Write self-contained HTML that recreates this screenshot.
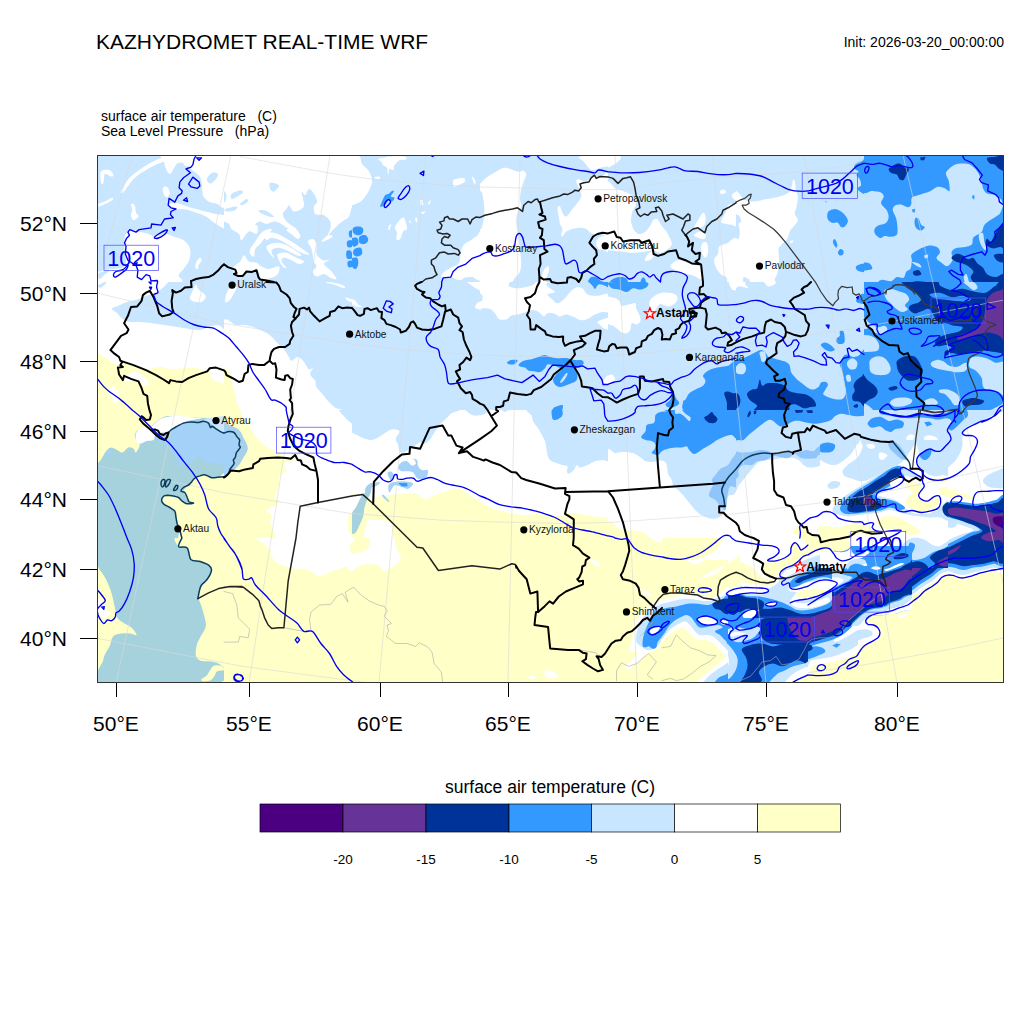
<!DOCTYPE html>
<html><head><meta charset="utf-8"><title>KAZHYDROMET REAL-TIME WRF</title>
<style>
html,body{margin:0;padding:0;background:#fff;}
body{width:1024px;height:1024px;overflow:hidden;position:relative;font-family:"Liberation Sans",sans-serif;}
svg{position:absolute;left:0;top:0;}
text{font-family:"Liberation Sans",sans-serif;}
</style></head><body>
<svg width="1024" height="1024" viewBox="0 0 1024 1024">
<defs><clipPath id="mapclip"><rect x="97" y="155" width="907" height="528"/></clipPath></defs>
<rect x="0" y="0" width="1024" height="1024" fill="#fff"/>
<g clip-path="url(#mapclip)">
<defs>
<clipPath id="t1"><rect x="96.0" y="154.0" width="128.0" height="128.0"/></clipPath>
<clipPath id="t2"><rect x="224.0" y="154.0" width="128.0" height="128.0"/></clipPath>
<clipPath id="t3"><rect x="352.0" y="154.0" width="128.0" height="128.0"/></clipPath>
<clipPath id="t4"><rect x="480.0" y="154.0" width="128.0" height="128.0"/></clipPath>
<clipPath id="t5"><rect x="608.0" y="154.0" width="128.0" height="128.0"/></clipPath>
<clipPath id="t6"><rect x="736.0" y="154.0" width="128.0" height="128.0"/></clipPath>
<clipPath id="t7"><rect x="864.0" y="154.0" width="140.0" height="140.0"/></clipPath>
<clipPath id="t8"><rect x="96.0" y="282.0" width="128.0" height="128.0"/></clipPath>
<clipPath id="t9"><rect x="224.0" y="282.0" width="128.0" height="128.0"/></clipPath>
<clipPath id="t10"><rect x="352.0" y="282.0" width="128.0" height="128.0"/></clipPath>
<clipPath id="t11"><rect x="480.0" y="282.0" width="128.0" height="128.0"/></clipPath>
<clipPath id="t12"><rect x="608.0" y="282.0" width="128.0" height="128.0"/></clipPath>
<clipPath id="t13"><rect x="736.0" y="282.0" width="128.0" height="128.0"/></clipPath>
<clipPath id="t14"><rect x="864.0" y="282.0" width="140.0" height="140.0"/></clipPath>
<clipPath id="t15"><rect x="96.0" y="410.0" width="128.0" height="128.0"/></clipPath>
<clipPath id="t16"><rect x="224.0" y="410.0" width="128.0" height="128.0"/></clipPath>
<clipPath id="t17"><rect x="352.0" y="410.0" width="128.0" height="128.0"/></clipPath>
<clipPath id="t18"><rect x="480.0" y="410.0" width="128.0" height="128.0"/></clipPath>
<clipPath id="t19"><rect x="608.0" y="410.0" width="128.0" height="128.0"/></clipPath>
<clipPath id="t20"><rect x="736.0" y="410.0" width="128.0" height="128.0"/></clipPath>
<clipPath id="t21"><rect x="864.0" y="410.0" width="140.0" height="140.0"/></clipPath>
<clipPath id="t22"><rect x="96.0" y="538.0" width="146.0" height="146.0"/></clipPath>
<clipPath id="t23"><rect x="224.0" y="538.0" width="146.0" height="146.0"/></clipPath>
<clipPath id="t24"><rect x="370.0" y="538.0" width="146.0" height="146.0"/></clipPath>
<clipPath id="t25"><rect x="516.0" y="538.0" width="146.0" height="146.0"/></clipPath>
<clipPath id="t26"><rect x="662.0" y="538.0" width="146.0" height="146.0"/></clipPath>
<clipPath id="t27"><rect x="808.0" y="538.0" width="146.0" height="146.0"/></clipPath>
<clipPath id="t28"><rect x="858.0" y="538.0" width="146.0" height="146.0"/></clipPath>
<clipPath id="t29"><rect x="600.0" y="560.0" width="128.0" height="128.0"/></clipPath>
<clipPath id="t30"><rect x="740.0" y="490.0" width="128.0" height="128.0"/></clipPath>
<clipPath id="t31"><rect x="876.0" y="490.0" width="128.0" height="128.0"/></clipPath>
<clipPath id="t32"><rect x="820.0" y="440.0" width="128.0" height="128.0"/></clipPath>
<clipPath id="t33"><rect x="832.0" y="546.0" width="80.0" height="80.0"/></clipPath>
</defs>
<g clip-path="url(#t1)">
<rect x="96.0" y="154.0" width="129.0" height="129.0" fill="#C8E6FF"/>
<path d="M164.1 151.5 C174.4 149.8 215.7 142.8 226.0 151.5 C236.3 160.2 227.7 195.4 226.0 204.0 C224.3 212.6 218.9 203.8 216.0 203.4 C213.1 203.0 210.6 202.6 208.5 201.5 C206.4 200.4 204.5 198.4 203.5 196.5 C202.5 194.6 202.7 193.2 202.2 190.2 C201.8 187.3 202.0 181.9 201.0 179.0 C200.0 176.1 197.5 174.2 196.0 172.8 C194.5 171.3 193.4 171.3 192.2 170.2 C191.1 169.2 190.3 167.2 189.1 166.5 C188.0 165.8 186.5 166.5 185.4 165.9 C184.2 165.2 183.6 163.2 182.2 162.8 C180.9 162.3 178.7 162.3 177.2 163.4 C175.8 164.4 174.8 167.2 173.5 169.0 C172.2 170.8 171.0 174.0 169.8 174.0 C168.5 174.0 166.9 171.1 166.0 169.0 C165.1 166.9 164.4 164.4 164.1 161.5 C163.8 158.6 153.8 153.2 164.1 151.5 Z" fill="#FFFFFF"/>
<path d="M207.2 177.8 C208.0 176.2 210.5 173.4 212.2 172.8 C214.0 172.1 217.2 173.0 217.9 174.0 C218.5 175.0 217.1 177.4 216.0 179.0 C214.9 180.6 212.4 182.9 211.0 183.4 C209.6 183.9 208.5 183.1 207.9 182.1 C207.2 181.2 206.5 179.3 207.2 177.8 Z" fill="#C8E6FF"/>
<path d="M121.0 191.5 C121.9 189.2 125.8 182.3 128.5 179.0 C131.2 175.7 133.9 174.0 137.2 171.5 C140.6 169.0 145.0 166.1 148.5 164.0 C152.0 161.9 155.6 160.2 158.5 159.0 C161.4 157.8 164.8 156.3 166.0 156.5 C167.2 156.7 167.9 158.8 166.0 160.2 C164.1 161.7 158.5 163.4 154.8 165.2 C151.0 167.1 147.0 169.2 143.5 171.5 C140.0 173.8 136.4 176.1 133.5 179.0 C130.6 181.9 127.8 186.7 126.0 189.0 C124.2 191.3 123.7 192.3 122.9 192.8 C122.0 193.2 120.1 193.8 121.0 191.5 Z" fill="#FFFFFF"/>
<path d="M101.0 171.5 C102.5 169.4 107.7 169.6 109.8 170.2 C111.8 170.9 113.3 174.2 113.5 175.2 C113.7 176.3 112.5 176.7 111.0 176.5 C109.5 176.3 106.0 173.0 104.8 174.0 C103.5 175.0 104.1 181.3 103.5 182.8 C102.9 184.2 101.4 184.6 101.0 182.8 C100.6 180.9 99.5 173.6 101.0 171.5 Z" fill="#FFFFFF"/>
<path d="M131.0 204.0 C131.4 203.2 133.9 203.8 134.8 205.2 C135.6 206.7 135.4 210.9 136.0 212.8 C136.6 214.6 138.9 215.2 138.5 216.5 C138.1 217.8 134.8 220.5 133.5 220.2 C132.2 220.0 131.2 216.9 131.0 215.2 C130.8 213.6 132.2 212.1 132.2 210.2 C132.2 208.4 130.6 204.8 131.0 204.0 Z" fill="#FFFFFF"/>
<path d="M162.9 187.8 C163.4 186.4 166.1 186.3 167.2 187.1 C168.4 188.0 169.6 191.1 169.8 192.8 C169.9 194.4 168.8 196.7 167.9 197.1 C166.9 197.5 165.0 196.8 164.1 195.2 C163.3 193.7 162.4 189.1 162.9 187.8 Z" fill="#FFFFFF"/>
<path d="M168.5 204.0 C170.0 203.3 174.8 202.8 178.5 203.4 C182.2 204.0 186.8 206.5 191.0 207.8 C195.2 209.0 199.3 209.8 203.5 210.9 C207.7 211.9 212.2 213.1 216.0 214.0 C219.8 214.9 224.3 214.1 226.0 216.5 C227.7 218.9 227.7 227.1 226.0 228.4 C224.3 229.6 219.3 226.0 216.0 224.0 C212.7 222.0 209.3 218.4 206.0 216.5 C202.7 214.6 199.3 213.9 196.0 212.8 C192.7 211.6 189.3 210.2 186.0 209.6 C182.7 209.0 178.7 209.3 176.0 209.0 C173.3 208.7 171.0 208.6 169.8 207.8 C168.5 206.9 167.0 204.7 168.5 204.0 Z" fill="#FFFFFF"/>
<path d="M125.4 235.2 C126.3 233.0 127.6 230.9 129.8 230.2 C131.9 229.6 135.4 230.9 138.5 231.5 C141.6 232.1 145.8 233.2 148.5 234.0 C151.2 234.8 151.8 236.5 154.8 236.5 C157.7 236.5 162.9 234.0 166.0 234.0 C169.1 234.0 170.6 235.5 173.5 236.5 C176.4 237.5 180.9 238.6 183.5 240.2 C186.1 241.9 188.0 244.2 189.1 246.5 C190.3 248.8 190.5 251.5 190.4 254.0 C190.3 256.5 189.6 259.0 188.5 261.5 C187.4 264.0 185.2 266.7 183.5 269.0 C181.8 271.3 179.8 272.8 178.5 275.2 C177.2 277.8 190.2 282.5 176.0 284.0 C161.8 285.5 107.2 285.7 93.5 284.0 C79.8 282.3 91.8 276.3 93.5 274.0 C95.2 271.7 100.4 271.1 103.5 270.2 C106.6 269.4 108.7 269.6 112.2 269.0 C115.8 268.4 122.6 269.0 124.8 266.5 C126.9 264.0 125.5 257.8 125.4 254.0 C125.3 250.2 124.1 247.1 124.1 244.0 C124.1 240.9 124.4 237.5 125.4 235.2 Z" fill="#FFFFFF"/>
<path d="M196.0 262.8 C196.7 261.1 198.8 258.2 199.8 257.8 C200.7 257.3 201.8 259.0 201.6 260.2 C201.4 261.5 199.1 263.8 198.5 265.2 C197.9 266.7 198.4 268.6 197.9 269.0 C197.4 269.4 195.7 268.8 195.4 267.8 C195.1 266.7 195.3 264.4 196.0 262.8 Z" fill="#FFFFFF"/>
<path d="M98.5 204.0 C99.9 203.0 105.0 201.3 107.2 200.2 C109.5 199.2 111.3 197.9 112.2 197.8 C113.2 197.6 113.6 198.8 112.9 199.6 C112.1 200.5 110.2 201.6 107.9 202.8 C105.6 203.9 100.7 206.3 99.1 206.5 C97.6 206.7 97.1 205.0 98.5 204.0 Z" fill="#FFFFFF"/>
<path d="M98.5 274.0 C99.1 272.8 101.6 272.1 103.5 271.5 C105.4 270.9 109.5 269.7 109.8 270.2 C110.0 270.8 106.4 273.2 104.8 274.6 C103.1 276.1 100.8 279.1 99.8 279.0 C98.7 278.9 97.9 275.2 98.5 274.0 Z" fill="#C8E6FF"/>
</g>
<g clip-path="url(#t2)">
<rect x="224.0" y="154.0" width="129.0" height="129.0" fill="#FFFFFF"/>
<path d="M221.5 220.2 C221.9 209.8 222.8 220.9 224.0 221.5 C225.2 222.1 227.8 222.8 229.0 224.0 C230.2 225.2 229.8 227.3 231.5 229.0 C233.2 230.7 237.3 232.1 239.0 234.0 C240.7 235.9 239.8 240.7 241.5 240.2 C243.2 239.8 246.5 232.5 249.0 231.5 C251.5 230.5 255.0 234.8 256.5 234.0 C258.0 233.2 258.0 228.2 257.8 226.5 C257.5 224.8 254.8 224.8 255.2 224.0 C255.7 223.2 258.4 221.5 260.2 221.5 C262.1 221.5 264.2 224.0 266.5 224.0 C268.8 224.0 271.5 221.5 274.0 221.5 C276.5 221.5 279.0 222.8 281.5 224.0 C284.0 225.2 286.5 228.2 289.0 229.0 C291.5 229.8 296.9 230.2 296.5 229.0 C296.1 227.8 288.8 224.0 286.5 221.5 C284.2 219.0 282.8 216.1 282.8 214.0 C282.8 211.9 285.5 210.5 286.5 209.0 C287.5 207.5 287.8 204.8 289.0 205.2 C290.2 205.7 291.9 210.9 294.0 211.5 C296.1 212.1 299.8 210.2 301.5 209.0 C303.2 207.8 304.0 206.9 304.0 204.0 C304.0 201.1 301.3 193.0 301.5 191.5 C301.7 190.0 304.0 195.7 305.2 195.2 C306.5 194.8 307.5 189.2 309.0 189.0 C310.5 188.8 312.6 191.9 314.0 194.0 C315.4 196.1 317.1 199.4 317.1 201.5 C317.1 203.6 314.3 204.4 314.0 206.5 C313.7 208.6 313.6 212.5 315.2 214.0 C316.9 215.5 321.5 214.0 324.0 215.2 C326.5 216.5 329.2 219.2 330.2 221.5 C331.3 223.8 330.7 226.7 330.2 229.0 C329.8 231.3 327.3 235.0 327.8 235.2 C328.2 235.5 330.9 232.1 332.8 230.2 C334.6 228.4 337.1 225.7 339.0 224.0 C340.9 222.3 342.3 221.5 344.0 220.2 C345.7 219.0 347.7 218.8 349.0 216.5 C350.3 214.2 351.2 208.2 352.0 206.5 C352.8 204.8 353.7 193.6 354.0 206.5 C354.3 219.4 376.1 271.1 354.0 284.0 C331.9 296.9 243.6 294.6 221.5 284.0 C199.4 273.4 221.1 230.7 221.5 220.2 Z" fill="#C8E6FF"/>
<path d="M234.0 266.5 C235.0 264.4 238.6 263.4 240.2 261.5 C241.9 259.6 242.5 255.2 244.0 255.2 C245.5 255.2 246.9 260.2 249.0 261.5 C251.1 262.8 254.4 261.9 256.5 262.8 C258.6 263.6 259.4 265.5 261.5 266.5 C263.6 267.5 266.1 269.0 269.0 269.0 C271.9 269.0 277.5 265.7 279.0 266.5 C280.5 267.3 279.0 272.1 277.8 274.0 C276.5 275.9 274.2 276.9 271.5 277.8 C268.8 278.6 263.8 280.2 261.5 279.0 C259.2 277.8 260.2 271.5 257.8 270.2 C255.2 269.0 249.2 270.4 246.5 271.5 C243.8 272.6 243.6 276.7 241.5 277.1 C239.4 277.5 235.2 275.8 234.0 274.0 C232.8 272.2 233.0 268.6 234.0 266.5 Z" fill="#FFFFFF"/>
<path d="M250.2 249.0 C251.1 246.9 253.6 244.0 255.2 241.5 C256.9 239.0 258.6 235.9 260.2 234.0 C261.9 232.1 263.4 231.1 265.2 230.2 C267.1 229.4 270.9 228.4 271.5 229.0 C272.1 229.6 270.2 232.3 269.0 234.0 C267.8 235.7 265.5 237.3 264.0 239.0 C262.5 240.7 261.7 242.3 260.2 244.0 C258.8 245.7 256.3 246.9 255.2 249.0 C254.2 251.1 254.8 255.7 254.0 256.5 C253.2 257.3 250.9 255.2 250.2 254.0 C249.6 252.8 249.4 251.1 250.2 249.0 Z" fill="#FFFFFF"/>
<path d="M265.2 234.0 C266.5 232.8 271.1 232.3 274.0 232.8 C276.9 233.2 279.8 235.0 282.8 236.5 C285.7 238.0 288.8 239.8 291.5 241.5 C294.2 243.2 296.1 244.4 299.0 246.5 C301.9 248.6 308.0 252.8 309.0 254.0 C310.0 255.2 307.3 254.6 305.2 254.0 C303.2 253.4 299.2 251.7 296.5 250.2 C293.8 248.8 291.7 246.9 289.0 245.2 C286.3 243.6 283.2 241.5 280.2 240.2 C277.3 239.0 273.8 237.8 271.5 237.8 C269.2 237.8 267.5 240.9 266.5 240.2 C265.5 239.6 264.0 235.2 265.2 234.0 Z" fill="#FFFFFF"/>
<path d="M266.5 246.5 C267.5 244.6 273.2 243.0 276.5 242.8 C279.8 242.5 283.4 244.0 286.5 245.2 C289.6 246.5 292.8 248.6 295.2 250.2 C297.8 251.9 301.3 254.4 301.5 255.2 C301.7 256.1 298.6 255.9 296.5 255.2 C294.4 254.6 291.9 252.8 289.0 251.5 C286.1 250.2 281.9 248.0 279.0 247.8 C276.1 247.5 272.3 248.6 271.5 250.2 C270.7 251.9 274.2 257.1 274.0 257.8 C273.8 258.4 271.5 255.9 270.2 254.0 C269.0 252.1 265.5 248.4 266.5 246.5 Z" fill="#FFFFFF"/>
<path d="M277.8 254.0 C279.0 252.8 283.4 252.1 286.5 252.8 C289.6 253.4 293.6 256.3 296.5 257.8 C299.4 259.2 303.6 260.5 304.0 261.5 C304.4 262.5 301.1 264.2 299.0 264.0 C296.9 263.8 294.0 261.3 291.5 260.2 C289.0 259.2 285.7 257.5 284.0 257.8 C282.3 258.0 281.1 259.8 281.5 261.5 C281.9 263.2 286.3 266.9 286.5 267.8 C286.7 268.6 284.0 267.8 282.8 266.5 C281.5 265.2 279.8 262.3 279.0 260.2 C278.2 258.2 276.5 255.2 277.8 254.0 Z" fill="#FFFFFF"/>
<path d="M294.0 227.8 C296.3 228.6 299.6 233.4 300.2 235.2 C300.9 237.1 299.2 239.2 297.8 239.0 C296.3 238.8 293.4 235.5 291.5 234.0 C289.6 232.5 286.1 231.3 286.5 230.2 C286.9 229.2 291.7 226.9 294.0 227.8 Z" fill="#FFFFFF"/>
<path d="M307.8 241.5 C308.0 239.8 311.3 238.6 312.8 239.0 C314.2 239.4 315.9 241.5 316.5 244.0 C317.1 246.5 315.5 251.3 316.5 254.0 C317.5 256.7 320.7 259.2 322.8 260.2 C324.8 261.3 328.8 259.6 329.0 260.2 C329.2 260.9 323.6 262.1 324.0 264.0 C324.4 265.9 329.4 269.0 331.5 271.5 C333.6 274.0 336.7 278.0 336.5 279.0 C336.3 280.0 332.3 278.6 330.2 277.8 C328.2 276.9 326.3 274.2 324.0 274.0 C321.7 273.8 318.4 276.9 316.5 276.5 C314.6 276.1 312.8 273.2 312.8 271.5 C312.8 269.8 316.3 268.2 316.5 266.5 C316.7 264.8 314.8 264.4 314.0 261.5 C313.2 258.6 312.5 252.3 311.5 249.0 C310.5 245.7 307.5 243.2 307.8 241.5 Z" fill="#FFFFFF"/>
<path d="M321.5 241.5 C321.7 240.7 325.9 236.1 327.8 235.2 C329.6 234.4 333.0 235.7 332.8 236.5 C332.5 237.3 328.4 239.4 326.5 240.2 C324.6 241.1 321.3 242.3 321.5 241.5 Z" fill="#FFFFFF"/>
<path d="M270.2 182.8 C271.7 182.1 278.4 183.8 279.0 185.2 C279.6 186.7 275.5 190.9 274.0 191.5 C272.5 192.1 270.9 190.5 270.2 189.0 C269.6 187.5 268.8 183.4 270.2 182.8 Z" fill="#C8E6FF"/>
<path d="M231.5 194.0 C233.0 192.5 238.4 190.5 240.2 190.2 C242.1 190.0 243.6 191.5 242.8 192.8 C241.9 194.0 237.1 196.7 235.2 197.8 C233.4 198.8 232.1 199.6 231.5 199.0 C230.9 198.4 230.0 195.5 231.5 194.0 Z" fill="#C8E6FF"/>
<path d="M225.2 209.0 C226.9 208.2 234.8 206.3 236.5 206.5 C238.2 206.7 236.9 209.4 235.2 210.2 C233.6 211.1 228.2 211.7 226.5 211.5 C224.8 211.3 223.6 209.8 225.2 209.0 Z" fill="#C8E6FF"/>
<path d="M259.0 210.2 C260.0 209.9 264.0 209.8 266.5 210.9 C269.0 211.9 273.6 215.6 274.0 216.5 C274.4 217.4 271.3 217.1 269.0 216.5 C266.7 215.9 261.9 213.8 260.2 212.8 C258.6 211.7 258.0 210.6 259.0 210.2 Z" fill="#C8E6FF"/>
<path d="M240.2 204.0 C240.9 203.0 245.2 199.4 246.5 199.0 C247.8 198.6 248.4 200.5 247.8 201.5 C247.1 202.5 244.0 204.8 242.8 205.2 C241.5 205.7 239.6 205.0 240.2 204.0 Z" fill="#C8E6FF"/>
<path d="M224.0 191.5 C224.6 190.5 226.3 193.6 226.5 195.2 C226.7 196.9 225.9 200.5 225.2 201.5 C224.6 202.5 223.0 203.2 222.8 201.5 C222.5 199.8 223.4 192.5 224.0 191.5 Z" fill="#C8E6FF"/>
<path d="M347.1 241.5 C347.8 240.4 350.6 239.4 351.5 240.2 C352.4 241.1 353.4 245.4 352.8 246.5 C352.1 247.6 348.7 248.0 347.8 247.1 C346.8 246.3 346.5 242.6 347.1 241.5 Z" fill="#3399FF"/>
<path d="M346.5 251.5 C347.1 250.2 349.8 249.8 350.9 250.9 C351.9 251.9 353.4 256.5 352.8 257.8 C352.1 259.0 348.2 259.4 347.1 258.4 C346.1 257.3 345.9 252.8 346.5 251.5 Z" fill="#3399FF"/>
<path d="M347.8 261.5 C348.5 260.5 351.9 260.0 352.8 260.9 C353.6 261.7 353.5 265.5 352.8 266.5 C352.0 267.5 349.2 268.0 348.4 267.1 C347.5 266.3 347.0 262.5 347.8 261.5 Z" fill="#3399FF"/>
<path d="M349.0 231.5 C349.5 230.4 352.1 229.4 352.8 230.2 C353.4 231.1 353.3 235.4 352.8 236.5 C352.2 237.6 350.2 238.0 349.6 237.1 C349.0 236.3 348.5 232.6 349.0 231.5 Z" fill="#3399FF"/>
</g>
<g clip-path="url(#t3)">
<rect x="352.0" y="154.0" width="129.0" height="129.0" fill="#C8E6FF"/>
<path d="M349.5 155.2 C351.2 147.1 357.4 155.0 359.5 156.5 C361.6 158.0 360.5 161.7 362.0 164.0 C363.5 166.3 366.6 167.8 368.2 170.2 C369.9 172.8 371.6 176.3 372.0 179.0 C372.4 181.7 371.6 184.0 370.8 186.5 C369.9 189.0 368.7 191.5 367.0 194.0 C365.3 196.5 363.2 199.6 360.8 201.5 C358.2 203.4 353.9 204.6 352.0 205.2 C350.1 205.9 349.9 213.6 349.5 205.2 C349.1 196.9 347.8 163.4 349.5 155.2 Z" fill="#FFFFFF"/>
<path d="M378.2 159.0 C378.9 158.4 382.6 158.2 384.5 157.8 C386.4 157.3 386.2 156.7 389.5 156.5 C392.8 156.3 401.8 156.0 404.5 156.5 C407.2 157.0 406.6 159.0 405.8 159.6 C404.9 160.2 401.4 159.3 399.5 160.2 C397.6 161.2 395.5 163.6 394.5 165.2 C393.5 166.9 394.1 169.6 393.2 170.2 C392.4 170.9 390.3 168.2 389.5 169.0 C388.7 169.8 388.7 175.5 388.2 175.2 C387.8 175.0 387.8 169.4 387.0 167.8 C386.2 166.1 384.3 166.3 383.2 165.2 C382.2 164.2 381.6 162.5 380.8 161.5 C379.9 160.5 377.6 159.6 378.2 159.0 Z" fill="#FFFFFF"/>
<path d="M374.5 177.1 C375.0 176.7 377.9 176.2 378.9 176.5 C379.8 176.8 380.6 178.6 380.1 179.0 C379.6 179.4 376.7 179.3 375.8 179.0 C374.8 178.7 374.0 177.5 374.5 177.1 Z" fill="#FFFFFF"/>
<path d="M453.2 180.2 C454.0 178.9 456.4 178.7 458.2 178.4 C460.1 178.1 463.5 177.8 464.5 178.4 C465.5 179.0 465.5 181.0 464.5 182.1 C463.5 183.3 460.0 184.5 458.2 185.2 C456.5 186.0 454.7 187.3 453.9 186.5 C453.0 185.7 452.5 181.6 453.2 180.2 Z" fill="#FFFFFF"/>
<path d="M472.0 176.5 C472.3 176.3 474.6 178.8 475.1 180.2 C475.6 181.7 475.4 185.0 475.1 185.2 C474.8 185.5 473.8 183.0 473.2 181.5 C472.7 180.0 471.7 176.7 472.0 176.5 Z" fill="#FFFFFF"/>
<path d="M395.8 225.2 C396.7 223.6 399.4 220.2 400.8 219.0 C402.1 217.8 403.0 217.1 403.9 217.8 C404.7 218.4 405.2 220.9 405.8 222.8 C406.3 224.6 407.4 227.5 407.0 229.0 C406.6 230.5 404.4 229.8 403.2 231.5 C402.1 233.2 401.3 237.6 400.1 239.0 C399.0 240.4 396.9 240.7 396.4 239.6 C395.9 238.6 397.2 234.5 397.0 232.8 C396.8 231.0 395.3 230.2 395.1 229.0 C394.9 227.8 394.8 226.9 395.8 225.2 Z" fill="#FFFFFF"/>
<path d="M420.1 200.2 L422.6 199.6 L423.2 205.2 L420.8 205.2 Z" fill="#FFFFFF"/>
<path d="M427.6 203.4 L430.8 199.6 L430.1 203.4 L428.2 204.6 Z" fill="#FFFFFF"/>
<path d="M420.8 212.1 L425.8 211.5 L423.9 213.8 L421.4 214.0 Z" fill="#FFFFFF"/>
<path d="M415.1 217.8 L417.0 217.8 L417.6 222.1 L415.8 222.5 Z" fill="#FFFFFF"/>
<path d="M408.9 220.2 L411.4 222.1 L410.8 223.4 L408.9 221.5 Z" fill="#FFFFFF"/>
<path d="M388.9 225.2 L391.4 224.0 L389.5 230.2 L388.2 229.6 Z" fill="#FFFFFF"/>
<path d="M482.0 232.8 C481.2 225.8 478.9 234.6 477.0 235.9 C475.1 237.1 472.8 238.9 470.8 240.2 C468.7 241.6 466.1 242.4 464.5 244.0 C462.9 245.6 462.1 247.3 461.4 249.6 C460.6 251.9 460.6 255.4 460.1 257.8 C459.6 260.1 460.0 262.2 458.2 264.0 C456.5 265.8 452.0 266.9 449.5 268.4 C447.0 269.8 444.6 271.3 443.2 272.8 C441.9 274.2 441.2 276.3 441.4 277.1 C441.6 278.0 442.9 277.8 444.5 277.8 C446.1 277.8 448.9 276.9 450.8 277.1 C452.6 277.3 454.1 278.5 455.8 279.0 C457.4 279.5 459.3 280.5 460.8 280.2 C462.2 280.0 462.6 278.3 464.5 277.8 C466.4 277.2 469.1 277.1 472.0 277.1 C474.9 277.1 480.3 285.1 482.0 277.8 C483.7 270.4 482.8 239.7 482.0 232.8 Z" fill="#FFFFFF"/>
<path d="M353.2 227.8 C354.3 226.7 357.8 226.3 359.5 226.5 C361.2 226.7 362.8 227.8 363.2 229.0 C363.7 230.2 363.0 233.0 362.0 234.0 C361.0 235.0 358.5 235.5 357.0 235.2 C355.5 235.0 353.9 234.0 353.2 232.8 C352.6 231.5 352.2 228.8 353.2 227.8 Z" fill="#3399FF"/>
<path d="M359.5 236.5 C360.5 235.2 364.3 234.6 365.8 235.2 C367.2 235.9 368.5 238.8 368.2 240.2 C368.0 241.7 366.0 243.6 364.5 244.0 C363.0 244.4 360.3 244.0 359.5 242.8 C358.7 241.5 358.5 237.8 359.5 236.5 Z" fill="#3399FF"/>
<path d="M350.8 239.0 C351.4 237.5 355.8 236.9 357.0 237.8 C358.2 238.6 358.9 242.5 358.2 244.0 C357.6 245.5 354.5 247.3 353.2 246.5 C352.0 245.7 350.1 240.5 350.8 239.0 Z" fill="#3399FF"/>
<path d="M354.5 249.0 C355.8 248.0 359.5 246.9 360.8 247.8 C362.0 248.6 362.6 252.5 362.0 254.0 C361.4 255.5 358.5 256.5 357.0 256.5 C355.5 256.5 353.7 255.2 353.2 254.0 C352.8 252.8 353.2 250.0 354.5 249.0 Z" fill="#3399FF"/>
<path d="M350.8 259.0 C351.6 257.5 355.8 256.9 357.0 257.8 C358.2 258.6 358.5 262.1 358.2 264.0 C358.0 265.9 356.8 268.6 355.8 269.0 C354.7 269.4 352.8 268.2 352.0 266.5 C351.2 264.8 349.9 260.5 350.8 259.0 Z" fill="#3399FF"/>
<path d="M380.1 206.5 C380.1 205.7 381.2 203.4 382.0 201.5 C382.8 199.6 384.1 196.5 385.1 195.2 C386.2 194.0 387.1 194.7 388.2 194.0 C389.4 193.3 391.1 191.3 392.0 190.9 C392.9 190.5 394.1 190.6 393.9 191.5 C393.7 192.4 390.6 195.5 390.8 196.5 C390.9 197.5 394.3 196.9 394.5 197.8 C394.7 198.6 393.0 201.1 392.0 201.5 C391.0 201.9 389.3 199.8 388.2 200.2 C387.2 200.7 386.8 203.0 385.8 204.0 C384.7 205.0 382.9 206.1 382.0 206.5 C381.1 206.9 380.1 207.3 380.1 206.5 Z" fill="#3399FF"/>
</g>
<g clip-path="url(#t4)">
<rect x="480.0" y="154.0" width="129.0" height="129.0" fill="#C8E6FF"/>
<path d="M477.5 185.2 C477.9 184.2 478.5 185.2 480.0 184.0 C481.5 182.8 483.5 179.8 486.2 177.8 C489.0 175.7 493.1 173.2 496.2 171.5 C499.4 169.8 501.5 167.8 505.0 167.8 C508.5 167.8 514.4 171.0 517.5 171.5 C520.6 172.0 522.3 170.4 523.8 170.9 C525.2 171.4 526.2 172.9 526.2 174.6 C526.2 176.4 524.6 179.1 523.8 181.5 C522.9 183.9 521.9 186.1 521.2 189.0 C520.6 191.9 520.0 196.1 520.0 199.0 C520.0 201.9 521.7 204.2 521.2 206.5 C520.8 208.8 518.3 210.2 517.5 212.8 C516.7 215.2 516.2 218.4 516.2 221.5 C516.2 224.6 517.1 228.2 517.5 231.5 C517.9 234.8 518.3 238.2 518.8 241.5 C519.2 244.8 519.6 248.2 520.0 251.5 C520.4 254.8 521.2 258.2 521.2 261.5 C521.2 264.8 521.0 268.8 520.0 271.5 C519.0 274.2 517.1 275.7 515.0 277.8 C512.9 279.8 513.8 283.0 507.5 284.0 C501.2 285.0 482.5 292.8 477.5 284.0 C472.5 275.2 476.9 240.7 477.5 231.5 C478.1 222.3 480.2 231.1 481.2 229.0 C482.3 226.9 483.2 222.1 483.8 219.0 C484.3 215.9 484.5 213.8 484.4 210.2 C484.3 206.7 483.6 200.9 483.1 197.8 C482.6 194.6 482.2 192.8 481.2 191.5 C480.3 190.2 478.1 191.3 477.5 190.2 C476.9 189.2 477.1 186.3 477.5 185.2 Z" fill="#FFFFFF"/>
<path d="M557.5 207.8 C557.7 206.1 559.2 205.7 560.0 206.5 C560.8 207.3 561.5 211.1 562.5 212.8 C563.5 214.4 564.6 217.1 566.2 216.5 C567.9 215.9 570.6 211.3 572.5 209.0 C574.4 206.7 576.0 204.8 577.5 202.8 C579.0 200.7 580.8 198.6 581.2 196.5 C581.7 194.4 580.8 192.8 580.0 190.2 C579.2 187.8 576.5 183.4 576.2 181.5 C576.0 179.6 577.5 179.0 578.8 179.0 C580.0 179.0 581.9 181.5 583.8 181.5 C585.6 181.5 588.1 179.8 590.0 179.0 C591.9 178.2 593.3 176.7 595.0 176.5 C596.7 176.3 597.5 177.8 600.0 177.8 C602.5 177.8 608.3 167.1 610.0 176.5 C611.7 185.9 611.7 224.6 610.0 234.0 C608.3 243.4 602.9 232.8 600.0 232.8 C597.1 232.8 594.8 234.6 592.5 234.0 C590.2 233.4 588.3 230.0 586.2 229.0 C584.2 228.0 582.3 227.8 580.0 227.8 C577.7 227.8 574.8 228.4 572.5 229.0 C570.2 229.6 567.9 230.2 566.2 231.5 C564.6 232.8 563.3 236.1 562.5 236.5 C561.7 236.9 561.2 235.2 561.2 234.0 C561.2 232.8 562.7 230.7 562.5 229.0 C562.3 227.3 560.6 226.1 560.0 224.0 C559.4 221.9 559.2 219.2 558.8 216.5 C558.3 213.8 557.3 209.4 557.5 207.8 Z" fill="#FFFFFF"/>
<path d="M580.0 156.5 C584.4 155.7 605.0 155.0 610.0 156.5 C615.0 158.0 611.7 163.4 610.0 165.2 C608.3 167.1 602.9 166.9 600.0 167.8 C597.1 168.6 594.6 170.5 592.5 170.2 C590.4 170.0 589.0 168.0 587.5 166.5 C586.0 165.0 585.0 163.2 583.8 161.5 C582.5 159.8 575.6 157.3 580.0 156.5 Z" fill="#FFFFFF"/>
<path d="M541.2 279.0 C541.7 276.9 542.6 272.4 543.8 270.2 C544.9 268.1 547.3 265.7 548.1 265.9 C549.0 266.1 549.1 269.5 548.8 271.5 C548.4 273.5 546.9 275.9 546.2 277.8 C545.6 279.6 545.8 281.9 545.0 282.8 C544.2 283.6 541.9 283.4 541.2 282.8 C540.6 282.1 540.8 281.1 541.2 279.0 Z" fill="#FFFFFF"/>
<path d="M596.2 244.0 C596.2 242.1 597.3 239.1 598.8 237.8 C600.2 236.4 603.1 236.3 605.0 235.9 C606.9 235.5 609.2 232.6 610.0 235.2 C610.8 237.9 611.0 249.0 610.0 251.5 C609.0 254.0 605.6 250.7 603.8 250.2 C601.9 249.8 600.0 250.0 598.8 249.0 C597.5 248.0 596.2 245.9 596.2 244.0 Z" fill="#FFFFFF"/>
<path d="M588.8 282.8 C586.7 281.8 589.8 278.0 591.2 277.1 C592.7 276.3 596.0 277.2 597.5 277.8 C599.0 278.3 599.0 279.4 600.0 280.2 C601.0 281.1 605.6 282.3 603.8 282.8 C601.9 283.2 590.8 283.7 588.8 282.8 Z" fill="#3399FF"/>
</g>
<g clip-path="url(#t5)">
<rect x="608.0" y="154.0" width="129.0" height="129.0" fill="#C8E6FF"/>
<path d="M605.5 155.2 C608.0 153.4 618.6 155.2 620.5 156.5 C622.4 157.8 618.8 160.9 616.8 162.8 C614.7 164.6 609.9 166.9 608.0 167.8 C606.1 168.6 605.9 169.8 605.5 167.8 C605.1 165.7 603.0 157.1 605.5 155.2 Z" fill="#FFFFFF"/>
<path d="M605.5 185.2 C607.2 174.9 612.4 187.3 615.5 188.4 C618.6 189.4 621.3 190.1 624.2 191.5 C627.2 192.9 631.0 194.4 633.0 196.5 C635.0 198.6 636.2 201.5 636.1 204.0 C636.0 206.5 633.2 208.6 632.4 211.5 C631.5 214.4 630.8 218.4 631.1 221.5 C631.4 224.6 632.9 228.2 634.2 230.2 C635.6 232.3 637.4 233.8 639.2 234.0 C641.1 234.2 643.6 233.0 645.5 231.5 C647.4 230.0 649.2 227.1 650.5 225.2 C651.8 223.4 651.9 221.3 653.0 220.2 C654.1 219.2 656.0 218.2 657.4 219.0 C658.7 219.8 659.8 223.4 661.1 225.2 C662.5 227.1 664.1 228.4 665.5 230.2 C666.9 232.1 668.2 234.2 669.2 236.5 C670.3 238.8 672.0 241.9 671.8 244.0 C671.5 246.1 669.9 247.5 668.0 249.0 C666.1 250.5 663.0 252.5 660.5 252.8 C658.0 253.0 655.5 250.5 653.0 250.2 C650.5 250.0 648.8 251.1 645.5 251.5 C642.2 251.9 637.2 252.8 633.0 252.8 C628.8 252.8 624.7 251.9 620.5 251.5 C616.3 251.1 610.5 250.5 608.0 250.2 C605.5 250.0 605.9 261.1 605.5 250.2 C605.1 239.4 603.8 195.6 605.5 185.2 Z" fill="#FFFFFF"/>
<path d="M644.9 260.2 C644.7 259.2 646.8 255.4 648.0 254.0 C649.2 252.6 651.4 251.7 652.4 252.1 C653.3 252.5 654.1 255.1 653.6 256.5 C653.1 257.9 650.7 259.6 649.2 260.2 C647.8 260.9 645.1 261.3 644.9 260.2 Z" fill="#FFFFFF"/>
<path d="M670.5 265.2 C671.3 263.8 675.1 260.7 678.0 260.2 C680.9 259.8 685.1 261.9 688.0 262.8 C690.9 263.6 693.3 264.6 695.5 265.2 C697.7 265.9 700.1 264.2 701.1 266.5 C702.2 268.8 702.9 277.4 701.8 279.0 C700.6 280.6 697.4 276.9 694.2 275.9 C691.1 274.8 686.5 273.9 683.0 272.8 C679.5 271.6 675.1 270.2 673.0 269.0 C670.9 267.8 669.7 266.7 670.5 265.2 Z" fill="#FFFFFF"/>
<path d="M694.2 235.2 C694.5 234.2 697.4 231.7 699.2 231.5 C701.1 231.3 704.7 232.8 705.5 234.0 C706.3 235.2 705.5 238.4 704.2 239.0 C703.0 239.6 699.7 238.4 698.0 237.8 C696.3 237.1 694.0 236.3 694.2 235.2 Z" fill="#FFFFFF"/>
<path d="M701.1 246.5 C701.4 244.5 703.2 242.5 704.2 242.1 C705.3 241.7 706.8 242.2 707.4 244.0 C708.0 245.8 708.3 250.5 708.0 252.8 C707.7 255.0 706.4 257.5 705.5 257.8 C704.6 258.0 703.1 255.9 702.4 254.0 C701.6 252.1 700.8 248.5 701.1 246.5 Z" fill="#FFFFFF"/>
<path d="M718.0 254.0 C718.8 251.9 717.8 248.3 719.2 246.5 C720.7 244.7 723.6 244.4 726.8 243.4 C729.9 242.3 736.1 233.5 738.0 240.2 C739.9 247.0 739.7 276.7 738.0 284.0 C736.3 291.3 729.9 285.0 728.0 284.0 C726.1 283.0 728.0 279.4 726.8 277.8 C725.5 276.1 722.4 275.9 720.5 274.0 C718.6 272.1 716.5 269.0 715.5 266.5 C714.5 264.0 713.8 261.1 714.2 259.0 C714.7 256.9 717.2 256.1 718.0 254.0 Z" fill="#FFFFFF"/>
<path d="M694.2 227.8 C693.8 226.5 696.5 222.8 698.0 220.2 C699.5 217.8 701.8 213.4 703.0 212.8 C704.2 212.1 705.2 214.6 705.5 216.5 C705.8 218.4 705.7 222.1 704.9 224.0 C704.0 225.9 702.3 227.1 700.5 227.8 C698.7 228.4 694.7 229.0 694.2 227.8 Z" fill="#FFFFFF"/>
<path d="M721.1 221.5 C721.3 219.7 724.4 215.5 725.5 212.8 C726.6 210.0 726.8 206.7 728.0 205.2 C729.2 203.8 731.3 203.8 733.0 204.0 C734.7 204.2 737.2 203.0 738.0 206.5 C738.8 210.0 739.2 222.2 738.0 225.2 C736.8 228.3 732.8 224.9 730.5 224.6 C728.2 224.3 725.8 223.9 724.2 223.4 C722.7 222.9 720.9 223.3 721.1 221.5 Z" fill="#FFFFFF"/>
<path d="M731.8 195.2 C731.8 194.1 733.2 193.4 734.2 192.8 C735.3 192.1 737.4 190.2 738.0 191.5 C738.6 192.8 738.6 198.9 738.0 200.2 C737.4 201.6 735.3 200.5 734.2 199.6 C733.2 198.8 731.8 196.4 731.8 195.2 Z" fill="#FFFFFF"/>
<path d="M719.9 191.5 C720.3 190.9 722.0 189.6 723.0 189.6 C724.0 189.6 726.0 190.8 726.1 191.5 C726.2 192.2 724.6 193.7 723.6 194.0 C722.7 194.3 721.1 193.8 720.5 193.4 C719.9 193.0 719.5 192.1 719.9 191.5 Z" fill="#FFFFFF"/>
<path d="M610.5 282.8 C608.2 282.1 611.5 279.9 613.0 279.0 C614.5 278.1 617.2 277.3 619.2 277.1 C621.3 276.9 624.2 276.8 625.5 277.8 C626.8 278.7 629.2 281.9 626.8 282.8 C624.2 283.6 612.8 283.4 610.5 282.8 Z" fill="#3399FF"/>
<path d="M640.5 282.8 C640.0 281.9 641.6 278.5 642.4 277.8 C643.1 277.0 644.4 277.5 644.9 278.4 C645.4 279.2 646.2 282.0 645.5 282.8 C644.8 283.5 641.0 283.6 640.5 282.8 Z" fill="#3399FF"/>
</g>
<g clip-path="url(#t6)">
<rect x="736.0" y="154.0" width="129.0" height="129.0" fill="#C8E6FF"/>
<path d="M733.5 191.5 C734.3 188.0 736.8 191.5 738.5 192.8 C740.2 194.0 741.2 197.5 743.5 199.0 C745.8 200.5 748.3 201.5 752.2 201.5 C756.2 201.5 762.7 199.8 767.2 199.0 C771.8 198.2 776.2 197.5 779.8 196.5 C783.3 195.5 786.5 194.4 788.5 192.8 C790.5 191.1 790.9 188.6 791.6 186.5 C792.4 184.4 792.4 181.2 792.9 180.2 C793.4 179.3 794.2 179.2 794.8 180.9 C795.3 182.5 795.5 187.6 796.0 190.2 C796.5 192.9 797.8 193.8 797.9 196.5 C798.0 199.2 797.1 203.6 796.6 206.5 C796.1 209.4 794.5 211.7 794.8 214.0 C795.0 216.3 798.1 218.2 797.9 220.2 C797.7 222.3 794.9 224.6 793.5 226.5 C792.1 228.4 790.8 229.4 789.8 231.5 C788.7 233.6 788.5 236.9 787.2 239.0 C786.0 241.1 783.7 242.3 782.2 244.0 C780.8 245.7 779.0 246.7 778.5 249.0 C778.0 251.3 779.1 254.8 779.1 257.8 C779.1 260.7 778.8 263.8 778.5 266.5 C778.2 269.2 777.9 271.9 777.2 274.0 C776.6 276.1 775.4 277.3 774.8 279.0 C774.1 280.7 777.0 283.2 773.5 284.0 C770.0 284.8 757.7 284.8 753.5 284.0 C749.3 283.2 750.2 280.1 748.5 279.0 C746.8 277.9 744.5 276.3 743.5 277.1 C742.5 278.0 743.9 282.9 742.2 284.0 C740.6 285.1 735.0 291.3 733.5 284.0 C732.0 276.7 732.7 247.8 733.5 240.2 C734.3 232.8 737.5 240.5 738.5 239.0 C739.5 237.5 739.8 234.0 739.8 231.5 C739.8 229.0 738.3 225.7 738.5 224.0 C738.7 222.3 740.8 222.8 741.0 221.5 C741.2 220.2 740.6 217.8 739.8 216.5 C738.9 215.2 737.0 214.4 736.0 214.0 C735.0 213.6 733.9 217.8 733.5 214.0 C733.1 210.2 732.7 195.0 733.5 191.5 Z" fill="#FFFFFF"/>
<path d="M789.8 240.9 L792.9 240.2 L792.9 242.8 L790.4 243.0 Z" fill="#FFFFFF"/>
<path d="M827.2 216.5 C827.2 215.0 827.2 212.8 828.5 211.5 C829.8 210.2 832.7 209.0 834.8 209.0 C836.8 209.0 839.1 210.2 841.0 211.5 C842.9 212.8 844.9 214.8 846.0 216.5 C847.1 218.2 848.1 219.8 847.9 221.5 C847.7 223.2 845.9 225.6 844.8 226.5 C843.6 227.4 842.1 227.8 841.0 227.1 C839.9 226.5 839.3 223.5 837.9 222.8 C836.4 222.0 833.8 223.2 832.2 222.8 C830.7 222.3 829.3 221.3 828.5 220.2 C827.7 219.2 827.2 218.0 827.2 216.5 Z" fill="#3399FF"/>
<path d="M832.9 241.5 C833.0 240.5 834.0 238.6 834.8 239.0 C835.5 239.4 836.9 242.5 837.2 244.0 C837.6 245.5 837.1 247.5 836.6 247.8 C836.1 248.0 834.8 246.3 834.1 245.2 C833.5 244.2 832.8 242.5 832.9 241.5 Z" fill="#3399FF"/>
<path d="M837.9 252.8 C838.0 251.7 839.4 249.3 840.4 249.0 C841.3 248.7 843.1 249.9 843.5 250.9 C843.9 251.8 843.5 253.9 842.9 254.6 C842.2 255.4 840.6 255.8 839.8 255.5 C838.9 255.2 837.8 253.8 837.9 252.8 Z" fill="#3399FF"/>
<path d="M856.0 266.5 C856.7 265.6 859.3 264.4 861.0 264.0 C862.7 263.6 865.2 262.8 866.0 264.0 C866.8 265.2 867.0 270.2 866.0 271.5 C865.0 272.8 861.3 271.8 859.8 271.5 C858.2 271.2 857.2 270.5 856.6 269.6 C856.0 268.8 855.3 267.4 856.0 266.5 Z" fill="#3399FF"/>
<path d="M854.1 166.5 C854.5 165.5 855.9 163.7 857.2 162.8 C858.6 161.8 860.8 161.3 862.2 160.9 C863.7 160.5 865.4 155.1 866.0 160.2 C866.6 165.4 867.0 186.3 866.0 191.5 C865.0 196.7 861.1 192.1 859.8 191.5 C858.4 190.9 857.7 188.8 857.9 187.8 C858.1 186.7 860.7 186.7 861.0 185.2 C861.3 183.8 860.5 180.7 859.8 179.0 C859.0 177.3 856.8 176.5 856.6 175.2 C856.4 174.0 858.8 172.5 858.5 171.5 C858.2 170.5 855.5 169.8 854.8 169.0 C854.0 168.2 853.7 167.5 854.1 166.5 Z" fill="#3399FF"/>
<path d="M824.8 201.5 L826.6 201.2 L826.2 202.8 Z" fill="#3399FF"/>
</g>
<g clip-path="url(#t7)">
<rect x="864.0" y="154.0" width="141.0" height="141.0" fill="#C8E6FF"/>
<path d="M861.3 151.3 C885.4 144.8 982.0 142.2 1006.2 151.3 C1030.3 160.4 1007.1 198.0 1006.2 206.0 C1005.3 213.9 1002.5 200.9 1000.7 199.1 C998.9 197.3 997.5 195.9 995.3 195.0 C993.0 194.1 989.1 194.8 987.1 193.6 C985.0 192.5 983.9 190.2 982.9 188.2 C982.0 186.1 982.5 184.1 981.6 181.3 C980.7 178.6 979.3 174.5 977.5 171.8 C975.7 169.0 973.2 166.3 970.6 164.9 C968.1 163.6 965.2 163.6 962.4 163.6 C959.7 163.6 956.7 163.8 954.2 164.9 C951.7 166.1 948.8 168.8 947.4 170.4 C946.0 172.0 945.8 172.7 946.0 174.5 C946.3 176.3 948.2 178.6 948.8 181.3 C949.3 184.1 950.1 189.8 949.5 190.9 C948.8 192.1 946.6 188.9 944.7 188.2 C942.7 187.5 940.3 186.2 937.8 186.8 C935.3 187.4 932.8 190.2 929.6 191.6 C926.4 193.0 921.7 194.0 918.7 195.0 C915.7 196.0 913.1 196.2 911.9 197.8 C910.6 199.3 911.9 203.0 911.2 204.6 C910.5 206.2 909.5 207.3 907.8 207.3 C906.0 207.3 903.0 204.9 900.9 204.6 C898.9 204.2 896.8 204.4 895.4 205.3 C894.1 206.2 892.6 207.9 892.7 210.1 C892.8 212.2 895.3 215.3 896.1 218.3 C896.9 221.2 897.4 225.1 897.5 227.8 C897.6 230.6 897.8 233.2 896.8 234.7 C895.8 236.1 893.4 236.5 891.3 236.7 C889.3 236.9 886.3 235.8 884.5 236.0 C882.7 236.3 881.9 238.3 880.4 238.1 C878.9 237.9 876.6 236.0 875.6 234.7 C874.6 233.3 873.9 231.4 874.3 229.9 C874.6 228.4 875.7 226.9 877.7 225.8 C879.6 224.6 884.1 224.5 885.9 223.0 C887.7 221.6 888.5 219.1 888.6 216.9 C888.7 214.7 887.8 212.3 886.6 210.1 C885.3 207.8 881.5 205.5 881.1 203.2 C880.6 200.9 883.9 198.2 883.8 196.4 C883.7 194.6 882.3 193.2 880.4 192.3 C878.5 191.4 875.4 191.3 872.2 190.9 C869.0 190.6 863.1 196.8 861.3 190.2 C859.4 183.6 837.1 157.8 861.3 151.3 Z" fill="#3399FF"/>
<path d="M915.3 218.3 C916.0 217.5 917.7 217.8 918.7 218.9 C919.7 220.1 920.4 223.7 921.4 225.1 C922.4 226.5 924.8 226.2 924.8 227.1 C924.8 228.1 922.8 230.3 921.4 230.6 C920.1 230.8 917.8 229.7 916.6 228.5 C915.5 227.4 914.8 225.4 914.6 223.7 C914.4 222.0 914.6 219.1 915.3 218.3 Z" fill="#3399FF"/>
<path d="M911.9 209.4 L915.3 208.7 L914.6 212.8 L912.5 212.1 Z" fill="#3399FF"/>
<path d="M972.7 195.0 L974.7 195.7 L974.1 199.8 L972.0 197.8 Z" fill="#3399FF"/>
<path d="M861.3 263.4 C862.6 262.2 867.6 262.5 869.5 263.4 C871.3 264.3 872.7 267.7 872.2 268.8 C871.7 270.0 868.6 270.0 866.7 270.2 C864.9 270.4 862.2 271.4 861.3 270.2 C860.4 269.1 859.9 264.5 861.3 263.4 Z" fill="#3399FF"/>
<path d="M877.7 282.5 C878.6 281.6 879.5 280.0 881.8 279.8 C884.1 279.6 888.8 281.6 891.3 281.2 C893.9 280.7 894.8 277.6 896.8 277.1 C898.9 276.5 902.1 278.6 903.6 277.7 C905.2 276.8 905.2 273.1 906.4 271.6 C907.5 270.1 909.6 270.7 910.5 268.8 C911.4 267.0 911.7 262.9 911.9 260.6 C912.0 258.4 910.5 256.8 911.2 255.2 C911.9 253.6 913.8 252.4 916.0 251.1 C918.1 249.7 921.7 247.9 924.2 247.0 C926.7 246.1 928.7 245.5 931.0 245.6 C933.3 245.7 936.3 246.5 937.8 247.7 C939.3 248.8 940.1 250.7 939.9 252.4 C939.7 254.2 936.3 256.3 936.5 257.9 C936.6 259.5 938.7 260.6 940.6 262.0 C942.4 263.4 945.4 266.6 947.4 266.1 C949.5 265.7 952.2 261.6 952.9 259.3 C953.6 257.0 951.0 254.3 951.5 252.4 C952.0 250.6 953.3 249.3 955.6 248.3 C957.9 247.4 962.4 247.7 965.2 247.0 C967.9 246.3 970.6 245.8 972.0 244.2 C973.4 242.6 971.8 239.5 973.4 237.4 C975.0 235.4 979.8 234.0 981.6 231.9 C983.4 229.9 982.7 227.1 984.3 225.1 C985.9 223.0 988.6 221.5 991.2 219.6 C993.7 217.8 996.9 216.0 999.4 214.2 C1001.9 212.3 1005.1 195.0 1006.2 208.7 C1007.3 222.4 1030.3 281.6 1006.2 296.2 C982.0 310.8 885.4 297.1 861.3 296.2 C837.1 295.3 859.4 291.9 861.3 290.7 C863.1 289.6 869.7 290.3 872.2 289.4 C874.7 288.4 875.4 286.4 876.3 285.3 C877.2 284.1 876.8 283.4 877.7 282.5 Z" fill="#3399FF"/>
<path d="M978.8 234.7 C979.3 233.1 982.0 232.2 982.9 233.3 C983.9 234.4 983.7 239.0 984.3 241.5 C984.9 244.0 986.4 247.0 986.4 248.3 C986.4 249.7 985.3 250.6 984.3 249.7 C983.3 248.8 981.1 245.4 980.2 242.9 C979.3 240.4 978.4 236.3 978.8 234.7 Z" fill="#C8E6FF"/>
<path d="M963.8 277.1 C964.0 275.5 965.6 273.4 966.5 274.3 C967.5 275.2 968.4 280.5 969.3 282.5 C970.2 284.6 972.2 285.7 972.0 286.6 C971.8 287.5 969.0 288.4 967.9 288.0 C966.8 287.5 965.9 285.7 965.2 283.9 C964.5 282.1 963.6 278.6 963.8 277.1 Z" fill="#C8E6FF"/>
<path d="M924.2 255.2 L928.3 254.5 L927.6 257.9 L924.8 258.6 Z" fill="#C8E6FF"/>
<path d="M911.9 262.0 C912.3 261.7 917.1 262.5 918.7 263.4 C920.3 264.3 921.9 267.1 921.4 267.5 C921.0 267.8 917.6 266.3 916.0 265.4 C914.4 264.5 911.4 262.4 911.9 262.0 Z" fill="#C8E6FF"/>
<path d="M888.6 169.0 C889.1 167.7 892.3 165.8 894.1 164.9 C895.9 164.0 897.7 163.1 899.5 163.6 C901.4 164.0 903.4 166.8 905.0 167.7 C906.6 168.6 908.9 167.9 909.1 169.0 C909.3 170.2 907.3 172.7 906.4 174.5 C905.5 176.3 904.8 179.2 903.6 180.0 C902.5 180.8 900.7 180.2 899.5 179.3 C898.4 178.4 898.2 175.5 896.8 174.5 C895.4 173.5 892.7 174.1 891.3 173.1 C890.0 172.2 888.2 170.4 888.6 169.0 Z" fill="#003399"/>
<path d="M987.1 158.1 C988.0 157.0 992.1 157.2 995.3 156.7 C998.4 156.3 1004.4 153.1 1006.2 155.4 C1008.0 157.6 1007.3 168.1 1006.2 170.4 C1005.1 172.7 1001.2 170.0 999.4 169.0 C997.5 168.1 996.9 165.8 995.3 164.9 C993.7 164.0 991.2 164.7 989.8 163.6 C988.4 162.4 986.1 159.2 987.1 158.1 Z" fill="#003399"/>
<path d="M920.1 157.4 L925.5 156.7 L924.2 160.2 L920.7 160.2 Z" fill="#003399"/>
<path d="M1006.2 222.4 C1005.1 218.7 1001.2 226.0 999.4 227.8 C997.5 229.7 996.6 231.0 995.3 233.3 C993.9 235.6 992.5 240.6 991.2 241.5 C989.8 242.4 988.0 238.3 987.1 238.8 C986.1 239.2 984.8 242.6 985.7 244.2 C986.6 245.8 990.0 247.9 992.5 248.3 C995.0 248.8 998.4 246.7 1000.7 247.0 C1003.0 247.2 1005.3 253.8 1006.2 249.7 C1007.1 245.6 1007.3 226.0 1006.2 222.4 Z" fill="#003399"/>
<path d="M951.5 257.9 C951.5 256.5 955.1 254.3 957.0 253.8 C958.8 253.4 960.6 254.3 962.4 255.2 C964.3 256.1 966.1 258.8 967.9 259.3 C969.7 259.7 971.8 257.2 973.4 257.9 C975.0 258.6 975.9 261.8 977.5 263.4 C979.1 265.0 981.4 265.7 982.9 267.5 C984.5 269.3 985.0 272.7 987.1 274.3 C989.1 275.9 992.1 277.1 995.3 277.1 C998.4 277.1 1004.4 271.1 1006.2 274.3 C1008.0 277.5 1011.2 292.5 1006.2 296.2 C1001.2 299.8 980.9 297.6 976.1 296.2 C971.3 294.8 977.9 290.3 977.5 288.0 C977.0 285.7 974.5 284.3 973.4 282.5 C972.2 280.7 970.6 278.9 970.6 277.1 C970.6 275.2 973.8 273.4 973.4 271.6 C972.9 269.8 969.7 267.5 967.9 266.1 C966.1 264.7 964.3 264.1 962.4 263.4 C960.6 262.7 958.8 262.9 957.0 262.0 C955.1 261.1 951.5 259.3 951.5 257.9 Z" fill="#003399"/>
<path d="M902.3 285.3 C903.2 284.2 906.4 283.2 909.1 282.5 C911.9 281.8 915.3 281.2 918.7 281.2 C922.1 281.2 926.4 282.1 929.6 282.5 C932.8 283.0 935.1 283.4 937.8 283.9 C940.6 284.3 943.3 284.3 946.0 285.3 C948.8 286.2 952.0 287.5 954.2 289.4 C956.5 291.2 966.5 295.1 959.7 296.2 C952.9 297.3 921.7 297.3 913.2 296.2 C904.8 295.1 910.7 290.6 909.1 289.4 C907.5 288.1 904.8 289.4 903.6 288.7 C902.5 288.0 901.4 286.3 902.3 285.3 Z" fill="#003399"/>
<path d="M913.2 271.6 C914.0 270.8 917.3 269.8 918.7 270.2 C920.1 270.7 921.7 273.4 921.4 274.3 C921.2 275.2 918.6 275.6 917.3 275.7 C916.1 275.8 914.6 275.7 913.9 275.0 C913.2 274.3 912.4 272.4 913.2 271.6 Z" fill="#003399"/>
<path d="M993.9 255.2 C994.3 253.9 998.7 253.8 1000.7 253.8 C1002.8 253.8 1005.3 253.8 1006.2 255.2 C1007.1 256.5 1007.6 261.0 1006.2 262.0 C1004.8 263.0 1000.0 262.5 998.0 261.3 C995.9 260.2 993.4 256.4 993.9 255.2 Z" fill="#003399"/>
<path d="M989.8 290.7 C990.7 289.6 993.7 289.1 995.3 289.4 C996.9 289.6 998.4 291.0 999.4 292.1 C1000.3 293.2 1002.3 295.5 1000.7 296.2 C999.1 296.9 991.6 297.1 989.8 296.2 C988.0 295.3 988.9 291.9 989.8 290.7 Z" fill="#663399"/>
</g>
<g clip-path="url(#t8)">
<rect x="96.0" y="282.0" width="129.0" height="129.0" fill="#FFFFFF"/>
<path d="M112.2 308.2 C113.1 307.4 116.0 306.8 118.5 305.8 C121.0 304.7 124.1 303.0 127.2 302.0 C130.4 301.0 134.1 300.5 137.2 299.5 C140.4 298.5 143.1 296.8 146.0 295.8 C148.9 294.7 152.0 294.5 154.8 293.2 C157.5 292.0 160.0 290.1 162.2 288.2 C164.5 286.4 167.0 283.5 168.5 282.0 C170.0 280.5 161.4 279.9 171.0 279.5 C180.6 279.1 216.8 271.7 226.0 279.5 C235.2 287.3 227.2 318.8 226.0 326.4 C224.8 334.0 221.4 325.0 218.5 325.1 C215.6 325.2 211.6 326.2 208.5 327.0 C205.4 327.8 202.9 329.8 199.8 330.1 C196.6 330.4 193.5 329.4 189.8 328.9 C186.0 328.4 181.4 327.6 177.2 327.0 C173.1 326.4 168.9 325.8 164.8 325.1 C160.6 324.5 156.4 323.8 152.2 323.2 C148.1 322.7 143.3 322.2 139.8 322.0 C136.2 321.8 133.7 322.4 131.0 322.0 C128.3 321.6 125.8 321.0 123.5 319.5 C121.2 318.0 118.9 314.7 117.2 313.2 C115.6 311.8 114.3 311.6 113.5 310.8 C112.7 309.9 111.4 309.1 112.2 308.2 Z" fill="#C8E6FF"/>
<path d="M189.8 298.2 C189.5 296.7 191.2 294.3 192.2 292.0 C193.3 289.7 195.0 284.9 196.0 284.5 C197.0 284.1 197.0 287.8 198.5 289.5 C200.0 291.2 203.6 293.0 204.8 294.5 C205.9 296.0 206.0 297.0 205.4 298.2 C204.8 299.5 203.0 301.5 201.0 302.0 C199.0 302.5 195.4 302.0 193.5 301.4 C191.6 300.8 190.0 299.8 189.8 298.2 Z" fill="#FFFFFF"/>
<path d="M97.9 285.8 C98.5 284.8 103.4 282.4 104.8 282.0 C106.1 281.6 106.6 282.3 106.0 283.2 C105.4 284.2 102.4 287.2 101.0 287.6 C99.6 288.0 97.2 286.7 97.9 285.8 Z" fill="#C8E6FF"/>
<path d="M93.5 354.5 C94.8 345.0 98.9 354.5 101.0 355.1 C103.1 355.8 103.9 356.9 106.0 358.2 C108.1 359.6 111.0 362.1 113.5 363.2 C116.0 364.4 119.5 365.3 121.0 365.1 C122.5 364.9 121.0 362.3 122.2 362.0 C123.5 361.7 126.0 362.4 128.5 363.2 C131.0 364.1 134.3 366.0 137.2 367.0 C140.2 368.0 143.5 369.3 146.0 369.5 C148.5 369.7 149.8 368.7 152.2 368.2 C154.8 367.8 157.9 366.9 161.0 367.0 C164.1 367.1 167.2 368.7 171.0 368.9 C174.8 369.1 179.3 368.4 183.5 368.2 C187.7 368.1 192.5 367.8 196.0 368.2 C199.5 368.7 202.2 369.8 204.8 370.8 C207.2 371.7 209.5 372.4 211.0 373.9 C212.5 375.3 212.0 378.1 213.5 379.5 C215.0 380.9 217.7 381.8 219.8 382.0 C221.8 382.2 225.0 375.8 226.0 380.8 C227.0 385.8 248.1 406.8 226.0 412.0 C203.9 417.2 115.6 421.6 93.5 412.0 C71.4 402.4 92.2 364.0 93.5 354.5 Z" fill="#FFFFC8"/>
<path d="M121.0 377.0 C121.9 376.0 126.4 375.3 128.5 374.5 C130.6 373.7 131.6 372.2 133.5 372.0 C135.4 371.8 137.9 372.4 139.8 373.2 C141.6 374.1 143.3 375.5 144.8 377.0 C146.2 378.5 148.3 380.5 148.5 382.0 C148.7 383.5 147.5 385.8 146.0 385.8 C144.5 385.8 141.8 382.8 139.8 382.0 C137.7 381.2 135.6 380.8 133.5 380.8 C131.4 380.8 129.0 382.0 127.2 382.0 C125.5 382.0 123.9 381.6 122.9 380.8 C121.8 379.9 120.1 378.0 121.0 377.0 Z" fill="#FFFFFF"/>
<path d="M109.8 388.2 C110.5 387.1 112.4 386.2 113.5 386.4 C114.6 386.6 115.8 388.1 116.6 389.5 C117.5 390.9 118.4 392.4 118.5 394.5 C118.6 396.6 118.1 400.6 117.2 402.0 C116.4 403.4 114.3 403.5 113.5 402.6 C112.7 401.8 113.0 398.6 112.2 397.0 C111.5 395.4 109.5 394.7 109.1 393.2 C108.7 391.8 109.0 389.4 109.8 388.2 Z" fill="#FFFFFF"/>
<path d="M208.5 373.2 C208.9 372.4 213.1 374.3 216.0 374.5 C218.9 374.7 224.3 373.2 226.0 374.5 C227.7 375.8 227.0 380.6 226.0 382.0 C225.0 383.4 221.8 383.0 219.8 382.6 C217.7 382.2 215.4 381.1 213.5 379.5 C211.6 377.9 208.1 374.1 208.5 373.2 Z" fill="#FFFFFF"/>
</g>
<g clip-path="url(#t9)">
<rect x="224.0" y="282.0" width="129.0" height="129.0" fill="#C8E6FF"/>
<path d="M221.5 325.8 C224.0 311.3 231.9 325.1 236.5 325.1 C241.1 325.1 245.2 325.0 249.0 325.8 C252.8 326.5 255.7 328.0 259.0 329.5 C262.3 331.0 266.1 332.4 269.0 334.5 C271.9 336.6 274.0 339.5 276.5 342.0 C279.0 344.5 281.9 347.0 284.0 349.5 C286.1 352.0 287.8 355.1 289.0 357.0 C290.2 358.9 290.0 360.8 291.5 360.8 C293.0 360.8 295.7 356.8 297.8 357.0 C299.8 357.2 302.1 359.9 304.0 362.0 C305.9 364.1 307.5 368.5 309.0 369.5 C310.5 370.5 312.5 367.4 312.8 368.2 C313.0 369.1 309.8 372.4 310.2 374.5 C310.7 376.6 314.2 378.7 315.2 380.8 C316.3 382.8 315.2 384.7 316.5 387.0 C317.8 389.3 320.9 392.2 322.8 394.5 C324.6 396.8 325.9 398.7 327.8 400.8 C329.6 402.8 332.5 405.1 334.0 407.0 C335.5 408.9 355.2 411.2 336.5 412.0 C317.8 412.8 240.7 426.4 221.5 412.0 C202.3 397.6 219.0 340.2 221.5 325.8 Z" fill="#FFFFFF"/>
<path d="M225.2 302.0 C224.8 300.8 225.7 295.5 226.5 293.2 C227.3 291.0 228.6 289.3 230.2 288.2 C231.9 287.2 236.1 285.8 236.5 287.0 C236.9 288.2 234.0 293.5 232.8 295.8 C231.5 298.0 230.2 299.7 229.0 300.8 C227.8 301.8 225.7 303.2 225.2 302.0 Z" fill="#FFFFFF"/>
<path d="M326.5 282.0 C328.0 282.0 333.6 282.6 336.5 283.2 C339.4 283.9 342.8 284.9 344.0 285.8 C345.2 286.6 345.7 288.5 344.0 288.2 C342.3 288.0 336.7 285.3 334.0 284.5 C331.3 283.7 329.0 283.7 327.8 283.2 C326.5 282.8 325.0 282.0 326.5 282.0 Z" fill="#FFFFFF"/>
<path d="M345.2 297.6 C346.0 297.4 350.9 298.8 352.0 299.5 C353.1 300.2 352.7 301.8 352.0 302.0 C351.3 302.2 348.9 301.5 347.8 300.8 C346.6 300.0 344.5 297.8 345.2 297.6 Z" fill="#FFFFFF"/>
<path d="M221.5 369.5 C222.8 362.8 227.3 370.8 229.0 372.0 C230.7 373.2 230.9 374.7 231.5 377.0 C232.1 379.3 232.1 382.8 232.8 385.8 C233.4 388.7 234.6 391.8 235.2 394.5 C235.9 397.2 235.9 399.1 236.5 402.0 C237.1 404.9 241.5 410.3 239.0 412.0 C236.5 413.7 224.4 419.1 221.5 412.0 C218.6 404.9 220.2 376.2 221.5 369.5 Z" fill="#FFFFC8"/>
</g>
<g clip-path="url(#t10)">
<rect x="352.0" y="282.0" width="129.0" height="129.0" fill="#C8E6FF"/>
<path d="M467.0 282.0 C467.8 282.8 470.3 284.6 472.0 285.8 C473.7 286.9 475.3 288.0 477.0 288.9 C478.7 289.7 481.2 292.1 482.0 290.8 C482.8 289.4 484.5 282.4 482.0 280.8 C479.5 279.1 469.5 280.5 467.0 280.8 C464.5 281.0 466.2 281.2 467.0 282.0 Z" fill="#FFFFFF"/>
<path d="M475.1 307.0 C475.1 306.1 475.9 304.2 477.0 303.2 C478.1 302.3 481.2 300.4 482.0 301.4 C482.8 302.3 482.8 307.6 482.0 308.9 C481.2 310.1 478.1 309.2 477.0 308.9 C475.9 308.6 475.1 307.9 475.1 307.0 Z" fill="#FFFFFF"/>
<path d="M350.8 299.5 C351.4 299.0 353.2 299.3 354.5 300.1 C355.8 301.0 357.0 303.5 358.2 304.5 C359.5 305.5 362.0 306.0 362.0 306.4 C362.0 306.8 359.7 307.2 358.2 307.0 C356.8 306.8 354.5 305.8 353.2 305.1 C352.0 304.5 351.2 304.2 350.8 303.2 C350.3 302.3 350.1 300.0 350.8 299.5 Z" fill="#FFFFFF"/>
</g>
<g clip-path="url(#t11)">
<rect x="480.0" y="282.0" width="129.0" height="129.0" fill="#C8E6FF"/>
<path d="M477.5 279.5 C482.5 274.5 502.3 278.5 507.5 279.5 C512.7 280.5 507.3 284.3 508.8 285.8 C510.2 287.2 513.3 288.0 516.2 288.2 C519.2 288.5 523.3 287.6 526.2 287.0 C529.2 286.4 531.7 285.8 533.8 284.5 C535.8 283.2 536.0 280.3 538.8 279.5 C541.5 278.7 548.8 278.7 550.0 279.5 C551.2 280.3 546.2 283.0 546.2 284.5 C546.2 286.0 548.5 287.0 550.0 288.2 C551.5 289.5 555.4 291.0 555.0 292.0 C554.6 293.0 547.9 293.2 547.5 294.5 C547.1 295.8 550.8 298.0 552.5 299.5 C554.2 301.0 555.4 303.5 557.5 303.2 C559.6 303.0 562.9 300.1 565.0 298.2 C567.1 296.4 568.1 293.8 570.0 292.0 C571.9 290.2 574.2 288.2 576.2 287.6 C578.3 287.0 580.6 287.1 582.5 288.2 C584.4 289.4 585.0 293.2 587.5 294.5 C590.0 295.8 593.8 295.8 597.5 295.8 C601.2 295.8 607.9 292.0 610.0 294.5 C612.1 297.0 611.2 307.8 610.0 310.8 C608.8 313.7 605.0 311.4 602.5 312.0 C600.0 312.6 597.5 313.4 595.0 314.5 C592.5 315.6 590.0 317.9 587.5 318.9 C585.0 319.8 582.3 320.4 580.0 320.1 C577.7 319.8 576.0 317.9 573.8 317.0 C571.5 316.1 568.5 314.6 566.2 314.5 C564.0 314.4 561.9 316.5 560.0 316.4 C558.1 316.3 557.1 314.4 555.0 313.9 C552.9 313.4 549.4 312.8 547.5 313.2 C545.6 313.7 545.2 316.6 543.8 316.4 C542.3 316.2 540.6 313.0 538.8 312.0 C536.9 311.0 534.6 310.1 532.5 310.1 C530.4 310.1 528.8 311.3 526.2 312.0 C523.8 312.7 520.0 313.9 517.5 314.5 C515.0 315.1 513.1 314.9 511.2 315.8 C509.4 316.6 508.3 319.0 506.2 319.5 C504.2 320.0 500.6 319.9 498.8 318.9 C496.9 317.8 496.5 314.9 495.0 313.2 C493.5 311.6 492.1 309.7 490.0 308.9 C487.9 308.0 484.6 308.1 482.5 308.2 C480.4 308.4 478.3 314.3 477.5 309.5 C476.7 304.7 472.5 284.5 477.5 279.5 Z" fill="#FFFFFF"/>
<path d="M480.0 293.2 C480.6 293.7 482.2 294.5 482.5 295.8 C482.8 297.0 482.5 299.9 481.9 300.8 C481.2 301.6 479.3 302.0 478.8 300.8 C478.2 299.5 478.5 294.5 478.8 293.2 C479.0 292.0 479.4 292.8 480.0 293.2 Z" fill="#C8E6FF"/>
<path d="M597.5 322.0 C597.9 321.1 600.4 320.1 602.5 319.5 C604.6 318.9 608.8 316.8 610.0 318.2 C611.2 319.7 610.8 326.5 610.0 328.2 C609.2 330.0 606.7 329.4 605.0 328.9 C603.3 328.4 601.2 326.3 600.0 325.1 C598.8 324.0 597.1 322.9 597.5 322.0 Z" fill="#FFFFFF"/>
<path d="M603.8 380.8 C604.0 379.5 605.2 377.2 606.2 376.4 C607.3 375.5 609.4 374.6 610.0 375.8 C610.6 376.9 610.8 381.9 610.0 383.2 C609.2 384.6 606.0 384.3 605.0 383.9 C604.0 383.5 603.5 382.0 603.8 380.8 Z" fill="#FFFFFF"/>
<path d="M506.9 362.6 C507.1 361.9 509.5 360.5 511.2 360.1 C513.0 359.7 516.9 359.5 517.5 360.1 C518.1 360.8 516.2 363.1 515.0 363.9 C513.8 364.6 511.4 364.7 510.0 364.5 C508.6 364.3 506.7 363.4 506.9 362.6 Z" fill="#3399FF"/>
<path d="M518.8 364.5 C519.4 363.6 521.5 361.7 523.8 360.8 C526.0 359.8 529.8 359.6 532.5 358.9 C535.2 358.1 537.9 357.0 540.0 356.4 C542.1 355.8 543.3 355.0 545.0 355.1 C546.7 355.2 547.9 356.5 550.0 357.0 C552.1 357.5 554.6 358.0 557.5 358.2 C560.4 358.5 564.6 357.9 567.5 358.2 C570.4 358.6 572.7 359.8 575.0 360.1 C577.3 360.4 579.8 359.6 581.2 360.1 C582.7 360.6 584.0 362.2 583.8 363.2 C583.5 364.3 581.5 365.5 580.0 366.4 C578.5 367.2 575.4 366.9 575.0 368.2 C574.6 369.6 577.3 372.4 577.5 374.5 C577.7 376.6 577.3 379.3 576.2 380.8 C575.2 382.2 573.1 382.4 571.2 383.2 C569.4 384.1 566.9 385.1 565.0 385.8 C563.1 386.4 561.7 387.2 560.0 387.0 C558.3 386.8 556.1 385.8 555.0 384.5 C553.9 383.2 552.9 381.2 553.1 379.5 C553.3 377.8 554.9 376.2 556.2 374.5 C557.6 372.8 561.0 370.8 561.2 369.5 C561.5 368.2 559.0 367.7 557.5 367.0 C556.0 366.3 554.2 365.5 552.5 365.1 C550.8 364.7 548.8 364.0 547.5 364.5 C546.2 365.0 546.2 367.0 545.0 368.2 C543.8 369.5 541.7 371.5 540.0 372.0 C538.3 372.5 536.9 371.6 535.0 371.4 C533.1 371.2 530.4 371.4 528.8 370.8 C527.1 370.1 526.5 368.4 525.0 367.6 C523.5 366.9 521.0 366.9 520.0 366.4 C519.0 365.9 518.1 365.4 518.8 364.5 Z" fill="#3399FF"/>
<path d="M560.0 382.0 C560.4 380.8 563.8 376.0 565.0 374.5 C566.2 373.0 567.3 372.8 567.5 373.2 C567.7 373.7 567.1 375.5 566.2 377.0 C565.4 378.5 563.5 381.2 562.5 382.0 C561.5 382.8 559.6 383.2 560.0 382.0 Z" fill="#C8E6FF"/>
<path d="M552.5 410.8 C551.5 410.1 553.3 407.9 555.0 407.0 C556.7 406.1 561.5 404.5 562.5 405.1 C563.5 405.8 562.9 409.8 561.2 410.8 C559.6 411.7 553.5 411.4 552.5 410.8 Z" fill="#3399FF"/>
<path d="M588.8 282.0 C589.4 282.8 591.5 284.6 592.5 285.8 C593.5 286.9 594.0 289.1 595.0 288.9 C596.0 288.7 597.1 285.0 598.8 284.5 C600.4 284.0 603.1 285.1 605.0 285.8 C606.9 286.4 609.2 289.1 610.0 288.2 C610.8 287.4 613.5 282.0 610.0 280.8 C606.5 279.5 592.3 280.5 588.8 280.8 C585.2 281.0 588.1 281.2 588.8 282.0 Z" fill="#3399FF"/>
</g>
<g clip-path="url(#t12)">
<rect x="608.0" y="282.0" width="129.0" height="129.0" fill="#C8E6FF"/>
<path d="M605.5 298.2 C606.8 294.8 610.7 297.2 613.0 297.6 C615.3 298.0 617.8 299.4 619.2 300.8 C620.7 302.1 620.1 305.1 621.8 305.8 C623.4 306.4 627.0 304.9 629.2 304.5 C631.5 304.1 634.4 302.6 635.5 303.2 C636.6 303.9 635.5 306.4 636.1 308.2 C636.8 310.1 638.5 312.4 639.2 314.5 C640.0 316.6 640.9 319.1 640.5 320.8 C640.1 322.4 638.2 324.1 636.8 324.5 C635.3 324.9 632.8 322.4 631.8 323.2 C630.7 324.1 631.3 327.8 630.5 329.5 C629.7 331.2 628.2 332.7 626.8 333.2 C625.3 333.8 623.2 333.2 621.8 332.6 C620.3 332.0 619.5 330.6 618.0 329.5 C616.5 328.4 614.5 326.6 613.0 325.8 C611.5 324.9 610.5 325.8 609.2 324.5 C608.0 323.2 606.1 322.6 605.5 318.2 C604.9 313.9 604.2 301.7 605.5 298.2 Z" fill="#FFFFFF"/>
<path d="M649.2 307.0 C649.4 305.1 649.0 301.7 650.5 299.5 C652.0 297.3 655.3 295.0 658.0 293.9 C660.7 292.7 663.8 292.5 666.8 292.6 C669.7 292.7 673.7 293.4 675.5 294.5 C677.3 295.6 677.6 297.9 677.4 299.5 C677.2 301.1 675.8 302.7 674.2 303.9 C672.7 305.0 670.3 306.4 668.0 306.4 C665.7 306.4 662.3 303.8 660.5 303.9 C658.7 304.0 658.4 305.8 657.4 307.0 C656.3 308.2 655.5 310.8 654.2 311.4 C653.0 312.0 650.7 311.5 649.9 310.8 C649.0 310.0 649.1 308.9 649.2 307.0 Z" fill="#FFFFFF"/>
<path d="M606.8 377.0 C607.6 375.3 610.4 374.3 611.8 374.5 C613.1 374.7 614.6 376.8 614.9 378.2 C615.2 379.7 614.6 382.1 613.6 383.2 C612.7 384.4 610.4 384.9 609.2 385.1 C608.1 385.3 607.2 385.9 606.8 384.5 C606.3 383.1 605.9 378.7 606.8 377.0 Z" fill="#FFFFFF"/>
<path d="M729.2 282.0 C730.5 281.2 736.5 280.8 738.0 282.0 C739.5 283.2 738.8 288.1 738.0 289.5 C737.2 290.9 734.2 290.5 733.0 290.1 C731.8 289.7 731.1 288.4 730.5 287.0 C729.9 285.6 728.0 282.8 729.2 282.0 Z" fill="#FFFFFF"/>
<path d="M608.0 283.2 C608.6 282.2 609.2 282.2 615.5 282.0 C621.8 281.8 640.3 281.2 645.5 282.0 C650.7 282.8 647.6 285.8 646.8 287.0 C645.9 288.2 642.8 289.3 640.5 289.5 C638.2 289.7 635.3 287.8 633.0 288.2 C630.7 288.7 629.0 291.8 626.8 292.0 C624.5 292.2 621.8 290.1 619.2 289.5 C616.8 288.9 613.6 289.3 611.8 288.2 C609.9 287.2 607.4 284.3 608.0 283.2 Z" fill="#3399FF"/>
<path d="M738.0 363.2 C736.3 355.5 730.9 365.1 728.0 365.8 C725.1 366.4 722.8 366.6 720.5 367.0 C718.2 367.4 716.3 367.6 714.2 368.2 C712.2 368.9 709.9 369.5 708.0 370.8 C706.1 372.0 703.4 374.1 703.0 375.8 C702.6 377.4 705.5 379.1 705.5 380.8 C705.5 382.4 704.7 384.3 703.0 385.8 C701.3 387.2 697.8 388.2 695.5 389.5 C693.2 390.8 690.9 391.6 689.2 393.2 C687.6 394.9 686.5 398.0 685.5 399.5 C684.5 401.0 682.6 399.9 683.0 402.0 C683.4 404.1 678.8 410.3 688.0 412.0 C697.2 413.7 729.7 420.1 738.0 412.0 C746.3 403.9 739.7 371.0 738.0 363.2 Z" fill="#3399FF"/>
<path d="M665.5 404.5 C665.7 403.1 669.2 401.6 670.5 399.5 C671.8 397.4 672.1 392.2 673.0 392.0 C673.9 391.8 675.1 396.4 676.1 398.2 C677.2 400.1 679.6 401.8 679.2 403.2 C678.9 404.7 675.9 406.3 674.2 407.0 C672.6 407.7 670.7 408.0 669.2 407.6 C667.8 407.2 665.3 405.9 665.5 404.5 Z" fill="#3399FF"/>
<path d="M724.2 393.2 C724.5 391.5 726.5 391.4 728.0 391.4 C729.5 391.4 731.3 392.7 733.0 393.2 C734.7 393.8 737.2 391.4 738.0 394.5 C738.8 397.6 739.7 409.1 738.0 412.0 C736.3 414.9 729.9 413.7 728.0 412.0 C726.1 410.3 727.4 405.1 726.8 402.0 C726.1 398.9 724.0 395.0 724.2 393.2 Z" fill="#003399"/>
</g>
<g clip-path="url(#t13)">
<rect x="736.0" y="282.0" width="129.0" height="129.0" fill="#C8E6FF"/>
<path d="M734.8 280.8 C736.4 279.5 743.0 280.1 744.8 280.8 C746.5 281.4 744.8 283.2 745.4 284.5 C746.0 285.8 748.8 287.8 748.5 288.2 C748.2 288.7 745.2 287.3 743.5 287.0 C741.8 286.7 740.0 286.2 738.5 286.4 C737.0 286.6 735.4 289.2 734.8 288.2 C734.1 287.3 733.1 282.0 734.8 280.8 Z" fill="#FFFFFF"/>
<path d="M764.8 281.4 C766.4 280.9 774.5 280.8 776.0 281.4 C777.5 282.0 774.8 284.3 773.5 285.1 C772.2 286.0 769.8 286.5 768.5 286.4 C767.2 286.3 766.6 285.3 766.0 284.5 C765.4 283.7 763.1 281.9 764.8 281.4 Z" fill="#FFFFFF"/>
<path d="M733.5 362.0 C734.3 353.2 736.4 360.3 738.5 359.5 C740.6 358.7 743.5 358.0 746.0 357.0 C748.5 356.0 751.0 354.4 753.5 353.2 C756.0 352.1 758.9 350.1 761.0 350.1 C763.1 350.1 764.8 352.1 766.0 353.2 C767.2 354.4 767.2 356.2 768.5 357.0 C769.8 357.8 771.6 357.7 773.5 358.2 C775.4 358.8 777.7 359.5 779.8 360.1 C781.8 360.8 784.3 361.1 786.0 362.0 C787.7 362.9 788.9 364.1 789.8 365.8 C790.6 367.4 790.2 370.1 791.0 372.0 C791.8 373.9 793.5 375.5 794.8 377.0 C796.0 378.5 797.0 379.5 798.5 380.8 C800.0 382.0 801.8 383.2 803.5 384.5 C805.2 385.8 806.8 387.4 808.5 388.2 C810.2 389.1 811.8 389.7 813.5 389.5 C815.2 389.3 817.2 388.1 818.5 387.0 C819.8 385.9 819.8 383.5 821.0 382.6 C822.2 381.8 824.9 381.6 826.0 382.0 C827.1 382.4 828.1 383.7 827.9 385.1 C827.7 386.6 825.5 389.2 824.8 390.8 C824.0 392.3 822.5 393.2 823.5 394.5 C824.5 395.8 828.5 397.4 831.0 398.2 C833.5 399.1 836.4 399.5 838.5 399.5 C840.6 399.5 842.2 399.5 843.5 398.2 C844.8 397.0 845.8 394.3 846.0 392.0 C846.2 389.7 845.2 387.0 844.8 384.5 C844.3 382.0 844.0 379.5 843.5 377.0 C843.0 374.5 842.2 371.6 841.6 369.5 C841.0 367.4 839.6 366.4 839.8 364.5 C839.9 362.6 841.2 359.9 842.2 358.2 C843.3 356.6 844.1 354.7 846.0 354.5 C847.9 354.3 851.4 356.8 853.5 357.0 C855.6 357.2 856.4 356.4 858.5 355.8 C860.6 355.1 864.8 343.9 866.0 353.2 C867.2 362.6 888.1 402.2 866.0 412.0 C843.9 421.8 755.6 420.3 733.5 412.0 C711.4 403.7 732.7 370.8 733.5 362.0 Z" fill="#3399FF"/>
<path d="M736.0 367.0 C736.6 365.5 738.3 363.7 739.8 363.2 C741.2 362.8 743.7 363.5 744.8 364.5 C745.8 365.5 746.2 367.9 746.0 369.5 C745.8 371.1 744.8 373.1 743.5 373.9 C742.2 374.6 739.8 374.2 738.5 373.9 C737.2 373.6 736.4 373.1 736.0 372.0 C735.6 370.9 735.4 368.5 736.0 367.0 Z" fill="#C8E6FF"/>
<path d="M759.8 352.0 C760.5 351.2 763.7 350.8 764.8 352.0 C765.8 353.2 766.4 357.8 766.0 359.5 C765.6 361.2 763.2 362.4 762.2 362.0 C761.3 361.6 760.8 358.7 760.4 357.0 C760.0 355.3 759.0 352.8 759.8 352.0 Z" fill="#C8E6FF"/>
<path d="M847.2 362.0 C848.0 360.5 850.6 358.2 852.2 358.2 C853.9 358.2 856.6 360.3 857.2 362.0 C857.9 363.7 857.0 367.0 856.0 368.2 C855.0 369.5 852.4 369.7 851.0 369.5 C849.6 369.3 848.5 368.2 847.9 367.0 C847.2 365.8 846.5 363.5 847.2 362.0 Z" fill="#C8E6FF"/>
<path d="M846.0 375.8 C846.4 374.7 848.9 374.3 849.8 375.1 C850.6 376.0 851.4 379.7 851.0 380.8 C850.6 381.8 848.1 382.2 847.2 381.4 C846.4 380.5 845.6 376.8 846.0 375.8 Z" fill="#C8E6FF"/>
<path d="M821.0 344.5 C821.4 343.8 823.3 342.6 824.8 342.6 C826.2 342.6 828.1 343.4 829.8 344.5 C831.4 345.6 834.5 348.4 834.8 349.5 C835.0 350.6 832.5 351.3 831.0 351.4 C829.5 351.5 827.5 350.9 826.0 350.1 C824.5 349.4 823.1 347.9 822.2 347.0 C821.4 346.1 820.6 345.2 821.0 344.5 Z" fill="#3399FF"/>
<path d="M836.0 339.5 C836.4 338.2 839.1 337.1 839.8 335.8 C840.4 334.4 839.1 332.1 839.8 331.4 C840.4 330.6 842.7 329.8 843.5 331.4 C844.3 332.9 845.0 338.7 844.8 340.8 C844.5 342.8 843.5 343.5 842.2 343.9 C841.0 344.3 838.3 344.0 837.2 343.2 C836.2 342.5 835.6 340.8 836.0 339.5 Z" fill="#3399FF"/>
<path d="M856.0 300.8 C856.2 299.3 859.7 295.5 861.0 294.5 C862.3 293.5 863.2 293.0 864.0 294.5 C864.8 296.0 866.7 301.8 866.0 303.2 C865.3 304.7 861.4 303.7 859.8 303.2 C858.1 302.8 855.8 302.2 856.0 300.8 Z" fill="#3399FF"/>
<path d="M747.2 393.2 C747.9 391.8 750.6 390.3 752.2 389.5 C753.9 388.7 756.0 389.9 757.2 388.2 C758.5 386.6 758.9 379.9 759.8 379.5 C760.6 379.1 761.0 385.1 762.2 385.8 C763.5 386.4 764.8 383.7 767.2 383.2 C769.8 382.8 774.3 382.8 777.2 383.2 C780.2 383.7 782.9 384.5 784.8 385.8 C786.6 387.0 786.4 389.5 788.5 390.8 C790.6 392.0 794.3 392.6 797.2 393.2 C800.2 393.9 803.3 393.5 806.0 394.5 C808.7 395.5 811.8 397.6 813.5 399.5 C815.2 401.4 816.4 404.5 816.0 405.8 C815.6 407.0 813.1 406.6 811.0 407.0 C808.9 407.4 806.0 408.7 803.5 408.2 C801.0 407.8 798.3 404.9 796.0 404.5 C793.7 404.1 791.4 404.5 789.8 405.8 C788.1 407.0 791.8 411.0 786.0 412.0 C780.2 413.0 759.5 413.0 754.8 412.0 C750.0 411.0 757.7 407.4 757.2 405.8 C756.8 404.1 753.7 403.2 752.2 402.0 C750.8 400.8 749.3 399.7 748.5 398.2 C747.7 396.8 746.6 394.7 747.2 393.2 Z" fill="#003399"/>
<path d="M733.5 393.2 C734.3 391.0 737.4 393.2 738.5 394.5 C739.6 395.8 740.4 398.7 740.4 400.8 C740.4 402.8 739.6 405.8 738.5 407.0 C737.4 408.2 734.3 410.5 733.5 408.2 C732.7 406.0 732.7 395.5 733.5 393.2 Z" fill="#003399"/>
<path d="M866.0 374.5 C865.2 369.7 862.7 376.0 861.0 377.0 C859.3 378.0 857.2 379.3 856.0 380.8 C854.8 382.2 853.7 384.1 853.5 385.8 C853.3 387.4 855.0 389.1 854.8 390.8 C854.5 392.4 852.5 394.1 852.2 395.8 C852.0 397.4 852.2 399.7 853.5 400.8 C854.8 401.8 857.7 401.2 859.8 402.0 C861.8 402.8 865.0 410.3 866.0 405.8 C867.0 401.2 866.8 379.3 866.0 374.5 Z" fill="#003399"/>
<path d="M853.5 405.8 C853.9 405.1 856.5 403.7 857.2 403.9 C858.0 404.1 858.3 406.4 857.9 407.0 C857.5 407.6 855.5 407.8 854.8 407.6 C854.0 407.4 853.1 406.4 853.5 405.8 Z" fill="#003399"/>
</g>
<g clip-path="url(#t14)">
<rect x="864.0" y="282.0" width="141.0" height="141.0" fill="#3399FF"/>
<path d="M884.5 290.2 C885.4 288.6 888.8 288.6 891.3 288.8 C893.9 289.1 897.0 290.7 899.5 291.6 C902.1 292.5 904.8 292.9 906.4 294.3 C908.0 295.7 909.3 298.0 909.1 299.8 C908.9 301.6 905.2 303.6 905.0 305.2 C904.8 306.8 908.2 308.2 907.8 309.3 C907.3 310.5 904.1 312.1 902.3 312.1 C900.5 312.1 898.6 310.7 896.8 309.3 C895.0 308.0 893.2 305.7 891.3 303.9 C889.5 302.1 887.0 300.7 885.9 298.4 C884.7 296.1 883.6 291.8 884.5 290.2 Z" fill="#C8E6FF"/>
<path d="M864.0 317.5 C864.9 316.6 867.2 321.4 869.5 323.0 C871.7 324.6 875.2 326.7 877.7 327.1 C880.2 327.6 882.9 325.3 884.5 325.8 C886.1 326.2 887.9 328.5 887.2 329.9 C886.6 331.2 882.5 333.5 880.4 334.0 C878.4 334.4 876.8 333.5 874.9 332.6 C873.1 331.7 871.3 329.2 869.5 328.5 C867.6 327.8 864.9 330.3 864.0 328.5 C863.1 326.7 863.1 318.5 864.0 317.5 Z" fill="#C8E6FF"/>
<path d="M862.6 336.7 C863.5 334.2 866.1 335.1 868.1 335.3 C870.2 335.6 873.1 336.5 874.9 338.1 C876.8 339.7 878.6 342.8 879.0 344.9 C879.5 346.9 879.3 349.2 877.7 350.4 C876.1 351.5 872.0 351.7 869.5 351.7 C867.0 351.7 863.8 352.9 862.6 350.4 C861.5 347.9 861.7 339.2 862.6 336.7 Z" fill="#C8E6FF"/>
<path d="M870.2 359.9 C871.3 358.5 874.1 357.0 876.3 356.5 C878.5 356.1 881.1 356.2 883.1 357.2 C885.2 358.2 887.4 360.6 888.6 362.7 C889.9 364.7 890.9 367.6 890.7 369.5 C890.4 371.4 889.4 373.4 887.2 374.3 C885.1 375.2 880.4 375.3 877.7 375.0 C874.9 374.6 872.2 373.8 870.8 372.2 C869.5 370.6 869.6 367.5 869.5 365.4 C869.4 363.4 869.0 361.4 870.2 359.9 Z" fill="#C8E6FF"/>
<path d="M931.0 362.7 C931.7 361.5 934.4 360.2 936.5 359.9 C938.5 359.7 941.2 360.4 943.3 361.3 C945.4 362.2 946.5 364.5 948.8 365.4 C951.0 366.3 954.2 367.2 957.0 366.8 C959.7 366.3 963.4 362.9 965.2 362.7 C967.0 362.4 967.9 364.0 967.9 365.4 C967.9 366.8 967.0 369.7 965.2 370.9 C963.4 372.0 959.7 372.2 957.0 372.2 C954.2 372.2 951.5 371.3 948.8 370.9 C946.0 370.4 943.3 370.2 940.6 369.5 C937.8 368.8 934.0 367.9 932.4 366.8 C930.8 365.6 930.3 363.8 931.0 362.7 Z" fill="#C8E6FF"/>
<path d="M970.6 358.6 C972.0 356.9 974.7 356.5 977.5 356.5 C980.2 356.5 984.1 357.5 987.1 358.6 C990.0 359.6 992.1 361.8 995.3 362.7 C998.4 363.6 1004.4 358.6 1006.2 364.0 C1008.0 369.5 1007.6 390.9 1006.2 395.5 C1004.8 400.0 1001.2 392.3 998.0 391.4 C994.8 390.5 989.6 390.9 987.1 390.0 C984.5 389.1 983.9 388.0 982.9 385.9 C982.0 383.9 982.7 380.2 981.6 377.7 C980.4 375.2 978.2 372.7 976.1 370.9 C974.1 369.0 970.2 368.8 969.3 366.8 C968.4 364.7 969.3 360.3 970.6 358.6 Z" fill="#C8E6FF"/>
<path d="M973.4 424.2 C968.6 423.1 975.7 419.4 977.5 417.4 C979.3 415.3 981.8 413.3 984.3 411.9 C986.8 410.5 989.8 410.3 992.5 409.2 C995.3 408.0 998.4 406.0 1000.7 405.1 C1003.0 404.1 1005.3 400.5 1006.2 403.7 C1007.1 406.9 1011.7 420.8 1006.2 424.2 C1000.7 427.6 978.2 425.3 973.4 424.2 Z" fill="#C8E6FF"/>
<path d="M992.5 424.2 C990.7 423.3 993.0 420.1 995.3 418.7 C997.5 417.4 1004.4 415.1 1006.2 416.0 C1008.0 416.9 1008.5 422.8 1006.2 424.2 C1003.9 425.6 994.3 425.1 992.5 424.2 Z" fill="#FFFFFF"/>
<path d="M939.2 390.0 C940.2 389.4 943.8 389.1 946.0 389.3 C948.3 389.6 950.8 390.4 952.9 391.4 C954.9 392.4 957.2 393.4 958.3 395.5 C959.5 397.5 960.4 402.1 959.7 403.7 C959.0 405.3 955.8 405.7 954.2 405.1 C952.6 404.4 951.7 401.4 950.1 399.6 C948.5 397.8 946.4 395.3 944.7 394.1 C943.0 393.0 940.8 393.4 939.9 392.7 C939.0 392.1 938.2 390.6 939.2 390.0 Z" fill="#C8E6FF"/>
<path d="M890.0 402.3 C890.2 400.9 892.9 399.0 895.4 398.2 C898.0 397.4 902.3 397.3 905.0 397.5 C907.8 397.8 910.9 398.6 911.9 399.6 C912.8 400.6 912.1 402.5 910.5 403.7 C908.9 404.8 905.0 406.0 902.3 406.4 C899.5 406.9 896.1 407.1 894.1 406.4 C892.0 405.7 889.7 403.7 890.0 402.3 Z" fill="#C8E6FF"/>
<path d="M924.2 400.9 C925.1 399.9 930.1 398.0 932.4 398.2 C934.6 398.4 937.4 401.2 937.8 402.3 C938.3 403.5 936.9 404.7 935.1 405.1 C933.3 405.4 928.7 405.1 926.9 404.4 C925.1 403.7 923.2 402.0 924.2 400.9 Z" fill="#C8E6FF"/>
<path d="M862.6 405.1 C863.8 402.1 867.4 405.3 869.5 406.4 C871.5 407.6 873.1 410.3 874.9 411.9 C876.8 413.5 880.0 413.9 880.4 416.0 C880.9 418.0 880.6 422.8 877.7 424.2 C874.7 425.6 865.1 427.4 862.6 424.2 C860.1 421.0 861.5 408.0 862.6 405.1 Z" fill="#C8E6FF"/>
<path d="M918.7 417.4 C920.1 415.8 923.2 415.3 926.9 414.6 C930.5 413.9 936.5 413.0 940.6 413.3 C944.7 413.5 948.8 414.2 951.5 416.0 C954.2 417.8 962.4 422.8 957.0 424.2 C951.5 425.6 925.1 425.3 918.7 424.2 C912.3 423.1 917.3 419.0 918.7 417.4 Z" fill="#C8E6FF"/>
<path d="M963.8 282.0 C964.7 281.3 971.1 281.1 973.4 282.0 C975.7 282.9 977.5 286.1 977.5 287.5 C977.5 288.8 975.0 290.4 973.4 290.2 C971.8 290.0 969.5 287.5 967.9 286.1 C966.3 284.7 962.9 282.7 963.8 282.0 Z" fill="#C8E6FF"/>
<path d="M903.6 280.6 C908.7 279.7 928.9 279.7 935.1 280.6 C941.2 281.5 937.8 284.5 940.6 286.1 C943.3 287.7 947.9 289.7 951.5 290.2 C955.1 290.7 958.8 288.6 962.4 288.8 C966.1 289.1 969.7 290.9 973.4 291.6 C977.0 292.3 981.6 293.2 984.3 292.9 C987.1 292.7 988.0 291.3 989.8 290.2 C991.6 289.1 992.5 287.5 995.3 286.1 C998.0 284.7 1004.4 270.4 1006.2 282.0 C1008.0 293.6 1007.1 344.0 1006.2 355.8 C1005.3 367.7 1003.0 353.8 1000.7 353.1 C998.4 352.4 995.3 352.2 992.5 351.7 C989.8 351.3 987.1 350.4 984.3 350.4 C981.6 350.4 978.8 351.3 976.1 351.7 C973.4 352.2 970.6 352.6 967.9 353.1 C965.2 353.6 962.4 354.5 959.7 354.5 C957.0 354.5 953.8 352.9 951.5 353.1 C949.2 353.3 947.2 356.1 946.0 355.8 C944.9 355.6 943.8 353.1 944.7 351.7 C945.6 350.4 951.3 348.8 951.5 347.6 C951.7 346.5 948.3 345.1 946.0 344.9 C943.8 344.7 939.7 346.7 937.8 346.3 C936.0 345.8 934.6 343.8 935.1 342.2 C935.6 340.6 938.3 338.1 940.6 336.7 C942.8 335.3 945.6 334.9 948.8 334.0 C952.0 333.0 957.4 332.4 959.7 331.2 C962.0 330.1 963.4 328.0 962.4 327.1 C961.5 326.2 957.0 326.4 954.2 325.8 C951.5 325.1 948.8 323.7 946.0 323.0 C943.3 322.3 940.6 323.9 937.8 321.6 C935.1 319.4 932.1 311.2 929.6 309.3 C927.1 307.5 925.3 310.0 922.8 310.7 C920.3 311.4 916.9 313.7 914.6 313.4 C912.3 313.2 909.8 310.7 909.1 309.3 C908.4 308.0 908.9 306.4 910.5 305.2 C912.1 304.1 916.9 303.6 918.7 302.5 C920.5 301.4 921.7 299.8 921.4 298.4 C921.2 297.0 919.1 295.7 917.3 294.3 C915.5 292.9 912.5 291.6 910.5 290.2 C908.4 288.8 906.2 287.7 905.0 286.1 C903.9 284.5 898.6 281.5 903.6 280.6 Z" fill="#003399"/>
<path d="M929.6 294.3 C930.5 293.4 936.9 292.5 940.6 292.9 C944.2 293.4 947.9 296.6 951.5 297.0 C955.1 297.5 959.3 295.4 962.4 295.7 C965.6 295.9 969.7 297.5 970.6 298.4 C971.6 299.3 970.2 300.7 967.9 301.1 C965.6 301.6 960.6 301.4 957.0 301.1 C953.3 300.9 949.7 300.2 946.0 299.8 C942.4 299.3 937.8 299.3 935.1 298.4 C932.4 297.5 928.7 295.2 929.6 294.3 Z" fill="#3399FF"/>
<path d="M896.8 361.3 C897.5 360.0 899.1 358.8 900.9 357.9 C902.7 357.0 905.5 356.1 907.8 355.8 C910.0 355.6 912.8 355.6 914.6 356.5 C916.4 357.4 917.6 359.6 918.7 361.3 C919.8 363.0 920.7 364.9 921.4 366.8 C922.1 368.6 923.0 370.4 922.8 372.2 C922.6 374.1 921.4 376.3 920.1 377.7 C918.7 379.1 916.6 380.0 914.6 380.4 C912.5 380.9 909.8 381.1 907.8 380.4 C905.7 379.8 903.9 377.9 902.3 376.3 C900.7 374.7 899.1 372.7 898.2 370.9 C897.3 369.0 897.0 367.0 896.8 365.4 C896.6 363.8 896.1 362.6 896.8 361.3 Z" fill="#003399"/>
<path d="M862.6 376.3 C863.5 372.7 866.1 378.8 868.1 380.4 C870.2 382.0 873.3 384.1 874.9 385.9 C876.5 387.7 877.7 389.6 877.7 391.4 C877.7 393.2 876.3 395.5 874.9 396.8 C873.6 398.2 871.5 398.7 869.5 399.6 C867.4 400.5 863.8 406.2 862.6 402.3 C861.5 398.4 861.7 380.0 862.6 376.3 Z" fill="#003399"/>
<path d="M888.6 388.0 C889.3 387.2 894.0 385.8 895.4 385.9 C896.9 386.0 898.2 387.8 897.5 388.6 C896.8 389.4 892.8 390.8 891.3 390.7 C889.9 390.6 887.9 388.8 888.6 388.0 Z" fill="#003399"/>
<path d="M962.4 400.9 C963.4 399.6 967.9 398.6 970.6 398.2 C973.4 397.9 976.6 398.4 978.8 398.9 C981.1 399.4 984.1 400.0 984.3 400.9 C984.5 401.9 982.3 403.7 980.2 404.4 C978.2 405.1 974.5 404.7 972.0 405.1 C969.5 405.4 966.8 407.1 965.2 406.4 C963.6 405.7 961.5 402.3 962.4 400.9 Z" fill="#003399"/>
<path d="M987.1 299.8 C988.2 297.5 990.2 294.5 992.5 292.9 C994.8 291.3 998.4 290.7 1000.7 290.2 C1003.0 289.7 1005.3 282.0 1006.2 290.2 C1007.1 298.4 1007.1 331.7 1006.2 339.4 C1005.3 347.2 1002.5 337.6 1000.7 336.7 C998.9 335.8 997.5 334.6 995.3 334.0 C993.0 333.3 989.8 332.6 987.1 332.6 C984.3 332.6 981.6 333.3 978.8 334.0 C976.1 334.6 973.4 335.8 970.6 336.7 C967.9 337.6 964.7 339.0 962.4 339.4 C960.2 339.9 957.4 340.1 957.0 339.4 C956.5 338.7 957.9 336.5 959.7 335.3 C961.5 334.2 965.2 333.7 967.9 332.6 C970.6 331.4 973.8 330.1 976.1 328.5 C978.4 326.9 980.2 325.3 981.6 323.0 C982.9 320.7 983.6 317.5 984.3 314.8 C985.0 312.1 985.2 309.1 985.7 306.6 C986.1 304.1 985.9 302.1 987.1 299.8 Z" fill="#663399"/>
</g>
<g clip-path="url(#t15)">
<rect x="96.0" y="410.0" width="129.0" height="129.0" fill="#A6D2DE"/>
<path d="M93.5 407.5 C115.6 397.9 203.9 405.8 226.0 407.5 C248.1 409.2 227.7 415.6 226.0 417.5 C224.3 419.4 219.3 418.6 216.0 418.8 C212.7 418.9 209.3 418.3 206.0 418.1 C202.7 417.9 199.3 417.6 196.0 417.5 C192.7 417.4 189.3 417.7 186.0 417.5 C182.7 417.3 179.3 416.5 176.0 416.2 C172.7 416.0 168.9 415.6 166.0 416.2 C163.1 416.9 161.0 418.3 158.5 420.0 C156.0 421.7 153.5 424.8 151.0 426.2 C148.5 427.7 145.8 428.0 143.5 428.8 C141.2 429.5 138.7 429.4 137.2 430.6 C135.8 431.9 134.8 434.5 134.8 436.2 C134.8 438.0 136.4 439.8 137.2 441.2 C138.1 442.7 140.0 443.1 139.8 445.0 C139.5 446.9 137.0 451.9 136.0 452.5 C135.0 453.1 134.8 449.6 133.5 448.8 C132.2 447.9 130.4 446.9 128.5 447.5 C126.6 448.1 124.1 452.1 122.2 452.5 C120.4 452.9 119.1 450.8 117.2 450.0 C115.4 449.2 112.9 447.3 111.0 447.5 C109.1 447.7 107.5 449.6 106.0 451.2 C104.5 452.9 103.5 455.6 102.2 457.5 C101.0 459.4 100.0 461.2 98.5 462.5 C97.0 463.8 94.3 474.2 93.5 465.0 C92.7 455.8 71.4 417.1 93.5 407.5 Z" fill="#FFFFC8"/>
<path d="M136.0 433.8 C136.6 431.9 137.7 429.8 139.8 428.8 C141.8 427.7 146.2 428.1 148.5 427.5 C150.8 426.9 151.4 426.5 153.5 425.0 C155.6 423.5 158.1 420.2 161.0 418.8 C163.9 417.3 167.2 416.7 171.0 416.2 C174.8 415.8 179.8 416.0 183.5 416.2 C187.2 416.5 190.4 417.2 193.5 417.5 C196.6 417.8 201.8 417.8 202.2 418.1 C202.7 418.4 198.7 418.9 196.0 419.4 C193.3 419.9 188.9 420.3 186.0 421.2 C183.1 422.2 181.0 423.5 178.5 425.0 C176.0 426.5 172.9 428.5 171.0 430.0 C169.1 431.5 168.5 433.3 167.2 433.8 C166.0 434.2 165.0 432.5 163.5 432.5 C162.0 432.5 160.0 433.1 158.5 433.8 C157.0 434.4 155.6 435.2 154.8 436.2 C153.9 437.3 155.0 439.2 153.5 440.0 C152.0 440.8 148.3 440.6 146.0 441.2 C143.7 441.9 141.4 444.0 139.8 443.8 C138.1 443.5 136.6 441.7 136.0 440.0 C135.4 438.3 135.4 435.6 136.0 433.8 Z" fill="#FFFFFF"/>
<path d="M156.0 436.9 C157.5 436.7 163.7 440.7 166.0 440.0 C168.3 439.3 167.9 434.8 169.8 432.5 C171.6 430.2 174.5 427.9 177.2 426.2 C180.0 424.6 182.9 423.3 186.0 422.5 C189.1 421.7 193.1 421.6 196.0 421.2 C198.9 420.9 201.0 420.2 203.5 420.6 C206.0 421.0 208.5 422.2 211.0 423.8 C213.5 425.3 216.0 428.3 218.5 430.0 C221.0 431.7 224.8 428.1 226.0 433.8 C227.2 439.4 227.7 459.0 226.0 463.8 C224.3 468.5 218.9 462.6 216.0 462.5 C213.1 462.4 210.8 463.5 208.5 463.1 C206.2 462.7 203.9 461.1 202.2 460.0 C200.6 458.9 199.8 456.2 198.5 456.2 C197.2 456.2 196.4 458.8 194.8 460.0 C193.1 461.2 190.8 462.7 188.5 463.8 C186.2 464.8 182.9 466.9 181.0 466.2 C179.1 465.6 178.5 462.1 177.2 460.0 C176.0 457.9 175.0 455.8 173.5 453.8 C172.0 451.7 170.4 449.2 168.5 447.5 C166.6 445.8 164.1 444.8 162.2 443.8 C160.4 442.7 158.3 442.4 157.2 441.2 C156.2 440.1 154.5 437.1 156.0 436.9 Z" fill="#A3D1F7"/>
<path d="M203.5 420.2 C203.9 419.5 207.2 418.2 211.0 417.8 C214.8 417.3 223.5 414.8 226.0 417.5 C228.5 420.2 227.2 431.8 226.0 433.8 C224.8 435.7 220.8 430.9 218.5 429.4 C216.2 427.8 213.9 425.5 212.2 424.4 C210.6 423.2 210.0 423.2 208.5 422.5 C207.0 421.8 203.1 421.0 203.5 420.2 Z" fill="#C8E6FF"/>
<path d="M163.5 496.2 C164.6 495.4 166.4 495.0 168.5 495.0 C170.6 495.0 173.9 495.4 176.0 496.2 C178.1 497.1 179.5 498.9 181.0 500.0 C182.5 501.1 183.5 502.8 184.8 503.1 C186.0 503.4 188.3 503.0 188.5 501.9 C188.7 500.7 186.8 498.0 186.0 496.2 C185.2 494.5 183.5 492.7 183.5 491.2 C183.5 489.8 184.8 489.0 186.0 487.5 C187.2 486.0 189.5 484.1 191.0 482.5 C192.5 480.9 193.3 479.3 194.8 478.1 C196.2 477.0 198.1 476.2 199.8 475.6 C201.4 475.0 202.9 474.1 204.8 474.4 C206.6 474.7 208.7 477.0 211.0 477.5 C213.3 478.0 216.0 477.4 218.5 477.5 C221.0 477.6 224.8 467.7 226.0 478.1 C227.2 488.5 233.3 529.7 226.0 540.0 C218.7 550.3 190.0 541.7 182.2 540.0 C174.5 538.3 180.6 532.9 179.8 530.0 C178.9 527.1 178.1 525.4 177.2 522.5 C176.4 519.6 176.0 515.0 174.8 512.5 C173.5 510.0 171.6 509.0 169.8 507.5 C167.9 506.0 164.9 505.0 163.5 503.8 C162.1 502.5 161.6 501.2 161.6 500.0 C161.6 498.8 162.4 497.1 163.5 496.2 Z" fill="#FFFFC8"/>
<path d="M105.4 452.5 C106.0 451.6 108.6 450.0 109.8 450.0 C110.9 450.0 112.5 451.6 112.2 452.5 C112.0 453.4 109.5 455.1 108.5 455.6 C107.5 456.1 106.5 456.1 106.0 455.6 C105.5 455.1 104.8 453.4 105.4 452.5 Z" fill="#A3D1F7"/>
</g>
<g clip-path="url(#t16)">
<rect x="224.0" y="410.0" width="129.0" height="129.0" fill="#FFFFFF"/>
<path d="M221.5 407.5 C224.4 385.4 235.7 406.2 239.0 407.5 C242.3 408.8 240.0 412.3 241.5 415.0 C243.0 417.7 245.7 420.6 247.8 423.8 C249.8 426.9 251.7 430.6 254.0 433.8 C256.3 436.9 258.8 440.0 261.5 442.5 C264.2 445.0 267.3 447.0 270.2 448.8 C273.2 450.5 276.7 451.9 279.0 453.1 C281.3 454.4 282.1 455.5 284.0 456.2 C285.9 457.0 288.4 457.5 290.2 457.5 C292.1 457.5 294.3 455.8 295.2 456.2 C296.2 456.7 296.9 459.2 295.9 460.0 C294.8 460.8 291.0 460.6 289.0 461.2 C287.0 461.9 284.4 462.3 284.0 463.8 C283.6 465.2 286.7 468.3 286.5 470.0 C286.3 471.7 284.0 472.7 282.8 473.8 C281.5 474.8 279.6 474.4 279.0 476.2 C278.4 478.1 279.4 482.3 279.0 485.0 C278.6 487.7 277.3 490.4 276.5 492.5 C275.7 494.6 273.6 496.2 274.0 497.5 C274.4 498.8 278.6 498.8 279.0 500.0 C279.4 501.2 278.0 503.8 276.5 505.0 C275.0 506.2 271.9 506.5 270.2 507.5 C268.6 508.5 266.3 510.0 266.5 511.2 C266.7 512.5 270.9 513.1 271.5 515.0 C272.1 516.9 270.0 520.0 270.2 522.5 C270.5 525.0 272.5 527.1 272.8 530.0 C273.0 532.9 280.0 538.3 271.5 540.0 C263.0 541.7 229.8 562.1 221.5 540.0 C213.2 517.9 218.6 429.6 221.5 407.5 Z" fill="#FFFFC8"/>
<path d="M349.0 515.0 C350.0 513.3 353.2 510.6 354.0 513.8 C354.8 516.9 354.8 530.6 354.0 533.8 C353.2 536.9 350.0 534.2 349.0 532.5 C348.0 530.8 347.8 526.7 347.8 523.8 C347.8 520.8 348.0 516.7 349.0 515.0 Z" fill="#FFFFC8"/>
<path d="M339.0 408.8 C340.7 407.5 351.5 406.2 354.0 408.8 C356.5 411.2 354.8 421.7 354.0 423.8 C353.2 425.8 350.7 422.5 349.0 421.2 C347.3 420.0 345.7 418.3 344.0 416.2 C342.3 414.2 337.3 410.0 339.0 408.8 Z" fill="#C8E6FF"/>
<path d="M221.5 425.0 C223.0 417.2 227.3 424.8 230.2 425.6 C233.2 426.5 236.7 427.8 239.0 430.0 C241.3 432.2 242.5 435.6 244.0 438.8 C245.5 441.9 248.0 445.4 247.8 448.8 C247.5 452.1 244.2 456.0 242.8 458.8 C241.3 461.5 240.9 462.9 239.0 465.0 C237.1 467.1 234.4 470.0 231.5 471.2 C228.6 472.5 223.2 480.2 221.5 472.5 C219.8 464.8 220.0 432.8 221.5 425.0 Z" fill="#A9D0EA"/>
<path d="M221.5 431.2 C222.8 423.6 226.9 430.5 229.0 430.6 C231.1 430.7 232.5 430.9 234.0 431.9 C235.5 432.8 236.7 434.5 237.8 436.2 C238.8 438.0 240.0 440.2 240.2 442.5 C240.5 444.8 239.8 447.5 239.0 450.0 C238.2 452.5 236.3 455.2 235.2 457.5 C234.2 459.8 233.8 461.7 232.8 463.8 C231.7 465.8 230.0 468.1 229.0 470.0 C228.0 471.9 227.8 474.0 226.5 475.0 C225.2 476.0 222.3 483.5 221.5 476.2 C220.7 469.0 220.2 438.9 221.5 431.2 Z" fill="#A3D1F7"/>
<path d="M224.0 410.0 L224.0 410.0 L224.0 410.0 Z" fill="#003399"/>
</g>
<g clip-path="url(#t17)">
<rect x="352.0" y="410.0" width="129.0" height="129.0" fill="#FFFFFF"/>
<path d="M349.5 407.5 C367.0 404.0 437.6 406.5 454.5 407.5 C471.4 408.5 452.4 411.7 450.8 413.8 C449.1 415.8 446.4 418.1 444.5 420.0 C442.6 421.9 441.2 422.9 439.5 425.0 C437.8 427.1 436.2 430.0 434.5 432.5 C432.8 435.0 431.2 438.1 429.5 440.0 C427.8 441.9 426.2 443.3 424.5 443.8 C422.8 444.2 421.2 442.1 419.5 442.5 C417.8 442.9 416.2 445.2 414.5 446.2 C412.8 447.3 411.2 447.7 409.5 448.8 C407.8 449.8 406.2 452.1 404.5 452.5 C402.8 452.9 400.5 452.5 399.5 451.2 C398.5 450.0 398.9 447.1 398.2 445.0 C397.6 442.9 395.5 441.0 395.8 438.8 C396.0 436.5 400.1 432.8 399.5 431.2 C398.9 429.7 394.3 429.2 392.0 429.4 C389.7 429.6 388.0 431.1 385.8 432.5 C383.5 433.9 380.8 436.2 378.2 437.5 C375.8 438.8 373.2 439.9 370.8 440.0 C368.2 440.1 365.5 439.0 363.2 438.1 C361.0 437.3 358.9 435.9 357.0 435.0 C355.1 434.1 353.2 433.5 352.0 432.5 C350.8 431.5 349.9 432.9 349.5 428.8 C349.1 424.6 332.0 411.0 349.5 407.5 Z" fill="#C8E6FF"/>
<path d="M464.5 407.5 C466.8 406.7 479.1 406.5 482.0 407.5 C484.9 408.5 483.2 412.4 482.0 413.8 C480.8 415.1 476.8 415.8 474.5 415.6 C472.2 415.4 469.9 413.9 468.2 412.5 C466.6 411.1 462.2 408.3 464.5 407.5 Z" fill="#C8E6FF"/>
<path d="M398.2 466.2 C398.8 465.0 400.5 462.7 402.0 461.9 C403.5 461.0 405.3 460.6 407.0 461.2 C408.7 461.9 410.5 465.2 412.0 465.6 C413.5 466.0 415.3 464.7 415.8 463.8 C416.2 462.8 415.1 460.8 414.5 460.0 C413.9 459.2 411.6 458.8 412.0 458.8 C412.4 458.8 416.0 458.8 417.0 460.0 C418.0 461.2 417.4 464.6 418.2 466.2 C419.1 467.9 420.4 469.4 422.0 470.0 C423.6 470.6 426.8 469.0 427.6 470.0 C428.5 471.0 427.9 474.7 427.0 476.2 C426.1 477.8 423.7 479.1 422.0 479.4 C420.3 479.7 418.5 479.3 417.0 478.1 C415.5 477.0 414.7 473.6 413.2 472.5 C411.8 471.4 410.1 471.5 408.2 471.2 C406.4 471.0 403.6 471.6 402.0 471.2 C400.4 470.9 399.5 470.2 398.9 469.4 C398.2 468.5 397.7 467.5 398.2 466.2 Z" fill="#A3D1F7"/>
<path d="M387.6 472.5 C388.1 471.6 391.0 471.2 392.0 471.9 C393.0 472.5 393.9 474.7 393.9 476.2 C393.9 477.8 392.8 481.0 392.0 481.2 C391.2 481.5 389.6 479.0 388.9 477.5 C388.1 476.0 387.1 473.4 387.6 472.5 Z" fill="#A3D1F7"/>
<path d="M389.5 483.8 C390.5 482.8 392.4 482.3 394.5 481.9 C396.6 481.5 399.5 481.2 402.0 481.2 C404.5 481.2 407.6 481.5 409.5 481.9 C411.4 482.3 413.5 482.6 413.2 483.8 C413.0 484.9 410.1 488.2 408.2 488.8 C406.4 489.3 404.3 487.4 402.0 486.9 C399.7 486.4 396.6 484.7 394.5 485.6 C392.4 486.6 390.5 492.2 389.5 492.5 C388.5 492.8 388.2 489.0 388.2 487.5 C388.2 486.0 388.5 484.7 389.5 483.8 Z" fill="#A3D1F7"/>
<path d="M398.2 483.1 L407.0 483.1 L407.6 486.2 L402.0 486.5 Z" fill="#3399FF"/>
<path d="M365.8 487.5 C366.5 486.2 368.0 484.6 369.5 483.8 C371.0 482.9 372.7 482.7 374.5 482.5 C376.3 482.3 379.7 482.0 380.1 482.5 C380.5 483.0 378.4 484.8 377.0 485.6 C375.6 486.5 373.0 486.4 372.0 487.5 C371.0 488.6 371.5 491.2 370.8 492.5 C370.0 493.8 368.6 495.2 367.6 495.0 C366.7 494.8 365.4 492.5 365.1 491.2 C364.8 490.0 365.0 488.8 365.8 487.5 Z" fill="#A9D0EA"/>
<path d="M349.5 497.5 C351.2 490.2 357.2 496.7 359.5 496.2 C361.8 495.8 361.0 493.9 363.2 495.0 C365.5 496.1 371.4 502.7 373.2 503.1 C375.1 503.5 373.0 498.6 374.5 497.5 C376.0 496.4 379.5 496.7 382.0 496.2 C384.5 495.8 386.6 495.4 389.5 495.0 C392.4 494.6 396.2 494.1 399.5 493.8 C402.8 493.4 406.6 493.1 409.5 493.1 C412.4 493.1 414.9 493.0 417.0 493.8 C419.1 494.5 420.3 496.7 422.0 497.5 C423.7 498.3 424.9 499.2 427.0 498.8 C429.1 498.3 432.0 496.0 434.5 495.0 C437.0 494.0 439.5 493.3 442.0 492.5 C444.5 491.7 447.0 490.6 449.5 490.0 C452.0 489.4 454.5 488.5 457.0 488.8 C459.5 489.0 462.2 490.0 464.5 491.2 C466.8 492.5 468.7 494.8 470.8 496.2 C472.8 497.7 475.1 499.0 477.0 500.0 C478.9 501.0 481.2 495.8 482.0 502.5 C482.8 509.2 504.1 533.8 482.0 540.0 C459.9 546.2 371.6 547.1 349.5 540.0 C327.4 532.9 347.8 504.8 349.5 497.5 Z" fill="#FFFFC8"/>
<path d="M367.0 522.5 C367.8 519.2 367.0 520.2 370.8 520.0 C374.5 519.8 386.1 519.8 389.5 521.2 C392.9 522.7 391.2 525.6 391.4 528.8 C391.6 531.9 395.0 538.1 390.8 540.0 C386.5 541.9 369.7 542.9 365.8 540.0 C361.8 537.1 366.2 525.8 367.0 522.5 Z" fill="#FFFFFF"/>
<path d="M349.5 496.9 C351.7 493.9 361.1 494.7 362.6 495.6 C364.2 496.6 360.2 500.1 358.9 502.5 C357.5 504.9 356.1 508.1 354.5 510.0 C352.9 511.9 350.3 515.9 349.5 513.8 C348.7 511.6 347.3 499.9 349.5 496.9 Z" fill="#FFFFFF"/>
<path d="M362.6 495.0 C364.1 493.3 366.9 490.4 368.2 490.0 C369.6 489.6 371.0 490.8 370.8 492.5 C370.5 494.2 368.0 497.5 367.0 500.0 C366.0 502.5 365.1 504.8 364.5 507.5 C363.9 510.2 364.1 513.3 363.2 516.2 C362.4 519.2 360.8 522.3 359.5 525.0 C358.2 527.7 357.2 531.2 355.8 532.5 C354.3 533.8 351.6 535.2 350.8 532.5 C349.9 529.8 349.9 520.4 350.8 516.2 C351.6 512.1 354.3 510.2 355.8 507.5 C357.2 504.8 358.4 502.1 359.5 500.0 C360.6 497.9 361.2 496.7 362.6 495.0 Z" fill="#A6D2DE"/>
<path d="M381.4 494.4 L383.9 495.0 L389.5 501.2 L388.2 501.9 L383.2 497.5 Z" fill="#A3D1F7"/>
</g>
<g clip-path="url(#t18)">
<rect x="480.0" y="410.0" width="129.0" height="129.0" fill="#FFFFFF"/>
<path d="M532.5 407.5 C545.5 406.0 597.1 399.4 610.0 407.5 C622.9 415.6 611.2 447.5 610.0 456.2 C608.8 465.0 605.0 459.2 602.5 460.0 C600.0 460.8 597.5 460.4 595.0 461.2 C592.5 462.1 590.0 464.0 587.5 465.0 C585.0 466.0 581.8 467.5 580.0 467.5 C578.2 467.5 577.9 464.6 576.9 465.0 C575.8 465.4 575.1 468.5 573.8 470.0 C572.4 471.5 569.9 473.5 568.8 473.8 C567.6 474.0 567.1 472.5 566.9 471.2 C566.7 470.0 568.2 467.3 567.5 466.2 C566.8 465.2 564.6 465.6 562.5 465.0 C560.4 464.4 557.1 463.3 555.0 462.5 C552.9 461.7 551.2 461.2 550.0 460.0 C548.8 458.8 548.1 457.1 547.5 455.0 C546.9 452.9 546.7 449.8 546.2 447.5 C545.8 445.2 545.8 443.5 545.0 441.2 C544.2 439.0 542.5 436.0 541.2 433.8 C540.0 431.5 538.8 429.4 537.5 427.5 C536.2 425.6 534.7 424.4 533.8 422.5 C532.8 420.6 532.1 418.8 531.9 416.2 C531.7 413.8 519.5 409.0 532.5 407.5 Z" fill="#C8E6FF"/>
<path d="M477.5 407.5 C479.2 406.2 486.2 406.5 487.5 407.5 C488.8 408.5 486.7 412.5 485.0 413.8 C483.3 415.0 478.8 416.0 477.5 415.0 C476.2 414.0 475.8 408.8 477.5 407.5 Z" fill="#C8E6FF"/>
<path d="M501.2 408.8 C501.9 408.2 508.1 408.2 508.8 408.8 C509.4 409.3 506.2 411.9 505.0 411.9 C503.8 411.9 500.6 409.3 501.2 408.8 Z" fill="#C8E6FF"/>
<path d="M552.5 408.8 C554.1 407.5 559.6 407.7 561.2 408.8 C562.9 409.8 562.9 413.3 562.5 415.0 C562.1 416.7 560.2 417.9 558.8 418.8 C557.3 419.6 554.9 420.4 553.8 420.0 C552.6 419.6 552.1 418.1 551.9 416.2 C551.7 414.4 550.9 410.0 552.5 408.8 Z" fill="#3399FF"/>
<path d="M477.5 503.1 C478.8 497.3 482.5 504.1 485.0 505.0 C487.5 505.9 489.6 507.7 492.5 508.8 C495.4 509.8 499.2 510.4 502.5 511.2 C505.8 512.1 509.2 513.1 512.5 513.8 C515.8 514.4 519.2 514.9 522.5 515.0 C525.8 515.1 529.2 514.5 532.5 514.4 C535.8 514.3 539.2 514.2 542.5 514.4 C545.8 514.6 549.2 515.5 552.5 515.6 C555.8 515.7 560.0 515.3 562.5 515.0 C565.0 514.7 565.4 514.1 567.5 513.8 C569.6 513.4 572.1 512.9 575.0 513.1 C577.9 513.3 581.7 514.5 585.0 515.0 C588.3 515.5 591.7 515.8 595.0 516.2 C598.3 516.7 602.5 517.3 605.0 517.5 C607.5 517.7 609.2 513.8 610.0 517.5 C610.8 521.2 632.1 536.2 610.0 540.0 C587.9 543.8 499.6 546.1 477.5 540.0 C455.4 533.9 476.2 509.0 477.5 503.1 Z" fill="#FFFFC8"/>
</g>
<g clip-path="url(#t19)">
<rect x="608.0" y="410.0" width="129.0" height="129.0" fill="#C8E6FF"/>
<path d="M605.5 456.2 C607.2 441.8 612.4 453.9 615.5 453.1 C618.6 452.4 621.3 451.9 624.2 451.9 C627.2 451.9 630.3 452.2 633.0 453.1 C635.7 454.1 638.4 456.1 640.5 457.5 C642.6 458.9 643.4 460.5 645.5 461.2 C647.6 462.0 650.5 462.0 653.0 461.9 C655.5 461.8 658.4 460.5 660.5 460.6 C662.6 460.7 664.4 461.1 665.5 462.5 C666.6 463.9 667.0 466.9 667.4 468.8 C667.8 470.6 667.3 471.9 668.0 473.8 C668.7 475.6 670.9 478.1 671.8 480.0 C672.6 481.9 672.0 483.3 673.0 485.0 C674.0 486.7 676.3 488.3 678.0 490.0 C679.7 491.7 681.3 493.1 683.0 495.0 C684.7 496.9 686.1 499.0 688.0 501.2 C689.9 503.5 692.4 506.7 694.2 508.8 C696.1 510.8 697.2 512.3 699.2 513.8 C701.3 515.2 704.2 516.7 706.8 517.5 C709.2 518.3 712.0 519.0 714.2 518.8 C716.5 518.5 718.6 517.7 720.5 516.2 C722.4 514.8 724.5 512.3 725.5 510.0 C726.5 507.7 726.3 504.8 726.8 502.5 C727.2 500.2 727.0 497.5 728.0 496.2 C729.0 495.0 731.3 495.2 733.0 495.0 C734.7 494.8 737.2 487.5 738.0 495.0 C738.8 502.5 760.1 532.5 738.0 540.0 C715.9 547.5 627.6 554.0 605.5 540.0 C583.4 526.0 603.8 470.7 605.5 456.2 Z" fill="#FFFFFF"/>
<path d="M605.5 522.5 C606.8 519.7 611.1 522.3 613.0 523.1 C614.9 524.0 614.9 526.4 616.8 527.5 C618.6 528.6 621.5 529.5 624.2 530.0 C627.0 530.5 630.1 530.3 633.0 530.6 C635.9 530.9 639.5 531.1 641.8 531.9 C644.0 532.6 645.7 533.6 646.8 535.0 C647.8 536.4 654.9 539.2 648.0 540.0 C641.1 540.8 612.6 542.9 605.5 540.0 C598.4 537.1 604.2 525.3 605.5 522.5 Z" fill="#FFFFC8"/>
<path d="M641.1 436.9 C641.3 435.5 644.6 433.2 645.5 431.2 C646.4 429.3 645.3 426.5 646.8 425.0 C648.2 423.5 652.8 424.2 654.2 422.5 C655.7 420.8 654.5 416.8 655.5 415.0 C656.5 413.2 658.6 412.5 660.5 411.9 C662.4 411.2 665.5 411.8 666.8 411.2 C668.0 410.7 656.1 409.2 668.0 408.8 C679.9 408.3 726.3 404.0 738.0 408.8 C749.7 413.5 739.0 433.1 738.0 437.5 C737.0 441.9 733.8 435.2 731.8 435.0 C729.7 434.8 727.8 435.5 725.5 436.2 C723.2 437.0 720.5 438.0 718.0 439.4 C715.5 440.7 713.0 442.8 710.5 444.4 C708.0 445.9 705.3 447.3 703.0 448.8 C700.7 450.2 698.4 452.3 696.8 453.1 C695.1 454.0 694.2 454.3 693.0 453.8 C691.8 453.2 690.3 451.2 689.2 450.0 C688.2 448.8 688.0 446.7 686.8 446.2 C685.5 445.8 683.6 447.3 681.8 447.5 C679.9 447.7 677.8 447.3 675.5 447.5 C673.2 447.7 670.3 448.1 668.0 448.8 C665.7 449.4 663.4 450.2 661.8 451.2 C660.1 452.3 659.5 454.6 658.0 455.0 C656.5 455.4 654.0 454.2 653.0 453.8 C652.0 453.3 651.3 453.5 651.8 452.5 C652.2 451.5 655.1 449.2 655.5 447.5 C655.9 445.8 655.3 443.6 654.2 442.5 C653.2 441.4 650.9 441.1 649.2 440.6 C647.6 440.1 645.6 440.0 644.2 439.4 C642.9 438.8 640.9 438.2 641.1 436.9 Z" fill="#3399FF"/>
<path d="M675.5 408.8 C676.3 407.9 678.8 407.9 680.5 408.8 C682.2 409.6 683.8 412.3 685.5 413.8 C687.2 415.2 689.9 416.2 690.5 417.5 C691.1 418.8 690.1 421.2 689.2 421.2 C688.4 421.2 687.0 418.8 685.5 417.5 C684.0 416.2 682.2 414.4 680.5 413.8 C678.8 413.1 676.3 414.6 675.5 413.8 C674.7 412.9 674.7 409.6 675.5 408.8 Z" fill="#C8E6FF"/>
<path d="M704.2 417.5 C704.5 416.5 706.8 415.9 708.0 415.0 C709.2 414.1 710.7 411.9 711.8 411.9 C712.8 411.9 713.3 413.9 714.2 415.0 C715.2 416.1 717.2 417.5 717.4 418.8 C717.6 420.0 716.6 421.8 715.5 422.5 C714.4 423.2 712.0 423.3 710.5 423.1 C709.0 422.9 707.8 422.2 706.8 421.2 C705.7 420.3 704.0 418.5 704.2 417.5 Z" fill="#003399"/>
<path d="M711.8 480.0 C712.2 478.3 714.0 476.9 715.5 475.0 C717.0 473.1 718.4 470.4 720.5 468.8 C722.6 467.1 725.9 466.9 728.0 465.0 C730.1 463.1 731.3 459.2 733.0 457.5 C734.7 455.8 737.2 450.4 738.0 455.0 C738.8 459.6 739.2 479.8 738.0 485.0 C736.8 490.2 732.2 485.0 730.5 486.2 C728.8 487.5 728.6 489.8 728.0 492.5 C727.4 495.2 727.2 499.6 726.8 502.5 C726.3 505.4 726.5 509.4 725.5 510.0 C724.5 510.6 722.2 507.9 720.5 506.2 C718.8 504.6 717.4 501.7 715.5 500.0 C713.6 498.3 710.1 497.9 709.2 496.2 C708.4 494.6 709.9 491.9 710.5 490.0 C711.1 488.1 712.8 486.7 713.0 485.0 C713.2 483.3 711.3 481.7 711.8 480.0 Z" fill="#8FC5FA"/>
</g>
<g clip-path="url(#t20)">
<rect x="736.0" y="410.0" width="129.0" height="129.0" fill="#FFFFFF"/>
<path d="M733.5 407.5 C755.6 394.2 843.9 400.2 866.0 407.5 C888.1 414.8 866.8 444.6 866.0 451.2 C865.2 457.9 862.7 447.9 861.0 447.5 C859.3 447.1 857.7 447.9 856.0 448.8 C854.3 449.6 852.9 451.0 851.0 452.5 C849.1 454.0 846.8 456.2 844.8 457.5 C842.7 458.8 840.8 459.2 838.5 460.0 C836.2 460.8 833.5 461.7 831.0 462.5 C828.5 463.3 826.0 464.3 823.5 465.0 C821.0 465.7 818.5 466.5 816.0 466.9 C813.5 467.3 810.6 467.8 808.5 467.5 C806.4 467.2 805.2 466.2 803.5 465.0 C801.8 463.8 800.6 461.2 798.5 460.0 C796.4 458.8 793.5 457.8 791.0 457.5 C788.5 457.2 786.4 457.8 783.5 458.1 C780.6 458.4 776.4 459.1 773.5 459.4 C770.6 459.7 768.5 459.5 766.0 460.0 C763.5 460.5 760.8 461.0 758.5 462.5 C756.2 464.0 754.3 466.5 752.2 468.8 C750.2 471.0 748.1 473.8 746.0 476.2 C743.9 478.8 741.8 481.9 739.8 483.8 C737.7 485.6 734.5 500.2 733.5 487.5 C732.5 474.8 711.4 420.8 733.5 407.5 Z" fill="#C8E6FF"/>
<path d="M842.2 472.5 C842.5 470.6 843.7 467.1 844.8 465.0 C845.8 462.9 846.6 461.5 848.5 460.0 C850.4 458.5 853.1 457.5 856.0 456.2 C858.9 455.0 864.3 448.5 866.0 452.5 C867.7 456.5 867.2 475.6 866.0 480.0 C864.8 484.4 861.4 479.2 858.5 478.8 C855.6 478.3 851.0 477.9 848.5 477.5 C846.0 477.1 844.5 477.1 843.5 476.2 C842.5 475.4 842.0 474.4 842.2 472.5 Z" fill="#C8E6FF"/>
<path d="M733.5 407.5 C755.6 402.5 843.9 406.2 866.0 407.5 C888.1 408.8 867.7 413.5 866.0 415.0 C864.3 416.5 858.9 416.2 856.0 416.2 C853.1 416.2 851.0 415.4 848.5 415.0 C846.0 414.6 843.3 413.5 841.0 413.8 C838.7 414.0 836.4 415.2 834.8 416.2 C833.1 417.3 832.9 419.0 831.0 420.0 C829.1 421.0 826.0 421.9 823.5 422.5 C821.0 423.1 818.5 423.6 816.0 423.8 C813.5 423.9 811.0 423.5 808.5 423.1 C806.0 422.7 803.5 421.6 801.0 421.2 C798.5 420.9 796.0 420.6 793.5 421.2 C791.0 421.9 788.3 424.2 786.0 425.0 C783.7 425.8 781.8 426.9 779.8 426.2 C777.7 425.6 775.4 422.3 773.5 421.2 C771.6 420.2 770.6 419.4 768.5 420.0 C766.4 420.6 763.3 423.3 761.0 425.0 C758.7 426.7 756.8 428.3 754.8 430.0 C752.7 431.7 750.4 433.3 748.5 435.0 C746.6 436.7 745.2 439.2 743.5 440.0 C741.8 440.8 740.2 440.4 738.5 440.0 C736.8 439.6 734.3 442.9 733.5 437.5 C732.7 432.1 711.4 412.5 733.5 407.5 Z" fill="#3399FF"/>
<path d="M747.2 416.2 L748.5 412.5 L750.4 410.6 L751.0 413.8 L748.5 417.5 Z" fill="#003399"/>
<path d="M753.5 411.2 L756.6 410.0 L756.0 413.8 L754.1 414.4 Z" fill="#003399"/>
<path d="M794.8 410.0 L803.5 409.4 L802.2 412.5 L796.0 413.1 Z" fill="#003399"/>
<path d="M806.0 410.6 L812.2 410.0 L812.9 413.1 L807.9 413.1 Z" fill="#003399"/>
<path d="M733.5 453.8 C734.8 449.5 738.1 452.8 741.0 452.5 C743.9 452.2 747.7 452.3 751.0 451.9 C754.3 451.5 758.1 450.1 761.0 450.0 C763.9 449.9 766.4 450.6 768.5 451.2 C770.6 451.9 771.0 453.6 773.5 453.8 C776.0 453.9 780.6 452.3 783.5 451.9 C786.4 451.5 788.5 451.1 791.0 451.2 C793.5 451.4 796.0 452.7 798.5 452.5 C801.0 452.3 803.5 450.2 806.0 450.0 C808.5 449.8 811.6 451.7 813.5 451.2 C815.4 450.8 815.6 448.6 817.2 447.5 C818.9 446.4 821.6 445.5 823.5 444.4 C825.4 443.2 826.6 441.4 828.5 440.6 C830.4 439.9 833.2 439.4 834.8 440.0 C836.3 440.6 837.9 442.7 837.9 444.4 C837.9 446.0 835.7 448.3 834.8 450.0 C833.8 451.7 834.1 453.4 832.2 454.4 C830.4 455.3 825.8 455.5 823.5 455.6 C821.2 455.7 819.8 454.6 818.5 455.0 C817.2 455.4 817.7 457.5 816.0 458.1 C814.3 458.8 811.0 458.8 808.5 458.8 C806.0 458.8 803.3 459.0 801.0 458.1 C798.7 457.3 796.8 453.8 794.8 453.8 C792.7 453.8 791.0 457.6 788.5 458.1 C786.0 458.6 782.5 457.2 779.8 456.9 C777.0 456.6 774.5 455.7 772.2 456.2 C770.0 456.8 768.5 459.2 766.0 460.0 C763.5 460.8 759.5 460.4 757.2 461.2 C755.0 462.1 754.5 464.4 752.2 465.0 C750.0 465.6 745.8 464.2 743.5 465.0 C741.2 465.8 739.3 468.1 738.5 470.0 C737.7 471.9 739.3 474.9 738.5 476.2 C737.7 477.6 734.3 481.9 733.5 478.1 C732.7 474.4 732.2 458.0 733.5 453.8 Z" fill="#8FC5FA"/>
<path d="M832.2 508.8 C832.5 507.1 834.3 505.6 836.0 503.8 C837.7 501.9 840.2 499.6 842.2 497.5 C844.3 495.4 846.2 493.1 848.5 491.2 C850.8 489.4 853.1 487.5 856.0 486.2 C858.9 485.0 864.3 478.3 866.0 483.8 C867.7 489.2 867.2 512.7 866.0 518.8 C864.8 524.8 860.8 520.2 858.5 520.0 C856.2 519.8 854.3 517.7 852.2 517.5 C850.2 517.3 848.1 519.0 846.0 518.8 C843.9 518.5 841.6 517.1 839.8 516.2 C837.9 515.4 836.0 515.0 834.8 513.8 C833.5 512.5 832.0 510.4 832.2 508.8 Z" fill="#C8E6FF"/>
<path d="M841.0 507.5 C841.6 505.6 844.1 502.5 846.0 500.0 C847.9 497.5 850.2 494.4 852.2 492.5 C854.3 490.6 856.2 489.6 858.5 488.8 C860.8 487.9 864.8 483.3 866.0 487.5 C867.2 491.7 867.2 509.0 866.0 513.8 C864.8 518.5 860.8 516.0 858.5 516.2 C856.2 516.5 854.3 515.4 852.2 515.0 C850.2 514.6 847.7 514.4 846.0 513.8 C844.3 513.1 843.1 512.3 842.2 511.2 C841.4 510.2 840.4 509.4 841.0 507.5 Z" fill="#3399FF"/>
<path d="M848.5 506.2 C848.5 503.9 850.8 500.0 852.2 497.5 C853.7 495.0 855.0 492.5 857.2 491.2 C859.5 490.0 864.5 486.7 866.0 490.0 C867.5 493.3 867.2 507.4 866.0 511.2 C864.8 515.1 860.8 513.0 858.5 513.1 C856.2 513.2 853.9 513.0 852.2 511.9 C850.6 510.7 848.5 508.6 848.5 506.2 Z" fill="#003399"/>
<path d="M793.5 530.0 C793.7 527.5 794.8 526.1 796.0 525.0 C797.2 523.9 799.3 522.9 801.0 523.1 C802.7 523.3 803.9 525.1 806.0 526.2 C808.1 527.4 811.0 529.6 813.5 530.0 C816.0 530.4 818.9 530.0 821.0 528.8 C823.1 527.5 824.3 524.0 826.0 522.5 C827.7 521.0 829.3 520.0 831.0 520.0 C832.7 520.0 834.3 521.5 836.0 522.5 C837.7 523.5 838.9 525.4 841.0 526.2 C843.1 527.1 846.0 527.7 848.5 527.5 C851.0 527.3 853.1 525.8 856.0 525.0 C858.9 524.2 864.3 520.0 866.0 522.5 C867.7 525.0 877.9 537.1 866.0 540.0 C854.1 542.9 806.8 541.7 794.8 540.0 C782.7 538.3 793.3 532.5 793.5 530.0 Z" fill="#FFFFC8"/>
<path d="M829.8 527.5 L832.9 528.1 L832.2 530.6 L829.8 530.0 Z" fill="#C8E6FF"/>
</g>
<g clip-path="url(#t21)">
<rect x="864.0" y="410.0" width="141.0" height="141.0" fill="#FFFFFF"/>
<path d="M861.3 407.3 C884.5 395.2 978.4 406.1 1000.7 407.3 C1023.1 408.4 997.5 412.3 995.3 414.1 C993.0 415.9 989.8 416.8 987.1 418.2 C984.3 419.6 981.6 420.9 978.8 422.3 C976.1 423.7 972.9 425.0 970.6 426.4 C968.4 427.8 966.5 428.7 965.2 430.5 C963.8 432.3 962.9 434.8 962.4 437.3 C962.0 439.9 962.9 442.8 962.4 445.5 C962.0 448.3 961.1 451.0 959.7 453.8 C958.3 456.5 956.5 459.4 954.2 462.0 C952.0 464.5 948.8 466.7 946.0 468.8 C943.3 470.8 940.6 473.1 937.8 474.3 C935.1 475.4 932.1 475.6 929.6 475.6 C927.1 475.6 924.6 475.2 922.8 474.3 C921.0 473.3 921.0 471.3 918.7 470.2 C916.4 469.0 912.1 468.3 909.1 467.4 C906.2 466.5 903.9 464.7 900.9 464.7 C898.0 464.7 894.5 466.3 891.3 467.4 C888.2 468.6 885.0 470.2 881.8 471.5 C878.6 472.9 875.2 474.5 872.2 475.6 C869.2 476.8 865.8 477.7 864.0 478.4 C862.2 479.0 861.7 491.6 861.3 479.7 C860.8 467.9 838.0 419.3 861.3 407.3 Z" fill="#C8E6FF"/>
<path d="M906.4 437.3 C906.8 436.0 909.1 434.8 910.5 434.6 C911.9 434.4 914.4 434.8 914.6 436.0 C914.8 437.1 913.0 440.3 911.9 441.4 C910.7 442.6 908.7 443.5 907.8 442.8 C906.8 442.1 905.9 438.7 906.4 437.3 Z" fill="#FFFFFF"/>
<path d="M924.2 437.3 C924.8 436.2 927.3 435.1 929.6 435.3 C931.9 435.5 937.4 437.5 937.8 438.7 C938.3 440.0 934.4 442.2 932.4 442.8 C930.3 443.4 926.9 443.0 925.5 442.1 C924.2 441.2 923.5 438.5 924.2 437.3 Z" fill="#FFFFFF"/>
<path d="M866.7 444.2 C867.6 443.3 870.6 442.4 872.2 442.8 C873.8 443.3 876.3 445.8 876.3 446.9 C876.3 448.1 873.8 449.4 872.2 449.6 C870.6 449.9 867.6 449.2 866.7 448.3 C865.8 447.4 865.8 445.1 866.7 444.2 Z" fill="#FFFFFF"/>
<path d="M872.2 452.4 C873.3 451.0 879.3 448.1 881.8 448.3 C884.3 448.5 885.9 451.7 887.2 453.8 C888.6 455.8 890.2 459.0 890.0 460.6 C889.7 462.2 887.5 463.6 885.9 463.3 C884.3 463.1 882.2 460.4 880.4 459.2 C878.6 458.1 876.3 457.6 874.9 456.5 C873.6 455.3 871.1 453.8 872.2 452.4 Z" fill="#FFFFFF"/>
<path d="M880.4 464.7 C881.3 463.9 886.8 463.6 888.6 464.0 C890.4 464.5 892.3 466.6 891.3 467.4 C890.4 468.2 885.0 469.2 883.1 468.8 C881.3 468.3 879.5 465.5 880.4 464.7 Z" fill="#FFFFFF"/>
<path d="M982.9 481.1 C982.9 479.4 985.0 477.2 987.1 475.6 C989.1 474.0 992.1 472.7 995.3 471.5 C998.4 470.4 1004.4 466.3 1006.2 468.8 C1008.0 471.3 1008.0 483.4 1006.2 486.6 C1004.4 489.8 998.4 488.0 995.3 487.9 C992.1 487.8 989.1 487.0 987.1 485.9 C985.0 484.7 982.9 482.8 982.9 481.1 Z" fill="#C8E6FF"/>
<path d="M868.1 422.3 C868.8 421.2 870.2 419.1 872.2 418.2 C874.3 417.3 877.7 416.4 880.4 416.8 C883.1 417.3 885.9 420.5 888.6 420.9 C891.3 421.4 894.3 419.3 896.8 419.6 C899.3 419.8 902.7 420.9 903.6 422.3 C904.6 423.7 903.6 426.6 902.3 427.8 C900.9 428.9 897.3 428.5 895.4 429.1 C893.6 429.8 892.9 431.6 891.3 431.9 C889.7 432.1 887.7 431.4 885.9 430.5 C884.1 429.6 882.7 426.9 880.4 426.4 C878.1 426.0 874.3 428.0 872.2 427.8 C870.2 427.5 868.8 426.0 868.1 425.0 C867.4 424.1 867.4 423.4 868.1 422.3 Z" fill="#3399FF"/>
<path d="M880.4 410.0 C882.2 410.0 887.2 413.2 891.3 414.1 C895.4 415.0 900.5 415.5 905.0 415.5 C909.6 415.5 914.1 414.1 918.7 414.1 C923.2 414.1 927.8 415.7 932.4 415.5 C936.9 415.2 942.4 413.6 946.0 412.7 C949.7 411.8 951.0 410.7 954.2 410.0 C957.4 409.3 962.9 407.7 965.2 408.6 C967.5 409.5 968.4 413.4 967.9 415.5 C967.5 417.5 964.3 419.1 962.4 420.9 C960.6 422.8 958.8 424.8 957.0 426.4 C955.1 428.0 952.9 430.3 951.5 430.5 C950.1 430.7 948.8 429.4 948.8 427.8 C948.8 426.2 952.0 422.5 951.5 420.9 C951.0 419.3 948.3 418.4 946.0 418.2 C943.8 418.0 940.6 419.6 937.8 419.6 C935.1 419.6 932.4 418.5 929.6 418.2 C926.9 417.9 924.6 417.5 921.4 417.5 C918.2 417.5 914.1 418.2 910.5 418.2 C906.8 418.2 903.2 418.0 899.5 417.5 C895.9 417.1 891.8 416.0 888.6 415.5 C885.4 414.9 881.8 415.0 880.4 414.1 C879.0 413.2 878.6 410.0 880.4 410.0 Z" fill="#3399FF"/>
<path d="M924.2 422.3 L929.6 421.6 L932.4 424.4 L926.9 426.4 Z" fill="#3399FF"/>
<path d="M920.1 456.5 C920.5 455.1 922.6 453.3 924.2 452.4 C925.8 451.5 928.5 450.6 929.6 451.0 C930.8 451.5 931.5 453.8 931.0 455.1 C930.5 456.5 928.5 458.3 926.9 459.2 C925.3 460.1 922.6 461.0 921.4 460.6 C920.3 460.1 919.6 457.9 920.1 456.5 Z" fill="#3399FF"/>
<path d="M888.6 442.8 C889.2 441.3 891.6 441.7 893.4 442.1 C895.2 442.6 897.8 443.6 899.5 445.5 C901.3 447.5 902.3 451.5 903.6 453.8 C905.0 456.0 906.6 456.9 907.8 459.2 C908.9 461.5 910.7 466.5 910.5 467.4 C910.3 468.3 908.0 466.1 906.4 464.7 C904.8 463.3 903.0 460.6 900.9 459.2 C898.9 457.9 895.9 457.9 894.1 456.5 C892.3 455.1 890.9 453.3 890.0 451.0 C889.1 448.7 888.0 444.3 888.6 442.8 Z" fill="#8FC5FA"/>
<path d="M900.9 468.8 C901.1 467.7 903.2 467.2 905.0 467.4 C906.8 467.7 909.6 469.0 911.9 470.2 C914.1 471.3 917.1 472.9 918.7 474.3 C920.3 475.6 921.9 477.8 921.4 478.4 C921.0 478.9 918.0 477.9 916.0 477.7 C913.9 477.5 911.2 477.6 909.1 477.0 C907.1 476.4 905.0 475.6 903.6 474.3 C902.3 472.9 900.7 469.9 900.9 468.8 Z" fill="#C8E6FF"/>
<path d="M861.3 481.1 C863.1 475.6 868.3 477.5 872.2 475.6 C876.1 473.8 880.2 471.5 884.5 470.2 C888.8 468.8 895.2 466.5 898.2 467.4 C901.1 468.3 902.3 473.3 902.3 475.6 C902.3 477.9 900.5 479.3 898.2 481.1 C895.9 482.9 892.0 484.7 888.6 486.6 C885.2 488.4 879.5 490.2 877.7 492.0 C875.8 493.9 875.8 496.1 877.7 497.5 C879.5 498.9 885.2 500.0 888.6 500.2 C892.0 500.5 895.4 498.4 898.2 498.9 C900.9 499.3 902.7 501.4 905.0 503.0 C907.3 504.6 909.1 507.1 911.9 508.4 C914.6 509.8 918.0 510.9 921.4 511.2 C924.8 511.4 929.2 510.7 932.4 509.8 C935.6 508.9 938.5 507.1 940.6 505.7 C942.6 504.3 943.3 501.6 944.7 501.6 C946.0 501.6 948.5 503.7 948.8 505.7 C949.0 507.8 947.9 511.9 946.0 513.9 C944.2 516.0 941.5 517.3 937.8 518.0 C934.2 518.7 928.3 518.2 924.2 518.0 C920.1 517.8 916.9 517.3 913.2 516.6 C909.6 516.0 905.9 514.8 902.3 513.9 C898.6 513.0 895.0 512.1 891.3 511.2 C887.7 510.3 883.6 508.4 880.4 508.4 C877.2 508.4 875.4 511.2 872.2 511.2 C869.0 511.2 863.1 513.5 861.3 508.4 C859.4 503.4 859.4 486.6 861.3 481.1 Z" fill="#C8E6FF"/>
<path d="M861.3 486.6 C863.1 483.8 868.6 483.1 872.2 481.1 C875.8 479.0 879.3 476.1 883.1 474.3 C887.0 472.4 892.7 470.2 895.4 470.2 C898.2 470.2 899.8 472.7 899.5 474.3 C899.3 475.9 896.8 477.9 894.1 479.7 C891.3 481.6 886.3 483.4 883.1 485.2 C880.0 487.0 877.7 489.1 874.9 490.7 C872.2 492.3 869.0 493.6 866.7 494.8 C864.5 495.9 862.2 498.9 861.3 497.5 C860.4 496.1 859.4 489.3 861.3 486.6 Z" fill="#3399FF"/>
<path d="M877.7 500.2 C879.3 500.0 885.4 502.7 888.6 503.0 C891.8 503.2 894.3 501.1 896.8 501.6 C899.3 502.1 901.4 504.1 903.6 505.7 C905.9 507.3 910.3 510.2 910.5 511.2 C910.7 512.2 907.5 512.3 905.0 511.9 C902.5 511.4 898.6 509.5 895.4 508.4 C892.3 507.4 888.6 506.4 885.9 505.7 C883.1 505.0 880.4 505.3 879.0 504.3 C877.7 503.4 876.1 500.5 877.7 500.2 Z" fill="#3399FF"/>
<path d="M861.3 490.7 C862.6 489.1 866.5 487.0 869.5 485.2 C872.4 483.4 875.8 481.8 879.0 479.7 C882.2 477.7 885.9 474.3 888.6 472.9 C891.3 471.5 894.3 471.1 895.4 471.5 C896.6 472.0 896.8 474.0 895.4 475.6 C894.1 477.2 890.2 479.3 887.2 481.1 C884.3 482.9 880.4 484.7 877.7 486.6 C874.9 488.4 873.6 490.7 870.8 492.0 C868.1 493.4 862.9 495.0 861.3 494.8 C859.7 494.5 859.9 492.3 861.3 490.7 Z" fill="#003399"/>
<path d="M861.3 494.8 C862.6 493.1 867.0 494.5 869.5 495.5 C872.0 496.4 875.4 498.5 876.3 500.2 C877.2 501.9 876.5 504.6 874.9 505.7 C873.3 506.8 869.0 507.1 866.7 507.1 C864.5 507.1 862.2 507.8 861.3 505.7 C860.4 503.7 859.9 496.5 861.3 494.8 Z" fill="#003399"/>
<path d="M902.3 486.6 C903.4 485.2 907.8 483.8 910.5 482.5 C913.2 481.1 916.4 478.8 918.7 478.4 C921.0 477.9 921.4 479.7 924.2 479.7 C926.9 479.7 931.5 478.8 935.1 478.4 C938.7 477.9 945.1 476.5 946.0 477.0 C946.9 477.5 943.3 480.2 940.6 481.1 C937.8 482.0 932.8 481.6 929.6 482.5 C926.4 483.4 923.2 485.0 921.4 486.6 C919.6 488.2 918.5 490.2 918.7 492.0 C918.9 493.9 921.0 496.4 922.8 497.5 C924.6 498.6 927.1 499.3 929.6 498.9 C932.1 498.4 936.0 495.9 937.8 494.8 C939.7 493.6 938.3 492.7 940.6 492.0 C942.8 491.4 949.2 490.4 951.5 490.7 C953.8 490.9 956.1 492.3 954.2 493.4 C952.4 494.5 943.8 495.7 940.6 497.5 C937.4 499.3 937.4 503.0 935.1 504.3 C932.8 505.7 929.6 505.7 926.9 505.7 C924.2 505.7 921.2 505.3 918.7 504.3 C916.2 503.4 913.7 501.8 911.9 500.2 C910.0 498.6 909.1 496.4 907.8 494.8 C906.4 493.2 904.6 492.0 903.6 490.7 C902.7 489.3 901.1 487.9 902.3 486.6 Z" fill="#FFFFC8"/>
<path d="M959.7 497.5 C960.6 496.5 965.6 494.5 967.9 494.1 C970.2 493.6 972.9 494.0 973.4 494.8 C973.8 495.6 972.5 498.0 970.6 498.9 C968.8 499.8 964.3 500.5 962.4 500.2 C960.6 500.0 958.8 498.5 959.7 497.5 Z" fill="#FFFFC8"/>
<path d="M869.5 519.4 C870.8 517.6 876.8 516.9 880.4 516.6 C884.1 516.4 887.7 517.1 891.3 518.0 C895.0 518.9 898.6 520.7 902.3 522.1 C905.9 523.5 910.5 524.6 913.2 526.2 C916.0 527.8 918.2 530.1 918.7 531.7 C919.1 533.3 918.2 535.3 916.0 535.8 C913.7 536.2 908.7 535.1 905.0 534.4 C901.4 533.7 897.7 532.4 894.1 531.7 C890.4 531.0 886.8 531.0 883.1 530.3 C879.5 529.6 874.5 529.4 872.2 527.6 C869.9 525.8 868.1 521.2 869.5 519.4 Z" fill="#FFFFC8"/>
<path d="M910.5 513.9 C910.9 513.7 919.1 517.6 924.2 518.0 C929.2 518.5 937.4 518.7 940.6 516.6 C943.8 514.6 942.4 508.0 943.3 505.7 C944.2 503.4 943.3 503.2 946.0 503.0 C948.8 502.7 955.1 503.9 959.7 504.3 C964.3 504.8 969.3 505.5 973.4 505.7 C977.5 505.9 981.1 505.9 984.3 505.7 C987.5 505.5 988.9 504.8 992.5 504.3 C996.2 503.9 1003.9 495.0 1006.2 503.0 C1008.5 510.9 1023.1 544.0 1006.2 552.2 C989.3 560.4 921.4 553.6 905.0 552.2 C888.6 550.8 905.5 545.8 907.8 544.0 C910.0 542.2 915.5 541.0 918.7 541.3 C921.9 541.5 923.7 545.4 926.9 545.4 C930.1 545.4 934.2 542.6 937.8 541.3 C941.5 539.9 945.1 538.5 948.8 537.2 C952.4 535.8 956.1 534.2 959.7 533.1 C963.4 531.9 969.7 531.5 970.6 530.3 C971.6 529.2 967.9 527.4 965.2 526.2 C962.4 525.1 957.9 524.2 954.2 523.5 C950.6 522.8 946.9 522.6 943.3 522.1 C939.7 521.7 936.0 521.2 932.4 520.7 C928.7 520.3 925.1 520.5 921.4 519.4 C917.8 518.2 910.0 514.1 910.5 513.9 Z" fill="#C8E6FF"/>
<path d="M940.6 513.9 C939.7 511.9 941.9 507.5 943.3 505.7 C944.7 503.9 946.0 503.1 948.8 503.0 C951.5 502.9 955.6 504.5 959.7 505.0 C963.8 505.6 968.8 506.3 973.4 506.4 C977.9 506.5 981.6 506.0 987.1 505.7 C992.5 505.4 1003.0 496.6 1006.2 504.3 C1009.4 512.1 1017.1 544.2 1006.2 552.2 C995.3 560.2 950.1 553.3 940.6 552.2 C931.0 551.1 945.6 547.4 948.8 545.4 C952.0 543.3 956.1 541.7 959.7 539.9 C963.4 538.1 967.9 536.0 970.6 534.4 C973.4 532.8 976.6 531.7 976.1 530.3 C975.7 528.9 970.6 527.8 967.9 526.2 C965.2 524.6 962.9 522.1 959.7 520.7 C956.5 519.4 952.0 519.2 948.8 518.0 C945.6 516.9 941.5 516.0 940.6 513.9 Z" fill="#3399FF"/>
<path d="M943.3 508.4 C943.1 506.6 945.1 504.8 947.4 504.3 C949.7 503.9 953.6 505.0 957.0 505.7 C960.4 506.4 963.8 508.0 967.9 508.4 C972.0 508.9 977.0 508.2 981.6 508.4 C986.1 508.7 991.2 509.4 995.3 509.8 C999.4 510.3 1004.4 504.1 1006.2 511.2 C1008.0 518.2 1013.9 545.4 1006.2 552.2 C998.4 559.0 966.5 553.1 959.7 552.2 C952.9 551.3 962.9 548.5 965.2 546.7 C967.5 544.9 970.6 543.1 973.4 541.3 C976.1 539.4 979.8 537.6 981.6 535.8 C983.4 534.0 985.2 531.9 984.3 530.3 C983.4 528.7 978.8 527.6 976.1 526.2 C973.4 524.8 970.6 523.5 967.9 522.1 C965.2 520.7 962.9 519.2 959.7 518.0 C956.5 516.9 951.5 516.9 948.8 515.3 C946.0 513.7 943.5 510.3 943.3 508.4 Z" fill="#003399"/>
<path d="M951.5 511.2 C952.0 510.3 958.8 509.6 962.4 509.8 C966.1 510.0 969.7 511.9 973.4 512.5 C977.0 513.2 980.7 513.5 984.3 513.9 C988.0 514.4 991.6 515.3 995.3 515.3 C998.9 515.3 1004.4 510.5 1006.2 513.9 C1008.0 517.3 1007.6 532.6 1006.2 535.8 C1004.8 539.0 1000.7 534.4 998.0 533.1 C995.3 531.7 992.5 529.4 989.8 527.6 C987.1 525.8 984.8 523.7 981.6 522.1 C978.4 520.5 974.3 519.2 970.6 518.0 C967.0 516.9 962.9 516.4 959.7 515.3 C956.5 514.1 951.0 512.1 951.5 511.2 Z" fill="#663399"/>
<path d="M992.5 519.4 C993.0 517.8 997.3 516.6 999.4 516.6 C1001.4 516.6 1004.1 517.8 1004.8 519.4 C1005.5 521.0 1004.8 525.1 1003.5 526.2 C1002.1 527.4 998.4 527.4 996.6 526.2 C994.8 525.1 992.1 521.0 992.5 519.4 Z" fill="#4B0082"/>
<path d="M951.5 552.2 C949.7 551.3 952.4 547.9 954.2 546.7 C956.1 545.6 960.6 544.4 962.4 545.4 C964.3 546.3 967.0 551.1 965.2 552.2 C963.4 553.3 953.3 553.1 951.5 552.2 Z" fill="#663399"/>
<path d="M905.0 552.2 C904.6 550.8 906.6 545.8 907.8 544.0 C908.9 542.2 911.4 539.9 911.9 541.3 C912.3 542.6 911.6 550.4 910.5 552.2 C909.3 554.0 905.5 553.6 905.0 552.2 Z" fill="#3399FF"/>
<path d="M892.7 541.3 C894.1 539.2 897.7 539.0 899.5 539.9 C901.4 540.8 903.4 544.7 903.6 546.7 C903.9 548.8 903.0 551.3 900.9 552.2 C898.9 553.1 892.7 554.0 891.3 552.2 C890.0 550.4 891.3 543.3 892.7 541.3 Z" fill="#3399FF"/>
</g>
<g clip-path="url(#t22)">
<rect x="96.0" y="538.0" width="147.0" height="147.0" fill="#A6D2DE"/>
<path d="M180.1 535.1 C169.2 537.0 177.5 544.4 178.7 546.6 C179.9 548.7 185.2 545.8 187.2 548.0 C189.3 550.1 188.7 557.1 190.8 559.4 C192.9 561.6 197.1 560.6 200.1 561.5 C203.0 562.5 206.7 563.7 208.6 565.1 C210.5 566.5 211.7 567.7 211.5 570.1 C211.2 572.5 208.9 576.9 207.2 579.3 C205.5 581.8 202.8 583.1 201.5 585.0 C200.2 586.9 199.8 588.5 199.4 590.8 C198.9 593.0 198.3 596.0 198.7 598.6 C199.0 601.2 200.6 603.5 201.5 606.4 C202.5 609.4 203.6 613.1 204.4 616.4 C205.1 619.7 206.3 623.3 205.8 626.4 C205.3 629.5 202.9 632.1 201.5 634.9 C200.1 637.8 198.2 640.2 197.2 643.5 C196.3 646.8 195.3 652.1 195.8 654.9 C196.3 657.8 197.9 659.5 200.1 660.6 C202.2 661.7 205.5 660.8 208.6 661.3 C211.7 661.8 215.5 661.9 218.6 663.5 C221.7 665.0 224.3 668.9 227.2 670.6 C230.0 672.3 232.9 672.7 235.7 673.4 C238.6 674.2 242.8 697.9 244.3 674.9 C245.7 651.8 255.0 558.4 244.3 535.1 C233.6 511.9 191.0 533.2 180.1 535.1 Z" fill="#FFFFC8"/>
<path d="M201.5 679.1 C202.2 678.1 205.3 677.0 207.2 674.9 C209.1 672.7 210.8 667.9 212.9 666.3 C215.0 664.8 218.1 665.0 220.0 665.6 C221.9 666.2 224.8 668.9 224.3 669.9 C223.8 670.8 218.8 670.2 217.2 671.3 C215.5 672.4 215.5 674.8 214.3 676.3 C213.1 677.8 212.0 679.7 210.1 680.6 C208.2 681.4 204.4 681.5 202.9 681.3 C201.5 681.0 200.8 680.2 201.5 679.1 Z" fill="#FFFFC8"/>
<path d="M93.1 566.5 C94.3 550.6 98.1 568.7 100.3 570.8 C102.4 572.9 104.3 576.3 106.0 579.3 C107.6 582.4 109.1 586.0 110.3 589.3 C111.4 592.7 112.3 596.0 113.1 599.3 C113.9 602.6 114.5 606.2 115.2 609.3 C116.0 612.4 115.8 615.5 117.4 617.8 C118.9 620.2 122.1 621.9 124.5 623.5 C126.9 625.2 129.6 625.9 131.6 627.8 C133.7 629.7 136.9 634.0 136.6 634.9 C136.4 635.9 132.7 633.8 130.2 633.5 C127.7 633.3 124.5 633.0 121.7 633.5 C118.8 634.0 115.1 634.2 113.1 636.4 C111.1 638.5 111.0 643.3 109.5 646.4 C108.1 649.4 105.9 652.1 104.6 654.9 C103.2 657.8 103.6 661.6 101.7 663.5 C99.8 665.4 94.6 682.5 93.1 666.3 C91.7 650.2 92.0 582.4 93.1 566.5 Z" fill="#FFFFC8"/>
<path d="M97.4 600.7 C98.1 599.1 100.3 597.9 101.7 599.3 C103.1 600.7 104.6 606.9 106.0 609.3 C107.4 611.7 110.3 612.1 110.3 613.6 C110.3 615.0 107.6 617.6 106.0 617.8 C104.3 618.1 101.7 616.4 100.3 615.0 C98.9 613.6 97.9 611.7 97.4 609.3 C97.0 606.9 96.7 602.4 97.4 600.7 Z" fill="#FFFFFF"/>
<path d="M217.2 686.3 C213.9 685.3 221.7 681.8 224.3 680.6 C226.9 679.4 229.5 679.6 232.9 679.1 C236.2 678.7 242.4 676.5 244.3 677.7 C246.2 678.9 248.8 684.8 244.3 686.3 C239.8 687.7 220.5 687.2 217.2 686.3 Z" fill="#FFFFC8"/>
</g>
<g clip-path="url(#t23)">
<rect x="224.0" y="538.0" width="147.0" height="147.0" fill="#FFFFC8"/>
<path d="M261.1 535.1 C247.0 536.6 262.5 541.3 263.9 543.7 C265.3 546.1 268.2 547.0 269.6 549.4 C271.0 551.8 271.0 555.6 272.5 558.0 C273.9 560.3 275.8 562.2 278.2 563.7 C280.6 565.1 283.9 565.7 286.7 566.5 C289.6 567.3 292.4 568.3 295.3 568.7 C298.1 569.0 301.0 568.1 303.8 568.7 C306.7 569.2 310.0 570.9 312.4 572.2 C314.8 573.5 315.7 576.4 318.1 576.5 C320.5 576.6 324.3 573.9 326.7 572.9 C329.0 572.0 330.0 571.5 332.4 570.8 C334.7 570.1 338.5 569.4 340.9 568.7 C343.3 567.9 344.9 566.0 346.6 566.5 C348.3 567.0 349.0 571.5 350.9 571.5 C352.8 571.5 355.4 567.8 358.0 566.5 C360.6 565.2 364.2 564.4 366.6 563.7 C368.9 563.0 371.3 565.1 372.3 562.2 C373.2 559.4 373.2 548.7 372.3 546.6 C371.3 544.4 368.5 548.5 366.6 549.4 C364.7 550.4 363.2 551.5 360.9 552.3 C358.5 553.0 354.2 554.6 352.3 553.7 C350.4 552.7 350.2 549.6 349.5 546.6 C348.8 543.5 362.8 537.0 348.0 535.1 C333.3 533.2 275.1 533.7 261.1 535.1 Z" fill="#FFFFFF"/>
</g>
<g clip-path="url(#t24)">
<rect x="370.0" y="538.0" width="147.0" height="147.0" fill="#FFFFC8"/>
<path d="M367.1 535.1 C371.2 530.4 386.6 533.2 391.4 535.1 C396.1 537.0 394.1 542.8 395.7 546.6 C397.2 550.4 400.7 554.9 400.7 558.0 C400.7 561.0 397.7 563.3 395.7 565.1 C393.6 566.9 390.4 567.6 388.5 568.7 C386.6 569.7 385.7 571.9 384.3 571.5 C382.8 571.1 381.6 567.8 380.0 566.5 C378.3 565.2 376.4 564.1 374.3 563.7 C372.1 563.2 368.3 568.4 367.1 563.7 C366.0 558.9 363.1 539.9 367.1 535.1 Z" fill="#FFFFFF"/>
</g>
<g clip-path="url(#t25)">
<rect x="516.0" y="538.0" width="147.0" height="147.0" fill="#FFFFC8"/>
<path d="M647.2 535.1 C649.5 534.7 661.4 533.7 664.3 535.1 C667.1 536.6 665.7 542.8 664.3 543.7 C662.8 544.7 658.1 541.8 655.7 540.9 C653.3 539.9 651.4 539.0 650.0 538.0 C648.6 537.0 644.8 535.6 647.2 535.1 Z" fill="#FFFFFF"/>
<path d="M590.1 559.4 C590.6 558.9 593.7 559.7 595.8 560.8 C598.0 561.9 602.3 564.7 603.0 565.8 C603.7 566.9 601.8 567.6 600.1 567.2 C598.5 566.9 594.7 565.0 593.0 563.7 C591.3 562.4 589.7 559.9 590.1 559.4 Z" fill="#FFFFFF"/>
<path d="M640.0 589.3 C640.8 589.0 646.7 591.2 648.6 592.2 C650.5 593.1 652.2 594.7 651.4 595.0 C650.7 595.4 646.2 595.3 644.3 594.3 C642.4 593.4 639.3 589.7 640.0 589.3 Z" fill="#FFFFFF"/>
<path d="M544.5 672.0 C545.0 670.8 546.9 669.6 548.8 669.9 C550.7 670.1 554.3 672.4 555.9 673.4 C557.6 674.5 559.2 675.5 558.8 676.3 C558.3 677.1 555.2 678.3 553.1 678.4 C550.9 678.6 547.4 678.1 545.9 677.0 C544.5 675.9 544.0 673.2 544.5 672.0 Z" fill="#FFFFFF"/>
<path d="M528.8 677.0 C529.3 676.4 531.9 675.3 533.1 675.6 C534.3 675.8 536.4 677.8 536.0 678.4 C535.5 679.0 531.4 679.4 530.3 679.1 C529.1 678.9 528.4 677.6 528.8 677.0 Z" fill="#FFFFFF"/>
<path d="M630.1 623.5 C630.5 620.7 632.7 619.5 634.3 617.8 C636.0 616.2 637.9 615.2 640.0 613.6 C642.2 611.9 645.0 609.3 647.2 607.9 C649.3 606.4 650.0 606.2 652.9 605.0 C655.7 603.8 662.4 590.5 664.3 600.7 C666.2 610.9 666.2 656.3 664.3 666.3 C662.4 676.3 656.2 661.3 652.9 660.6 C649.5 659.9 647.2 661.1 644.3 662.0 C641.5 663.0 638.6 664.9 635.8 666.3 C632.9 667.7 628.4 670.8 627.2 670.6 C626.0 670.4 627.0 666.8 628.6 664.9 C630.3 663.0 636.5 661.3 637.2 659.2 C637.9 657.0 634.1 654.7 632.9 652.1 C631.7 649.4 630.3 646.4 630.1 643.5 C629.8 640.7 631.5 638.3 631.5 634.9 C631.5 631.6 629.6 626.4 630.1 623.5 Z" fill="#FFFFFF"/>
<path d="M634.3 626.4 C635.0 624.0 636.9 621.4 638.6 619.3 C640.3 617.1 642.2 615.5 644.3 613.6 C646.5 611.7 648.1 609.5 651.4 607.9 C654.8 606.2 662.1 596.2 664.3 603.6 C666.4 610.9 665.7 644.5 664.3 652.1 C662.8 659.7 658.6 649.4 655.7 649.2 C652.9 649.0 649.5 650.2 647.2 650.6 C644.8 651.1 643.1 652.8 641.5 652.1 C639.8 651.3 637.7 648.7 637.2 646.4 C636.7 644.0 639.1 639.9 638.6 637.8 C638.1 635.7 635.0 635.4 634.3 633.5 C633.6 631.6 633.6 628.8 634.3 626.4 Z" fill="#C8E6FF"/>
<path d="M640.0 623.5 C640.8 621.4 643.6 618.8 645.7 616.4 C647.9 614.0 649.8 610.9 652.9 609.3 C656.0 607.6 662.4 600.3 664.3 606.4 C666.2 612.6 665.7 639.9 664.3 646.4 C662.8 652.8 658.6 644.9 655.7 644.9 C652.9 644.9 649.5 646.6 647.2 646.4 C644.8 646.1 641.9 645.4 641.5 643.5 C641.0 641.6 644.3 637.3 644.3 634.9 C644.3 632.6 642.2 631.1 641.5 629.2 C640.8 627.3 639.3 625.7 640.0 623.5 Z" fill="#3399FF"/>
<path d="M652.9 615.0 C653.6 613.8 656.7 612.9 658.6 612.1 C660.5 611.4 663.3 608.8 664.3 610.7 C665.2 612.6 665.2 621.6 664.3 623.5 C663.3 625.4 660.2 622.8 658.6 622.1 C656.9 621.4 655.2 620.5 654.3 619.3 C653.3 618.1 652.2 616.2 652.9 615.0 Z" fill="#003399"/>
<path d="M648.6 630.7 C648.6 629.6 651.0 628.4 652.9 627.8 C654.8 627.2 659.0 626.4 660.0 627.1 C660.9 627.8 659.8 630.9 658.6 632.1 C657.4 633.3 654.5 634.5 652.9 634.2 C651.2 634.0 648.6 631.7 648.6 630.7 Z" fill="#C8E6FF"/>
</g>
<g clip-path="url(#t26)">
<rect x="662.0" y="538.0" width="147.0" height="147.0" fill="#FFFFC8"/>
<path d="M697.6 559.4 C698.1 558.4 702.2 557.7 704.8 556.5 C707.4 555.3 710.9 553.9 713.3 552.3 C715.7 550.6 717.6 548.5 719.0 546.6 C720.5 544.7 720.9 542.8 721.9 540.9 C722.8 539.0 710.0 536.1 724.7 535.1 C739.5 534.2 796.0 529.0 810.3 535.1 C824.5 541.3 811.7 565.8 810.3 572.2 C808.8 578.6 805.0 572.9 801.7 573.6 C798.4 574.4 793.6 575.5 790.3 576.5 C787.0 577.4 784.1 579.1 781.8 579.3 C779.4 579.6 778.0 578.6 776.1 577.9 C774.2 577.2 772.7 577.0 770.4 575.1 C768.0 573.2 764.2 568.9 761.8 566.5 C759.4 564.1 757.5 562.5 756.1 560.8 C754.7 559.1 754.7 557.7 753.2 556.5 C751.8 555.3 749.4 554.2 747.5 553.7 C745.6 553.2 743.7 553.0 741.8 553.7 C739.9 554.4 738.0 556.5 736.1 558.0 C734.2 559.4 732.3 560.8 730.4 562.2 C728.5 563.7 726.6 565.1 724.7 566.5 C722.8 567.9 721.4 569.4 719.0 570.8 C716.7 572.2 713.3 573.9 710.5 575.1 C707.6 576.3 702.9 578.4 701.9 577.9 C701.0 577.4 702.9 574.1 704.8 572.2 C706.7 570.3 712.6 567.9 713.3 566.5 C714.0 565.1 710.9 564.4 709.0 563.7 C707.1 563.0 703.8 563.0 701.9 562.2 C700.0 561.5 697.2 560.3 697.6 559.4 Z" fill="#FFFFFF"/>
<path d="M761.8 562.2 C763.2 561.3 767.5 563.7 770.4 565.1 C773.2 566.5 778.0 568.9 778.9 570.8 C779.9 572.7 778.0 575.8 776.1 576.5 C774.2 577.2 769.9 576.0 767.5 575.1 C765.1 574.1 762.8 572.9 761.8 570.8 C760.8 568.7 760.4 563.2 761.8 562.2 Z" fill="#FFFFC8"/>
<path d="M796.0 546.6 C797.4 545.4 802.2 545.1 804.6 545.1 C806.9 545.1 809.3 544.7 810.3 546.6 C811.2 548.5 811.7 555.1 810.3 556.5 C808.8 558.0 804.1 555.8 801.7 555.1 C799.3 554.4 797.0 553.7 796.0 552.3 C795.1 550.8 794.6 547.7 796.0 546.6 Z" fill="#FFFFC8"/>
<path d="M659.1 600.7 C660.6 593.1 664.4 598.8 667.7 597.9 C671.0 596.9 675.3 596.0 679.1 595.0 C682.9 594.1 687.2 593.4 690.5 592.2 C693.8 591.0 696.2 589.1 699.1 587.9 C701.9 586.7 704.3 585.3 707.6 585.0 C710.9 584.8 715.7 586.0 719.0 586.5 C722.4 586.9 724.3 587.9 727.6 587.9 C730.9 587.9 735.2 586.9 739.0 586.5 C742.8 586.0 746.6 585.3 750.4 585.0 C754.2 584.8 758.5 584.8 761.8 585.0 C765.1 585.3 767.5 587.2 770.4 586.5 C773.2 585.8 776.1 582.4 778.9 580.8 C781.8 579.1 784.6 577.7 787.5 576.5 C790.3 575.3 793.2 574.6 796.0 573.6 C798.9 572.7 802.2 571.5 804.6 570.8 C806.9 570.1 809.3 550.1 810.3 569.4 C811.2 588.6 829.3 666.8 810.3 686.3 C791.3 705.8 713.8 687.2 696.2 686.3 C678.6 685.3 701.9 682.5 704.8 680.6 C707.6 678.7 710.9 677.2 713.3 674.9 C715.7 672.5 717.6 669.2 719.0 666.3 C720.5 663.5 721.9 660.6 721.9 657.8 C721.9 654.9 720.5 651.8 719.0 649.2 C717.6 646.6 715.7 644.0 713.3 642.1 C710.9 640.2 707.6 638.8 704.8 637.8 C701.9 636.8 699.1 636.8 696.2 636.4 C693.4 635.9 690.5 634.9 687.7 634.9 C684.8 634.9 682.0 635.7 679.1 636.4 C676.3 637.1 673.4 638.3 670.6 639.2 C667.7 640.2 663.9 641.4 662.0 642.1 C660.1 642.8 659.6 650.4 659.1 643.5 C658.7 636.6 657.7 608.3 659.1 600.7 Z" fill="#FFFFFF"/>
<path d="M659.1 605.0 C661.0 599.1 666.8 603.1 670.6 602.2 C674.4 601.2 678.2 600.3 682.0 599.3 C685.8 598.4 690.0 597.4 693.4 596.5 C696.7 595.5 699.1 594.3 701.9 593.6 C704.8 592.9 707.6 592.9 710.5 592.2 C713.3 591.5 715.9 589.6 719.0 589.3 C722.1 589.1 725.2 590.8 729.0 590.8 C732.8 590.8 737.8 589.8 741.8 589.3 C745.9 588.9 749.4 588.1 753.2 587.9 C757.0 587.7 761.3 587.9 764.7 587.9 C768.0 587.9 770.4 588.6 773.2 587.9 C776.1 587.2 778.9 585.0 781.8 583.6 C784.6 582.2 787.5 580.7 790.3 579.3 C793.2 578.0 795.5 577.0 798.9 575.8 C802.2 574.6 808.4 553.8 810.3 572.2 C812.2 590.6 827.1 667.3 810.3 686.3 C793.4 705.3 724.3 687.5 709.0 686.3 C693.8 685.1 716.2 681.8 719.0 679.1 C721.9 676.5 724.5 673.7 726.2 670.6 C727.8 667.5 729.0 663.7 729.0 660.6 C729.0 657.5 727.6 654.7 726.2 652.1 C724.7 649.4 722.8 647.3 720.5 644.9 C718.1 642.6 715.0 639.7 711.9 637.8 C708.8 635.9 705.5 634.6 701.9 633.5 C698.4 632.5 694.1 631.6 690.5 631.4 C687.0 631.1 683.9 631.5 680.5 632.1 C677.2 632.7 674.1 634.0 670.6 634.9 C667.0 635.9 661.0 642.8 659.1 637.8 C657.2 632.8 657.2 610.9 659.1 605.0 Z" fill="#C8E6FF"/>
<path d="M659.1 609.3 C661.0 604.8 666.8 607.1 670.6 606.4 C674.4 605.7 678.6 605.2 682.0 605.0 C685.3 604.8 687.9 605.7 690.5 605.0 C693.1 604.3 695.3 601.9 697.6 600.7 C700.0 599.5 702.6 598.8 704.8 597.9 C706.9 596.9 708.1 596.0 710.5 595.0 C712.9 594.1 716.2 592.4 719.0 592.2 C721.9 591.9 724.3 593.6 727.6 593.6 C730.9 593.6 735.2 592.7 739.0 592.2 C742.8 591.7 746.6 591.0 750.4 590.8 C754.2 590.5 758.5 590.5 761.8 590.8 C765.1 591.0 767.5 592.7 770.4 592.2 C773.2 591.7 776.1 589.3 778.9 587.9 C781.8 586.5 784.6 585.0 787.5 583.6 C790.3 582.2 793.2 580.7 796.0 579.3 C798.9 578.0 802.2 576.6 804.6 575.8 C806.9 574.9 809.3 555.9 810.3 574.4 C811.2 592.8 825.0 667.6 810.3 686.3 C795.5 704.9 735.2 687.7 721.9 686.3 C708.6 684.8 728.1 680.6 730.4 677.7 C732.8 674.9 734.9 672.3 736.1 669.2 C737.3 666.1 738.0 662.3 737.6 659.2 C737.1 656.1 734.9 653.2 733.3 650.6 C731.6 648.0 729.2 645.6 727.6 643.5 C725.9 641.4 725.2 639.7 723.3 637.8 C721.4 635.9 718.6 633.5 716.2 632.1 C713.8 630.7 711.7 630.2 709.0 629.2 C706.4 628.3 703.6 627.1 700.5 626.4 C697.4 625.7 693.6 625.0 690.5 625.0 C687.4 625.0 684.8 625.7 682.0 626.4 C679.1 627.1 676.3 628.3 673.4 629.2 C670.6 630.2 667.2 631.4 664.9 632.1 C662.5 632.8 660.1 637.3 659.1 633.5 C658.2 629.7 657.2 613.8 659.1 609.3 Z" fill="#3399FF"/>
<path d="M683.4 617.8 C684.6 616.4 692.2 614.5 697.6 615.0 C703.1 615.5 711.4 618.8 716.2 620.7 C720.9 622.6 723.3 623.8 726.2 626.4 C729.0 629.0 733.5 635.4 733.3 636.4 C733.0 637.3 728.1 633.8 724.7 632.1 C721.4 630.4 717.1 627.6 713.3 626.4 C709.5 625.2 705.7 625.4 701.9 625.0 C698.1 624.5 693.6 624.7 690.5 623.5 C687.4 622.4 682.2 619.3 683.4 617.8 Z" fill="#FFFFFF"/>
<path d="M697.6 618.6 C698.1 617.2 701.7 616.0 704.8 616.1 C707.9 616.3 714.2 618.4 716.2 619.6 C718.2 620.7 718.1 622.4 716.9 623.3 C715.7 624.2 711.5 624.8 709.0 625.0 C706.6 625.1 703.8 625.3 701.9 624.3 C700.0 623.2 697.2 619.9 697.6 618.6 Z" fill="#FFFFC8"/>
<path d="M710.5 605.0 C710.9 602.9 717.6 598.1 721.9 596.5 C726.2 594.8 730.9 595.5 736.1 595.0 C741.4 594.6 749.0 593.6 753.2 593.6 C757.5 593.6 758.9 594.3 761.8 595.0 C764.7 595.7 768.0 596.7 770.4 597.9 C772.7 599.1 776.5 600.7 776.1 602.2 C775.6 603.6 770.4 606.0 767.5 606.4 C764.7 606.9 760.8 604.1 758.9 605.0 C757.0 606.0 758.0 610.5 756.1 612.1 C754.2 613.8 750.4 615.0 747.5 615.0 C744.7 615.0 741.4 612.1 739.0 612.1 C736.6 612.1 735.7 615.0 733.3 615.0 C730.9 615.0 727.1 613.1 724.7 612.1 C722.4 611.2 721.4 610.5 719.0 609.3 C716.7 608.1 710.0 607.1 710.5 605.0 Z" fill="#003399"/>
<path d="M781.8 605.0 C782.2 604.1 785.6 606.4 790.3 606.4 C795.1 606.4 806.9 603.1 810.3 605.0 C813.6 606.9 812.7 616.2 810.3 617.8 C807.9 619.5 799.8 615.9 796.0 615.0 C792.2 614.0 789.8 613.8 787.5 612.1 C785.1 610.5 781.3 606.0 781.8 605.0 Z" fill="#003399"/>
<path d="M761.8 619.3 C764.9 617.4 771.3 618.3 776.1 617.8 C780.8 617.4 784.6 616.9 790.3 616.4 C796.0 615.9 806.9 610.5 810.3 615.0 C813.6 619.5 812.7 639.0 810.3 643.5 C807.9 648.0 800.3 642.0 796.0 642.1 C791.7 642.2 788.9 644.0 784.6 644.2 C780.3 644.5 774.2 644.6 770.4 643.5 C766.6 642.4 763.9 640.2 761.8 637.8 C759.7 635.4 757.5 632.3 757.5 629.2 C757.5 626.2 758.7 621.2 761.8 619.3 Z" fill="#003399"/>
<path d="M741.8 649.2 C742.6 647.1 747.1 645.9 750.4 644.9 C753.7 644.0 758.0 643.3 761.8 643.5 C765.6 643.7 769.4 646.4 773.2 646.4 C777.0 646.4 780.8 644.5 784.6 643.5 C788.4 642.6 791.7 641.6 796.0 640.7 C800.3 639.7 807.9 634.0 810.3 637.8 C812.7 641.6 812.2 659.7 810.3 663.5 C808.4 667.3 802.2 660.6 798.9 660.6 C795.5 660.6 793.2 662.5 790.3 663.5 C787.5 664.4 784.6 666.3 781.8 666.3 C778.9 666.3 776.1 663.5 773.2 663.5 C770.4 663.5 767.0 664.9 764.7 666.3 C762.3 667.7 759.4 669.6 758.9 672.0 C758.5 674.4 762.8 678.2 761.8 680.6 C760.8 682.9 757.0 685.3 753.2 686.3 C749.4 687.2 740.4 688.2 739.0 686.3 C737.6 684.4 743.3 678.2 744.7 674.9 C746.1 671.5 747.3 669.2 747.5 666.3 C747.8 663.5 747.1 660.6 746.1 657.8 C745.2 654.9 741.1 651.3 741.8 649.2 Z" fill="#003399"/>
<path d="M729.0 629.2 C730.0 627.6 733.0 626.4 736.1 626.4 C739.2 626.4 744.2 629.2 747.5 629.2 C750.9 629.2 754.0 626.4 756.1 626.4 C758.2 626.4 760.8 627.3 760.4 629.2 C759.9 631.1 755.9 635.9 753.2 637.8 C750.6 639.7 747.5 640.4 744.7 640.7 C741.8 640.9 738.5 639.9 736.1 639.2 C733.8 638.5 731.6 638.0 730.4 636.4 C729.2 634.7 728.1 630.9 729.0 629.2 Z" fill="#C8E6FF"/>
<path d="M730.4 633.5 C731.4 632.6 736.1 631.9 739.0 632.1 C741.8 632.3 747.1 634.0 747.5 634.9 C748.0 635.9 744.2 637.3 741.8 637.8 C739.5 638.3 735.2 638.5 733.3 637.8 C731.4 637.1 729.5 634.5 730.4 633.5 Z" fill="#FFFFFF"/>
<path d="M739.0 617.8 C741.4 615.5 744.7 613.3 747.5 612.1 C750.4 610.9 755.1 609.8 756.1 610.7 C757.0 611.7 755.1 615.7 753.2 617.8 C751.3 620.0 747.5 621.6 744.7 623.5 C741.8 625.4 738.0 628.8 736.1 629.2 C734.2 629.7 732.8 628.3 733.3 626.4 C733.8 624.5 736.6 620.2 739.0 617.8 Z" fill="#3399FF"/>
<path d="M730.4 637.8 C730.9 636.6 736.1 635.4 739.0 634.9 C741.8 634.5 746.6 634.0 747.5 634.9 C748.5 635.9 746.6 639.5 744.7 640.7 C742.8 641.8 738.5 642.6 736.1 642.1 C733.8 641.6 730.0 639.0 730.4 637.8 Z" fill="#C8E6FF"/>
<path d="M727.6 592.9 C728.8 591.9 732.8 590.8 736.1 590.0 C739.5 589.3 743.3 588.9 747.5 588.6 C751.8 588.4 758.5 588.3 761.8 588.6 C765.1 589.0 768.0 590.0 767.5 590.8 C767.0 591.5 762.3 592.7 758.9 592.9 C755.6 593.1 751.3 591.9 747.5 592.2 C743.7 592.4 739.2 593.7 736.1 594.3 C733.0 594.9 730.4 596.0 729.0 595.7 C727.6 595.5 726.4 593.8 727.6 592.9 Z" fill="#FFFFFF"/>
<path d="M766.1 603.6 C767.6 602.9 774.6 601.8 776.1 602.2 C777.5 602.5 776.2 605.1 774.6 605.7 C773.1 606.4 768.2 606.5 766.8 606.1 C765.4 605.8 764.5 604.2 766.1 603.6 Z" fill="#FFFFFF"/>
<path d="M790.3 602.2 C790.3 601.3 795.5 601.2 798.9 600.7 C802.2 600.3 808.4 598.6 810.3 599.3 C812.2 600.0 812.2 603.9 810.3 605.0 C808.4 606.1 802.2 606.2 798.9 605.7 C795.5 605.2 790.3 603.0 790.3 602.2 Z" fill="#FFFFFF"/>
<path d="M787.5 583.6 C787.9 582.4 793.2 580.8 796.0 579.3 C798.9 577.9 802.2 576.0 804.6 575.1 C806.9 574.1 809.3 572.7 810.3 573.6 C811.2 574.6 811.7 579.1 810.3 580.8 C808.8 582.4 804.6 582.7 801.7 583.6 C798.9 584.6 795.5 586.5 793.2 586.5 C790.8 586.5 787.0 584.8 787.5 583.6 Z" fill="#003399"/>
<path d="M787.5 612.1 C788.9 610.2 793.2 609.3 796.0 609.3 C798.9 609.3 802.2 611.2 804.6 612.1 C806.9 613.1 809.3 610.7 810.3 615.0 C811.2 619.3 811.7 633.5 810.3 637.8 C808.8 642.1 804.1 640.7 801.7 640.7 C799.3 640.7 797.9 639.7 796.0 637.8 C794.1 635.9 791.7 632.1 790.3 629.2 C788.9 626.4 787.9 623.5 787.5 620.7 C787.0 617.8 786.0 614.0 787.5 612.1 Z" fill="#663399"/>
<path d="M770.4 686.3 C764.7 684.4 773.7 677.5 776.1 674.9 C778.4 672.3 781.8 672.0 784.6 670.6 C787.5 669.2 789.8 667.5 793.2 666.3 C796.5 665.1 801.7 664.2 804.6 663.5 C807.4 662.8 809.3 658.2 810.3 662.0 C811.2 665.8 816.9 682.2 810.3 686.3 C803.6 690.3 776.1 688.2 770.4 686.3 Z" fill="#C8E6FF"/>
<path d="M784.6 686.3 C781.3 684.6 787.9 678.9 790.3 676.3 C792.7 673.7 795.5 672.0 798.9 670.6 C802.2 669.2 808.4 665.1 810.3 667.7 C812.2 670.4 814.6 683.2 810.3 686.3 C806.0 689.4 787.9 687.9 784.6 686.3 Z" fill="#FFFFFF"/>
<path d="M790.3 686.3 C788.4 685.1 795.5 681.0 798.9 679.1 C802.2 677.2 808.4 673.7 810.3 674.9 C812.2 676.1 813.6 684.4 810.3 686.3 C806.9 688.2 792.2 687.5 790.3 686.3 Z" fill="#FFFFC8"/>
</g>
<g clip-path="url(#t27)">
<rect x="808.0" y="538.0" width="147.0" height="147.0" fill="#FFFFC8"/>
<path d="M805.1 548.0 C807.0 527.8 812.8 545.4 816.6 545.1 C820.4 544.9 824.6 545.1 828.0 546.6 C831.3 548.0 833.7 552.0 836.5 553.7 C839.4 555.3 842.2 556.8 845.1 556.5 C847.9 556.3 851.2 553.9 853.6 552.3 C856.0 550.6 857.4 548.5 859.3 546.6 C861.2 544.7 863.1 542.8 865.0 540.9 C866.9 539.0 855.5 536.1 870.7 535.1 C885.9 534.2 942.0 529.4 956.3 535.1 C970.5 540.9 957.7 563.4 956.3 569.4 C954.8 575.3 950.6 569.8 947.7 570.8 C944.9 571.7 941.5 572.9 939.2 575.1 C936.8 577.2 935.8 580.8 933.5 583.6 C931.1 586.5 927.8 589.6 924.9 592.2 C922.1 594.8 919.2 597.2 916.4 599.3 C913.5 601.4 910.7 603.3 907.8 605.0 C904.9 606.7 901.6 608.3 899.2 609.3 C896.9 610.2 895.4 610.2 893.5 610.7 C891.6 611.2 889.7 611.7 887.8 612.1 C885.9 612.6 884.5 612.6 882.1 613.6 C879.8 614.5 875.5 616.2 873.6 617.8 C871.7 619.5 870.3 621.6 870.7 623.5 C871.2 625.4 875.7 626.9 876.4 629.2 C877.1 631.6 876.4 635.4 875.0 637.8 C873.6 640.2 870.5 641.4 867.9 643.5 C865.3 645.6 862.2 648.5 859.3 650.6 C856.5 652.8 853.6 654.9 850.8 656.3 C847.9 657.8 845.5 658.2 842.2 659.2 C838.9 660.1 834.1 661.3 830.8 662.0 C827.5 662.8 825.1 663.0 822.3 663.5 C819.4 663.9 816.6 664.4 813.7 664.9 C810.9 665.4 806.6 685.8 805.1 666.3 C803.7 646.8 803.2 568.2 805.1 548.0 Z" fill="#FFFFFF"/>
<path d="M805.1 556.5 C807.0 538.5 812.8 553.9 816.6 553.7 C820.4 553.4 824.6 554.2 828.0 555.1 C831.3 556.1 833.4 558.4 836.5 559.4 C839.6 560.3 843.4 561.0 846.5 560.8 C849.6 560.6 852.4 559.4 855.0 558.0 C857.7 556.5 860.0 554.2 862.2 552.3 C864.3 550.4 865.5 548.7 867.9 546.6 C870.3 544.4 874.1 541.3 876.4 539.4 C878.8 537.5 868.8 535.9 882.1 535.1 C895.4 534.4 943.9 530.6 956.3 535.1 C968.6 539.7 957.7 557.4 956.3 562.2 C954.8 567.1 950.6 563.4 947.7 564.4 C944.9 565.3 941.5 566.2 939.2 567.9 C936.8 569.7 935.6 572.5 933.5 575.1 C931.3 577.7 928.9 580.8 926.3 583.6 C923.7 586.5 920.9 589.6 917.8 592.2 C914.7 594.8 910.9 597.4 907.8 599.3 C904.7 601.2 902.1 602.4 899.2 603.6 C896.4 604.8 893.5 605.5 890.7 606.4 C887.8 607.4 885.0 608.1 882.1 609.3 C879.3 610.5 876.4 611.7 873.6 613.6 C870.7 615.5 866.9 618.6 865.0 620.7 C863.1 622.8 861.2 624.7 862.2 626.4 C863.1 628.1 869.5 629.0 870.7 630.7 C871.9 632.3 870.7 634.5 869.3 636.4 C867.9 638.3 864.8 640.2 862.2 642.1 C859.6 644.0 856.5 646.1 853.6 647.8 C850.8 649.4 848.4 650.6 845.1 652.1 C841.7 653.5 837.5 655.3 833.7 656.3 C829.9 657.4 826.1 657.8 822.3 658.5 C818.5 659.2 813.7 660.0 810.9 660.6 C808.0 661.2 806.1 679.4 805.1 662.0 C804.2 644.7 803.2 574.6 805.1 556.5 Z" fill="#C8E6FF"/>
<path d="M843.6 629.2 C847.0 626.4 850.5 624.7 853.6 623.5 C856.7 622.4 860.3 621.6 862.2 622.1 C864.1 622.6 866.0 625.0 865.0 626.4 C864.1 627.8 859.3 629.0 856.5 630.7 C853.6 632.3 850.8 634.7 847.9 636.4 C845.1 638.0 841.7 639.9 839.4 640.7 C837.0 641.4 833.0 642.6 833.7 640.7 C834.4 638.8 840.3 632.1 843.6 629.2 Z" fill="#FFFFFF"/>
<path d="M805.1 562.2 C807.0 546.8 812.8 559.9 816.6 559.4 C820.4 558.9 824.2 558.9 828.0 559.4 C831.8 559.9 836.0 561.5 839.4 562.2 C842.7 563.0 845.3 563.7 847.9 563.7 C850.5 563.7 852.7 563.4 855.0 562.2 C857.4 561.0 860.0 558.2 862.2 556.5 C864.3 554.9 865.7 553.9 867.9 552.3 C870.0 550.6 872.6 548.2 875.0 546.6 C877.4 544.9 879.5 543.7 882.1 542.3 C884.8 540.9 888.3 539.2 890.7 538.0 C893.1 536.8 892.1 535.6 896.4 535.1 C900.7 534.7 912.6 533.2 916.4 535.1 C920.2 537.0 918.3 543.5 919.2 546.6 C920.2 549.6 920.2 552.7 922.1 553.7 C924.0 554.6 927.8 553.0 930.6 552.3 C933.5 551.5 936.3 550.6 939.2 549.4 C942.0 548.2 944.9 546.3 947.7 545.1 C950.6 543.9 954.8 540.1 956.3 542.3 C957.7 544.4 957.7 555.1 956.3 558.0 C954.8 560.8 950.6 558.4 947.7 559.4 C944.9 560.3 941.8 561.8 939.2 563.7 C936.6 565.6 934.4 568.2 932.0 570.8 C929.7 573.4 927.5 576.5 924.9 579.3 C922.3 582.2 919.4 585.3 916.4 587.9 C913.3 590.5 909.7 592.9 906.4 595.0 C903.0 597.2 899.5 599.2 896.4 600.7 C893.3 602.3 890.7 603.3 887.8 604.3 C885.0 605.2 882.1 605.4 879.3 606.4 C876.4 607.5 873.6 608.8 870.7 610.7 C867.9 612.6 864.8 615.7 862.2 617.8 C859.6 620.0 857.2 621.6 855.0 623.5 C852.9 625.4 851.5 627.3 849.3 629.2 C847.2 631.1 844.8 633.3 842.2 634.9 C839.6 636.6 836.5 638.0 833.7 639.2 C830.8 640.4 828.0 641.2 825.1 642.1 C822.3 642.9 819.4 643.3 816.6 644.2 C813.7 645.2 809.9 646.5 808.0 647.8 C806.1 649.1 805.6 666.3 805.1 652.1 C804.7 637.8 803.2 577.7 805.1 562.2 Z" fill="#3399FF"/>
<path d="M916.4 543.7 C917.1 542.0 923.0 540.9 924.9 542.3 C926.8 543.7 928.0 549.2 927.8 552.3 C927.5 555.3 924.7 560.8 923.5 560.8 C922.3 560.8 921.8 555.1 920.6 552.3 C919.4 549.4 915.6 545.4 916.4 543.7 Z" fill="#FFFFFF"/>
<path d="M870.7 566.5 C871.7 565.7 878.3 565.6 882.1 565.1 C885.9 564.6 890.2 564.1 893.5 563.7 C896.9 563.2 901.1 561.9 902.1 562.2 C903.0 562.6 901.6 564.7 899.2 565.8 C896.9 566.9 891.6 567.9 887.8 568.7 C884.0 569.4 879.3 570.4 876.4 570.1 C873.6 569.7 869.8 567.3 870.7 566.5 Z" fill="#FFFFFF"/>
<path d="M850.8 563.7 C851.7 563.2 856.5 562.7 859.3 563.0 C862.2 563.2 867.4 564.5 867.9 565.1 C868.4 565.7 864.6 566.4 862.2 566.5 C859.8 566.6 855.5 566.3 853.6 565.8 C851.7 565.3 849.8 564.1 850.8 563.7 Z" fill="#C8E6FF"/>
<path d="M805.1 585.0 C806.6 582.2 810.9 583.0 813.7 582.2 C816.6 581.4 819.2 580.3 822.3 580.1 C825.3 579.8 829.9 580.2 832.2 580.8 C834.6 581.4 836.8 582.2 836.5 583.6 C836.3 585.0 833.2 587.4 830.8 589.3 C828.4 591.2 825.1 593.6 822.3 595.0 C819.4 596.5 816.6 597.2 813.7 597.9 C810.9 598.6 806.6 601.4 805.1 599.3 C803.7 597.2 803.7 587.9 805.1 585.0 Z" fill="#FFFFFF"/>
<path d="M805.1 606.4 C806.6 599.1 810.9 603.8 813.7 602.2 C816.6 600.5 819.4 598.4 822.3 596.5 C825.1 594.6 828.0 592.7 830.8 590.8 C833.7 588.9 836.5 586.9 839.4 585.0 C842.2 583.1 845.1 581.0 847.9 579.3 C850.8 577.7 853.6 576.0 856.5 575.1 C859.3 574.1 862.2 573.6 865.0 573.6 C867.9 573.6 870.7 575.1 873.6 575.1 C876.4 575.1 879.3 574.6 882.1 573.6 C885.0 572.7 887.8 570.8 890.7 569.4 C893.5 567.9 896.4 566.8 899.2 565.1 C902.1 563.4 904.9 560.8 907.8 559.4 C910.7 558.0 913.5 556.8 916.4 556.5 C919.2 556.3 922.3 558.4 924.9 558.0 C927.5 557.5 929.7 555.1 932.0 553.7 C934.4 552.3 936.6 550.8 939.2 549.4 C941.8 548.0 944.9 546.1 947.7 545.1 C950.6 544.2 954.8 542.0 956.3 543.7 C957.7 545.4 957.7 552.7 956.3 555.1 C954.8 557.5 950.6 556.8 947.7 558.0 C944.9 559.1 941.8 560.5 939.2 562.2 C936.6 564.0 934.4 566.3 932.0 568.7 C929.7 571.0 927.5 573.8 924.9 576.5 C922.3 579.2 919.2 582.6 916.4 585.0 C913.5 587.5 910.7 589.6 907.8 591.5 C904.9 593.4 902.1 594.9 899.2 596.5 C896.4 598.0 893.5 599.7 890.7 600.7 C887.8 601.8 885.0 601.9 882.1 602.9 C879.3 603.8 876.4 604.9 873.6 606.4 C870.7 608.0 867.6 610.2 865.0 612.1 C862.4 614.0 860.3 615.9 857.9 617.8 C855.5 619.7 853.1 621.6 850.8 623.5 C848.4 625.4 846.0 627.3 843.6 629.2 C841.3 631.1 839.1 633.5 836.5 634.9 C833.9 636.4 830.8 637.0 828.0 637.8 C825.1 638.6 822.3 639.1 819.4 639.9 C816.6 640.8 813.2 641.7 810.9 642.8 C808.5 643.9 806.1 652.4 805.1 646.4 C804.2 640.3 803.7 613.8 805.1 606.4 Z" fill="#003399"/>
<path d="M805.1 568.7 C807.0 568.1 812.8 569.2 816.6 569.7 C820.4 570.1 824.2 571.1 828.0 571.5 C831.8 571.9 835.6 572.1 839.4 572.2 C843.2 572.3 847.9 572.0 850.8 572.2 C853.6 572.5 855.8 572.8 856.5 573.6 C857.2 574.5 856.9 576.9 855.0 577.2 C853.1 577.6 848.6 576.1 845.1 575.8 C841.5 575.5 837.5 575.6 833.7 575.4 C829.9 575.1 826.1 574.8 822.3 574.4 C818.5 574.0 813.7 573.2 810.9 572.9 C808.0 572.7 806.1 573.6 805.1 572.9 C804.2 572.2 803.2 569.2 805.1 568.7 Z" fill="#003399"/>
<path d="M893.5 555.1 C893.8 553.9 897.1 552.5 899.2 552.3 C901.4 552.0 905.4 552.7 906.4 553.7 C907.3 554.6 906.4 557.0 904.9 558.0 C903.5 558.9 899.7 559.9 897.8 559.4 C895.9 558.9 893.3 556.3 893.5 555.1 Z" fill="#003399"/>
<path d="M805.1 615.0 C806.6 610.0 810.9 611.2 813.7 609.3 C816.6 607.4 819.4 605.5 822.3 603.6 C825.1 601.7 828.0 599.8 830.8 597.9 C833.7 596.0 836.5 594.1 839.4 592.2 C842.2 590.3 845.1 588.1 847.9 586.5 C850.8 584.8 853.6 583.1 856.5 582.2 C859.3 581.2 862.2 580.8 865.0 580.8 C867.9 580.8 870.7 581.7 873.6 582.2 C876.4 582.7 879.8 584.1 882.1 583.6 C884.5 583.1 885.9 580.8 887.8 579.3 C889.7 577.9 891.2 576.5 893.5 575.1 C895.9 573.6 899.2 572.2 902.1 570.8 C904.9 569.4 907.8 567.7 910.7 566.5 C913.5 565.3 916.6 564.6 919.2 563.7 C921.8 562.7 924.0 562.0 926.3 560.8 C928.7 559.6 930.8 558.0 933.5 556.5 C936.1 555.1 939.2 553.4 942.0 552.3 C944.9 551.1 948.2 550.1 950.6 549.4 C952.9 548.7 955.3 547.5 956.3 548.0 C957.2 548.5 957.7 551.1 956.3 552.3 C954.8 553.4 950.6 553.9 947.7 555.1 C944.9 556.3 941.8 557.6 939.2 559.4 C936.6 561.2 934.4 563.4 932.0 565.8 C929.7 568.2 927.5 571.0 924.9 573.6 C922.3 576.3 919.2 579.2 916.4 581.5 C913.5 583.7 910.2 585.5 907.8 587.2 C905.4 588.9 904.5 590.4 902.1 591.5 C899.7 592.5 896.4 592.5 893.5 593.6 C890.7 594.7 887.8 596.7 885.0 597.9 C882.1 599.1 879.3 599.5 876.4 600.7 C873.6 601.9 870.5 603.3 867.9 605.0 C865.3 606.7 863.1 608.8 860.8 610.7 C858.4 612.6 856.0 614.5 853.6 616.4 C851.2 618.3 848.9 620.2 846.5 622.1 C844.1 624.0 842.0 626.2 839.4 627.8 C836.8 629.5 833.7 630.9 830.8 632.1 C828.0 633.3 825.1 634.1 822.3 634.9 C819.4 635.8 816.6 636.4 813.7 637.1 C810.9 637.8 806.6 642.9 805.1 639.2 C803.7 635.5 803.7 620.0 805.1 615.0 Z" fill="#663399"/>
<path d="M825.1 647.8 C825.8 646.4 830.3 645.2 833.7 643.5 C837.0 641.8 841.3 639.7 845.1 637.8 C848.9 635.9 853.1 633.5 856.5 632.1 C859.8 630.7 862.4 629.5 865.0 629.2 C867.6 629.0 871.4 629.5 872.2 630.7 C872.9 631.9 871.4 634.7 869.3 636.4 C867.2 638.0 862.7 639.0 859.3 640.7 C856.0 642.3 852.7 644.7 849.3 646.4 C846.0 648.0 842.7 649.7 839.4 650.6 C836.0 651.6 831.8 652.5 829.4 652.1 C827.0 651.6 824.4 649.2 825.1 647.8 Z" fill="#C8E6FF"/>
<path d="M832.2 645.6 L836.5 643.5 L840.8 644.2 L836.5 647.8 Z" fill="#3399FF"/>
<path d="M805.1 649.2 C806.6 647.1 810.9 646.6 813.7 646.4 C816.6 646.1 820.4 646.8 822.3 647.8 C824.2 648.7 826.1 650.6 825.1 652.1 C824.2 653.5 819.4 655.1 816.6 656.3 C813.7 657.5 809.9 658.7 808.0 659.2 C806.1 659.7 805.6 660.8 805.1 659.2 C804.7 657.5 803.7 651.3 805.1 649.2 Z" fill="#3399FF"/>
<path d="M805.1 646.4 C806.1 645.2 809.7 644.5 810.9 644.9 C812.0 645.4 813.2 648.0 812.3 649.2 C811.3 650.4 806.3 652.5 805.1 652.1 C804.0 651.6 804.2 647.5 805.1 646.4 Z" fill="#003399"/>
<path d="M805.1 535.1 C812.8 532.5 843.4 534.0 850.8 535.1 C858.1 536.3 850.8 540.4 849.3 542.3 C847.9 544.2 844.8 545.6 842.2 546.6 C839.6 547.5 836.5 548.1 833.7 548.0 C830.8 547.9 828.0 546.0 825.1 545.8 C822.3 545.7 819.4 546.4 816.6 547.3 C813.7 548.1 809.9 550.2 808.0 550.8 C806.1 551.4 805.6 553.4 805.1 550.8 C804.7 548.2 797.5 537.8 805.1 535.1 Z" fill="#FFFFC8"/>
</g>
<g clip-path="url(#t28)">
<rect x="858.0" y="538.0" width="147.0" height="147.0" fill="#FFFFC8"/>
<path d="M855.1 617.8 C856.6 631.1 860.4 615.9 863.7 615.0 C867.0 614.0 871.3 612.9 875.1 612.1 C878.9 611.4 882.7 611.4 886.5 610.7 C890.3 610.0 894.6 608.8 897.9 607.9 C901.2 606.9 903.6 606.7 906.5 605.0 C909.3 603.3 912.2 600.3 915.0 597.9 C917.9 595.5 920.7 592.9 923.6 590.8 C926.4 588.6 929.3 587.2 932.1 585.0 C935.0 582.9 937.8 579.6 940.7 577.9 C943.5 576.3 946.4 575.3 949.2 575.1 C952.1 574.8 954.9 576.1 957.8 576.5 C960.7 576.9 963.5 577.6 966.4 577.2 C969.2 576.9 971.6 575.4 974.9 574.4 C978.2 573.3 982.5 571.7 986.3 570.8 C990.1 569.8 994.4 569.2 997.7 568.7 C1001.0 568.1 1004.8 572.8 1006.3 567.2 C1007.7 561.6 1031.5 540.5 1006.3 535.1 C981.1 529.8 880.3 521.4 855.1 535.1 C830.0 548.9 853.7 604.5 855.1 617.8 Z" fill="#FFFFFF"/>
<path d="M855.1 623.5 C856.6 619.0 860.9 622.1 863.7 622.1 C866.6 622.1 869.6 622.4 872.3 623.5 C874.9 624.7 878.2 626.9 879.4 629.2 C880.6 631.6 880.6 635.7 879.4 637.8 C878.2 639.9 874.9 640.9 872.3 642.1 C869.6 643.3 866.6 643.7 863.7 644.9 C860.9 646.1 856.6 652.8 855.1 649.2 C853.7 645.6 853.7 628.1 855.1 623.5 Z" fill="#FFFFFF"/>
<path d="M855.1 612.1 C857.0 624.5 862.8 610.0 866.6 609.3 C870.4 608.6 874.2 608.6 878.0 607.9 C881.8 607.1 885.6 606.4 889.4 605.0 C893.2 603.6 897.4 601.4 900.8 599.3 C904.1 597.2 906.5 594.6 909.3 592.2 C912.2 589.8 915.0 587.2 917.9 585.0 C920.7 582.9 923.6 581.0 926.4 579.3 C929.3 577.7 932.1 576.5 935.0 575.1 C937.8 573.6 940.2 572.0 943.5 570.8 C946.9 569.6 951.1 568.4 954.9 567.9 C958.8 567.5 962.6 568.3 966.4 567.9 C970.2 567.6 974.0 566.5 977.8 565.8 C981.6 565.1 985.4 564.3 989.2 563.7 C993.0 563.1 997.7 562.6 1000.6 562.2 C1003.4 561.9 1005.3 566.0 1006.3 561.5 C1007.2 557.0 1031.5 539.5 1006.3 535.1 C981.1 530.8 880.3 522.3 855.1 535.1 C830.0 548.0 853.2 599.8 855.1 612.1 Z" fill="#C8E6FF"/>
<path d="M855.1 535.1 C865.1 522.6 905.5 533.7 915.0 535.1 C924.5 536.6 912.2 541.1 912.2 543.7 C912.2 546.3 913.4 548.9 915.0 550.8 C916.7 552.7 919.8 554.6 922.2 555.1 C924.5 555.6 926.7 554.9 929.3 553.7 C931.9 552.5 935.0 549.4 937.8 548.0 C940.7 546.6 943.1 546.3 946.4 545.1 C949.7 543.9 954.5 542.5 957.8 540.9 C961.1 539.2 958.3 536.1 966.4 535.1 C974.4 534.2 999.6 531.1 1006.3 535.1 C1012.9 539.2 1008.2 555.1 1006.3 559.4 C1004.4 563.7 998.7 560.2 994.9 560.8 C991.1 561.4 987.3 562.2 983.5 563.0 C979.7 563.7 975.9 564.6 972.1 565.1 C968.3 565.6 964.2 565.4 960.7 565.8 C957.1 566.2 954.0 566.4 950.7 567.2 C947.3 568.1 943.8 569.5 940.7 570.8 C937.6 572.1 935.0 573.4 932.1 575.1 C929.3 576.7 926.4 578.6 923.6 580.8 C920.7 582.9 917.9 585.5 915.0 587.9 C912.2 590.3 909.3 592.9 906.5 595.0 C903.6 597.2 901.2 599.1 897.9 600.7 C894.6 602.4 890.3 604.1 886.5 605.0 C882.7 606.0 878.9 605.7 875.1 606.4 C871.3 607.1 867.0 608.6 863.7 609.3 C860.4 610.0 856.6 623.1 855.1 610.7 C853.7 598.4 845.2 547.7 855.1 535.1 Z" fill="#3399FF"/>
<path d="M925.0 542.3 C925.5 541.1 931.4 540.4 935.0 539.4 C938.6 538.5 943.1 536.8 946.4 536.6 C949.7 536.3 955.4 536.8 954.9 538.0 C954.5 539.2 947.3 542.3 943.5 543.7 C939.7 545.1 935.2 546.8 932.1 546.6 C929.0 546.3 924.5 543.5 925.0 542.3 Z" fill="#FFFFFF"/>
<path d="M855.1 535.1 C861.3 531.8 886.2 533.7 892.2 535.1 C898.3 536.6 892.5 541.3 891.5 543.7 C890.6 546.1 889.2 548.0 886.5 549.4 C883.8 550.8 878.9 551.5 875.1 552.3 C871.3 553.0 867.0 553.2 863.7 553.7 C860.4 554.2 856.6 558.2 855.1 555.1 C853.7 552.0 849.0 538.5 855.1 535.1 Z" fill="#FFFFC8"/>
<path d="M858.0 553.7 C860.9 552.7 872.7 551.8 875.1 552.3 C877.5 552.7 875.1 555.6 872.3 556.5 C869.4 557.5 860.4 558.4 858.0 558.0 C855.6 557.5 855.1 554.6 858.0 553.7 Z" fill="#FFFFFF"/>
<path d="M855.1 573.6 C857.0 567.5 862.8 572.9 866.6 572.2 C870.4 571.5 874.2 569.6 878.0 569.4 C881.8 569.1 885.6 571.3 889.4 570.8 C893.2 570.3 897.0 568.2 900.8 566.5 C904.6 564.9 908.9 562.0 912.2 560.8 C915.5 559.6 917.9 560.1 920.7 559.4 C923.6 558.7 926.4 558.0 929.3 556.5 C932.1 555.1 934.5 552.5 937.8 550.8 C941.2 549.2 945.4 548.0 949.2 546.6 C953.0 545.1 956.8 544.2 960.7 542.3 C964.5 540.4 964.5 536.3 972.1 535.1 C979.7 534.0 1000.6 531.3 1006.3 535.1 C1012.0 539.0 1008.2 553.9 1006.3 558.0 C1004.4 562.0 998.7 558.8 994.9 559.4 C991.1 560.0 987.3 560.9 983.5 561.5 C979.7 562.1 975.9 562.6 972.1 563.0 C968.3 563.3 964.2 563.3 960.7 563.7 C957.1 564.0 953.8 564.3 950.7 565.1 C947.6 565.9 945.0 567.3 942.1 568.7 C939.3 570.0 936.4 571.3 933.6 572.9 C930.7 574.6 927.9 576.5 925.0 578.6 C922.2 580.8 919.3 583.4 916.5 585.8 C913.6 588.1 910.8 590.8 907.9 592.9 C905.0 595.0 902.4 596.9 899.3 598.6 C896.3 600.3 892.9 601.8 889.4 602.9 C885.8 603.9 881.8 604.3 878.0 605.0 C874.2 605.7 870.4 606.4 866.6 607.1 C862.8 607.9 857.0 614.9 855.1 609.3 C853.2 603.7 853.2 579.8 855.1 573.6 Z" fill="#003399"/>
<path d="M893.6 555.1 C893.9 554.2 898.9 553.4 900.8 553.7 C902.7 553.9 905.3 555.6 905.0 556.5 C904.8 557.5 901.2 559.6 899.3 559.4 C897.4 559.1 893.4 556.1 893.6 555.1 Z" fill="#003399"/>
<path d="M855.1 582.2 C857.0 577.9 862.8 581.2 866.6 580.8 C870.4 580.3 874.6 579.8 878.0 579.3 C881.3 578.9 883.7 578.6 886.5 577.9 C889.4 577.2 892.0 576.5 895.1 575.1 C898.2 573.6 901.7 571.0 905.0 569.4 C908.4 567.7 911.9 565.6 915.0 565.1 C918.1 564.6 922.6 565.3 923.6 566.5 C924.5 567.7 922.2 570.3 920.7 572.2 C919.3 574.1 917.4 575.8 915.0 577.9 C912.7 580.1 908.9 582.9 906.5 585.0 C904.1 587.2 903.1 588.9 900.8 590.8 C898.4 592.7 895.1 595.0 892.2 596.5 C889.4 597.9 887.0 598.4 883.7 599.3 C880.3 600.3 876.1 601.2 872.3 602.2 C868.5 603.1 863.7 604.3 860.9 605.0 C858.0 605.7 856.1 610.2 855.1 606.4 C854.2 602.6 853.2 586.5 855.1 582.2 Z" fill="#663399"/>
<path d="M937.8 556.5 C939.7 554.9 943.5 553.7 946.4 552.3 C949.2 550.8 952.6 549.2 954.9 548.0 C957.3 546.8 960.2 544.7 960.7 545.1 C961.1 545.6 959.5 549.2 957.8 550.8 C956.1 552.5 953.0 553.7 950.7 555.1 C948.3 556.5 946.2 558.2 943.5 559.4 C940.9 560.6 935.9 562.7 935.0 562.2 C934.0 561.8 935.9 558.2 937.8 556.5 Z" fill="#663399"/>
<path d="M979.2 538.0 C979.2 537.0 982.8 536.8 986.3 536.6 C989.9 536.3 997.2 536.3 1000.6 536.6 C1003.9 536.8 1005.3 536.3 1006.3 538.0 C1007.2 539.7 1007.7 545.6 1006.3 546.6 C1004.8 547.5 1001.0 544.4 997.7 543.7 C994.4 543.0 989.4 543.2 986.3 542.3 C983.2 541.3 979.2 539.0 979.2 538.0 Z" fill="#663399"/>
<path d="M870.8 567.9 C872.0 567.3 876.3 567.0 879.4 566.5 C882.5 566.0 885.8 565.8 889.4 565.1 C892.9 564.4 898.4 562.4 900.8 562.2 C903.1 562.1 904.8 563.5 903.6 564.4 C902.4 565.2 897.2 566.3 893.6 567.2 C890.1 568.2 885.8 569.6 882.2 570.1 C878.7 570.6 874.2 570.4 872.3 570.1 C870.4 569.7 869.6 568.5 870.8 567.9 Z" fill="#FFFFFF"/>
<path d="M860.9 563.7 C861.6 563.1 865.4 562.6 866.6 563.0 C867.7 563.3 868.7 565.2 868.0 565.8 C867.3 566.4 863.5 566.9 862.3 566.5 C861.1 566.2 860.1 564.3 860.9 563.7 Z" fill="#FFFFFF"/>
<path d="M855.1 632.1 C856.6 630.2 861.1 629.5 863.7 629.2 C866.3 629.0 869.4 629.7 870.8 630.7 C872.3 631.6 873.2 633.8 872.3 634.9 C871.3 636.1 868.0 636.8 865.1 637.8 C862.3 638.8 856.8 641.6 855.1 640.7 C853.5 639.7 853.7 634.0 855.1 632.1 Z" fill="#C8E6FF"/>
</g>
<g clip-path="url(#t29)">
<rect x="600.0" y="560.0" width="129.0" height="129.0" fill="#FFFFC8"/>
<path d="M630.0 650.0 C629.2 647.5 631.7 641.7 632.5 637.5 C633.3 633.3 633.8 628.8 635.0 625.0 C636.2 621.2 637.9 617.9 640.0 615.0 C642.1 612.1 645.0 609.6 647.5 607.5 C650.0 605.4 652.1 604.0 655.0 602.5 C657.9 601.0 661.7 599.8 665.0 598.8 C668.3 597.7 671.7 597.1 675.0 596.2 C678.3 595.4 681.7 594.0 685.0 593.8 C688.3 593.5 691.7 594.6 695.0 595.0 C698.3 595.4 702.1 595.8 705.0 596.2 C707.9 596.7 710.0 597.9 712.5 597.5 C715.0 597.1 717.1 594.8 720.0 593.8 C722.9 592.7 728.3 581.0 730.0 591.2 C731.7 601.5 731.2 644.8 730.0 655.0 C728.8 665.2 724.6 653.8 722.5 652.5 C720.4 651.2 719.2 649.2 717.5 647.5 C715.8 645.8 714.6 643.8 712.5 642.5 C710.4 641.2 707.5 640.4 705.0 640.0 C702.5 639.6 699.6 640.6 697.5 640.0 C695.4 639.4 694.2 637.7 692.5 636.2 C690.8 634.8 689.2 632.7 687.5 631.2 C685.8 629.8 684.4 627.7 682.5 627.5 C680.6 627.3 678.3 629.0 676.2 630.0 C674.2 631.0 671.9 632.3 670.0 633.8 C668.1 635.2 666.7 636.9 665.0 638.8 C663.3 640.6 661.7 643.1 660.0 645.0 C658.3 646.9 656.7 648.8 655.0 650.0 C653.3 651.2 651.7 651.7 650.0 652.5 C648.3 653.3 646.7 653.8 645.0 655.0 C643.3 656.2 641.9 658.3 640.0 660.0 C638.1 661.7 635.6 663.3 633.8 665.0 C631.9 666.7 630.2 669.4 628.8 670.0 C627.3 670.6 625.0 670.0 625.0 668.8 C625.0 667.5 627.1 664.4 628.8 662.5 C630.4 660.6 633.5 659.2 635.0 657.5 C636.5 655.8 638.3 653.8 637.5 652.5 C636.7 651.2 630.8 652.5 630.0 650.0 Z" fill="#FFFFFF"/>
<path d="M702.5 576.2 C703.3 575.4 707.1 574.0 710.0 572.5 C712.9 571.0 717.5 568.5 720.0 567.5 C722.5 566.5 725.0 565.6 725.0 566.2 C725.0 566.9 722.1 569.8 720.0 571.2 C717.9 572.7 715.0 574.0 712.5 575.0 C710.0 576.0 706.7 577.3 705.0 577.5 C703.3 577.7 701.7 577.1 702.5 576.2 Z" fill="#FFFFFF"/>
<path d="M687.5 558.8 C689.4 557.9 701.7 558.0 703.8 558.8 C705.8 559.5 701.9 562.3 700.0 563.1 C698.1 564.0 694.6 564.5 692.5 563.8 C690.4 563.0 685.6 559.6 687.5 558.8 Z" fill="#FFFFFF"/>
<path d="M640.0 588.8 C640.4 588.3 643.1 589.0 645.0 590.0 C646.9 591.0 650.8 594.0 651.2 595.0 C651.7 596.0 649.0 596.7 647.5 596.2 C646.0 595.8 643.8 593.8 642.5 592.5 C641.2 591.2 639.6 589.2 640.0 588.8 Z" fill="#FFFFFF"/>
<path d="M636.2 641.2 C635.4 638.3 636.5 633.8 637.5 630.0 C638.5 626.2 640.4 622.1 642.5 618.8 C644.6 615.4 647.3 612.3 650.0 610.0 C652.7 607.7 655.8 606.2 658.8 605.0 C661.7 603.8 664.4 603.3 667.5 602.5 C670.6 601.7 674.2 600.6 677.5 600.0 C680.8 599.4 684.2 598.8 687.5 598.8 C690.8 598.8 694.2 599.6 697.5 600.0 C700.8 600.4 704.6 601.5 707.5 601.2 C710.4 601.0 712.5 599.6 715.0 598.8 C717.5 597.9 720.0 596.9 722.5 596.2 C725.0 595.6 728.8 586.5 730.0 595.0 C731.2 603.5 731.0 639.0 730.0 647.5 C729.0 656.0 725.6 647.3 723.8 646.2 C721.9 645.2 720.6 642.9 718.8 641.2 C716.9 639.6 714.6 637.3 712.5 636.2 C710.4 635.2 708.3 635.2 706.2 635.0 C704.2 634.8 701.9 635.6 700.0 635.0 C698.1 634.4 696.7 632.9 695.0 631.2 C693.3 629.6 691.7 626.7 690.0 625.0 C688.3 623.3 686.9 621.5 685.0 621.2 C683.1 621.0 680.8 622.7 678.8 623.8 C676.7 624.8 674.4 626.0 672.5 627.5 C670.6 629.0 669.2 630.6 667.5 632.5 C665.8 634.4 664.0 636.7 662.5 638.8 C661.0 640.8 660.2 643.3 658.8 645.0 C657.3 646.7 655.6 647.9 653.8 648.8 C651.9 649.6 649.4 650.2 647.5 650.0 C645.6 649.8 644.4 649.0 642.5 647.5 C640.6 646.0 637.1 644.2 636.2 641.2 Z" fill="#C8E6FF"/>
<path d="M642.5 645.0 C642.3 642.9 642.9 638.3 643.8 635.0 C644.6 631.7 646.0 628.1 647.5 625.0 C649.0 621.9 650.4 618.8 652.5 616.2 C654.6 613.8 657.3 611.5 660.0 610.0 C662.7 608.5 665.8 608.1 668.8 607.5 C671.7 606.9 674.4 606.9 677.5 606.2 C680.6 605.6 684.2 604.2 687.5 603.8 C690.8 603.3 694.2 603.5 697.5 603.8 C700.8 604.0 704.6 605.2 707.5 605.0 C710.4 604.8 712.5 603.5 715.0 602.5 C717.5 601.5 720.0 599.6 722.5 598.8 C725.0 597.9 728.8 590.2 730.0 597.5 C731.2 604.8 730.8 635.4 730.0 642.5 C729.2 649.6 726.7 641.2 725.0 640.0 C723.3 638.8 721.7 636.5 720.0 635.0 C718.3 633.5 714.6 632.5 715.0 631.2 C715.4 630.0 722.1 628.5 722.5 627.5 C722.9 626.5 719.6 625.2 717.5 625.0 C715.4 624.8 712.9 625.8 710.0 626.2 C707.1 626.7 702.5 628.1 700.0 627.5 C697.5 626.9 696.5 624.2 695.0 622.5 C693.5 620.8 692.7 618.8 691.2 617.5 C689.8 616.2 688.1 615.0 686.2 615.0 C684.4 615.0 682.1 616.5 680.0 617.5 C677.9 618.5 675.6 619.8 673.8 621.2 C671.9 622.7 670.2 624.4 668.8 626.2 C667.3 628.1 666.2 630.6 665.0 632.5 C663.8 634.4 662.5 635.8 661.2 637.5 C660.0 639.2 658.3 640.8 657.5 642.5 C656.7 644.2 657.1 646.5 656.2 647.5 C655.4 648.5 653.8 649.0 652.5 648.8 C651.2 648.5 650.0 646.5 648.8 646.2 C647.5 646.0 646.0 647.7 645.0 647.5 C644.0 647.3 642.7 647.1 642.5 645.0 Z" fill="#3399FF"/>
<path d="M697.5 617.5 C698.3 616.5 702.5 616.0 705.0 616.2 C707.5 616.5 710.4 617.7 712.5 618.8 C714.6 619.8 717.5 621.5 717.5 622.5 C717.5 623.5 714.6 624.6 712.5 625.0 C710.4 625.4 707.1 625.4 705.0 625.0 C702.9 624.6 701.2 623.8 700.0 622.5 C698.8 621.2 696.7 618.5 697.5 617.5 Z" fill="#FFFFFF"/>
<path d="M720.0 621.2 C720.2 620.5 722.1 619.8 723.8 620.0 C725.4 620.2 729.0 621.7 730.0 622.5 C731.0 623.3 731.2 624.7 730.0 625.0 C728.8 625.3 724.2 625.0 722.5 624.4 C720.8 623.8 719.8 622.0 720.0 621.2 Z" fill="#FFFFFF"/>
<path d="M650.0 630.0 C650.6 629.0 653.3 627.9 655.0 627.5 C656.7 627.1 659.8 626.7 660.0 627.5 C660.2 628.3 657.7 631.5 656.2 632.5 C654.8 633.5 652.3 634.2 651.2 633.8 C650.2 633.3 649.4 631.0 650.0 630.0 Z" fill="#FFFFFF"/>
<path d="M712.5 603.8 C713.3 602.3 717.7 600.8 720.0 600.0 C722.3 599.2 724.6 598.8 726.2 598.8 C727.9 598.8 729.4 597.7 730.0 600.0 C730.6 602.3 730.8 610.2 730.0 612.5 C729.2 614.8 726.7 614.2 725.0 613.8 C723.3 613.3 721.7 610.8 720.0 610.0 C718.3 609.2 716.2 609.8 715.0 608.8 C713.8 607.7 711.7 605.2 712.5 603.8 Z" fill="#003399"/>
<path d="M692.5 690.0 C687.5 688.1 697.5 681.7 700.0 678.8 C702.5 675.8 705.0 674.6 707.5 672.5 C710.0 670.4 712.5 668.3 715.0 666.2 C717.5 664.2 720.0 661.5 722.5 660.0 C725.0 658.5 728.8 652.5 730.0 657.5 C731.2 662.5 736.2 684.6 730.0 690.0 C723.8 695.4 697.5 691.9 692.5 690.0 Z" fill="#FFFFFF"/>
<path d="M700.0 690.0 C696.2 687.9 705.0 680.6 707.5 677.5 C710.0 674.4 712.5 673.1 715.0 671.2 C717.5 669.4 720.0 667.5 722.5 666.2 C725.0 665.0 728.8 659.8 730.0 663.8 C731.2 667.7 735.0 685.6 730.0 690.0 C725.0 694.4 703.8 692.1 700.0 690.0 Z" fill="#C8E6FF"/>
<path d="M712.5 690.0 C710.4 688.1 715.4 681.2 717.5 678.8 C719.6 676.2 722.9 675.8 725.0 675.0 C727.1 674.2 729.2 671.2 730.0 673.8 C730.8 676.2 732.9 687.3 730.0 690.0 C727.1 692.7 714.6 691.9 712.5 690.0 Z" fill="#3399FF"/>
</g>
<g clip-path="url(#t30)">
<rect x="740.0" y="490.0" width="129.0" height="129.0" fill="#FFFFFF"/>
<path d="M792.5 531.2 C792.5 529.6 796.7 526.9 798.8 526.2 C800.8 525.6 803.1 526.5 805.0 527.5 C806.9 528.5 807.9 530.8 810.0 532.5 C812.1 534.2 814.6 536.5 817.5 537.5 C820.4 538.5 823.8 538.8 827.5 538.8 C831.2 538.8 836.2 537.9 840.0 537.5 C843.8 537.1 847.1 537.1 850.0 536.2 C852.9 535.4 855.0 533.3 857.5 532.5 C860.0 531.7 862.9 531.2 865.0 531.2 C867.1 531.2 869.2 529.4 870.0 532.5 C870.8 535.6 871.2 546.7 870.0 550.0 C868.8 553.3 865.0 551.5 862.5 552.5 C860.0 553.5 857.5 555.4 855.0 556.2 C852.5 557.1 850.0 556.9 847.5 557.5 C845.0 558.1 842.1 560.4 840.0 560.0 C837.9 559.6 836.7 556.7 835.0 555.0 C833.3 553.3 832.1 551.0 830.0 550.0 C827.9 549.0 825.0 548.5 822.5 548.8 C820.0 549.0 817.5 550.4 815.0 551.2 C812.5 552.1 810.0 552.7 807.5 553.8 C805.0 554.8 802.1 556.0 800.0 557.5 C797.9 559.0 796.7 561.0 795.0 562.5 C793.3 564.0 792.1 565.2 790.0 566.2 C787.9 567.3 784.6 567.3 782.5 568.8 C780.4 570.2 779.6 573.5 777.5 575.0 C775.4 576.5 772.1 577.5 770.0 577.5 C767.9 577.5 766.5 576.2 765.0 575.0 C763.5 573.8 761.7 571.9 761.2 570.0 C760.8 568.1 761.0 565.2 762.5 563.8 C764.0 562.3 767.5 561.9 770.0 561.2 C772.5 560.6 775.0 560.6 777.5 560.0 C780.0 559.4 782.5 558.8 785.0 557.5 C787.5 556.2 791.7 554.4 792.5 552.5 C793.3 550.6 789.6 547.9 790.0 546.2 C790.4 544.6 793.3 542.5 795.0 542.5 C796.7 542.5 798.3 545.0 800.0 546.2 C801.7 547.5 803.8 550.2 805.0 550.0 C806.2 549.8 807.9 546.7 807.5 545.0 C807.1 543.3 804.0 541.5 802.5 540.0 C801.0 538.5 800.4 537.7 798.8 536.2 C797.1 534.8 792.5 532.9 792.5 531.2 Z" fill="#FFFFC8"/>
<path d="M737.5 562.5 C739.2 560.0 744.6 563.8 747.5 565.0 C750.4 566.2 752.5 567.9 755.0 570.0 C757.5 572.1 759.6 575.8 762.5 577.5 C765.4 579.2 770.4 579.0 772.5 580.0 C774.6 581.0 776.2 582.9 775.0 583.8 C773.8 584.6 768.3 585.0 765.0 585.0 C761.7 585.0 758.3 584.2 755.0 583.8 C751.7 583.3 747.9 583.1 745.0 582.5 C742.1 581.9 738.8 583.3 737.5 580.0 C736.2 576.7 735.8 565.0 737.5 562.5 Z" fill="#FFFFC8"/>
<path d="M817.5 527.5 C819.0 526.2 823.8 525.0 827.5 525.0 C831.2 525.0 835.8 526.9 840.0 527.5 C844.2 528.1 848.3 528.8 852.5 528.8 C856.7 528.8 862.1 527.7 865.0 527.5 C867.9 527.3 869.2 526.9 870.0 527.5 C870.8 528.1 872.1 530.4 870.0 531.2 C867.9 532.1 861.2 531.8 857.5 532.5 C853.8 533.2 851.2 534.8 847.5 535.6 C843.8 536.5 839.2 537.3 835.0 537.5 C830.8 537.7 825.2 537.7 822.5 536.9 C819.8 536.0 819.6 534.1 818.8 532.5 C817.9 530.9 816.0 528.8 817.5 527.5 Z" fill="#FFFFC8"/>
<path d="M832.5 510.0 C833.1 508.3 836.7 506.7 838.8 505.0 C840.8 503.3 842.7 501.7 845.0 500.0 C847.3 498.3 850.0 496.5 852.5 495.0 C855.0 493.5 857.9 492.5 860.0 491.2 C862.1 490.0 863.3 488.1 865.0 487.5 C866.7 486.9 869.2 481.7 870.0 487.5 C870.8 493.3 871.2 516.7 870.0 522.5 C868.8 528.3 865.0 522.9 862.5 522.5 C860.0 522.1 857.5 520.8 855.0 520.0 C852.5 519.2 850.0 517.9 847.5 517.5 C845.0 517.1 842.1 517.9 840.0 517.5 C837.9 517.1 836.2 516.2 835.0 515.0 C833.8 513.8 831.9 511.7 832.5 510.0 Z" fill="#C8E6FF"/>
<path d="M840.0 508.8 C840.6 507.3 844.0 504.4 846.2 502.5 C848.5 500.6 851.2 499.2 853.8 497.5 C856.2 495.8 858.5 493.8 861.2 492.5 C864.0 491.2 868.5 486.2 870.0 490.0 C871.5 493.8 871.2 511.0 870.0 515.0 C868.8 519.0 865.0 513.8 862.5 513.8 C860.0 513.8 857.5 515.2 855.0 515.0 C852.5 514.8 849.6 513.1 847.5 512.5 C845.4 511.9 843.8 511.9 842.5 511.2 C841.2 510.6 839.4 510.2 840.0 508.8 Z" fill="#3399FF"/>
<path d="M847.5 506.2 C847.9 504.8 850.4 502.9 852.5 501.2 C854.6 499.6 857.1 497.7 860.0 496.2 C862.9 494.8 868.3 490.4 870.0 492.5 C871.7 494.6 871.2 506.2 870.0 508.8 C868.8 511.2 865.0 507.3 862.5 507.5 C860.0 507.7 857.1 509.6 855.0 510.0 C852.9 510.4 851.2 510.6 850.0 510.0 C848.8 509.4 847.1 507.7 847.5 506.2 Z" fill="#003399"/>
<path d="M857.5 513.8 C857.9 512.7 862.9 511.5 865.0 511.2 C867.1 511.0 869.2 511.2 870.0 512.5 C870.8 513.8 871.2 517.9 870.0 518.8 C868.8 519.6 864.6 518.3 862.5 517.5 C860.4 516.7 857.1 514.8 857.5 513.8 Z" fill="#FFFFFF"/>
<path d="M780.0 577.5 C780.6 575.8 780.8 572.9 782.5 571.2 C784.2 569.6 787.5 568.8 790.0 567.5 C792.5 566.2 795.0 565.0 797.5 563.8 C800.0 562.5 802.1 561.2 805.0 560.0 C807.9 558.8 811.7 557.3 815.0 556.2 C818.3 555.2 822.1 554.0 825.0 553.8 C827.9 553.5 830.4 554.0 832.5 555.0 C834.6 556.0 835.4 558.8 837.5 560.0 C839.6 561.2 842.5 562.3 845.0 562.5 C847.5 562.7 850.0 562.1 852.5 561.2 C855.0 560.4 857.1 559.0 860.0 557.5 C862.9 556.0 868.3 542.1 870.0 552.5 C871.7 562.9 892.1 608.8 870.0 620.0 C847.9 631.2 759.6 625.4 737.5 620.0 C715.4 614.6 735.8 592.7 737.5 587.5 C739.2 582.3 744.2 588.3 747.5 588.8 C750.8 589.2 754.2 590.0 757.5 590.0 C760.8 590.0 764.6 589.6 767.5 588.8 C770.4 587.9 773.1 586.2 775.0 585.0 C776.9 583.8 777.9 582.5 778.8 581.2 C779.6 580.0 779.4 579.2 780.0 577.5 Z" fill="#C8E6FF"/>
<path d="M781.2 576.2 C781.5 575.0 783.1 572.6 785.0 571.2 C786.9 569.9 790.2 569.0 792.5 568.1 C794.8 567.3 797.1 565.9 798.8 566.2 C800.4 566.6 803.1 569.0 802.5 570.0 C801.9 571.0 797.5 571.5 795.0 572.5 C792.5 573.5 789.4 575.2 787.5 576.2 C785.6 577.3 784.8 578.8 783.8 578.8 C782.7 578.8 781.0 577.5 781.2 576.2 Z" fill="#FFFFFF"/>
<path d="M788.8 587.5 C790.0 586.5 794.4 585.8 797.5 585.0 C800.6 584.2 803.8 583.3 807.5 582.5 C811.2 581.7 816.2 580.4 820.0 580.0 C823.8 579.6 827.3 579.6 830.0 580.0 C832.7 580.4 835.6 581.0 836.2 582.5 C836.9 584.0 835.2 586.9 833.8 588.8 C832.3 590.6 830.2 592.3 827.5 593.8 C824.8 595.2 821.2 596.5 817.5 597.5 C813.8 598.5 808.8 599.4 805.0 600.0 C801.2 600.6 797.5 600.8 795.0 601.2 C792.5 601.7 790.4 603.1 790.0 602.5 C789.6 601.9 791.5 599.2 792.5 597.5 C793.5 595.8 796.7 593.5 796.2 592.5 C795.8 591.5 791.2 592.1 790.0 591.2 C788.8 590.4 787.5 588.5 788.8 587.5 Z" fill="#FFFFFF"/>
<path d="M737.5 588.8 C739.2 587.7 743.8 588.1 747.5 588.1 C751.2 588.1 756.7 588.4 760.0 588.8 C763.3 589.1 766.7 589.2 767.5 590.0 C768.3 590.8 767.1 593.0 765.0 593.8 C762.9 594.5 758.3 594.4 755.0 594.4 C751.7 594.4 747.9 593.8 745.0 593.8 C742.1 593.8 738.8 595.2 737.5 594.4 C736.2 593.5 735.8 589.8 737.5 588.8 Z" fill="#FFFFFF"/>
<path d="M796.2 592.5 C797.3 591.5 801.9 590.6 805.0 590.0 C808.1 589.4 811.7 588.8 815.0 588.8 C818.3 588.8 823.1 589.2 825.0 590.0 C826.9 590.8 827.5 592.7 826.2 593.8 C825.0 594.8 820.6 595.6 817.5 596.2 C814.4 596.9 810.6 597.5 807.5 597.5 C804.4 597.5 800.6 597.1 798.8 596.2 C796.9 595.4 795.2 593.5 796.2 592.5 Z" fill="#FFFFC8"/>
<path d="M790.0 582.5 C790.6 580.8 792.9 579.0 795.0 577.5 C797.1 576.0 800.0 575.0 802.5 573.8 C805.0 572.5 807.5 571.5 810.0 570.0 C812.5 568.5 815.0 566.5 817.5 565.0 C820.0 563.5 822.5 561.7 825.0 561.2 C827.5 560.8 830.4 561.7 832.5 562.5 C834.6 563.3 835.4 565.4 837.5 566.2 C839.6 567.1 842.5 567.5 845.0 567.5 C847.5 567.5 850.0 567.1 852.5 566.2 C855.0 565.4 857.1 564.0 860.0 562.5 C862.9 561.0 868.3 555.0 870.0 557.5 C871.7 560.0 871.2 573.8 870.0 577.5 C868.8 581.2 865.0 580.0 862.5 580.0 C860.0 580.0 857.5 578.1 855.0 577.5 C852.5 576.9 850.0 576.2 847.5 576.2 C845.0 576.2 842.1 576.9 840.0 577.5 C837.9 578.1 837.1 580.0 835.0 580.0 C832.9 580.0 830.0 577.9 827.5 577.5 C825.0 577.1 822.5 577.1 820.0 577.5 C817.5 577.9 815.0 579.2 812.5 580.0 C810.0 580.8 807.5 581.5 805.0 582.5 C802.5 583.5 799.8 585.4 797.5 586.2 C795.2 587.1 792.5 588.1 791.2 587.5 C790.0 586.9 789.4 584.2 790.0 582.5 Z" fill="#3399FF"/>
<path d="M795.0 581.2 C795.2 580.3 797.9 578.5 800.0 577.5 C802.1 576.5 805.0 576.0 807.5 575.0 C810.0 574.0 812.7 572.7 815.0 571.2 C817.3 569.8 819.2 567.5 821.2 566.2 C823.3 565.0 825.6 564.0 827.5 563.8 C829.4 563.5 831.0 564.0 832.5 565.0 C834.0 566.0 836.2 568.5 836.2 570.0 C836.2 571.5 834.2 572.9 832.5 573.8 C830.8 574.6 828.3 574.6 826.2 575.0 C824.2 575.4 822.3 575.8 820.0 576.2 C817.7 576.7 815.0 576.9 812.5 577.5 C810.0 578.1 807.3 579.1 805.0 580.0 C802.7 580.9 800.4 582.9 798.8 583.1 C797.1 583.3 794.8 582.2 795.0 581.2 Z" fill="#003399"/>
<path d="M852.5 570.0 C853.1 568.5 857.1 567.3 860.0 566.2 C862.9 565.2 868.3 562.3 870.0 563.8 C871.7 565.2 871.2 572.9 870.0 575.0 C868.8 577.1 864.8 576.2 862.5 576.2 C860.2 576.2 857.9 576.0 856.2 575.0 C854.6 574.0 851.9 571.5 852.5 570.0 Z" fill="#003399"/>
<path d="M737.5 595.0 C739.2 591.0 744.2 596.0 747.5 596.2 C750.8 596.5 754.6 596.0 757.5 596.2 C760.4 596.5 762.1 596.9 765.0 597.5 C767.9 598.1 772.1 599.2 775.0 600.0 C777.9 600.8 780.0 601.5 782.5 602.5 C785.0 603.5 787.5 605.0 790.0 606.2 C792.5 607.5 794.6 609.4 797.5 610.0 C800.4 610.6 804.2 610.4 807.5 610.0 C810.8 609.6 814.2 608.5 817.5 607.5 C820.8 606.5 825.0 605.2 827.5 603.8 C830.0 602.3 831.2 601.0 832.5 598.8 C833.8 596.5 833.8 592.3 835.0 590.0 C836.2 587.7 837.9 586.2 840.0 585.0 C842.1 583.8 845.0 582.9 847.5 582.5 C850.0 582.1 852.5 582.1 855.0 582.5 C857.5 582.9 860.0 584.6 862.5 585.0 C865.0 585.4 868.8 579.2 870.0 585.0 C871.2 590.8 892.1 614.2 870.0 620.0 C847.9 625.8 759.6 624.2 737.5 620.0 C715.4 615.8 735.8 599.0 737.5 595.0 Z" fill="#3399FF"/>
<path d="M737.5 596.2 C739.2 593.3 744.2 597.1 747.5 597.5 C750.8 597.9 754.8 597.9 757.5 598.8 C760.2 599.6 762.9 600.8 763.8 602.5 C764.6 604.2 763.5 607.5 762.5 608.8 C761.5 610.0 760.0 610.0 757.5 610.0 C755.0 610.0 750.4 608.3 747.5 608.8 C744.6 609.2 741.7 611.5 740.0 612.5 C738.3 613.5 737.9 617.7 737.5 615.0 C737.1 612.3 735.8 599.2 737.5 596.2 Z" fill="#003399"/>
<path d="M760.0 610.0 C761.7 608.1 766.7 609.2 770.0 608.8 C773.3 608.3 776.7 607.3 780.0 607.5 C783.3 607.7 786.7 609.0 790.0 610.0 C793.3 611.0 796.7 613.1 800.0 613.8 C803.3 614.4 806.7 614.2 810.0 613.8 C813.3 613.3 816.7 612.3 820.0 611.2 C823.3 610.2 827.5 609.4 830.0 607.5 C832.5 605.6 833.8 602.5 835.0 600.0 C836.2 597.5 836.0 594.6 837.5 592.5 C839.0 590.4 841.2 588.5 843.8 587.5 C846.2 586.5 849.8 586.0 852.5 586.2 C855.2 586.5 857.1 588.3 860.0 588.8 C862.9 589.2 868.3 583.5 870.0 588.8 C871.7 594.0 888.3 614.8 870.0 620.0 C851.7 625.2 778.3 621.7 760.0 620.0 C741.7 618.3 758.3 611.9 760.0 610.0 Z" fill="#003399"/>
<path d="M812.5 620.0 C804.2 619.0 817.1 615.4 820.0 613.8 C822.9 612.1 827.3 611.9 830.0 610.0 C832.7 608.1 834.8 605.0 836.2 602.5 C837.7 600.0 837.3 597.1 838.8 595.0 C840.2 592.9 842.7 591.0 845.0 590.0 C847.3 589.0 850.0 588.5 852.5 588.8 C855.0 589.0 857.1 590.8 860.0 591.2 C862.9 591.7 868.3 586.5 870.0 591.2 C871.7 596.0 879.6 615.2 870.0 620.0 C860.4 624.8 820.8 621.0 812.5 620.0 Z" fill="#663399"/>
<path d="M765.0 603.1 C765.4 602.4 769.2 602.1 771.2 601.9 C773.3 601.7 776.7 601.2 777.5 601.9 C778.3 602.5 777.7 604.9 776.2 605.6 C774.8 606.4 770.6 606.7 768.8 606.2 C766.9 605.8 764.6 603.9 765.0 603.1 Z" fill="#FFFFFF"/>
<path d="M790.0 601.2 C791.0 600.7 796.7 602.9 800.0 603.1 C803.3 603.3 806.7 603.0 810.0 602.5 C813.3 602.0 817.1 600.8 820.0 600.0 C822.9 599.2 825.8 597.3 827.5 597.5 C829.2 597.7 830.8 600.0 830.0 601.2 C829.2 602.5 825.4 604.0 822.5 605.0 C819.6 606.0 815.8 607.0 812.5 607.5 C809.2 608.0 805.6 608.3 802.5 608.1 C799.4 607.9 795.8 607.4 793.8 606.2 C791.7 605.1 789.0 601.8 790.0 601.2 Z" fill="#FFFFFF"/>
<path d="M742.5 613.8 C742.9 612.3 745.6 610.7 747.5 610.0 C749.4 609.3 752.3 608.9 753.8 609.4 C755.2 609.9 756.5 611.8 756.2 613.1 C756.0 614.5 754.4 616.6 752.5 617.5 C750.6 618.4 746.7 619.4 745.0 618.8 C743.3 618.1 742.1 615.2 742.5 613.8 Z" fill="#FFFFFF"/>
<path d="M857.5 610.0 C859.6 607.7 862.9 607.1 865.0 606.2 C867.1 605.4 869.2 602.7 870.0 605.0 C870.8 607.3 872.9 617.5 870.0 620.0 C867.1 622.5 854.6 621.7 852.5 620.0 C850.4 618.3 855.4 612.3 857.5 610.0 Z" fill="#C8E6FF"/>
</g>
<g clip-path="url(#t31)">
<rect x="876.0" y="490.0" width="129.0" height="129.0" fill="#FFFFC8"/>
<path d="M873.5 487.5 C895.6 466.5 983.9 474.2 1006.0 487.5 C1028.1 500.8 1008.1 553.8 1006.0 567.5 C1003.9 581.2 997.2 569.2 993.5 570.0 C989.8 570.8 986.8 571.7 983.5 572.5 C980.2 573.3 976.8 574.2 973.5 575.0 C970.2 575.8 966.4 577.3 963.5 577.5 C960.6 577.7 958.5 576.9 956.0 576.2 C953.5 575.6 951.0 573.8 948.5 573.8 C946.0 573.8 943.5 574.8 941.0 576.2 C938.5 577.7 936.4 580.4 933.5 582.5 C930.6 584.6 926.8 586.5 923.5 588.8 C920.2 591.0 916.8 594.0 913.5 596.2 C910.2 598.5 906.8 600.6 903.5 602.5 C900.2 604.4 896.8 606.2 893.5 607.5 C890.2 608.8 886.8 609.0 883.5 610.0 C880.2 611.0 875.2 634.2 873.5 613.8 C871.8 593.3 851.4 508.5 873.5 487.5 Z" fill="#FFFFFF"/>
<path d="M873.5 512.5 C875.2 509.8 880.2 514.0 883.5 515.0 C886.8 516.0 890.2 517.5 893.5 518.8 C896.8 520.0 900.2 521.0 903.5 522.5 C906.8 524.0 911.0 525.8 913.5 527.5 C916.0 529.2 918.5 531.0 918.5 532.5 C918.5 534.0 916.0 535.8 913.5 536.2 C911.0 536.7 906.8 535.6 903.5 535.0 C900.2 534.4 896.8 533.1 893.5 532.5 C890.2 531.9 886.8 531.5 883.5 531.2 C880.2 531.0 875.2 534.4 873.5 531.2 C871.8 528.1 871.8 515.2 873.5 512.5 Z" fill="#FFFFC8"/>
<path d="M918.5 487.5 C923.9 486.7 950.2 486.5 956.0 487.5 C961.8 488.5 955.2 492.1 953.5 493.8 C951.8 495.4 948.5 497.1 946.0 497.5 C943.5 497.9 941.0 496.7 938.5 496.2 C936.0 495.8 933.5 495.6 931.0 495.0 C928.5 494.4 925.6 493.8 923.5 492.5 C921.4 491.2 913.1 488.3 918.5 487.5 Z" fill="#FFFFC8"/>
<path d="M941.0 495.0 C941.0 494.2 947.2 492.7 951.0 492.5 C954.8 492.3 959.8 493.1 963.5 493.8 C967.2 494.4 972.2 495.4 973.5 496.2 C974.8 497.1 973.1 498.5 971.0 498.8 C968.9 499.0 964.3 497.7 961.0 497.5 C957.7 497.3 954.3 497.9 951.0 497.5 C947.7 497.1 941.0 495.8 941.0 495.0 Z" fill="#FFFFC8"/>
<path d="M873.5 487.5 C881.0 484.2 911.4 486.2 918.5 487.5 C925.6 488.8 917.2 492.7 916.0 495.0 C914.8 497.3 912.7 499.4 911.0 501.2 C909.3 503.1 905.6 504.8 906.0 506.2 C906.4 507.7 910.6 509.2 913.5 510.0 C916.4 510.8 920.2 511.0 923.5 511.2 C926.8 511.5 930.6 511.7 933.5 511.2 C936.4 510.8 938.9 510.0 941.0 508.8 C943.1 507.5 943.9 504.8 946.0 503.8 C948.1 502.7 950.6 502.5 953.5 502.5 C956.4 502.5 960.2 503.3 963.5 503.8 C966.8 504.2 970.2 505.0 973.5 505.0 C976.8 505.0 980.2 504.4 983.5 503.8 C986.8 503.1 989.8 501.9 993.5 501.2 C997.2 500.6 1003.9 489.4 1006.0 500.0 C1008.1 510.6 1008.1 553.8 1006.0 565.0 C1003.9 576.2 997.2 566.7 993.5 567.5 C989.8 568.3 986.8 569.2 983.5 570.0 C980.2 570.8 976.8 571.7 973.5 572.5 C970.2 573.3 966.4 574.8 963.5 575.0 C960.6 575.2 958.5 574.4 956.0 573.8 C953.5 573.1 951.0 571.2 948.5 571.2 C946.0 571.2 943.5 572.3 941.0 573.8 C938.5 575.2 936.4 577.9 933.5 580.0 C930.6 582.1 926.8 584.0 923.5 586.2 C920.2 588.5 916.8 591.5 913.5 593.8 C910.2 596.0 906.8 598.1 903.5 600.0 C900.2 601.9 896.8 603.8 893.5 605.0 C890.2 606.2 886.8 606.5 883.5 607.5 C880.2 608.5 875.2 622.9 873.5 611.2 C871.8 599.6 871.8 550.0 873.5 537.5 C875.2 525.0 880.2 536.2 883.5 536.2 C886.8 536.2 890.2 536.9 893.5 537.5 C896.8 538.1 900.4 539.6 903.5 540.0 C906.6 540.4 910.0 541.0 912.2 540.0 C914.5 539.0 915.4 535.8 917.2 533.8 C919.1 531.7 921.2 529.4 923.5 527.5 C925.8 525.6 930.6 523.8 931.0 522.5 C931.4 521.2 928.5 520.6 926.0 520.0 C923.5 519.4 919.3 519.4 916.0 518.8 C912.7 518.1 909.3 517.1 906.0 516.2 C902.7 515.4 899.3 514.8 896.0 513.8 C892.7 512.7 889.8 511.0 886.0 510.0 C882.2 509.0 875.6 511.2 873.5 507.5 C871.4 503.8 866.0 490.8 873.5 487.5 Z" fill="#C8E6FF"/>
<path d="M894.8 515.0 C896.0 514.8 904.1 518.1 908.5 518.8 C912.9 519.4 916.4 518.5 921.0 518.8 C925.6 519.0 931.4 519.6 936.0 520.0 C940.6 520.4 944.3 520.4 948.5 521.2 C952.7 522.1 956.8 523.5 961.0 525.0 C965.2 526.5 973.1 528.5 973.5 530.0 C973.9 531.5 966.8 532.5 963.5 533.8 C960.2 535.0 956.8 536.0 953.5 537.5 C950.2 539.0 946.8 541.0 943.5 542.5 C940.2 544.0 936.4 545.8 933.5 546.2 C930.6 546.7 927.7 546.5 926.0 545.0 C924.3 543.5 924.8 539.8 923.5 537.5 C922.2 535.2 920.6 533.3 918.5 531.2 C916.4 529.2 913.9 526.9 911.0 525.0 C908.1 523.1 903.7 521.7 901.0 520.0 C898.3 518.3 893.5 515.2 894.8 515.0 Z" fill="#FFFFFF"/>
<path d="M913.5 540.0 C914.8 538.1 920.6 537.9 923.5 538.8 C926.4 539.6 930.2 542.7 931.0 545.0 C931.8 547.3 930.0 550.8 928.5 552.5 C927.0 554.2 924.3 555.4 922.2 555.0 C920.2 554.6 917.5 552.5 916.0 550.0 C914.5 547.5 912.2 541.9 913.5 540.0 Z" fill="#C8E6FF"/>
<path d="M936.0 521.2 C936.8 520.2 945.0 519.8 948.5 520.0 C952.0 520.2 956.4 521.2 957.2 522.5 C958.1 523.8 955.8 526.9 953.5 527.5 C951.2 528.1 946.4 527.3 943.5 526.2 C940.6 525.2 935.2 522.3 936.0 521.2 Z" fill="#C8E6FF"/>
<path d="M873.5 542.5 C875.2 531.0 880.2 540.2 883.5 540.0 C886.8 539.8 890.2 540.6 893.5 541.2 C896.8 541.9 900.4 543.1 903.5 543.8 C906.6 544.4 910.0 543.5 912.2 545.0 C914.5 546.5 915.0 550.4 917.2 552.5 C919.5 554.6 923.3 557.5 926.0 557.5 C928.7 557.5 931.0 554.2 933.5 552.5 C936.0 550.8 938.1 549.2 941.0 547.5 C943.9 545.8 947.7 544.2 951.0 542.5 C954.3 540.8 957.7 539.2 961.0 537.5 C964.3 535.8 967.9 533.8 971.0 532.5 C974.1 531.2 979.3 531.2 979.8 530.0 C980.2 528.8 976.2 526.5 973.5 525.0 C970.8 523.5 966.8 522.3 963.5 521.2 C960.2 520.2 956.8 519.8 953.5 518.8 C950.2 517.7 945.4 516.9 943.5 515.0 C941.6 513.1 941.8 509.6 942.2 507.5 C942.7 505.4 943.7 503.5 946.0 502.5 C948.3 501.5 952.7 501.2 956.0 501.2 C959.3 501.2 962.7 502.1 966.0 502.5 C969.3 502.9 972.7 503.8 976.0 503.8 C979.3 503.8 982.7 503.1 986.0 502.5 C989.3 501.9 992.7 500.6 996.0 500.0 C999.3 499.4 1004.3 488.5 1006.0 498.8 C1007.7 509.0 1008.1 550.4 1006.0 561.2 C1003.9 572.1 997.2 562.9 993.5 563.8 C989.8 564.6 986.8 565.6 983.5 566.2 C980.2 566.9 976.8 566.9 973.5 567.5 C970.2 568.1 966.8 570.0 963.5 570.0 C960.2 570.0 956.4 567.9 953.5 567.5 C950.6 567.1 948.5 566.9 946.0 567.5 C943.5 568.1 941.0 569.6 938.5 571.2 C936.0 572.9 933.9 575.4 931.0 577.5 C928.1 579.6 924.3 581.5 921.0 583.8 C917.7 586.0 914.3 589.0 911.0 591.2 C907.7 593.5 904.3 595.6 901.0 597.5 C897.7 599.4 894.3 601.2 891.0 602.5 C887.7 603.8 883.9 604.0 881.0 605.0 C878.1 606.0 874.8 619.2 873.5 608.8 C872.2 598.3 871.8 554.0 873.5 542.5 Z" fill="#3399FF"/>
<path d="M873.5 487.5 C876.4 484.6 886.4 485.8 891.0 487.5 C895.6 489.2 898.1 494.8 901.0 497.5 C903.9 500.2 906.4 501.9 908.5 503.8 C910.6 505.6 913.5 507.5 913.5 508.8 C913.5 510.0 911.0 511.2 908.5 511.2 C906.0 511.2 901.8 509.8 898.5 508.8 C895.2 507.7 891.4 505.4 888.5 505.0 C885.6 504.6 883.5 506.2 881.0 506.2 C878.5 506.2 874.8 508.1 873.5 505.0 C872.2 501.9 870.6 490.4 873.5 487.5 Z" fill="#3399FF"/>
<path d="M883.5 567.5 C884.8 566.2 890.2 564.8 893.5 563.8 C896.8 562.7 901.4 561.2 903.5 561.2 C905.6 561.2 907.2 562.7 906.0 563.8 C904.8 564.8 899.3 566.2 896.0 567.5 C892.7 568.8 888.1 571.2 886.0 571.2 C883.9 571.2 882.2 568.8 883.5 567.5 Z" fill="#FFFFFF"/>
<path d="M873.5 572.5 C875.2 566.5 880.2 570.8 883.5 570.0 C886.8 569.2 890.2 568.5 893.5 567.5 C896.8 566.5 900.2 565.0 903.5 563.8 C906.8 562.5 910.6 560.6 913.5 560.0 C916.4 559.4 918.5 560.0 921.0 560.0 C923.5 560.0 926.4 560.6 928.5 560.0 C930.6 559.4 931.4 557.7 933.5 556.2 C935.6 554.8 938.1 552.9 941.0 551.2 C943.9 549.6 947.7 547.9 951.0 546.2 C954.3 544.6 957.7 542.9 961.0 541.2 C964.3 539.6 967.5 537.9 971.0 536.2 C974.5 534.6 981.4 532.9 982.2 531.2 C983.1 529.6 978.7 527.7 976.0 526.2 C973.3 524.8 969.3 523.8 966.0 522.5 C962.7 521.2 959.3 520.0 956.0 518.8 C952.7 517.5 948.1 516.7 946.0 515.0 C943.9 513.3 943.3 510.6 943.5 508.8 C943.7 506.9 945.0 504.6 947.2 503.8 C949.5 502.9 953.9 503.5 957.2 503.8 C960.6 504.0 963.9 504.6 967.2 505.0 C970.6 505.4 973.9 506.2 977.2 506.2 C980.6 506.2 983.9 505.6 987.2 505.0 C990.6 504.4 994.1 503.1 997.2 502.5 C1000.4 501.9 1004.5 491.9 1006.0 501.2 C1007.5 510.6 1008.1 548.8 1006.0 558.8 C1003.9 568.8 997.2 560.4 993.5 561.2 C989.8 562.1 986.8 563.1 983.5 563.8 C980.2 564.4 976.8 564.6 973.5 565.0 C970.2 565.4 966.8 566.5 963.5 566.2 C960.2 566.0 956.4 564.2 953.5 563.8 C950.6 563.3 948.5 563.1 946.0 563.8 C943.5 564.4 941.0 565.8 938.5 567.5 C936.0 569.2 933.9 571.7 931.0 573.8 C928.1 575.8 924.3 577.7 921.0 580.0 C917.7 582.3 914.3 585.2 911.0 587.5 C907.7 589.8 904.3 591.9 901.0 593.8 C897.7 595.6 894.3 597.3 891.0 598.8 C887.7 600.2 883.9 601.2 881.0 602.5 C878.1 603.8 874.8 611.2 873.5 606.2 C872.2 601.2 871.8 578.5 873.5 572.5 Z" fill="#003399"/>
<path d="M893.5 556.2 C894.5 555.4 898.9 554.0 901.0 553.8 C903.1 553.5 906.0 554.2 906.0 555.0 C906.0 555.8 902.9 558.1 901.0 558.8 C899.1 559.4 896.0 559.2 894.8 558.8 C893.5 558.3 892.5 557.1 893.5 556.2 Z" fill="#003399"/>
<path d="M873.5 493.8 C874.8 492.5 879.3 494.0 881.0 495.0 C882.7 496.0 883.9 498.5 883.5 500.0 C883.1 501.5 880.2 503.3 878.5 503.8 C876.8 504.2 874.3 504.2 873.5 502.5 C872.7 500.8 872.2 495.0 873.5 493.8 Z" fill="#003399"/>
<path d="M873.5 585.0 C875.2 581.7 880.2 581.7 883.5 580.0 C886.8 578.3 890.2 576.5 893.5 575.0 C896.8 573.5 900.2 572.5 903.5 571.2 C906.8 570.0 910.4 568.3 913.5 567.5 C916.6 566.7 921.4 565.6 922.2 566.2 C923.1 566.9 920.4 569.4 918.5 571.2 C916.6 573.1 913.5 575.2 911.0 577.5 C908.5 579.8 906.4 582.7 903.5 585.0 C900.6 587.3 896.8 589.4 893.5 591.2 C890.2 593.1 886.8 594.8 883.5 596.2 C880.2 597.7 875.2 601.9 873.5 600.0 C871.8 598.1 871.8 588.3 873.5 585.0 Z" fill="#663399"/>
<path d="M934.8 560.0 C935.2 559.0 938.3 556.7 941.0 555.0 C943.7 553.3 947.7 551.7 951.0 550.0 C954.3 548.3 960.2 544.8 961.0 545.0 C961.8 545.2 958.5 549.4 956.0 551.2 C953.5 553.1 948.9 554.6 946.0 556.2 C943.1 557.9 940.4 560.6 938.5 561.2 C936.6 561.9 934.3 561.0 934.8 560.0 Z" fill="#663399"/>
<path d="M946.0 510.0 C946.8 508.8 952.7 507.7 956.0 507.5 C959.3 507.3 962.7 508.3 966.0 508.8 C969.3 509.2 972.7 509.6 976.0 510.0 C979.3 510.4 982.7 510.6 986.0 511.2 C989.3 511.9 992.7 513.1 996.0 513.8 C999.3 514.4 1004.3 510.2 1006.0 515.0 C1007.7 519.8 1007.2 538.3 1006.0 542.5 C1004.8 546.7 1001.4 540.2 998.5 540.0 C995.6 539.8 991.4 541.7 988.5 541.2 C985.6 540.8 981.0 539.0 981.0 537.5 C981.0 536.0 986.0 533.5 988.5 532.5 C991.0 531.5 996.0 532.3 996.0 531.2 C996.0 530.2 991.4 527.7 988.5 526.2 C985.6 524.8 981.8 523.8 978.5 522.5 C975.2 521.2 971.8 519.8 968.5 518.8 C965.2 517.7 961.4 516.9 958.5 516.2 C955.6 515.6 953.1 516.0 951.0 515.0 C948.9 514.0 945.2 511.2 946.0 510.0 Z" fill="#663399"/>
<path d="M993.5 517.5 C994.8 516.5 998.9 516.0 1001.0 516.2 C1003.1 516.5 1005.2 516.9 1006.0 518.8 C1006.8 520.6 1007.2 526.2 1006.0 527.5 C1004.8 528.8 1000.6 527.1 998.5 526.2 C996.4 525.4 994.3 524.0 993.5 522.5 C992.7 521.0 992.2 518.5 993.5 517.5 Z" fill="#4B0082"/>
</g>
<g clip-path="url(#t32)">
<rect x="820.0" y="440.0" width="129.0" height="129.0" fill="#FFFFFF"/>
<path d="M817.5 437.5 C824.2 434.0 851.2 435.8 857.5 437.5 C863.8 439.2 856.2 444.6 855.0 447.5 C853.8 450.4 852.1 452.7 850.0 455.0 C847.9 457.3 845.0 459.6 842.5 461.2 C840.0 462.9 837.5 464.6 835.0 465.0 C832.5 465.4 830.0 464.6 827.5 463.8 C825.0 462.9 821.7 460.8 820.0 460.0 C818.3 459.2 817.9 462.5 817.5 458.8 C817.1 455.0 810.8 441.0 817.5 437.5 Z" fill="#C8E6FF"/>
<path d="M820.0 445.0 C821.2 443.5 825.0 442.5 827.5 442.5 C830.0 442.5 834.2 443.5 835.0 445.0 C835.8 446.5 834.2 450.0 832.5 451.2 C830.8 452.5 827.1 452.5 825.0 452.5 C822.9 452.5 820.8 452.5 820.0 451.2 C819.2 450.0 818.8 446.5 820.0 445.0 Z" fill="#3399FF"/>
<path d="M842.5 471.2 C842.9 469.4 845.0 467.3 847.5 465.0 C850.0 462.7 855.0 460.4 857.5 457.5 C860.0 454.6 861.2 450.8 862.5 447.5 C863.8 444.2 856.2 439.2 865.0 437.5 C873.8 435.8 907.1 435.8 915.0 437.5 C922.9 439.2 913.8 444.6 912.5 447.5 C911.2 450.4 909.2 452.7 907.5 455.0 C905.8 457.3 904.2 459.6 902.5 461.2 C900.8 462.9 899.6 464.0 897.5 465.0 C895.4 466.0 892.5 466.2 890.0 467.5 C887.5 468.8 885.0 471.0 882.5 472.5 C880.0 474.0 877.5 475.0 875.0 476.2 C872.5 477.5 870.0 479.2 867.5 480.0 C865.0 480.8 862.5 481.5 860.0 481.2 C857.5 481.0 855.0 479.6 852.5 478.8 C850.0 477.9 846.7 477.5 845.0 476.2 C843.3 475.0 842.1 473.1 842.5 471.2 Z" fill="#C8E6FF"/>
<path d="M866.2 445.0 C866.7 444.2 871.0 443.3 872.5 443.8 C874.0 444.2 875.4 446.7 875.0 447.5 C874.6 448.3 871.5 449.2 870.0 448.8 C868.5 448.3 865.8 445.8 866.2 445.0 Z" fill="#FFFFFF"/>
<path d="M880.0 452.5 C881.5 452.1 887.1 453.8 887.5 455.0 C887.9 456.2 884.0 459.6 882.5 460.0 C881.0 460.4 879.2 458.8 878.8 457.5 C878.3 456.2 878.5 452.9 880.0 452.5 Z" fill="#FFFFFF"/>
<path d="M888.1 442.5 C888.8 441.2 891.8 440.6 893.8 441.2 C895.7 441.9 898.1 444.2 900.0 446.2 C901.9 448.3 903.8 451.5 905.0 453.8 C906.2 456.0 908.1 459.2 907.5 460.0 C906.9 460.8 903.3 459.8 901.2 458.8 C899.2 457.7 896.9 455.4 895.0 453.8 C893.1 452.1 891.1 450.6 890.0 448.8 C888.9 446.9 887.5 443.8 888.1 442.5 Z" fill="#8FC5FA"/>
<path d="M917.5 437.5 C922.7 435.2 944.6 431.7 950.0 437.5 C955.4 443.3 951.2 466.2 950.0 472.5 C948.8 478.8 945.0 474.4 942.5 475.0 C940.0 475.6 937.5 476.5 935.0 476.2 C932.5 476.0 930.0 475.2 927.5 473.8 C925.0 472.3 921.7 469.8 920.0 467.5 C918.3 465.2 917.7 462.7 917.5 460.0 C917.3 457.3 918.8 455.0 918.8 451.2 C918.8 447.5 912.3 439.8 917.5 437.5 Z" fill="#C8E6FF"/>
<path d="M920.0 456.2 C920.0 454.8 923.1 452.3 925.0 451.2 C926.9 450.2 930.4 449.2 931.2 450.0 C932.1 450.8 931.0 454.6 930.0 456.2 C929.0 457.9 926.7 460.0 925.0 460.0 C923.3 460.0 920.0 457.7 920.0 456.2 Z" fill="#3399FF"/>
<path d="M832.5 510.0 C832.5 507.5 837.1 502.9 840.0 500.0 C842.9 497.1 846.7 494.8 850.0 492.5 C853.3 490.2 856.7 488.3 860.0 486.2 C863.3 484.2 866.7 482.1 870.0 480.0 C873.3 477.9 876.7 475.8 880.0 473.8 C883.3 471.7 886.7 469.0 890.0 467.5 C893.3 466.0 897.1 464.8 900.0 465.0 C902.9 465.2 906.7 466.7 907.5 468.8 C908.3 470.8 906.2 475.0 905.0 477.5 C903.8 480.0 902.5 481.9 900.0 483.8 C897.5 485.6 892.9 487.3 890.0 488.8 C887.1 490.2 884.6 491.5 882.5 492.5 C880.4 493.5 877.1 494.2 877.5 495.0 C877.9 495.8 882.1 496.7 885.0 497.5 C887.9 498.3 892.1 498.8 895.0 500.0 C897.9 501.2 900.4 503.3 902.5 505.0 C904.6 506.7 905.4 508.5 907.5 510.0 C909.6 511.5 911.7 513.1 915.0 513.8 C918.3 514.4 923.8 514.4 927.5 513.8 C931.2 513.1 934.6 511.9 937.5 510.0 C940.4 508.1 942.9 504.2 945.0 502.5 C947.1 500.8 949.2 497.1 950.0 500.0 C950.8 502.9 951.7 517.1 950.0 520.0 C948.3 522.9 943.3 517.9 940.0 517.5 C936.7 517.1 933.3 517.7 930.0 517.5 C926.7 517.3 923.3 516.7 920.0 516.2 C916.7 515.8 913.3 515.6 910.0 515.0 C906.7 514.4 903.3 513.3 900.0 512.5 C896.7 511.7 893.3 510.0 890.0 510.0 C886.7 510.0 883.3 511.9 880.0 512.5 C876.7 513.1 873.3 513.3 870.0 513.8 C866.7 514.2 863.3 514.6 860.0 515.0 C856.7 515.4 853.3 516.2 850.0 516.2 C846.7 516.2 842.9 516.0 840.0 515.0 C837.1 514.0 832.5 512.5 832.5 510.0 Z" fill="#C8E6FF"/>
<path d="M840.0 508.8 C840.0 506.5 842.7 502.7 845.0 500.0 C847.3 497.3 850.6 494.8 853.8 492.5 C856.9 490.2 860.4 488.3 863.8 486.2 C867.1 484.2 870.6 482.1 873.8 480.0 C876.9 477.9 879.4 475.8 882.5 473.8 C885.6 471.7 889.6 468.8 892.5 467.5 C895.4 466.2 897.9 465.6 900.0 466.2 C902.1 466.9 904.6 469.4 905.0 471.2 C905.4 473.1 904.2 475.6 902.5 477.5 C900.8 479.4 897.5 480.8 895.0 482.5 C892.5 484.2 890.0 486.0 887.5 487.5 C885.0 489.0 882.1 490.0 880.0 491.2 C877.9 492.5 875.0 493.8 875.0 495.0 C875.0 496.2 877.5 497.9 880.0 498.8 C882.5 499.6 887.1 499.4 890.0 500.0 C892.9 500.6 895.0 501.2 897.5 502.5 C900.0 503.8 904.6 506.2 905.0 507.5 C905.4 508.8 902.5 510.0 900.0 510.0 C897.5 510.0 892.9 507.5 890.0 507.5 C887.1 507.5 885.0 509.4 882.5 510.0 C880.0 510.6 877.9 510.8 875.0 511.2 C872.1 511.7 868.3 512.1 865.0 512.5 C861.7 512.9 858.3 513.5 855.0 513.8 C851.7 514.0 847.5 514.6 845.0 513.8 C842.5 512.9 840.0 511.0 840.0 508.8 Z" fill="#3399FF"/>
<path d="M847.5 510.0 C846.7 507.9 848.3 502.9 850.0 500.0 C851.7 497.1 854.8 494.6 857.5 492.5 C860.2 490.4 863.3 489.4 866.2 487.5 C869.2 485.6 872.1 483.1 875.0 481.2 C877.9 479.4 881.0 478.1 883.8 476.2 C886.5 474.4 888.8 471.2 891.2 470.0 C893.8 468.8 897.1 468.1 898.8 468.8 C900.4 469.4 901.9 472.1 901.2 473.8 C900.6 475.4 897.3 477.1 895.0 478.8 C892.7 480.4 890.0 482.1 887.5 483.8 C885.0 485.4 882.3 487.3 880.0 488.8 C877.7 490.2 875.0 491.0 873.8 492.5 C872.5 494.0 871.9 495.8 872.5 497.5 C873.1 499.2 875.8 501.0 877.5 502.5 C879.2 504.0 882.9 505.0 882.5 506.2 C882.1 507.5 877.9 509.2 875.0 510.0 C872.1 510.8 868.3 510.8 865.0 511.2 C861.7 511.7 857.9 512.7 855.0 512.5 C852.1 512.3 848.3 512.1 847.5 510.0 Z" fill="#003399"/>
<path d="M862.5 500.0 C863.1 498.5 865.8 496.5 867.5 496.2 C869.2 496.0 871.2 497.5 872.5 498.8 C873.8 500.0 875.4 502.5 875.0 503.8 C874.6 505.0 871.9 506.0 870.0 506.2 C868.1 506.5 865.0 506.0 863.8 505.0 C862.5 504.0 861.9 501.5 862.5 500.0 Z" fill="#663399"/>
<path d="M901.2 470.0 C901.9 469.2 904.0 468.3 906.2 468.8 C908.5 469.2 912.7 471.0 915.0 472.5 C917.3 474.0 920.0 476.7 920.0 477.5 C920.0 478.3 917.1 477.7 915.0 477.5 C912.9 477.3 909.6 476.9 907.5 476.2 C905.4 475.6 903.5 474.8 902.5 473.8 C901.5 472.7 900.6 470.8 901.2 470.0 Z" fill="#C8E6FF"/>
<path d="M890.0 481.2 C890.8 479.6 895.4 477.9 897.5 477.5 C899.6 477.1 902.1 477.7 902.5 478.8 C902.9 479.8 901.7 482.3 900.0 483.8 C898.3 485.2 894.2 487.9 892.5 487.5 C890.8 487.1 889.2 482.9 890.0 481.2 Z" fill="#FFFFFF"/>
<path d="M905.0 485.0 C905.8 484.0 910.0 482.7 912.5 482.5 C915.0 482.3 918.3 482.5 920.0 483.8 C921.7 485.0 922.5 487.9 922.5 490.0 C922.5 492.1 919.6 494.6 920.0 496.2 C920.4 497.9 922.9 499.6 925.0 500.0 C927.1 500.4 930.4 499.4 932.5 498.8 C934.6 498.1 936.2 495.8 937.5 496.2 C938.8 496.7 940.4 499.4 940.0 501.2 C939.6 503.1 937.1 505.8 935.0 507.5 C932.9 509.2 930.4 510.6 927.5 511.2 C924.6 511.9 920.4 511.9 917.5 511.2 C914.6 510.6 912.1 509.0 910.0 507.5 C907.9 506.0 905.4 504.2 905.0 502.5 C904.6 500.8 906.2 499.2 907.5 497.5 C908.8 495.8 912.5 494.0 912.5 492.5 C912.5 491.0 908.8 490.0 907.5 488.8 C906.2 487.5 904.2 486.0 905.0 485.0 Z" fill="#FFFFC8"/>
<path d="M925.0 477.5 C925.8 477.1 931.7 478.8 935.0 478.8 C938.3 478.8 942.5 477.9 945.0 477.5 C947.5 477.1 949.2 475.6 950.0 476.2 C950.8 476.9 951.7 480.2 950.0 481.2 C948.3 482.3 943.3 482.5 940.0 482.5 C936.7 482.5 932.5 482.1 930.0 481.2 C927.5 480.4 924.2 477.9 925.0 477.5 Z" fill="#FFFFC8"/>
<path d="M938.8 488.8 C940.0 487.5 948.1 486.2 950.0 487.5 C951.9 488.8 951.2 495.0 950.0 496.2 C948.8 497.5 944.4 496.2 942.5 495.0 C940.6 493.8 937.5 490.0 938.8 488.8 Z" fill="#FFFFC8"/>
<path d="M817.5 527.5 C819.2 523.5 824.2 526.2 827.5 526.2 C830.8 526.2 834.2 527.7 837.5 527.5 C840.8 527.3 844.2 525.8 847.5 525.0 C850.8 524.2 855.0 522.5 857.5 522.5 C860.0 522.5 860.4 524.2 862.5 525.0 C864.6 525.8 867.9 526.5 870.0 527.5 C872.1 528.5 875.0 530.0 875.0 531.2 C875.0 532.5 872.5 534.6 870.0 535.0 C867.5 535.4 862.9 533.5 860.0 533.8 C857.1 534.0 854.2 534.6 852.5 536.2 C850.8 537.9 851.2 541.5 850.0 543.8 C848.8 546.0 847.5 548.5 845.0 550.0 C842.5 551.5 838.3 552.3 835.0 552.5 C831.7 552.7 827.9 551.7 825.0 551.2 C822.1 550.8 818.8 554.0 817.5 550.0 C816.2 546.0 815.8 531.5 817.5 527.5 Z" fill="#FFFFC8"/>
<path d="M877.5 520.0 C879.0 518.5 884.2 516.7 887.5 516.2 C890.8 515.8 894.2 516.5 897.5 517.5 C900.8 518.5 904.4 520.8 907.5 522.5 C910.6 524.2 914.2 525.8 916.2 527.5 C918.3 529.2 920.6 531.2 920.0 532.5 C919.4 533.8 915.0 535.0 912.5 535.0 C910.0 535.0 907.9 533.3 905.0 532.5 C902.1 531.7 898.3 530.6 895.0 530.0 C891.7 529.4 887.7 529.6 885.0 528.8 C882.3 527.9 880.0 526.5 878.8 525.0 C877.5 523.5 876.0 521.5 877.5 520.0 Z" fill="#FFFFC8"/>
<path d="M850.0 570.0 C833.8 568.3 850.8 562.5 852.5 560.0 C854.2 557.5 857.1 556.2 860.0 555.0 C862.9 553.8 866.7 553.1 870.0 552.5 C873.3 551.9 876.7 551.7 880.0 551.2 C883.3 550.8 886.7 550.8 890.0 550.0 C893.3 549.2 897.1 547.9 900.0 546.2 C902.9 544.6 905.0 541.5 907.5 540.0 C910.0 538.5 912.1 537.5 915.0 537.5 C917.9 537.5 922.1 538.8 925.0 540.0 C927.9 541.2 930.0 544.0 932.5 545.0 C935.0 546.0 937.1 546.7 940.0 546.2 C942.9 545.8 948.3 538.5 950.0 542.5 C951.7 546.5 966.7 565.4 950.0 570.0 C933.3 574.6 866.2 571.7 850.0 570.0 Z" fill="#C8E6FF"/>
<path d="M862.5 570.0 C848.3 568.5 863.3 563.5 865.0 561.2 C866.7 559.0 869.6 557.3 872.5 556.2 C875.4 555.2 879.2 555.4 882.5 555.0 C885.8 554.6 889.6 554.2 892.5 553.8 C895.4 553.3 897.5 553.5 900.0 552.5 C902.5 551.5 905.8 549.2 907.5 547.5 C909.2 545.8 908.8 542.9 910.0 542.5 C911.2 542.1 914.6 543.3 915.0 545.0 C915.4 546.7 913.8 550.4 912.5 552.5 C911.2 554.6 907.1 556.2 907.5 557.5 C907.9 558.8 912.1 560.0 915.0 560.0 C917.9 560.0 922.1 558.8 925.0 557.5 C927.9 556.2 930.0 553.8 932.5 552.5 C935.0 551.2 937.1 550.8 940.0 550.0 C942.9 549.2 948.3 544.2 950.0 547.5 C951.7 550.8 964.6 566.2 950.0 570.0 C935.4 573.8 876.7 571.5 862.5 570.0 Z" fill="#3399FF"/>
<path d="M893.8 556.2 C894.2 555.3 897.9 554.0 900.0 553.8 C902.1 553.5 905.4 554.2 906.2 555.0 C907.1 555.8 906.5 558.0 905.0 558.8 C903.5 559.5 899.4 559.8 897.5 559.4 C895.6 559.0 893.3 557.2 893.8 556.2 Z" fill="#003399"/>
<path d="M907.5 570.0 C904.6 569.0 908.3 565.2 910.0 563.8 C911.7 562.3 915.0 561.2 917.5 561.2 C920.0 561.2 923.3 562.3 925.0 563.8 C926.7 565.2 930.4 569.0 927.5 570.0 C924.6 571.0 910.4 571.0 907.5 570.0 Z" fill="#003399"/>
<path d="M930.0 557.5 C930.4 555.4 935.0 552.7 937.5 551.2 C940.0 549.8 942.9 549.4 945.0 548.8 C947.1 548.1 949.2 544.0 950.0 547.5 C950.8 551.0 952.9 566.2 950.0 570.0 C947.1 573.8 935.0 571.0 932.5 570.0 C930.0 569.0 935.4 565.8 935.0 563.8 C934.6 561.7 929.6 559.6 930.0 557.5 Z" fill="#003399"/>
<path d="M937.5 562.5 C937.9 561.0 942.9 558.5 945.0 557.5 C947.1 556.5 949.2 555.0 950.0 556.2 C950.8 557.5 951.2 563.3 950.0 565.0 C948.8 566.7 944.6 566.7 942.5 566.2 C940.4 565.8 937.1 564.0 937.5 562.5 Z" fill="#663399"/>
<path d="M943.8 505.0 C945.0 503.8 949.0 500.6 950.0 502.5 C951.0 504.4 950.8 514.2 950.0 516.2 C949.2 518.3 946.2 516.0 945.0 515.0 C943.8 514.0 942.7 511.7 942.5 510.0 C942.3 508.3 942.5 506.2 943.8 505.0 Z" fill="#003399"/>
<path d="M827.5 485.0 C827.9 483.8 830.4 481.7 832.5 481.2 C834.6 480.8 839.2 481.5 840.0 482.5 C840.8 483.5 839.2 486.5 837.5 487.5 C835.8 488.5 831.7 489.2 830.0 488.8 C828.3 488.3 827.1 486.2 827.5 485.0 Z" fill="#C8E6FF"/>
</g>
<g clip-path="url(#t33)">
<rect x="832.0" y="546.0" width="81.0" height="81.0" fill="#3399FF"/>
<path d="M830.4 552.2 C831.2 549.3 833.3 551.5 835.1 551.5 C836.9 551.5 839.3 552.4 841.4 552.2 C843.5 552.1 846.1 551.3 847.6 550.7 C849.2 550.0 850.0 548.1 850.8 548.3 C851.5 548.6 851.3 551.1 852.3 552.2 C853.4 553.4 855.2 555.1 857.0 555.4 C858.8 555.6 861.7 554.6 863.2 553.8 C864.8 553.0 865.3 550.9 866.4 550.7 C867.4 550.4 869.8 551.3 869.5 552.2 C869.2 553.2 866.4 555.1 864.8 556.2 C863.2 557.2 861.7 558.0 860.1 558.5 C858.6 559.0 857.0 558.8 855.4 559.3 C853.9 559.8 852.1 560.5 850.8 561.6 C849.4 562.8 848.7 565.0 847.6 566.3 C846.6 567.6 845.8 568.7 844.5 569.4 C843.2 570.2 841.4 570.9 839.8 571.0 C838.2 571.1 836.7 570.5 835.1 570.2 C833.6 570.0 831.2 572.4 830.4 569.4 C829.7 566.4 829.7 555.2 830.4 552.2 Z" fill="#FFFFFF"/>
<path d="M830.4 544.4 C833.7 543.1 846.8 543.8 850.0 544.4 C853.1 545.1 850.1 547.3 849.2 548.3 C848.3 549.4 846.1 550.2 844.5 550.7 C842.9 551.2 841.4 551.5 839.8 551.5 C838.2 551.5 836.7 550.6 835.1 550.7 C833.6 550.8 831.2 553.3 830.4 552.2 C829.7 551.2 827.2 545.7 830.4 544.4 Z" fill="#FFFFC8"/>
<path d="M859.3 544.4 C860.1 543.9 864.2 543.9 864.8 544.4 C865.5 545.0 864.0 547.0 863.2 547.6 C862.5 548.1 860.8 548.1 860.1 547.6 C859.5 547.0 858.6 545.0 859.3 544.4 Z" fill="#FFFFC8"/>
<path d="M846.1 565.5 C846.3 564.2 847.9 562.7 849.2 561.6 C850.5 560.6 852.1 559.8 853.9 559.3 C855.7 558.8 858.3 558.4 860.1 558.5 C861.9 558.6 863.8 559.2 864.8 560.1 C865.9 561.0 866.6 563.1 866.4 564.0 C866.1 564.9 864.6 565.5 863.2 565.5 C861.9 565.5 860.1 564.2 858.6 564.0 C857.0 563.7 855.3 563.6 853.9 564.0 C852.4 564.4 851.0 565.4 850.0 566.3 C848.9 567.2 848.3 569.6 847.6 569.4 C847.0 569.3 845.8 566.8 846.1 565.5 Z" fill="#C8E6FF"/>
<path d="M830.4 574.1 C831.2 571.7 833.3 573.3 835.1 573.3 C836.9 573.3 839.3 573.7 841.4 574.1 C843.5 574.5 845.8 575.2 847.6 575.7 C849.4 576.2 852.1 576.5 852.3 577.2 C852.6 578.0 850.5 579.5 849.2 580.4 C847.9 581.3 846.1 581.9 844.5 582.7 C842.9 583.5 841.4 584.3 839.8 585.1 C838.2 585.8 836.7 586.9 835.1 587.4 C833.6 587.9 831.2 590.4 830.4 588.2 C829.7 586.0 829.7 576.6 830.4 574.1 Z" fill="#C8E6FF"/>
<path d="M830.4 578.8 C831.2 577.2 833.6 577.4 835.1 577.2 C836.7 577.1 838.4 577.5 839.8 578.0 C841.2 578.6 843.7 579.5 843.7 580.4 C843.7 581.3 841.2 582.6 839.8 583.5 C838.4 584.4 836.7 585.3 835.1 585.8 C833.6 586.4 831.2 587.8 830.4 586.6 C829.7 585.5 829.7 580.4 830.4 578.8 Z" fill="#FFFFFF"/>
<path d="M871.1 567.9 C871.3 567.4 874.2 566.3 875.8 566.3 C877.3 566.3 879.9 567.4 880.4 567.9 C881.0 568.4 879.9 569.2 878.9 569.4 C877.8 569.7 875.5 569.7 874.2 569.4 C872.9 569.2 870.8 568.4 871.1 567.9 Z" fill="#FFFFFF"/>
<path d="M884.3 569.4 C884.9 568.9 888.1 568.5 889.8 567.9 C891.5 567.2 892.7 566.3 894.5 565.5 C896.3 564.8 899.2 563.4 900.8 563.2 C902.3 562.9 904.1 563.4 903.9 564.0 C903.6 564.5 901.0 565.5 899.2 566.3 C897.4 567.1 895.0 567.9 892.9 568.7 C890.9 569.4 888.1 570.9 886.7 571.0 C885.3 571.1 883.8 570.0 884.3 569.4 Z" fill="#FFFFFF"/>
<path d="M863.2 564.0 C863.6 563.6 865.7 563.3 866.4 563.6 C867.0 563.8 867.5 565.1 867.2 565.5 C866.8 565.9 864.7 566.2 864.0 565.9 C863.4 565.7 862.9 564.4 863.2 564.0 Z" fill="#FFFFFF"/>
<path d="M893.7 556.9 C894.2 556.2 896.2 555.2 897.6 554.6 C899.1 553.9 900.8 553.2 902.3 553.0 C903.9 552.9 906.0 553.3 907.0 553.8 C908.0 554.3 909.1 555.4 908.6 556.2 C908.0 556.9 905.6 558.0 903.9 558.5 C902.2 559.0 900.0 559.2 898.4 559.3 C896.8 559.3 895.3 559.3 894.5 558.9 C893.7 558.5 893.2 557.7 893.7 556.9 Z" fill="#003399"/>
<path d="M853.9 578.8 C855.4 577.8 857.0 576.7 858.6 575.7 C860.1 574.6 861.7 573.2 863.2 572.6 C864.8 571.9 866.4 571.7 867.9 571.8 C869.5 571.9 871.1 572.8 872.6 573.3 C874.2 573.9 875.8 574.9 877.3 574.9 C878.9 574.9 880.4 573.7 882.0 573.3 C883.6 573.0 885.1 573.0 886.7 572.6 C888.2 572.2 889.8 571.5 891.4 571.0 C892.9 570.5 894.5 570.0 896.1 569.4 C897.6 568.9 899.2 568.7 900.8 567.9 C902.3 567.1 903.9 565.7 905.4 564.8 C907.0 563.8 908.8 562.9 910.1 562.4 C911.4 561.9 912.7 556.5 913.2 561.6 C913.8 566.7 914.0 587.4 913.2 592.9 C912.5 598.3 910.1 593.9 908.6 594.4 C907.0 595.0 905.4 595.2 903.9 596.0 C902.3 596.8 900.8 598.3 899.2 599.1 C897.6 599.9 896.1 600.2 894.5 600.7 C892.9 601.2 891.4 601.5 889.8 602.2 C888.2 603.0 886.7 604.6 885.1 605.4 C883.6 606.2 882.0 606.5 880.4 606.9 C878.9 607.3 877.3 607.5 875.8 607.7 C874.2 608.0 872.6 608.0 871.1 608.5 C869.5 609.0 867.9 609.9 866.4 610.8 C864.8 611.8 863.2 612.8 861.7 614.0 C860.1 615.1 858.6 616.4 857.0 617.9 C855.4 619.3 853.6 621.0 852.3 622.6 C851.0 624.1 852.8 626.5 849.2 627.2 C845.5 628.0 833.6 632.7 830.4 627.2 C827.3 621.8 829.7 600.3 830.4 594.4 C831.2 588.6 833.6 593.0 835.1 592.1 C836.7 591.2 838.2 590.0 839.8 589.0 C841.4 587.9 842.9 587.0 844.5 585.8 C846.1 584.7 847.6 583.1 849.2 581.9 C850.8 580.8 852.3 579.9 853.9 578.8 Z" fill="#003399"/>
<path d="M830.4 599.1 C831.2 593.9 833.6 597.0 835.1 596.0 C836.7 595.0 838.2 593.9 839.8 592.9 C841.4 591.8 842.9 590.8 844.5 589.8 C846.1 588.7 847.6 587.8 849.2 586.6 C850.8 585.5 852.3 583.9 853.9 582.7 C855.4 581.5 857.0 580.5 858.6 579.6 C860.1 578.7 861.7 577.5 863.2 577.2 C864.8 577.0 866.4 577.6 867.9 578.0 C869.5 578.4 871.1 579.3 872.6 579.6 C874.2 579.9 875.8 579.7 877.3 579.6 C878.9 579.5 880.4 579.2 882.0 578.8 C883.6 578.4 885.1 577.9 886.7 577.2 C888.2 576.6 889.8 575.7 891.4 574.9 C892.9 574.1 894.5 573.2 896.1 572.6 C897.6 571.9 899.2 571.5 900.8 571.0 C902.3 570.5 903.9 569.6 905.4 569.4 C907.0 569.3 908.8 570.0 910.1 570.2 C911.4 570.5 912.7 569.8 913.2 571.0 C913.8 572.2 913.8 575.9 913.2 577.2 C912.7 578.6 911.2 578.0 910.1 578.8 C909.1 579.6 908.0 580.6 907.0 581.9 C906.0 583.2 905.2 585.3 903.9 586.6 C902.6 587.9 900.8 589.0 899.2 589.8 C897.6 590.5 896.1 590.8 894.5 591.3 C892.9 591.8 891.1 592.1 889.8 592.9 C888.5 593.7 887.7 594.8 886.7 596.0 C885.6 597.2 884.9 598.9 883.6 599.9 C882.3 600.9 880.4 601.6 878.9 602.2 C877.3 602.9 875.8 603.4 874.2 603.8 C872.6 604.2 871.1 604.1 869.5 604.6 C867.9 605.1 866.4 606.0 864.8 606.9 C863.2 607.8 861.7 608.9 860.1 610.1 C858.6 611.2 857.0 612.5 855.4 614.0 C853.9 615.4 852.3 617.1 850.8 618.7 C849.2 620.2 847.4 621.9 846.1 623.3 C844.8 624.8 845.5 626.6 842.9 627.2 C840.3 627.9 832.5 631.9 830.4 627.2 C828.4 622.6 829.7 604.3 830.4 599.1 Z" fill="#663399"/>
<path d="M850.8 627.2 C850.0 626.5 852.6 624.1 853.9 622.6 C855.2 621.0 857.0 619.3 858.6 617.9 C860.1 616.4 861.7 615.1 863.2 614.0 C864.8 612.8 866.4 611.6 867.9 610.8 C869.5 610.1 871.1 609.7 872.6 609.3 C874.2 608.9 875.8 608.8 877.3 608.5 C878.9 608.2 880.4 608.1 882.0 607.7 C883.6 607.3 885.1 606.9 886.7 606.2 C888.2 605.4 889.8 603.8 891.4 603.0 C892.9 602.2 894.5 602.0 896.1 601.5 C897.6 600.9 899.2 600.7 900.8 599.9 C902.3 599.1 903.9 597.6 905.4 596.8 C907.0 596.0 908.8 595.7 910.1 595.2 C911.4 594.7 912.7 593.0 913.2 593.7 C913.8 594.3 913.8 598.1 913.2 599.1 C912.7 600.2 911.2 599.4 910.1 599.9 C909.1 600.4 908.3 601.3 907.0 602.2 C905.7 603.2 904.1 604.6 902.3 605.4 C900.5 606.2 898.1 606.4 896.1 606.9 C894.0 607.5 891.6 607.8 889.8 608.5 C888.0 609.2 886.9 610.2 885.1 610.8 C883.3 611.5 881.0 611.9 878.9 612.4 C876.8 612.9 874.4 613.3 872.6 614.0 C870.8 614.6 869.5 615.3 867.9 616.3 C866.4 617.4 864.6 618.9 863.2 620.2 C861.9 621.5 860.9 623.0 860.1 624.1 C859.3 625.3 860.1 626.7 858.6 627.2 C857.0 627.8 851.5 628.0 850.8 627.2 Z" fill="#C8E6FF"/>
<path d="M858.6 627.2 C856.7 626.7 859.3 625.3 860.1 624.1 C860.9 623.0 861.9 621.5 863.2 620.2 C864.6 618.9 866.4 617.4 867.9 616.3 C869.5 615.3 870.8 614.6 872.6 614.0 C874.4 613.3 876.8 612.9 878.9 612.4 C881.0 611.9 883.3 611.5 885.1 610.8 C886.9 610.2 888.0 609.2 889.8 608.5 C891.6 607.8 894.0 607.5 896.1 606.9 C898.1 606.4 900.5 606.2 902.3 605.4 C904.1 604.6 905.7 603.2 907.0 602.2 C908.3 601.3 909.1 600.4 910.1 599.9 C911.2 599.4 912.7 597.7 913.2 599.1 C913.8 600.6 914.0 606.5 913.2 608.5 C912.5 610.5 910.1 610.5 908.6 610.8 C907.0 611.2 905.4 610.6 903.9 610.8 C902.3 611.1 900.8 611.9 899.2 612.4 C897.6 612.9 896.1 613.7 894.5 614.0 C892.9 614.2 891.4 613.8 889.8 614.0 C888.2 614.1 886.7 614.5 885.1 614.8 C883.6 615.0 882.0 615.4 880.4 615.5 C878.9 615.7 877.3 615.4 875.8 615.5 C874.2 615.7 872.4 615.7 871.1 616.3 C869.8 617.0 868.8 618.4 867.9 619.4 C867.0 620.5 865.6 621.5 865.6 622.6 C865.6 623.6 867.0 624.9 867.9 625.7 C868.8 626.5 872.6 627.0 871.1 627.2 C869.5 627.5 860.4 627.8 858.6 627.2 Z" fill="#FFFFFF"/>
<path d="M871.1 627.2 C863.5 627.0 868.8 626.5 867.9 625.7 C867.0 624.9 865.6 623.6 865.6 622.6 C865.6 621.5 867.0 620.5 867.9 619.4 C868.8 618.4 869.8 617.0 871.1 616.3 C872.4 615.7 874.2 615.7 875.8 615.5 C877.3 615.4 878.9 615.7 880.4 615.5 C882.0 615.4 883.6 615.0 885.1 614.8 C886.7 614.5 888.2 614.1 889.8 614.0 C891.4 613.8 892.9 614.2 894.5 614.0 C896.1 613.7 897.6 612.9 899.2 612.4 C900.8 611.9 902.3 611.1 903.9 610.8 C905.4 610.6 907.0 611.2 908.6 610.8 C910.1 610.5 912.5 605.8 913.2 608.5 C914.0 611.2 920.3 624.1 913.2 627.2 C906.2 630.4 878.6 627.5 871.1 627.2 Z" fill="#FFFFC8"/>
<path d="M897.6 615.5 C898.0 614.9 900.8 614.1 902.3 614.0 C903.9 613.8 906.5 614.2 907.0 614.8 C907.5 615.3 906.6 616.6 905.4 617.1 C904.3 617.6 901.3 618.1 900.0 617.9 C898.7 617.6 897.2 616.2 897.6 615.5 Z" fill="#FFFFFF"/>
</g>
<g fill="none" stroke="#d8d8d8" stroke-width="0.6">
<path d="M132 156L97 282M231 155L116 683M330 155L249 683M426 155L379 683M520 155L508 683M615 155L637 683M712 155L766 683M804 155L897 683M903 155L1004 587"/>
<path d="M240 156.5Q290 166 328 172.75T422 183.4T480 187.1T560 189T640 187T761.6 174.6T859 157"/>
<path d="M97 293L224 323.5L352 344L408 350L480 355.2L560 356.6L608 355.5L736 346L864 327L1004 300"/>
<path d="M97 465.5L224 492.7L352 513.7L394.5 516.5L439.5 520L480 521.5L560 523.5L608 522.5L736 513.7L823.5 502.5L864 496.2L923 483.8L1004 466"/>
<path d="M97 638.3L242 666.3L370 683M808 672.7L858 666L954 648.5L1004 637.8"/>
</g>
<path d="M283.9 627.8 L303.8 631.4 L311.0 630.7 M311.0 630.7 L309.5 619.3 L311.0 612.1 L319.5 605.0 L330.9 604.3 L336.6 596.5 L342.3 593.6 L348.0 602.2 L345.2 592.2 L353.7 587.2 L360.9 595.0 L370.0 601.4 M224.0 591.5 L232.6 593.6 L236.8 605.0 L238.3 617.8 L249.7 629.2 L248.2 637.8 L239.7 636.4 L238.3 642.1 L224.0 642.1 M370.0 601.4 L378.6 605.0 L384.3 606.4 L387.1 610.7 L384.3 616.4 L391.4 623.5 L387.1 625.0 L388.5 630.7 L386.4 636.4 L395.7 643.5 L407.1 643.5 L415.6 646.4 L419.2 642.8 L427.0 646.4 L432.0 652.1 L434.2 663.5 L441.3 672.0 L442.7 682.0 M578.7 649.9 L595.8 652.8 L601.5 657.0 M616.5 680.6 L616.5 670.6 L621.5 662.8 L628.6 666.3 L637.2 663.5 L641.5 659.2 L648.6 653.5 L656.4 662.0 L651.4 669.2 L647.2 674.9 L652.9 679.1 M640.0 636.4 L644.3 632.1 L648.6 626.4 L652.9 622.1 M662.0 647.8 L670.6 646.4 L676.3 634.9 L682.0 640.7 L690.5 647.8 L699.1 650.6 L707.6 654.9 L716.2 655.6 L709.0 662.0 L700.5 666.3 L691.9 673.4 L683.4 679.1 L676.3 680.6 L670.6 678.4 L662.0 680.6 M740.4 680.6 L750.4 676.3 L758.9 666.3 L761.8 662.0 L770.4 660.6 L776.1 656.3 L781.8 664.9 L790.3 663.5 L798.9 659.2 L804.6 649.2 L808.0 642.1 M886.4 587.9 L876.4 597.9 L865.0 606.4 L855.0 615.0 L846.5 622.1 L842.2 629.2 L836.5 634.9 L828.0 637.8 L819.4 637.8 L812.3 639.2 L808.0 642.1" fill="none" stroke="#aaa" stroke-width="0.6" stroke-linejoin="round" stroke-linecap="round"/>
<path d="M166.0 440.0 C166.3 439.0 167.0 435.4 167.9 433.8 C168.7 432.1 169.4 431.2 171.0 430.0 C172.6 428.8 175.2 427.4 177.2 426.2 C179.3 425.1 181.2 423.9 183.5 423.1 C185.8 422.4 188.5 422.0 191.0 421.9 C193.5 421.8 196.4 422.6 198.5 422.5 C200.6 422.4 201.8 421.1 203.5 421.2 C205.2 421.4 207.4 422.1 208.5 423.1 C209.6 424.2 209.8 427.0 210.4 427.5 C211.0 428.0 211.3 426.0 212.2 426.2 C213.2 426.5 214.5 427.8 216.0 428.8 C217.5 429.7 219.7 431.1 221.0 431.9 C222.3 432.6 223.5 432.9 224.0 433.1 M225.9 476.6 C224.2 476.7 218.5 477.3 216.0 477.5 C213.5 477.7 212.9 478.0 211.0 477.5 C209.1 477.0 206.6 475.0 204.8 474.8 C202.9 474.5 201.4 475.3 199.8 475.9 C198.1 476.4 196.1 477.1 194.8 478.1 C193.4 479.1 192.7 480.7 191.6 481.9 C190.6 483.0 189.9 484.1 188.5 485.0 C187.1 485.9 184.8 486.5 183.5 487.5 C182.2 488.5 180.8 490.4 181.0 491.2 C181.2 492.1 183.7 491.5 184.8 492.5 C185.8 493.5 186.5 495.9 187.2 497.5 C188.0 499.1 188.1 500.9 189.1 501.9 C190.2 502.8 193.4 502.8 193.5 503.1 C193.6 503.4 191.0 503.7 189.8 503.8 C188.5 503.8 187.2 503.9 186.0 503.5 C184.8 503.1 183.5 502.2 182.2 501.2 C181.0 500.2 180.0 498.4 178.5 497.5 C177.0 496.6 175.4 496.4 173.5 496.0 C171.6 495.6 168.9 495.2 167.2 495.2 C165.6 495.3 164.4 495.4 163.5 496.2 C162.6 497.1 161.5 499.3 161.6 500.6 C161.7 502.0 162.8 503.2 164.1 504.4 C165.5 505.5 168.0 506.4 169.8 507.5 C171.5 508.6 173.7 509.6 174.8 511.2 C175.8 512.9 175.6 515.4 176.0 517.5 C176.4 519.6 176.6 521.7 177.2 523.8 C177.9 525.8 179.0 527.6 179.8 530.0 C180.5 532.4 181.5 536.7 181.9 538.0 M161.0 483.8 C161.0 482.6 161.6 480.6 162.2 480.0 C162.9 479.4 164.4 479.2 164.8 480.0 C165.1 480.8 164.5 483.9 164.1 485.0 C163.7 486.1 162.8 487.1 162.2 486.9 C161.7 486.7 161.0 484.9 161.0 483.8 Z M165.4 485.6 C165.5 484.5 166.4 480.9 167.2 480.0 C168.1 479.1 170.1 479.4 170.4 480.0 C170.7 480.6 169.8 482.6 169.1 483.8 C168.5 484.9 167.2 486.6 166.6 486.9 C166.0 487.2 165.3 486.8 165.4 485.6 Z M173.5 490.0 C173.5 489.3 175.3 486.2 176.0 485.6 C176.7 485.0 177.9 485.5 177.9 486.2 C177.9 487.0 176.7 489.4 176.0 490.0 C175.3 490.6 173.5 490.7 173.5 490.0 Z M224.0 433.1 C224.8 432.9 227.3 431.6 229.0 431.5 C230.7 431.4 232.6 431.6 234.0 432.5 C235.4 433.4 236.2 435.6 237.1 436.9 C238.1 438.1 239.3 438.6 239.6 440.0 C239.9 441.4 238.9 443.8 239.0 445.0 C239.1 446.2 240.7 446.2 240.2 447.5 C239.8 448.8 237.3 450.8 236.5 452.5 C235.7 454.2 235.8 456.2 235.2 457.5 C234.7 458.8 233.6 459.0 233.4 460.0 C233.2 461.0 234.5 462.3 234.0 463.8 C233.5 465.2 231.1 467.3 230.2 468.8 C229.4 470.2 229.7 471.2 229.0 472.5 C228.3 473.8 226.4 475.9 225.9 476.6 M736.0 469.1 C734.9 470.3 731.1 474.0 729.2 476.2 C727.4 478.5 726.1 480.2 724.9 482.5 C723.6 484.8 722.0 487.5 721.8 490.0 C721.5 492.5 723.1 494.8 723.6 497.5 C724.1 500.2 724.7 504.8 724.9 506.2 M736.0 469.1 C737.0 467.8 740.2 463.3 742.2 461.2 C744.3 459.2 746.4 458.0 748.5 456.9 C750.6 455.7 752.2 455.0 754.8 454.4 C757.2 453.8 760.6 453.2 763.5 453.1 C766.4 453.0 770.8 453.6 772.2 453.8 M892.7 441.4 C893.6 442.6 896.4 446.0 898.2 448.3 C900.0 450.6 901.8 452.8 903.6 455.1 C905.5 457.4 908.0 459.7 909.1 462.0 C910.3 464.2 910.3 467.7 910.5 468.8 M181.9 538.0 C181.4 539.4 177.8 544.9 178.7 546.6 C179.6 548.2 185.2 545.8 187.2 548.0 C189.3 550.1 188.7 557.1 190.8 559.4 C192.9 561.6 197.1 560.6 200.1 561.5 C203.0 562.5 206.7 563.7 208.6 565.1 C210.5 566.5 211.7 567.7 211.5 570.1 C211.2 572.5 208.9 576.9 207.2 579.3 C205.5 581.8 202.8 583.1 201.5 585.0 C200.2 586.9 200.0 588.5 199.4 590.8 C198.8 593.0 198.2 597.3 197.9 598.6" fill="none" stroke="#0B3C5D" stroke-width="1.5" stroke-linejoin="round" stroke-linecap="round"/>
<path d="M736.0 202.1 L739.8 200.2 L744.8 198.4 L748.5 195.2 L751.2 194.2 L750.4 197.8 L748.5 200.2 L749.1 203.4 L746.0 205.2 L742.2 205.2 L744.1 209.0 L748.5 212.8 L754.8 216.5 L763.5 222.1 L773.5 229.0 L778.5 234.0 L786.0 242.8 L793.5 252.8 L801.0 262.8 L808.5 272.8 L815.4 282.0 M885.9 294.0 L886.6 290.0 L891.3 288.7 L893.4 285.3 L899.5 284.6 L906.4 285.9 L911.9 289.4 L914.6 294.0 M815.4 282.0 L821.0 292.0 L827.2 300.8 L832.9 305.8 L834.8 302.6 L838.5 298.9 L837.9 294.5 L838.5 290.1 L841.6 286.4 L847.2 287.6 L852.2 287.0 L852.9 293.2 L856.0 295.1 L859.1 293.9 L861.0 297.0 L862.2 300.8 L864.0 300.9 M864.0 300.9 L869.5 297.0 L877.7 295.0 L884.5 292.9 L887.2 289.5 L891.3 288.2 L895.4 284.7 L900.9 284.5 L907.8 286.1 L914.6 290.9 L920.1 297.0 L924.2 303.9 L932.4 306.6 L939.2 309.3 L943.3 314.8 L947.4 320.3 L954.2 321.0 L959.7 319.6 L965.2 320.3 L970.0 321.0 L972.0 314.8 L975.4 311.4 L976.8 307.3 L979.5 306.6 L980.2 311.4 L977.5 314.1 L981.6 317.5 L987.1 321.6 L992.5 323.0 L995.9 325.1 L989.8 327.1 L985.7 331.2 L985.0 335.3 L987.7 339.4 L987.1 344.9 L984.3 349.0 L978.8 353.1 L972.0 355.8 L968.6 358.6 L967.2 365.4 L969.3 373.6 L972.7 381.8 L976.1 390.0 L977.5 395.5 L974.7 400.9 L967.9 405.1 L963.8 409.8 L961.1 413.9 L958.3 409.2 L951.5 409.8 L943.3 411.9 L935.1 412.6 L926.9 410.5 L918.7 409.8 L918.7 422.0 M920.7 410.0 L918.0 423.7 L916.0 437.3 L914.6 451.0 L913.2 462.0 L912.5 468.8 M920.7 410.0 L932.4 412.7 L943.3 411.4 L956.3 410.0 M956.3 410.0 L959.7 414.1 L963.8 411.4 M899.5 477.0 L891.3 481.1 L883.1 485.9 L874.9 490.7 L866.7 495.5 L864.0 497.5 M873.6 503.0 L876.3 513.9 L880.4 524.8 L885.9 535.8 L891.3 546.7 L892.7 550.0" fill="none" stroke="#3a3a3a" stroke-width="1.25" stroke-linejoin="round" stroke-linecap="round"/>
<path d="M480.0 217.4 L475.8 217.1 L472.0 219.6 L470.1 224.0 L467.6 219.0 L462.0 219.0 L458.2 221.5 L453.2 219.0 L449.5 219.0 L447.6 216.5 L444.5 217.8 L443.9 220.9 L439.5 222.1 L442.0 225.2 L440.8 229.0 L437.0 230.2 L438.2 232.8 L443.2 234.0 L447.0 233.4 L450.1 235.2 L448.2 237.8 L444.5 236.5 L442.0 239.0 L441.4 242.8 L444.5 245.2 L450.8 245.2 L453.2 247.8 L458.2 249.6 L460.1 252.8 L458.2 255.2 L454.5 253.4 L448.2 254.0 L444.5 252.1 L439.5 252.8 L435.8 257.8 L431.4 260.2 L431.4 264.0 L433.9 266.5 L435.1 270.9 L437.0 274.6 L432.0 277.8 L425.8 279.0 L422.0 282.0 M480.0 217.4 L485.0 215.2 L492.5 213.4 L498.8 211.5 L505.0 210.2 L512.5 209.0 L517.5 207.8 L520.0 209.6 L522.5 211.5 L523.8 205.2 L528.1 201.5 L531.2 202.8 L535.0 199.6 L537.5 199.0 L538.8 202.1 L545.0 200.2 L552.5 197.8 L560.0 195.9 L563.8 194.0 L567.5 194.6 L572.5 192.1 L575.0 190.2 L578.8 190.9 L581.2 187.8 L580.0 184.0 L583.8 182.8 L588.8 182.1 L591.2 177.8 L594.4 175.2 L596.2 178.4 L600.0 176.5 L608.0 176.9 M608.0 176.9 L613.0 178.4 L618.0 183.4 L623.0 178.4 L626.8 177.8 L630.5 176.8 L633.6 182.1 L634.9 187.8 L636.1 195.2 L638.6 200.9 L639.9 207.8 L636.1 209.6 L638.0 214.0 L640.5 216.5 L644.2 214.0 L648.0 215.2 L651.1 212.1 L656.8 211.5 L655.5 207.8 L658.6 207.1 L661.8 210.9 L663.0 215.2 L665.5 221.5 L669.2 219.0 L666.8 215.2 L673.0 214.0 L678.0 216.5 L683.0 219.0 L688.0 214.0 L689.9 215.2 L689.9 220.2 L685.5 220.9 L683.6 226.5 L681.8 230.2 L685.5 235.2 L688.0 232.8 L693.0 229.0 L698.0 227.8 L701.1 230.2 L704.9 232.8 L706.8 226.5 L711.8 221.5 L716.8 219.0 L721.8 214.0 L723.0 210.2 L728.0 207.8 L736.0 202.8 M352.0 495.9 L318.0 502.5 L300.2 506.2 L297.8 522.5 L296.0 538.0 M352.0 495.9 L362.6 494.4 L373.2 503.8 L389.5 520.0 L407.7 538.0 M772.2 453.8 L778.5 453.1 L783.5 451.9 L788.5 451.2 L793.5 453.1 M197.9 598.6 L208.6 592.9 L218.6 588.6 L230.0 586.5 L242.0 586.5 M224.0 587.2 L232.6 586.5 L243.2 587.2 L252.5 594.3 L258.9 600.7 L260.4 606.4 L261.8 609.3 L264.6 617.8 L268.2 625.0 L271.8 628.5 L278.2 627.8 L283.9 627.8 L288.2 580.8 L296.0 538.0 M407.7 538.0 L417.0 547.3 L422.8 548.0 L438.4 570.5 L471.9 565.8 L499.7 569.1 L511.9 563.7 L515.4 564.4 L516.0 567.9 M652.4 607.9 L658.2 599.3 L663.4 594.3 L670.6 592.9 L680.5 592.9 L690.5 594.3 L697.6 595.0 L703.3 597.9 L711.9 599.3 L716.2 600.7 L719.0 602.2 L719.7 599.3 L717.6 595.0 L718.3 586.5 L720.5 580.1 L726.2 576.5 L730.4 574.4 L736.1 572.2 L741.8 574.4 L747.5 577.9 L753.2 580.1 L760.4 582.2 L767.5 582.9 L774.6 581.5 L776.1 578.6 L784.6 578.6 L790.3 577.2 L798.9 574.4 L808.0 572.9 M808.0 572.9 L816.6 573.4 L828.0 573.6 L836.5 571.9 L845.1 572.2 L856.5 572.2 L858.6 575.8 L865.0 580.1 L872.2 580.1 L879.3 580.8 L883.6 585.0 L886.4 587.2 L885.0 580.8 L882.1 575.1 L882.9 566.5 L887.8 564.4 L890.7 562.2 L885.7 559.4 L887.8 555.1 L893.5 552.3 L892.1 546.6 L890.7 540.9 L889.3 538.0" fill="none" stroke="#222" stroke-width="1.5" stroke-linejoin="round" stroke-linecap="round"/>
<path d="M191.0 281.1 L196.0 279.0 L202.2 277.8 L208.5 277.1 L213.5 274.6 L218.5 270.2 L221.0 267.1 L224.0 264.3 M224.0 264.3 L227.8 267.1 L235.2 269.6 L236.5 272.8 L234.0 274.0 L237.8 275.9 L242.8 275.9 L246.5 271.5 L251.5 272.1 L256.5 270.2 L258.4 277.1 L260.2 279.6 L265.2 280.2 L274.0 282.0 M540.0 202.1 L541.2 207.8 L542.5 212.8 L539.4 214.6 L545.0 216.5 L545.6 219.6 L538.1 222.1 L539.4 227.8 L542.5 229.0 L541.9 235.2 L540.0 237.8 L543.8 240.2 L544.4 249.0 L547.5 251.5 L543.8 253.4 L540.0 255.2 L540.6 264.0 L538.8 269.0 L539.4 277.1 L539.4 282.0 M540.0 277.1 L543.8 279.6 L550.0 279.0 L551.6 282.0 M566.9 282.6 L567.5 277.8 L571.2 277.1 L576.2 279.0 L578.8 282.0 M608.0 233.4 L602.5 232.8 L597.5 234.0 L593.1 236.5 L589.4 242.8 L592.5 246.5 L596.2 250.2 L596.9 255.2 L593.8 259.0 L594.4 264.0 L590.0 267.1 L586.2 270.9 L582.5 272.8 L581.2 277.8 L578.8 282.0 M685.5 235.2 L686.8 236.5 L689.2 241.5 L688.0 246.5 L693.0 242.8 L691.8 250.2 L695.5 254.0 L699.9 252.8 L699.2 259.0 L695.5 261.5 L701.1 264.6 L703.0 282.0 M608.0 233.4 L614.2 231.5 L616.8 237.1 L620.5 237.8 L623.0 241.5 L630.5 240.2 L639.2 240.2 L641.8 242.8 L649.2 240.2 L652.4 246.5 L653.6 254.0 L658.0 255.9 L664.2 254.0 L668.0 251.5 L676.1 250.2 L678.6 257.8 L685.5 260.2 L691.8 263.4 L698.0 264.0 L701.1 264.6 M191.0 281.1 L191.6 287.0 L184.8 287.6 L181.0 290.8 L176.0 292.6 L172.2 290.1 L172.9 293.2 L171.6 300.8 L172.2 308.2 L173.5 312.0 L169.8 314.5 L162.2 316.4 L159.1 313.2 L157.2 305.8 L153.5 297.0 L149.8 290.8 L146.0 292.6 L142.9 295.1 L141.6 300.8 L137.2 306.4 L131.0 307.0 L127.9 315.8 L124.1 323.2 L128.5 329.5 L126.6 333.2 L121.0 335.8 L116.0 342.6 L110.4 350.1 L114.8 353.9 L119.1 357.0 L120.4 360.8 L122.2 361.4 L133.5 365.1 L146.0 370.1 L156.0 375.1 L163.5 379.5 L169.1 383.2 L170.4 380.1 L176.0 381.4 L182.2 382.0 L188.5 378.2 L196.0 375.1 L203.5 372.6 L207.2 371.4 L209.8 368.2 L216.0 367.6 L224.0 370.4 M122.2 362.0 L120.4 365.1 L122.9 367.0 L117.9 367.6 L119.1 374.5 L122.9 380.1 L124.1 375.8 L131.0 378.9 L138.5 381.4 L141.6 388.2 L143.5 393.9 L147.2 395.8 L147.9 403.2 L149.4 410.0 M266.5 282.0 L276.5 282.6 L279.0 285.8 L280.9 290.8 L286.5 294.5 L289.6 298.2 L290.9 303.2 L294.0 307.0 L296.5 308.9 L294.6 313.2 L293.4 317.0 L295.9 318.2 L299.0 314.5 L299.6 308.9 M299.6 308.9 L304.0 307.6 L307.1 309.5 L309.0 307.6 L310.2 311.4 L314.0 315.8 L319.6 321.4 L325.2 318.2 L329.6 315.8 L330.2 312.0 L334.6 310.8 L338.4 306.4 L342.1 308.2 L347.1 307.6 L352.0 307.9 M295.9 318.2 L292.1 322.0 L290.9 325.8 L292.1 332.0 L293.4 335.8 L290.2 340.8 L289.6 343.9 L285.2 347.0 L279.0 347.0 L274.0 348.9 L271.5 352.0 L270.2 357.0 L269.6 360.8 L264.0 365.1 L259.0 365.1 L252.1 363.9 L248.4 365.1 L247.8 372.0 L244.6 373.9 L242.8 380.8 L239.0 382.0 L234.0 378.9 L230.2 377.0 L226.5 375.1 L225.2 371.4 L224.0 370.4 M269.6 360.8 L272.8 363.9 L275.2 363.2 L276.5 369.5 L275.9 377.6 L281.5 379.5 L284.6 380.1 L285.2 375.8 L287.8 375.1 L290.2 378.2 L292.8 378.9 L292.1 384.5 L290.2 389.5 L290.9 398.2 L289.6 400.1 L292.1 403.2 L292.3 410.0 M352.0 307.9 L354.5 310.8 L357.6 315.1 L360.1 315.8 L363.9 313.9 L364.5 308.9 L367.6 308.2 L370.8 310.1 L374.5 308.9 L377.0 308.2 L378.9 311.4 L382.0 312.0 L381.4 318.2 L384.5 320.1 L386.4 323.9 L390.8 325.1 L395.8 327.0 L400.1 329.5 L400.8 332.6 L405.8 330.8 L408.9 327.0 L410.8 322.6 L413.2 321.4 L415.1 323.9 L417.0 327.6 L422.0 329.5 L428.2 330.1 L434.5 328.9 L441.4 326.4 L443.2 319.5 L445.1 311.4 M421.4 282.0 L417.0 283.9 L415.1 285.8 L417.0 288.9 L421.4 291.4 L424.5 292.0 L422.0 294.5 L425.8 297.6 L430.1 298.2 L433.2 301.4 L438.2 304.5 L442.0 306.4 L445.1 305.1 L445.8 311.4 L450.8 309.5 L453.2 314.5 L458.2 317.6 L459.5 323.2 L462.0 326.4 L459.5 330.1 L462.6 332.0 L463.9 339.5 L466.4 345.8 L469.5 352.0 L471.4 357.0 L470.1 360.1 L466.4 357.6 L463.2 362.0 L459.5 365.1 L460.1 369.5 L455.8 371.4 L457.6 375.1 L460.1 378.9 L457.0 381.4 L458.9 384.5 L460.8 388.2 L465.8 393.2 L470.1 392.0 L472.0 395.1 L472.6 398.9 L477.0 401.4 L480.0 403.6 M539.4 282.0 L536.9 287.0 L535.0 293.2 L530.6 297.0 L525.0 298.2 L526.9 302.0 L530.0 305.1 L528.8 311.4 L526.9 315.1 L530.0 319.5 L530.6 329.5 L535.0 329.5 L536.2 325.1 L541.2 328.9 L545.0 331.4 L546.2 334.5 L552.5 336.4 L558.8 337.0 L563.1 336.4 L563.1 341.4 L565.0 345.8 L570.0 343.2 L577.5 341.4 L582.5 340.8 L580.0 336.4 L585.0 335.8 L590.0 333.2 L595.0 330.8 L600.6 330.8 L600.0 338.2 L598.1 344.5 L596.9 349.5 L603.8 351.4 L608.0 350.8 M551.6 282.0 L557.5 283.2 L566.9 282.6 M582.5 340.8 L585.6 343.2 L582.5 346.4 L573.8 350.1 L575.0 354.5 L571.2 359.5 L566.2 364.5 L560.0 369.5 L553.8 374.5 L551.2 378.9 L547.5 382.0 L541.2 387.0 L533.8 390.1 L531.2 393.9 L526.2 395.1 L517.5 393.9 L510.0 392.6 L508.1 400.1 L503.8 401.4 L503.1 405.8 L500.0 407.0 L496.2 407.0 L496.2 410.0 M571.2 362.0 L575.0 368.2 L578.8 374.5 L581.2 380.8 L581.9 386.4 L588.8 387.6 L592.5 388.2 L597.5 393.2 L602.5 397.0 L608.0 397.3 M480.0 403.6 L483.8 405.1 L487.5 410.0 M703.0 282.0 L703.0 285.8 L699.9 287.6 L699.2 294.5 L703.6 293.9 L706.8 297.0 L709.2 297.6 L705.5 299.5 L701.1 302.6 L699.9 307.6 L694.2 308.2 L689.2 308.9 L689.9 313.2 L693.0 312.0 L696.8 313.2 L696.1 316.4 L690.5 317.0 L689.2 320.8 L683.0 322.6 L680.5 325.1 L679.2 328.2 L675.5 330.1 L676.1 333.2 L671.8 334.5 L669.9 339.5 L665.5 338.9 L661.8 339.5 L662.4 334.5 L661.1 329.5 L658.0 328.0 L654.2 330.1 L651.8 333.9 L648.0 335.8 L646.1 339.5 L641.8 341.4 L641.1 346.4 L636.1 348.2 L634.9 352.0 L629.2 354.5 L628.0 349.5 L626.8 347.6 L620.5 347.6 L616.8 348.2 L614.9 344.5 L612.4 343.9 L609.2 346.4 L608.0 350.8 M699.9 307.6 L705.5 308.9 L706.8 314.5 L706.1 322.0 L705.5 327.0 L708.0 329.5 L715.5 327.6 L720.5 330.1 L721.8 333.2 L725.5 332.6 L729.2 335.8 L731.8 340.1 L728.0 342.6 L727.4 345.8 L731.1 345.1 L736.0 342.3 M608.0 397.3 L611.8 399.5 L616.8 402.6 L623.0 399.5 L630.5 396.4 L638.0 393.9 L639.9 388.2 L639.9 376.4 L643.6 376.4 L644.9 380.8 L651.8 381.4 L663.0 378.9 L663.6 381.4 L669.2 382.0 L670.5 387.6 L673.0 392.0 L673.6 399.5 L672.4 405.8 L669.2 410.0 M811.0 282.0 L807.2 285.8 L804.1 287.0 L801.6 289.5 L804.1 292.6 L798.5 295.8 L794.1 297.6 L789.8 301.4 L792.2 304.5 L794.8 308.9 L799.8 312.0 L804.8 315.1 L806.0 320.8 L809.1 324.5 L807.9 330.1 L805.4 335.1 L801.0 336.4 L794.8 335.1 L788.5 332.6 L786.0 332.0 L784.8 327.0 L781.0 323.2 L774.8 322.0 L771.0 319.5 L766.0 322.0 L764.8 326.4 L764.1 332.6 L758.5 333.9 L752.2 336.4 L743.5 338.9 L736.0 342.3 M786.0 332.0 L785.4 335.8 L782.2 340.1 L777.2 343.2 L776.0 348.2 L776.6 353.2 L772.2 356.4 L767.2 359.5 L766.0 363.2 L769.8 367.0 L773.5 370.8 L777.9 374.5 L774.1 376.4 L775.4 380.8 L779.8 380.8 L784.8 378.9 L786.0 383.2 L784.1 389.5 L779.1 393.2 L778.5 397.0 L784.1 398.9 L784.8 402.6 L789.8 403.9 L786.6 407.0 L786.0 410.0 M864.0 302.5 L866.7 306.6 L869.5 314.8 L864.7 319.6 M864.7 319.6 L866.7 325.8 L872.2 329.9 L874.9 335.3 L881.8 340.8 L888.6 344.9 L898.2 345.6 L899.5 351.7 L903.6 354.5 L907.8 353.1 L910.5 359.9 L916.0 365.4 L921.4 369.5 L920.7 375.0 L921.4 381.8 L916.0 387.3 L916.6 396.8 L924.2 403.0 L922.8 409.2 M149.4 410.0 L151.0 415.0 L149.8 419.4 L146.0 420.0 L143.5 417.5 L141.6 416.2 L139.8 419.4 L143.5 423.8 L148.5 428.1 L152.2 431.2 L156.0 435.0 L159.8 438.1 L164.8 440.0 L167.2 436.9 L168.5 432.5 L166.0 433.1 L163.5 435.0 L159.8 433.8 L157.9 430.6 L154.8 429.4 L152.2 430.0 M224.0 477.5 L227.8 474.4 L230.9 470.6 L239.0 471.2 L245.2 469.4 L252.8 468.1 L253.4 464.4 L259.0 461.2 L260.2 458.8 L267.8 458.1 L277.8 457.5 L286.5 458.1 L290.9 458.8 L295.2 455.0 L297.8 460.0 L300.9 460.6 L302.1 464.4 L306.5 466.2 L310.2 469.4 L315.2 470.6 M292.3 410.0 L292.8 413.8 L290.2 420.0 L288.4 426.2 L287.8 431.2 L290.2 438.8 L294.0 446.2 L299.0 450.6 L305.2 453.8 L313.4 457.5 L314.6 463.8 L316.5 471.2 L318.0 480.0 L318.0 502.5 M373.2 503.8 L373.9 481.9 L383.2 471.2 L393.2 461.2 L402.0 454.4 L409.5 453.8 L410.1 446.9 L420.1 448.8 L429.5 428.1 L442.6 425.6 L448.2 435.6 L451.4 435.6 L456.4 445.6 L462.6 447.5 L458.9 453.1 L467.0 451.2 L473.2 456.9 L480.0 459.1 M458.9 453.1 L480.0 439.1 M487.5 410.0 L491.2 416.2 L498.1 411.2 L496.2 410.0 M491.2 416.2 L496.9 425.6 L491.2 431.2 L480.0 439.1 M480.0 459.1 L483.8 460.6 L485.6 459.4 L492.5 462.5 L500.0 465.0 L511.2 471.9 L516.2 472.5 L521.2 478.1 L526.2 480.0 L540.0 483.8 L555.0 488.5 L565.6 488.1 L565.0 493.8 L569.4 496.2 L569.4 499.4 L567.5 503.8 L565.0 513.8 L568.8 516.2 L573.8 519.4 L573.7 538.0 M565.0 491.9 L608.0 491.2 M669.2 410.0 L670.5 413.8 L673.0 417.5 L672.4 422.5 L673.0 427.5 L669.2 430.6 L668.0 435.6 L664.2 435.0 L658.0 433.1 L656.8 447.5 L658.0 466.2 L659.9 487.5 M608.0 491.2 L659.9 487.5 L713.0 483.8 L724.9 482.5 M608.0 491.2 L613.0 497.5 L618.0 508.8 L623.0 522.5 L627.0 538.0 M724.9 506.2 L719.2 506.2 L719.2 512.5 L723.6 512.8 L726.8 516.2 L736.0 522.8 M786.0 410.0 L784.1 415.0 L784.8 420.0 L787.2 426.2 L782.9 427.5 L781.6 433.1 L786.0 436.9 L791.0 438.1 L792.2 433.8 L797.9 432.5 L804.8 431.9 L807.2 428.1 L809.8 430.6 L812.9 425.6 L818.5 428.1 L824.8 430.6 L826.6 433.1 L836.0 430.0 L840.4 434.4 L844.8 438.8 L854.1 433.8 L859.8 435.0 L861.0 436.9 L864.0 437.8 M797.9 432.5 L799.1 440.0 L801.0 450.0 L793.5 451.9 L792.9 453.8 M772.2 453.8 L772.2 462.5 L772.9 472.5 L774.1 481.2 L774.1 490.0 L777.2 495.0 L783.5 497.5 L786.0 505.0 L791.0 506.2 L794.1 511.2 L796.0 518.8 L798.5 522.5 L801.6 525.0 L803.5 527.5 L806.6 526.9 L807.9 532.5 L812.2 535.0 L818.5 535.6 L819.9 538.0 M736.0 522.8 L738.5 526.2 L739.8 531.2 L744.8 535.0 L749.8 536.9 L753.4 538.0 M849.9 536.5 L856.0 531.9 L861.0 530.6 L864.0 531.8 M864.0 437.8 L872.2 440.1 L880.4 441.4 L888.6 442.1 L892.7 441.4 M910.5 468.8 L918.7 468.8 L922.8 470.8 L922.8 478.4 L920.1 480.4 L916.0 477.7 L911.9 479.7 L909.1 481.8 L905.0 479.7 L903.0 477.0 L899.5 477.0 M864.0 531.8 L872.2 533.7 L881.8 533.1 M573.7 538.0 L573.0 545.1 L578.7 548.7 L583.0 553.7 L589.4 557.7 L585.9 560.1 L585.1 565.1 L582.3 566.5 L581.6 572.2 L579.4 577.2 L577.3 579.3 L579.4 581.5 L583.0 580.8 L583.0 584.3 L574.5 587.9 L565.9 591.5 L558.8 596.5 L553.1 603.6 L549.5 601.4 L544.5 606.4 L538.1 612.1 L536.0 612.1 L535.2 617.8 L534.5 625.0 L548.1 627.1 L549.1 637.8 L550.2 648.5 L568.0 649.9 L578.7 649.9 L583.0 652.8 L586.6 653.5 L585.9 659.2 L582.3 661.3 L587.3 664.9 L593.0 668.5 L598.0 671.3 L603.0 669.9 L600.1 664.9 L598.7 659.2 L596.6 656.3 L601.5 657.0 L605.1 653.5 L608.7 647.8 L611.5 643.5 L615.8 640.7 L620.8 639.9 L622.9 636.4 L627.2 632.8 L631.5 631.4 L635.8 627.8 L640.0 623.5 L642.9 620.0 L647.2 617.8 L650.0 620.7 L652.9 615.7 L657.1 612.9 L662.0 607.9 M627.0 538.0 L628.6 545.1 L629.3 550.8 L627.2 558.0 L625.1 565.1 L622.9 571.5 L620.8 575.1 L622.9 579.3 L630.1 580.8 L635.8 583.6 L638.6 587.9 L640.0 595.0 L644.3 597.9 L650.0 603.6 L655.7 608.6 M516.0 565.8 L518.9 570.8 L526.7 579.3 L530.3 593.6 L537.4 591.5 L538.1 612.1 M753.4 538.0 L758.9 540.9 L757.5 549.4 L753.2 558.0 L758.9 560.8 L763.2 563.7 L761.8 569.4 L764.7 573.6 L770.4 576.5 L776.1 578.6 M819.9 538.0 L820.8 542.3 L829.4 540.1 L839.4 538.7 L849.9 536.5" fill="none" stroke="#000" stroke-width="2.0" stroke-linejoin="round" stroke-linecap="round"/>
<path d="M196.0 155.5 L194.1 159.0 L192.9 164.6 L191.0 167.1 L186.0 169.0 L190.4 172.8 L183.5 177.8 L179.8 182.1 L179.1 187.8 L182.2 190.9 L181.6 193.4 L177.9 195.9 L174.8 202.1 L169.1 198.4 L168.2 205.2 L171.0 207.8 L176.0 209.0 L171.0 211.5 L170.4 214.6 L173.2 217.8 L164.5 219.0 L161.0 225.2 L151.6 224.0 L151.0 227.8 L139.1 229.6 L136.0 232.1 L129.8 229.6 L127.9 232.1 L129.5 235.2 L126.6 238.4 L124.5 242.8 L126.0 246.5 L125.4 254.0 L127.9 260.2 L133.5 264.0 L137.2 262.8 L136.0 265.2 L137.9 270.2 L137.2 277.1 L141.6 279.6 L146.0 274.6 L149.8 275.9 L151.0 280.9 L157.2 280.5 L157.6 282.0 M188.5 184.0 L192.9 177.1 L199.1 182.1 L199.8 185.9 L197.2 188.4 L191.0 186.8 Z M196.6 157.8 L201.6 157.8 L199.1 160.2 Z M183.5 200.2 L186.6 197.8 L187.6 201.5 Z M172.2 227.8 L175.4 227.5 L174.1 230.5 Z M154.5 237.1 C155.0 236.4 156.6 235.2 158.5 234.0 C160.4 232.8 164.5 230.5 166.0 230.0 C167.5 229.5 167.7 230.0 167.2 230.9 C166.8 231.8 165.0 234.1 163.5 235.2 C162.0 236.4 159.9 237.5 158.5 238.0 C157.1 238.5 156.0 238.5 155.4 238.4 C154.7 238.2 154.0 237.9 154.5 237.1 Z M113.5 274.6 C113.6 273.7 114.4 272.3 116.0 271.5 C117.6 270.7 120.9 270.7 122.9 269.6 C124.9 268.6 127.2 265.4 127.9 265.2 C128.5 265.1 127.5 267.9 126.6 269.0 C125.8 270.1 124.8 270.8 122.9 272.1 C121.0 273.5 116.9 276.7 115.4 277.1 C113.8 277.5 113.4 275.6 113.5 274.6 Z M398.2 197.8 C398.6 196.7 400.1 194.5 401.4 192.8 C402.6 191.0 404.5 188.3 405.8 187.1 C407.0 186.0 408.2 185.4 408.9 185.9 C409.5 186.4 409.9 188.7 409.5 190.2 C409.1 191.8 407.6 193.8 406.4 195.2 C405.1 196.7 403.1 198.3 402.0 199.0 C400.9 199.7 400.1 199.5 399.5 199.2 C398.9 199.0 397.9 198.8 398.2 197.8 Z M384.2 205.9 C384.3 204.9 385.2 202.5 386.0 201.5 C386.8 200.5 388.1 199.5 388.9 199.6 C389.6 199.7 390.6 201.2 390.5 202.1 C390.4 203.1 389.1 204.4 388.2 205.2 C387.4 206.1 386.2 207.4 385.5 207.5 C384.8 207.6 384.2 206.9 384.2 205.9 Z M420.1 173.4 L423.9 171.2 L423.5 175.5 Z M430.1 155.0 L432.6 156.5 L435.1 155.0 M441.7 282.0 L443.2 277.8 L450.8 277.1 L453.2 271.5 L458.2 267.1 L465.8 264.0 L472.0 258.4 L480.0 255.6 M522.5 155.0 C523.2 155.4 525.4 157.1 526.9 157.1 C528.3 157.1 530.5 155.4 531.2 155.0 M536.9 155.0 C537.4 155.7 538.2 157.7 540.0 159.0 C541.8 160.3 544.2 161.5 547.5 162.8 C550.8 164.0 555.4 165.4 560.0 166.5 C564.6 167.6 570.4 168.8 575.0 169.6 C579.6 170.5 584.2 171.0 587.5 171.5 C590.8 172.0 593.1 173.0 595.0 172.8 C596.9 172.5 596.6 170.2 598.8 170.0 C600.9 169.8 606.5 171.5 608.0 171.8 M480.0 255.6 C480.8 255.1 483.2 253.3 485.0 252.8 C486.8 252.2 489.4 251.7 490.6 252.1 C491.9 252.5 491.4 254.6 492.5 255.2 C493.6 255.9 495.4 256.2 497.5 255.9 C499.6 255.6 502.7 254.2 505.0 253.4 C507.3 252.5 509.7 252.0 511.2 250.9 C512.8 249.7 513.5 248.9 514.4 246.5 C515.2 244.1 515.4 238.7 516.2 236.5 C517.1 234.3 518.3 233.3 519.4 233.4 C520.4 233.5 521.7 235.4 522.5 237.1 C523.3 238.9 523.8 242.3 524.4 244.0 C525.0 245.7 524.3 246.7 526.2 247.1 C528.2 247.6 532.9 247.0 536.2 246.8 C539.6 246.5 543.1 246.3 546.2 245.9 C549.4 245.5 552.7 244.2 555.0 244.2 C557.3 244.2 558.8 244.9 560.0 245.9 C561.2 246.9 561.8 247.9 562.5 250.2 C563.2 252.6 563.8 258.0 564.4 260.2 C565.0 262.5 564.7 264.0 566.2 264.0 C567.8 264.0 572.0 260.5 573.8 260.2 C575.5 260.0 576.0 260.9 576.9 262.8 C577.7 264.6 578.0 269.8 578.8 271.5 C579.5 273.2 580.0 272.9 581.2 272.8 C582.5 272.6 584.4 270.7 586.2 270.9 C588.1 271.1 590.4 272.9 592.5 274.0 C594.6 275.1 597.1 276.8 598.8 277.8 C600.4 278.7 601.0 279.8 602.5 279.6 C604.0 279.4 607.1 277.0 608.0 276.5 M608.0 171.8 C610.1 172.0 615.3 172.6 620.5 172.8 C625.7 172.9 633.0 172.9 639.2 172.5 C645.5 172.1 653.2 171.0 658.0 170.2 C662.8 169.5 665.3 168.3 668.0 167.8 C670.7 167.2 672.4 166.8 674.2 166.9 C676.1 167.0 677.4 167.7 679.2 168.4 C681.1 169.0 682.4 170.4 685.5 170.9 C688.6 171.4 694.2 171.1 698.0 171.5 C701.8 171.9 704.7 172.9 708.0 173.4 C711.3 173.9 714.7 174.4 718.0 174.6 C721.3 174.8 725.0 174.8 728.0 174.6 C731.0 174.4 734.7 173.6 736.0 173.4 M608.0 276.5 C609.0 276.2 612.2 275.1 614.2 274.6 C616.3 274.2 618.6 273.5 620.5 273.8 C622.4 274.0 624.0 275.0 625.5 275.9 C627.0 276.8 627.8 278.8 629.2 279.0 C630.7 279.2 632.9 278.1 634.2 277.1 C635.6 276.2 636.1 274.2 637.4 273.4 C638.6 272.5 640.2 271.7 641.8 271.9 C643.3 272.1 645.4 273.8 646.8 274.6 C648.1 275.5 648.7 277.1 649.9 277.1 C651.0 277.1 652.6 274.5 653.6 274.6 C654.7 274.7 655.0 276.5 656.1 277.8 C657.3 279.0 659.8 281.3 660.5 282.0 M660.5 282.0 C660.6 281.2 660.6 278.6 661.1 277.1 C661.6 275.7 662.1 274.3 663.6 273.4 C665.2 272.4 668.1 271.8 670.5 271.5 C672.9 271.2 675.7 271.3 678.0 271.8 C680.3 272.2 682.7 273.1 684.2 274.0 C685.8 274.9 687.1 275.8 687.4 277.1 C687.7 278.5 686.3 281.2 686.1 282.0 M736.0 173.4 C738.1 173.5 744.1 173.5 748.5 174.0 C752.9 174.5 758.1 175.1 762.2 176.5 C766.4 177.9 770.0 180.4 773.5 182.1 C777.0 183.9 780.6 185.8 783.5 187.1 C786.4 188.5 788.5 189.6 791.0 190.2 C793.5 190.9 795.6 191.1 798.5 191.2 C801.4 191.4 805.4 191.4 808.5 190.9 C811.6 190.4 814.1 189.2 817.2 188.4 C820.4 187.5 824.1 186.7 827.2 185.9 C830.4 185.0 833.3 184.6 836.0 183.4 C838.7 182.1 841.0 180.4 843.5 178.4 C846.0 176.4 848.7 173.6 851.0 171.5 C853.3 169.4 855.1 167.3 857.2 165.9 C859.4 164.5 862.9 163.6 864.0 163.2 M864.0 163.2 C865.4 163.3 869.5 164.2 872.2 164.3 C874.9 164.3 877.2 162.9 880.4 163.3 C883.6 163.7 888.2 166.2 891.3 166.6 C894.5 167.0 896.6 165.4 899.5 165.6 C902.5 165.8 907.0 167.4 909.1 167.7 C911.3 167.9 912.1 167.9 912.5 167.0 C913.0 166.1 912.7 163.9 911.9 162.2 C911.1 160.5 908.9 157.9 907.8 156.7 C906.6 155.5 905.5 155.4 905.0 155.1 M864.7 170.4 C864.7 169.4 865.4 167.6 866.1 167.0 C866.7 166.4 868.4 166.3 868.8 167.0 C869.1 167.7 868.6 170.1 868.1 171.1 C867.6 172.1 866.6 173.3 866.1 173.1 C865.5 173.0 864.7 171.4 864.7 170.4 Z M962.4 155.4 L964.5 159.5 L972.0 162.9 L977.5 169.0 L982.3 175.2 L979.5 179.3 L981.6 182.7 L988.4 184.8 L987.7 190.9 L995.3 194.3 L998.7 197.8 L999.4 201.9 L1004.0 205.3 M1004.0 222.4 L999.4 227.8 L994.6 231.9 L995.9 237.4 L992.5 241.5 L986.4 244.9 L987.1 251.1 L985.0 255.2 L981.6 251.8 L972.0 254.5 L963.8 257.2 L960.4 263.4 L960.4 270.2 L963.1 275.0 L958.3 274.3 L951.5 270.2 L948.8 271.6 L952.9 275.7 L959.7 279.8 L961.1 283.2 L957.0 287.3 L951.5 290.7 L959.7 292.1 L962.4 294.0 M868.1 294.0 L866.1 288.7 L869.5 287.3 L876.3 290.0 L880.4 294.0 M149.1 282.0 L151.0 283.9 L150.8 282.0 M149.5 287.2 L151.6 287.2 L150.8 289.5 Z M157.6 282.0 C157.4 282.8 156.6 285.2 156.6 287.0 C156.7 288.8 158.4 291.4 157.9 292.6 C157.4 293.9 154.3 293.6 153.8 294.5 C153.2 295.4 154.3 297.0 154.8 298.2 C155.2 299.5 155.2 300.5 156.6 302.0 C158.1 303.5 160.7 305.2 163.5 307.0 C166.3 308.8 170.2 310.5 173.5 312.6 C176.8 314.7 180.2 317.5 183.5 319.5 C186.8 321.5 190.2 323.2 193.5 324.5 C196.8 325.8 200.2 326.4 203.5 327.0 C206.8 327.6 210.1 327.0 213.5 328.2 C216.9 329.5 222.2 333.5 224.0 334.5 M96.0 378.2 C96.3 378.5 96.6 378.1 97.9 379.5 C99.1 380.9 101.5 384.3 103.5 386.4 C105.5 388.5 107.5 390.2 109.8 392.0 C112.0 393.8 114.8 395.1 117.2 397.0 C119.8 398.9 122.2 401.1 124.8 403.2 C127.2 405.4 131.0 408.9 132.2 410.0 M224.0 334.5 C224.8 335.1 226.9 336.2 229.0 338.2 C231.1 340.3 234.0 344.1 236.5 347.0 C239.0 349.9 241.9 353.0 244.0 355.8 C246.1 358.5 247.5 360.5 249.0 363.2 C250.5 366.0 251.1 369.1 252.8 372.0 C254.4 374.9 256.9 377.8 259.0 380.8 C261.1 383.7 263.3 386.4 265.2 389.5 C267.2 392.6 269.2 397.7 270.9 399.5 C272.5 401.3 273.5 399.5 275.2 400.1 C277.0 400.8 279.7 402.1 281.5 403.2 C283.3 404.4 285.1 405.9 285.9 407.0 C286.7 408.1 286.1 409.5 286.2 410.0 M383.2 308.2 L386.4 300.8 L390.1 301.4 L393.2 303.9 L388.9 307.0 L392.0 308.9 L391.4 312.6 L387.0 311.4 Z M441.7 282.0 C441.6 282.8 441.8 285.2 441.4 287.0 C440.9 288.8 439.1 291.1 438.9 292.6 C438.7 294.2 440.2 295.2 440.1 296.4 C440.0 297.5 439.6 298.9 438.2 299.5 C436.9 300.1 433.4 299.1 432.0 299.8 C430.6 300.4 430.1 302.0 430.1 303.2 C430.1 304.5 430.9 305.8 432.0 307.0 C433.1 308.2 435.8 309.5 437.0 310.8 C438.2 312.0 439.7 313.0 439.5 314.5 C439.3 316.0 436.8 317.4 435.8 319.5 C434.7 321.6 434.1 324.9 433.2 327.0 C432.4 329.1 431.9 330.3 430.8 332.0 C429.6 333.7 427.0 335.3 426.4 337.0 C425.8 338.7 426.3 340.4 427.0 342.0 C427.7 343.6 428.9 345.1 430.8 346.4 C432.6 347.6 436.7 347.7 438.2 349.5 C439.8 351.3 439.1 354.5 440.1 357.0 C441.2 359.5 443.5 362.0 444.5 364.5 C445.5 367.0 445.9 369.3 446.4 372.0 C446.9 374.7 447.1 378.8 447.6 380.8 C448.1 382.7 447.9 383.5 449.5 383.9 C451.1 384.3 454.1 383.8 457.0 383.2 C459.9 382.7 463.2 381.5 467.0 380.8 C470.8 380.0 477.8 378.9 480.0 378.6 M480.0 378.6 L487.5 377.6 L497.5 375.1 L505.0 378.9 L513.8 380.8 L521.9 382.6 L527.5 378.9 L533.1 375.1 L539.4 381.4 L545.0 376.4 L548.8 369.5 L552.5 365.1 L561.2 365.5 L568.8 366.4 L577.5 367.0 L582.5 365.8 L587.5 368.9 L595.0 368.2 L597.5 373.2 L601.9 379.5 L603.1 384.5 L608.0 384.5 M608.0 393.2 L603.8 390.1 L596.2 389.5 L590.0 388.9 L591.9 394.5 L593.8 400.8 L601.2 400.1 L603.8 403.9 L604.4 410.0 M686.1 282.0 C685.6 283.0 683.6 286.0 683.0 288.2 C682.4 290.5 682.2 293.2 682.4 295.8 C682.6 298.2 683.7 301.1 684.2 303.2 C684.8 305.4 685.6 307.1 685.5 308.9 C685.4 310.6 684.5 312.3 683.6 313.9 C682.8 315.4 680.6 316.9 680.5 318.2 C680.4 319.6 682.0 320.8 683.0 322.0 C684.0 323.2 686.3 324.1 686.8 325.8 C687.2 327.4 686.3 330.0 685.5 332.0 C684.7 334.0 681.5 337.4 681.8 338.0 C682.0 338.6 685.4 337.0 686.8 335.8 C688.1 334.5 689.2 332.4 689.9 330.8 C690.5 329.1 690.6 327.2 690.5 325.8 C690.4 324.3 688.8 323.2 689.2 322.0 C689.7 320.8 692.0 319.5 693.0 318.2 C694.0 317.0 695.1 315.1 695.5 314.5 M688.0 294.5 C688.6 293.6 690.3 292.6 691.8 292.6 C693.2 292.6 695.3 293.1 696.8 294.5 C698.2 295.9 700.3 298.9 700.5 300.8 C700.7 302.6 699.0 304.8 698.0 305.8 C697.0 306.7 695.5 307.0 694.2 306.4 C693.0 305.8 691.5 303.4 690.5 302.0 C689.5 300.6 688.4 299.5 688.0 298.2 C687.6 297.0 687.4 295.4 688.0 294.5 Z M700.5 302.0 C701.5 301.2 704.9 297.7 706.8 297.0 C708.6 296.3 710.1 297.3 711.8 297.6 C713.4 297.9 715.7 297.7 716.8 298.9 C717.8 300.0 717.0 303.5 718.0 304.5 C719.0 305.5 721.3 305.0 723.0 305.1 C724.7 305.2 725.8 305.2 728.0 305.1 C730.2 305.0 734.7 304.6 736.0 304.5 M736.0 332.0 C735.3 332.4 733.3 334.2 731.8 334.5 C730.2 334.8 728.2 333.5 726.8 333.9 C725.3 334.3 724.7 336.3 723.0 337.0 C721.3 337.7 718.4 337.5 716.8 338.2 C715.1 339.0 713.6 340.2 713.0 341.4 C712.4 342.5 712.2 344.2 713.0 345.1 C713.8 346.1 715.9 346.6 718.0 347.0 C720.1 347.4 724.5 347.0 725.5 347.6 C726.5 348.2 723.8 349.9 724.2 350.8 C724.7 351.6 726.5 352.7 728.0 352.6 C729.5 352.5 731.7 350.9 733.0 350.1 C734.3 349.3 735.5 348.3 736.0 347.9 M736.0 358.2 C734.7 358.6 730.6 359.5 728.0 360.1 C725.4 360.8 722.4 361.4 720.5 362.0 C718.6 362.6 718.2 364.1 716.8 363.9 C715.3 363.7 713.6 361.1 711.8 360.8 C709.9 360.4 707.6 361.2 705.5 362.0 C703.4 362.8 701.1 364.5 699.2 365.8 C697.4 367.0 695.9 368.0 694.2 369.5 C692.6 371.0 691.5 373.1 689.2 374.5 C687.0 375.9 683.0 376.6 680.5 377.6 C678.0 378.7 675.9 379.6 674.2 380.8 C672.6 381.9 672.4 384.1 670.5 384.5 C668.6 384.9 665.3 383.7 663.0 383.2 C660.7 382.8 659.0 382.4 656.8 382.0 C654.5 381.6 651.8 381.4 649.2 380.8 C646.8 380.1 644.2 379.0 641.8 378.2 C639.2 377.5 636.8 376.7 634.2 376.4 C631.8 376.1 629.0 375.6 626.8 376.4 C624.5 377.1 622.6 379.8 620.5 380.8 C618.4 381.7 616.3 381.4 614.2 382.0 C612.2 382.6 609.0 384.1 608.0 384.5 M608.0 393.2 C608.6 393.2 610.5 392.4 611.8 393.2 C613.0 394.1 614.0 398.0 615.5 398.2 C617.0 398.5 619.2 396.0 620.5 394.5 C621.8 393.0 621.3 390.6 623.0 389.5 C624.7 388.4 628.5 388.4 630.5 387.6 C632.5 386.9 633.7 385.0 634.9 385.1 C636.0 385.2 636.9 386.7 637.4 388.2 C637.9 389.8 637.4 392.7 638.0 394.5 C638.6 396.3 639.9 398.0 641.1 398.9 C642.4 399.7 643.9 400.1 645.5 399.5 C647.1 398.9 648.4 396.5 650.5 395.1 C652.6 393.8 655.9 392.1 658.0 391.4 C660.1 390.6 661.3 390.5 663.0 390.8 C664.7 391.0 666.4 392.3 668.0 392.6 C669.6 392.9 671.6 392.6 672.4 392.6 M656.8 382.0 C657.6 382.6 659.9 384.7 661.8 385.8 C663.6 386.8 666.2 387.1 668.0 388.2 C669.8 389.4 672.2 391.0 672.4 392.6 C672.6 394.3 671.0 396.5 669.2 398.2 C667.5 400.0 664.5 402.1 661.8 403.2 C659.0 404.4 655.9 404.7 653.0 405.1 C650.1 405.5 646.8 405.5 644.2 405.8 C641.8 406.0 639.5 405.7 638.0 406.4 C636.5 407.1 635.7 409.4 635.2 410.0 M736.0 304.5 C737.2 304.3 741.0 303.9 743.5 303.2 C746.0 302.6 748.6 301.2 751.0 300.8 C753.4 300.3 755.8 300.3 757.9 300.5 C760.0 300.7 761.5 301.2 763.5 302.0 C765.5 302.8 767.2 304.3 769.8 305.1 C772.2 306.0 775.4 306.4 778.5 307.0 C781.6 307.6 785.2 308.2 788.5 308.5 C791.8 308.8 795.2 308.8 798.5 308.9 C801.8 309.0 805.6 309.5 808.5 309.2 C811.4 309.0 813.1 307.9 816.0 307.6 C818.9 307.4 823.1 307.4 826.0 307.6 C828.9 307.8 831.4 308.5 833.5 308.9 C835.6 309.3 836.4 310.1 838.5 310.1 C840.6 310.1 843.5 308.8 846.0 308.9 C848.5 308.9 851.2 310.6 853.5 310.5 C855.8 310.4 858.0 308.6 859.8 308.5 C861.5 308.4 863.3 309.5 864.0 309.8 M736.6 319.5 C737.0 318.5 739.2 316.6 740.4 316.4 C741.5 316.2 743.3 317.3 743.5 318.2 C743.7 319.2 742.6 321.3 741.6 322.0 C740.7 322.7 738.7 322.7 737.9 322.2 C737.0 321.8 736.2 320.5 736.6 319.5 Z M736.0 340.8 L739.8 337.0 L736.0 332.0 L739.8 333.2 L742.9 327.0 L748.5 328.2 L756.0 328.2 L759.8 332.0 L756.6 335.8 L755.4 340.8 L756.6 345.8 L762.2 345.1 L766.0 347.0 L767.2 342.0 L766.0 337.0 L769.8 334.5 L773.5 332.6 L778.5 335.1 L782.2 337.0 L784.1 342.0 L787.2 346.4 L791.0 344.5 L793.5 340.1 L796.6 339.8 L799.1 343.2 L797.2 348.2 L793.5 352.0 L794.1 356.4 L798.5 355.8 L806.0 358.2 L813.5 360.8 L821.0 364.5 L826.6 365.1 L826.0 359.5 L822.2 355.1 L824.8 352.6 L827.2 357.0 L832.2 358.2 L836.0 362.6 L839.8 363.2 L843.5 358.2 L849.1 357.0 L847.9 352.0 L847.2 348.9 L849.1 348.0 L852.2 351.4 L857.2 349.5 L861.0 352.6 L864.0 354.5 M736.0 347.9 C737.0 347.8 740.0 346.5 742.2 347.0 C744.5 347.5 749.5 349.9 749.8 350.8 C750.0 351.6 745.8 351.6 743.5 352.0 C741.2 352.4 737.2 353.0 736.0 353.2 M782.9 314.5 L784.8 314.8 L783.8 316.4 Z M826.2 325.1 L829.1 325.1 L828.5 328.2 Z M856.6 330.1 L859.1 328.2 L859.8 331.4 Z M856.6 297.6 L858.5 296.4 L857.9 298.9 Z M866.7 288.8 C867.3 288.0 869.0 287.4 870.8 287.5 C872.7 287.6 876.1 288.6 877.7 289.5 C879.3 290.4 880.6 291.9 880.4 292.9 C880.2 294.0 877.9 295.3 876.3 295.7 C874.7 296.0 872.3 295.6 870.8 295.0 C869.4 294.4 868.1 293.3 867.4 292.3 C866.7 291.2 866.2 289.6 866.7 288.8 Z M868.1 302.5 C869.2 302.3 872.2 301.1 874.9 301.1 C877.7 301.1 881.9 301.8 884.5 302.5 C887.1 303.2 889.4 304.2 890.7 305.2 C891.9 306.3 892.6 307.6 892.0 308.7 C891.5 309.7 887.6 310.5 887.2 311.4 C886.9 312.3 888.4 313.3 890.0 314.1 C891.6 314.9 895.0 314.2 896.8 316.2 C898.6 318.1 900.1 323.6 900.9 325.8 C901.7 327.9 902.5 328.7 901.6 329.2 C900.7 329.6 898.1 328.0 895.4 328.5 C892.8 328.9 888.4 330.9 885.9 331.9 C883.4 332.9 881.9 335.0 880.4 334.6 C878.9 334.3 877.6 331.6 877.0 329.9 C876.4 328.1 878.2 325.2 877.0 324.4 C875.7 323.6 871.0 324.8 869.5 325.1 C868.0 325.3 868.3 325.6 868.1 325.8 M909.1 329.9 C909.3 328.9 911.6 328.3 913.2 328.2 C914.8 328.1 917.3 328.6 918.7 329.2 C920.1 329.8 921.7 331.1 921.4 331.9 C921.2 332.7 918.9 333.9 917.3 334.2 C915.7 334.5 913.2 334.4 911.9 333.7 C910.5 333.0 908.9 330.8 909.1 329.9 Z M921.4 346.3 C921.0 345.9 924.4 343.8 925.5 342.2 C926.7 340.6 926.9 337.7 928.3 336.7 C929.6 335.7 931.8 336.1 933.7 336.0 C935.7 335.9 939.7 335.2 939.9 336.0 C940.1 336.8 937.0 339.4 935.1 340.8 C933.2 342.2 930.5 343.3 928.3 344.2 C926.0 345.1 921.9 346.6 921.4 346.3 Z M933.7 346.3 C934.9 345.6 937.6 343.5 940.6 342.2 C943.5 340.8 947.9 339.2 951.5 338.1 C955.1 336.9 959.0 336.5 962.4 335.3 C965.9 334.2 969.5 332.5 972.0 331.2 C974.5 330.0 976.1 329.2 977.5 327.8 C978.8 326.4 980.9 324.0 980.2 323.0 C979.5 322.0 973.8 322.6 973.4 321.6 C972.9 320.7 976.5 319.4 977.5 317.5 C978.5 315.7 979.5 312.4 979.5 310.7 C979.5 309.0 978.6 307.5 977.5 307.3 C976.3 307.1 973.8 308.1 972.7 309.3 C971.6 310.6 971.9 313.2 970.6 314.8 C969.4 316.4 967.0 318.5 965.2 318.9 C963.4 319.4 962.0 317.3 959.7 317.5 C957.4 317.8 953.8 320.2 951.5 320.3 C949.2 320.4 947.9 320.1 946.0 318.2 C944.2 316.4 941.8 312.2 940.6 309.3 C939.3 306.5 938.9 302.5 938.5 301.1 M944.7 357.9 C944.9 357.1 944.7 354.6 946.0 353.1 C947.4 351.6 951.5 350.1 952.9 349.0 C954.2 347.9 954.9 346.9 954.2 346.3 C953.6 345.6 947.9 345.8 948.8 344.9 C949.7 344.0 955.8 342.2 959.7 340.8 C963.6 339.4 968.6 337.6 972.0 336.7 C975.4 335.8 977.9 335.1 980.2 335.3 C982.5 335.6 984.5 336.7 985.7 338.1 C986.8 339.4 986.7 341.5 987.1 343.5 C987.4 345.6 988.4 349.7 987.7 350.4 C987.1 351.0 984.7 349.0 982.9 347.6 C981.2 346.3 979.1 343.4 977.5 342.2 C975.9 340.9 974.1 340.4 973.4 340.1 M944.7 357.9 C946.7 357.4 953.1 355.9 957.0 355.1 C960.8 354.3 964.5 353.6 967.9 353.1 C971.3 352.6 974.3 352.2 977.5 352.4 C980.7 352.6 984.1 353.7 987.1 354.5 C990.0 355.3 993.0 357.0 995.3 357.2 C997.5 357.4 999.3 356.5 1000.7 355.8 C1002.2 355.1 1003.5 353.6 1004.0 353.1 M900.2 383.2 C900.0 381.0 902.4 377.8 903.6 376.3 C904.9 374.9 905.7 374.4 907.8 374.3 C909.8 374.2 913.4 375.1 916.0 375.7 C918.5 376.2 920.3 377.0 922.8 377.7 C925.3 378.4 929.4 378.8 931.0 379.8 C932.6 380.7 933.3 382.4 932.4 383.2 C931.5 384.0 927.6 383.4 925.5 384.5 C923.5 385.7 922.3 388.9 920.1 390.0 C917.8 391.2 914.4 391.5 911.9 391.4 C909.3 391.3 907.0 390.7 905.0 389.3 C903.1 388.0 900.5 385.3 900.2 383.2 Z M879.7 411.2 C879.3 409.8 883.0 406.9 884.5 405.7 C886.0 404.6 887.0 403.7 888.6 404.4 C890.2 405.1 891.3 409.2 894.1 409.8 C896.8 410.5 901.4 408.9 905.0 408.5 C908.7 408.0 912.5 407.6 916.0 407.1 C919.4 406.6 922.1 406.0 925.5 405.7 C928.9 405.5 933.5 405.1 936.5 405.7 C939.4 406.4 942.4 408.5 943.3 409.8 C944.2 411.2 943.8 413.0 941.9 413.9 C940.1 414.9 935.8 415.3 932.4 415.3 C928.9 415.3 925.3 413.7 921.4 413.9 C917.6 414.2 913.2 416.4 909.1 416.7 C905.0 416.9 900.5 415.8 896.8 415.3 C893.2 414.9 890.1 414.6 887.2 413.9 C884.4 413.3 880.2 412.6 879.7 411.2 Z M955.6 422.0 C955.4 421.5 953.8 420.2 954.2 418.7 C954.7 417.3 957.4 416.0 958.3 413.3 C959.3 410.5 958.6 405.3 959.7 402.3 C960.8 399.4 962.9 397.3 965.2 395.5 C967.5 393.7 970.2 392.3 973.4 391.4 C976.6 390.5 980.7 390.0 984.3 390.0 C988.0 390.0 992.5 390.5 995.3 391.4 C998.0 392.3 999.5 394.1 1000.7 395.5 C1002.0 396.8 1002.2 398.0 1002.8 399.6 C1003.3 401.2 1004.6 403.7 1004.0 405.1 C1003.4 406.4 1001.0 406.0 999.4 407.8 C997.7 409.6 995.9 413.9 993.9 416.0 C991.8 418.0 989.1 419.1 987.1 420.1 C985.0 421.1 982.5 421.7 981.6 422.0 M951.5 290.2 C952.6 290.4 956.1 290.7 958.3 291.6 C960.6 292.5 963.4 294.5 965.2 295.7 C967.0 296.8 969.3 297.5 969.3 298.4 C969.3 299.3 965.9 300.7 965.2 301.1 M987.1 303.2 L995.3 307.3 L987.1 309.3 Z M132.2 410.0 C133.5 411.0 137.0 413.8 139.8 416.2 C142.5 418.8 145.4 421.9 148.5 425.0 C151.6 428.1 155.2 432.1 158.5 435.0 C161.8 437.9 165.6 439.8 168.5 442.5 C171.4 445.2 173.5 448.1 176.0 451.2 C178.5 454.4 180.6 457.5 183.5 461.2 C186.4 465.0 190.8 470.0 193.5 473.8 C196.2 477.5 197.9 480.2 199.8 483.8 C201.6 487.3 203.3 490.8 204.8 495.0 C206.2 499.2 206.6 505.0 208.5 508.8 C210.4 512.5 214.4 514.6 216.0 517.5 C217.6 520.4 217.0 523.5 217.9 526.2 C218.7 529.0 220.1 531.9 221.0 533.8 C221.9 535.6 223.0 536.6 223.4 537.1 M96.0 479.4 C96.8 480.3 98.9 482.4 101.0 485.0 C103.1 487.6 106.2 491.2 108.5 495.0 C110.8 498.8 112.7 502.9 114.8 507.5 C116.8 512.1 119.0 517.4 121.0 522.5 C123.0 527.6 126.0 535.4 127.0 538.0 M286.2 410.0 C286.4 411.2 287.2 415.2 287.8 417.5 C288.3 419.8 288.8 422.3 289.6 423.8 C290.5 425.2 292.4 425.2 292.8 426.2 C293.1 427.3 292.1 429.0 291.5 430.0 C290.9 431.0 288.6 431.5 289.0 432.5 C289.4 433.5 291.9 435.1 294.0 436.2 C296.1 437.4 298.8 438.5 301.5 439.4 C304.2 440.2 307.9 440.1 310.2 441.2 C312.6 442.4 314.7 444.0 315.9 446.2 C317.0 448.5 315.8 452.9 317.1 455.0 C318.5 457.1 321.2 457.5 324.0 458.8 C326.8 460.0 330.7 461.9 334.0 462.5 C337.3 463.1 341.0 462.2 344.0 462.5 C347.0 462.8 350.7 464.1 352.0 464.4 M352.0 464.4 C352.8 464.9 354.9 466.2 357.0 467.5 C359.1 468.8 362.2 471.1 364.5 471.9 C366.8 472.6 368.5 471.4 370.8 471.9 C373.0 472.4 376.2 473.6 378.2 475.0 C380.3 476.4 381.5 478.9 383.2 480.0 C385.0 481.1 387.3 482.0 388.9 481.9 C390.4 481.8 391.7 480.5 392.6 479.4 C393.6 478.2 393.8 475.7 394.5 475.0 C395.2 474.3 396.5 474.4 397.0 475.0 C397.5 475.6 396.8 478.0 397.6 478.8 C398.5 479.5 400.4 479.5 402.0 479.4 C403.6 479.3 405.1 478.3 407.0 478.1 C408.9 477.9 411.6 477.6 413.2 478.1 C414.9 478.6 415.3 481.0 417.0 481.2 C418.7 481.5 421.0 480.0 423.2 479.4 C425.5 478.8 428.5 477.5 430.8 477.5 C433.0 477.5 434.7 478.4 437.0 479.4 C439.3 480.3 442.0 482.2 444.5 483.1 C447.0 484.1 449.1 484.4 452.0 485.0 C454.9 485.6 459.1 486.0 462.0 486.9 C464.9 487.7 466.5 488.5 469.5 490.0 C472.5 491.5 478.2 494.9 480.0 495.9 M480.0 495.9 C481.2 496.4 484.4 497.3 487.5 498.8 C490.6 500.2 494.8 503.0 498.8 504.4 C502.7 505.7 507.3 506.2 511.2 506.9 C515.2 507.5 518.8 507.5 522.5 508.1 C526.2 508.8 530.0 509.7 533.8 510.6 C537.5 511.6 541.5 512.6 545.0 513.8 C548.5 514.9 551.9 516.0 555.0 517.5 C558.1 519.0 560.8 520.8 563.8 522.5 C566.7 524.2 569.4 526.2 572.5 527.5 C575.6 528.8 579.2 529.3 582.5 530.0 C585.8 530.7 588.2 530.9 592.5 531.9 C596.8 532.9 605.4 535.3 608.0 535.9 M604.4 410.0 C604.5 411.0 604.4 414.4 605.0 416.2 C605.6 418.1 607.5 420.4 608.0 421.2 M608.0 421.2 C609.2 421.1 613.0 421.0 615.5 420.6 C618.0 420.2 620.5 419.6 623.0 418.8 C625.5 417.9 628.5 416.7 630.5 415.6 C632.5 414.6 634.1 413.4 634.9 412.5 C635.7 411.6 635.1 410.4 635.2 410.0 M720.5 538.0 C721.1 537.6 722.8 536.0 724.2 535.6 C725.7 535.2 728.0 535.2 729.2 535.6 C730.5 536.0 731.4 537.6 731.8 538.0 M608.0 535.9 C608.8 536.1 611.8 536.5 613.0 536.9 C614.2 537.2 614.6 537.8 614.9 538.0 M799.8 538.0 C799.9 537.1 800.4 534.5 800.4 532.5 C800.4 530.5 799.2 527.8 799.8 526.2 C800.3 524.7 801.8 524.5 803.5 523.1 C805.2 521.8 807.5 519.3 809.8 518.1 C812.0 517.0 815.0 517.3 817.2 516.2 C819.5 515.2 821.4 512.6 823.5 511.9 C825.6 511.1 827.9 511.5 829.8 511.9 C831.6 512.3 833.3 513.3 834.8 514.4 C836.2 515.4 836.6 517.1 838.5 518.1 C840.4 519.2 843.3 520.0 846.0 520.6 C848.7 521.2 852.1 521.7 854.8 521.9 C857.4 522.1 860.1 521.4 861.6 521.9 C863.2 522.3 863.6 524.1 864.0 524.6 M880.4 411.4 C882.2 411.9 887.2 413.9 891.3 414.8 C895.4 415.7 900.5 417.1 905.0 416.8 C909.6 416.6 914.6 413.6 918.7 413.4 C922.8 413.2 926.0 415.0 929.6 415.5 C933.3 415.9 936.9 416.6 940.6 416.2 C944.2 415.7 949.1 413.8 951.5 412.7 C953.9 411.7 954.4 410.5 954.9 410.0 M1000.7 410.0 C999.8 410.9 997.5 413.9 995.3 415.5 C993.0 417.1 989.8 418.4 987.1 419.6 C984.3 420.7 982.0 420.9 978.8 422.3 C975.7 423.7 970.6 426.1 967.9 427.8 C965.2 429.5 962.9 431.3 962.4 432.6 C962.0 433.8 963.4 434.7 965.2 435.3 C967.0 435.9 971.3 435.0 973.4 436.0 C975.4 437.0 977.3 439.2 977.5 441.4 C977.7 443.7 975.9 447.1 974.7 449.6 C973.6 452.2 971.6 454.2 970.6 456.5 C969.7 458.8 970.6 461.0 969.3 463.3 C967.9 465.6 964.9 468.1 962.4 470.2 C959.9 472.2 957.0 474.1 954.2 475.6 C951.5 477.1 948.8 478.2 946.0 479.0 C943.3 479.8 940.6 480.4 937.8 480.4 C935.1 480.4 931.9 479.8 929.6 479.0 C927.3 478.2 925.5 477.1 924.2 475.6 C922.8 474.1 922.6 472.0 921.4 470.2 C920.3 468.3 918.0 466.7 917.3 464.7 C916.6 462.6 916.4 459.9 917.3 457.9 C918.2 455.8 920.7 453.9 922.8 452.4 C924.8 450.9 927.6 449.2 929.6 449.0 C931.7 448.7 933.3 450.7 935.1 451.0 C936.9 451.4 938.7 451.9 940.6 451.0 C942.4 450.1 944.3 447.4 946.0 445.5 C947.7 443.7 950.1 441.8 950.8 440.1 C951.5 438.4 950.7 436.9 950.1 435.3 C949.6 433.7 947.4 432.2 947.4 430.5 C947.4 428.8 949.0 426.9 950.1 425.0 C951.3 423.2 953.4 421.4 954.2 419.6 C955.0 417.7 954.8 415.7 954.9 414.1 C955.0 412.5 954.9 410.7 954.9 410.0 M900.2 468.8 C900.7 467.7 902.2 467.2 903.6 467.4 C905.1 467.7 907.1 469.0 909.1 470.2 C911.2 471.3 913.9 473.0 916.0 474.3 C918.0 475.5 920.3 476.3 921.4 477.7 C922.6 479.0 922.3 481.0 922.8 482.5 C923.2 483.9 924.6 485.0 924.2 486.6 C923.7 488.2 921.0 490.4 920.1 492.0 C919.1 493.6 918.2 494.8 918.7 496.1 C919.1 497.5 921.2 499.4 922.8 500.2 C924.4 501.0 926.4 501.5 928.3 500.9 C930.1 500.4 931.9 497.6 933.7 496.8 C935.6 496.0 938.1 495.1 939.2 496.1 C940.3 497.2 940.8 500.9 940.6 503.0 C940.3 505.0 939.7 507.1 937.8 508.4 C936.0 509.8 932.4 510.5 929.6 511.2 C926.9 511.9 924.4 512.7 921.4 512.5 C918.5 512.4 914.8 510.6 911.9 510.5 C908.9 510.4 906.2 512.0 903.6 511.9 C901.1 511.7 898.2 511.1 896.8 509.8 C895.4 508.6 896.4 505.3 895.4 504.3 C894.5 503.4 892.9 504.0 891.3 504.3 C889.7 504.7 887.7 506.2 885.9 506.4 C884.1 506.6 882.0 507.0 880.4 505.7 C878.8 504.5 876.9 500.9 876.3 498.9 C875.7 496.8 876.1 494.8 877.0 493.4 C877.9 492.0 879.4 491.5 881.8 490.7 C884.2 489.9 888.4 489.6 891.3 488.6 C894.3 487.6 897.5 486.0 899.5 484.5 C901.6 483.0 903.4 481.4 903.6 479.7 C903.9 478.0 901.5 476.1 900.9 474.3 C900.3 472.4 899.8 469.9 900.2 468.8 Z M950.8 501.6 C951.0 500.6 952.8 498.4 954.2 497.5 C955.7 496.6 958.5 495.9 959.7 496.1 C961.0 496.4 962.0 497.7 961.8 498.9 C961.5 500.0 959.8 502.2 958.3 503.0 C956.9 503.8 954.1 503.9 952.9 503.7 C951.6 503.4 950.6 502.6 950.8 501.6 Z M1004.0 490.7 C1002.5 490.7 998.1 490.6 995.3 490.7 C992.4 490.8 990.0 491.1 987.1 491.4 C984.1 491.6 979.8 490.8 977.5 492.0 C975.2 493.3 973.9 496.4 973.4 498.9 C972.8 501.4 972.7 505.9 974.1 507.1 C975.4 508.2 979.0 506.0 981.6 505.7 C984.2 505.4 988.0 504.6 989.8 505.0 C991.6 505.5 990.7 507.4 992.5 508.4 C994.3 509.5 998.8 510.7 1000.7 511.2 C1002.6 511.6 1003.5 511.2 1004.0 511.2 M864.0 524.6 C864.9 524.3 867.9 523.0 869.5 522.8 C871.1 522.6 873.1 522.7 873.6 523.5 C874.0 524.3 871.7 526.3 872.2 527.6 C872.7 528.8 874.3 530.3 876.3 531.0 C878.4 531.7 881.5 531.8 884.5 531.7 C887.5 531.6 891.3 530.5 894.1 530.3 C896.8 530.1 900.2 529.9 900.9 530.3 C901.6 530.8 900.1 531.8 898.2 533.1 C896.3 534.3 891.0 536.8 889.6 537.6 M1004.0 522.1 C1003.6 522.8 1001.4 525.1 1001.4 526.2 C1001.4 527.4 1003.6 528.5 1004.0 528.9 M127.0 538.0 C127.7 539.9 130.4 545.1 131.6 549.4 C132.9 553.7 133.9 558.9 134.2 563.7 C134.5 568.4 134.1 573.2 133.4 577.9 C132.6 582.7 131.0 587.9 129.5 592.2 C128.0 596.5 126.2 600.5 124.5 603.6 C122.9 606.7 121.0 609.2 119.5 610.7 C118.1 612.3 116.7 611.8 116.0 612.9 C115.2 613.9 116.0 615.8 115.2 617.1 C114.5 618.4 113.0 620.2 111.7 620.7 C110.4 621.2 108.7 619.5 107.4 620.0 C106.1 620.5 105.0 623.7 103.8 623.5 C102.7 623.4 101.2 620.7 100.3 619.3 C99.3 617.8 98.6 616.7 98.1 615.0 C97.7 613.3 97.0 610.9 97.4 609.3 C97.9 607.6 99.7 606.4 101.0 605.0 C102.3 603.6 105.1 602.4 105.3 600.7 C105.4 599.1 102.9 596.7 101.7 595.0 C100.5 593.4 98.7 591.5 98.1 590.8 M223.4 537.1 C224.3 538.5 226.8 542.6 228.6 545.1 C230.4 547.7 232.6 549.6 234.3 552.3 C236.0 554.9 237.3 558.0 238.6 560.8 C239.9 563.7 241.4 567.9 242.0 569.4 M234.3 677.0 C234.3 676.0 235.9 674.8 237.1 674.6 C238.4 674.3 241.2 674.6 242.0 675.6 C242.8 676.6 242.8 679.7 242.0 680.6 C241.2 681.4 238.4 681.2 237.1 680.6 C235.9 680.0 234.3 678.0 234.3 677.0 Z M101.7 607.1 L104.3 606.7 L103.8 609.3 Z M224.0 538.7 C225.0 540.0 227.6 543.6 229.7 546.6 C231.8 549.5 234.8 553.0 236.8 556.5 C238.9 560.1 240.8 564.3 241.8 567.9 C242.9 571.6 242.2 576.7 243.2 578.6 C244.3 580.5 246.8 579.5 248.2 579.3 C249.7 579.2 250.6 577.0 251.8 577.9 C253.0 578.9 253.1 582.2 255.4 585.0 C257.6 587.9 261.5 591.0 265.3 595.0 C269.1 599.1 274.6 605.8 278.2 609.3 C281.7 612.7 283.6 613.4 286.7 615.7 C289.8 618.0 293.9 620.2 296.7 622.8 C299.6 625.4 301.2 630.0 303.8 631.4 C306.5 632.8 309.5 629.4 312.4 631.4 C315.2 633.4 318.1 639.8 320.9 643.5 C323.8 647.2 326.9 649.7 329.5 653.5 C332.1 657.3 334.3 662.8 336.6 666.3 C339.0 669.9 340.9 672.1 343.8 674.9 C346.6 677.6 352.1 681.4 353.7 682.7 M295.3 639.9 L297.4 637.1 L299.6 639.9 L297.4 642.8 Z M234.0 677.0 C234.2 675.9 235.5 674.3 236.8 674.2 C238.1 674.0 240.8 675.5 241.8 676.3 C242.9 677.1 243.6 678.3 243.2 679.1 C242.9 680.0 241.0 681.0 239.7 681.3 C238.4 681.5 236.4 681.3 235.4 680.6 C234.5 679.9 233.7 678.1 234.0 677.0 Z M614.9 538.0 C616.0 538.2 619.5 539.3 621.5 539.4 C623.5 539.5 625.8 538.2 627.2 538.7 C628.6 539.2 628.9 540.7 630.1 542.3 C631.2 543.8 632.4 546.3 634.3 548.0 C636.2 549.6 638.6 551.1 641.5 552.3 C644.3 553.4 648.0 554.3 651.4 555.1 C654.9 555.9 660.2 556.6 662.0 556.9 M662.0 627.8 C661.4 627.6 660.3 626.4 658.6 626.4 C656.8 626.4 653.2 627.0 651.4 627.8 C649.7 628.7 648.2 630.4 647.9 631.4 C647.5 632.4 648.5 633.2 649.3 633.8 C650.1 634.4 651.3 635.2 652.9 634.9 C654.4 634.7 657.1 633.0 658.6 632.1 C660.1 631.1 661.4 629.7 662.0 629.2 M662.0 556.9 C663.4 557.2 667.5 558.3 670.6 558.7 C673.6 559.1 677.2 559.6 680.5 559.4 C683.9 559.1 687.2 558.3 690.5 557.2 C693.8 556.2 697.4 554.6 700.5 553.0 C703.6 551.3 706.4 549.2 709.0 547.3 C711.7 545.4 714.3 543.1 716.2 541.6 C718.1 540.0 719.8 538.6 720.5 538.0 M731.8 538.0 C732.5 538.5 734.0 540.1 736.1 540.9 C738.3 541.6 741.8 541.8 744.7 542.3 C747.5 542.8 750.4 543.2 753.2 543.7 C756.1 544.2 758.7 544.8 761.8 545.1 C764.9 545.5 769.2 545.4 771.8 545.8 C774.4 546.3 776.3 546.9 777.5 548.0 C778.7 549.0 779.4 550.8 778.9 552.3 C778.4 553.7 776.3 555.3 774.6 556.5 C773.0 557.7 770.0 558.7 768.9 559.4 C767.9 560.1 767.0 560.6 768.2 560.8 C769.4 561.0 773.3 561.3 776.1 560.8 C778.8 560.3 782.2 559.1 784.6 558.0 C787.0 556.8 789.2 555.3 790.3 553.7 C791.4 552.0 790.6 549.6 791.0 548.0 C791.5 546.3 792.3 544.5 793.2 543.7 C794.0 542.9 795.1 542.5 796.0 543.0 C797.0 543.5 798.0 545.4 798.9 546.6 C799.7 547.7 800.1 549.9 801.0 550.1 C802.0 550.4 803.4 548.8 804.6 548.0 C805.7 547.1 807.4 545.6 808.0 545.1 M808.0 554.8 C807.2 555.0 804.7 555.5 803.1 556.5 C801.6 557.5 800.5 559.4 798.9 560.8 C797.2 562.2 795.3 563.9 793.2 565.1 C791.0 566.3 788.1 566.9 786.0 567.9 C784.0 569.0 782.0 570.1 781.0 571.5 C780.1 572.9 779.5 575.3 780.3 576.5 C781.2 577.7 785.8 577.7 786.0 578.6 C786.3 579.6 782.2 581.1 781.8 582.2 C781.3 583.3 782.0 584.9 783.2 585.0 C784.4 585.2 787.7 582.4 788.9 582.9 C790.1 583.4 789.1 586.8 790.3 587.9 C791.5 589.0 793.6 589.4 796.0 589.3 C798.4 589.2 802.6 587.7 804.6 587.2 C806.6 586.7 807.4 586.3 808.0 586.1 M698.4 590.0 C698.6 589.4 699.4 588.1 701.2 587.9 C703.0 587.7 707.4 588.1 709.0 588.6 C710.7 589.1 711.9 590.2 711.2 590.8 C710.5 591.3 706.7 592.0 704.8 592.2 C702.9 592.4 700.9 592.2 699.8 591.9 C698.7 591.5 698.1 590.7 698.4 590.0 Z M726.9 592.9 C727.8 591.9 730.6 590.2 733.3 589.3 C736.0 588.4 739.5 587.9 743.3 587.6 C747.1 587.4 752.3 587.7 756.1 587.9 C759.9 588.1 764.1 588.0 766.1 588.6 C768.1 589.2 768.9 590.7 768.2 591.5 C767.5 592.2 764.8 593.1 761.8 593.3 C758.8 593.6 754.2 592.7 750.4 592.9 C746.6 593.1 742.1 593.8 739.0 594.3 C735.9 594.9 733.7 596.1 731.9 596.2 C730.0 596.3 728.7 595.6 727.9 595.0 C727.0 594.5 726.0 593.8 726.9 592.9 Z M765.4 604.3 C765.6 603.7 768.5 602.8 770.4 602.4 C772.3 602.1 775.9 601.7 776.8 602.2 C777.6 602.6 776.7 604.6 775.3 605.3 C774.0 606.0 770.6 606.3 768.9 606.1 C767.3 606.0 765.1 604.9 765.4 604.3 Z M725.4 608.6 C725.7 607.5 726.9 605.8 729.0 605.0 C731.1 604.2 736.9 602.9 738.3 603.6 C739.7 604.3 738.4 607.9 737.6 609.3 C736.7 610.7 734.9 611.8 733.3 612.1 C731.6 612.5 728.9 612.0 727.6 611.4 C726.3 610.8 725.2 609.6 725.4 608.6 Z M696.9 619.3 C697.2 618.4 698.7 617.4 700.5 616.8 C702.3 616.3 705.0 615.7 707.6 616.1 C710.2 616.6 714.6 618.4 716.2 619.6 C717.7 620.7 717.8 622.4 716.9 623.3 C715.9 624.2 712.7 624.8 710.5 625.0 C708.2 625.2 705.2 625.0 703.3 624.5 C701.4 624.1 700.1 623.0 699.1 622.1 C698.0 621.2 696.7 620.1 696.9 619.3 Z M720.5 621.4 C720.5 620.6 721.9 618.7 723.3 618.6 C724.7 618.4 726.9 620.5 729.0 620.7 C731.1 620.9 734.4 620.7 736.1 620.0 C737.9 619.3 738.3 617.7 739.7 616.4 C741.1 615.1 742.7 613.3 744.7 612.1 C746.7 610.9 749.8 609.5 751.8 609.3 C753.8 609.0 756.1 609.6 756.8 610.7 C757.5 611.8 757.2 614.0 756.1 615.7 C755.0 617.4 752.5 619.4 750.4 620.7 C748.3 622.0 745.6 622.5 743.3 623.5 C740.9 624.6 736.9 626.0 736.1 627.1 C735.4 628.2 737.1 629.6 739.0 630.0 C740.9 630.3 744.7 629.8 747.5 629.2 C750.4 628.7 754.0 627.2 756.1 626.4 C758.2 625.6 759.7 622.6 760.4 624.3 C761.1 625.9 761.6 633.6 760.4 636.4 C759.2 639.1 755.9 639.5 753.2 640.7 C750.6 641.8 746.4 643.5 744.7 643.5 C743.0 643.5 742.8 642.0 743.3 640.7 C743.7 639.3 747.8 636.4 747.5 635.7 C747.3 634.9 744.2 635.7 741.8 636.4 C739.5 637.1 735.4 639.7 733.3 639.9 C731.1 640.2 729.5 639.1 729.0 637.8 C728.5 636.5 729.7 633.5 730.4 632.1 C731.1 630.7 733.5 630.4 733.3 629.2 C733.0 628.1 730.7 625.9 729.0 625.0 C727.3 624.0 724.7 624.1 723.3 623.5 C721.9 622.9 720.5 622.2 720.5 621.4 Z M790.3 602.9 C791.3 602.5 793.1 601.4 796.0 600.7 C799.0 600.1 806.0 599.2 808.0 598.9 M662.0 625.0 C662.8 623.9 666.6 621.8 667.7 621.4 C668.8 621.0 669.7 621.8 668.8 622.8 C668.0 623.9 663.9 627.5 662.7 627.8 C661.6 628.2 661.2 626.0 662.0 625.0 Z M793.2 682.0 C794.4 681.4 797.8 679.6 800.3 678.4 C802.8 677.2 806.7 675.5 808.0 674.9 M808.0 554.8 C809.4 554.0 813.9 551.2 816.6 550.1 C819.2 549.0 821.5 548.2 823.7 548.0 C825.8 547.7 827.7 547.7 829.4 548.7 C831.0 549.6 832.5 552.1 833.7 553.7 C834.9 555.2 835.1 556.8 836.5 558.0 C837.9 559.1 840.1 560.6 842.2 560.8 C844.4 561.0 847.0 560.3 849.3 559.4 C851.7 558.4 853.9 556.5 856.5 555.1 C859.1 553.7 862.4 552.3 865.0 550.8 C867.6 549.4 869.8 548.0 872.2 546.6 C874.5 545.1 877.1 543.5 879.3 542.3 C881.4 541.1 883.3 540.2 885.0 539.4 C886.7 538.6 888.8 537.9 889.6 537.6 M808.0 586.1 C809.2 585.5 812.8 583.2 815.1 582.2 C817.5 581.2 819.4 580.3 822.3 580.1 C825.1 579.8 829.7 580.2 832.2 580.8 C834.7 581.4 837.2 582.3 837.2 583.6 C837.2 584.9 834.3 587.1 832.2 588.6 C830.2 590.2 827.7 591.6 825.1 592.9 C822.5 594.2 819.4 595.4 816.6 596.5 C813.7 597.5 809.4 598.5 808.0 598.9 M808.0 605.0 C809.4 604.1 813.5 601.2 816.6 599.3 C819.6 597.4 823.2 595.4 826.5 593.6 C829.9 591.8 833.2 590.3 836.5 588.6 C839.8 586.9 843.4 584.8 846.5 583.6 C849.6 582.4 852.4 582.0 855.0 581.5 C857.7 581.0 861.7 580.2 862.2 580.8 C862.7 581.4 857.9 583.9 857.9 585.0 C857.9 586.2 860.5 588.1 862.2 587.9 C863.8 587.7 865.7 584.7 867.9 583.6 C870.0 582.6 872.9 581.5 875.0 581.5 C877.1 581.5 879.0 582.6 880.7 583.6 C882.4 584.7 883.8 586.4 885.0 587.9 C886.2 589.4 886.4 592.3 887.8 592.9 C889.3 593.5 891.4 591.8 893.5 591.5 C895.7 591.1 898.8 591.6 900.7 590.8 C902.6 589.9 903.3 588.1 904.9 586.5 C906.6 584.8 908.3 582.7 910.7 580.8 C913.0 578.9 916.4 577.0 919.2 575.1 C922.1 573.2 924.9 571.1 927.8 569.4 C930.6 567.6 933.5 565.8 936.3 564.4 C939.2 563.0 941.9 561.9 944.9 560.8 C947.8 559.7 952.5 558.4 954.0 558.0 M954.0 575.6 C952.9 575.5 949.7 574.8 947.7 575.1 C945.7 575.3 943.7 576.0 942.0 577.2 C940.4 578.4 939.4 580.7 937.7 582.2 C936.1 583.7 934.2 585.0 932.0 586.5 C929.9 587.9 927.0 589.1 924.9 590.8 C922.8 592.4 921.1 594.8 919.2 596.5 C917.3 598.1 915.4 599.3 913.5 600.7 C911.6 602.2 910.2 603.8 907.8 605.0 C905.4 606.2 901.9 606.9 899.2 607.9 C896.6 608.8 894.5 610.0 892.1 610.7 C889.7 611.4 887.6 611.7 885.0 612.1 C882.4 612.6 879.0 612.9 876.4 613.6 C873.8 614.3 871.1 615.2 869.3 616.4 C867.5 617.6 866.0 619.4 865.7 620.7 C865.5 622.0 866.6 623.5 867.9 624.3 C869.2 625.0 871.9 624.4 873.6 625.0 C875.2 625.6 876.8 626.5 877.9 627.8 C878.9 629.1 880.0 631.1 880.0 632.8 C880.0 634.5 879.4 636.3 877.9 637.8 C876.3 639.3 873.1 640.7 870.7 642.1 C868.4 643.5 865.5 644.7 863.6 646.4 C861.7 648.0 860.5 650.4 859.3 652.1 C858.1 653.7 858.1 655.1 856.5 656.3 C854.8 657.5 851.2 658.0 849.3 659.2 C847.4 660.4 846.7 662.2 845.1 663.5 C843.4 664.8 840.8 665.6 839.4 667.0 C837.9 668.5 838.2 670.7 836.5 672.0 C834.9 673.3 832.2 674.3 829.4 674.9 C826.5 675.5 823.0 675.6 819.4 675.6 C815.8 675.6 809.9 675.0 808.0 674.9 M817.3 667.7 C817.6 666.9 818.9 665.2 820.1 664.9 C821.3 664.5 823.6 665.0 824.4 665.6 C825.2 666.2 825.6 667.6 825.1 668.5 C824.6 669.3 822.7 670.4 821.5 670.6 C820.4 670.8 818.7 670.4 818.0 669.9 C817.3 669.4 816.9 668.6 817.3 667.7 Z M847.2 667.0 C847.7 666.2 849.0 665.2 850.8 664.2 C852.6 663.1 856.8 660.6 857.9 660.6 C859.0 660.6 858.1 663.0 857.2 664.2 C856.2 665.4 853.7 667.0 852.2 667.7 C850.7 668.5 848.8 669.0 847.9 668.9 C847.1 668.8 846.7 667.8 847.2 667.0 Z M833.7 632.1 C834.0 631.1 835.2 629.6 836.5 629.2 C837.8 628.9 840.6 629.2 841.5 630.0 C842.5 630.7 842.8 632.6 842.2 633.5 C841.6 634.5 839.2 635.4 837.9 635.7 C836.6 635.9 835.1 635.5 834.4 634.9 C833.7 634.4 833.3 633.0 833.7 632.1 Z M840.1 623.5 C839.4 622.6 842.1 620.9 843.6 620.7 C845.2 620.5 848.6 621.2 849.3 622.1 C850.1 623.1 849.5 626.2 847.9 626.4 C846.4 626.6 840.8 624.5 840.1 623.5 Z M821.5 632.8 L824.4 632.8 L823.0 630.4 Z M954.0 558.0 C955.6 558.0 960.0 558.2 963.5 558.2 C967.0 558.2 971.1 558.2 974.9 558.0 C978.7 557.7 983.2 557.2 986.3 556.5 C989.4 555.8 991.5 554.9 993.4 553.7 C995.3 552.5 996.0 550.7 997.7 549.4 C999.5 548.1 1002.9 546.4 1004.0 545.8 M954.0 575.6 C954.6 575.8 956.2 576.8 957.8 577.2 C959.4 577.6 961.1 578.2 963.5 577.9 C965.9 577.7 969.2 576.6 972.1 575.8 C974.9 574.9 977.8 573.8 980.6 572.9 C983.5 572.1 986.3 571.4 989.2 570.8 C992.0 570.2 995.2 569.8 997.7 569.4 C1000.2 568.9 1002.9 568.4 1004.0 568.2" fill="none" stroke="#0000F0" stroke-width="1.35" stroke-linejoin="round" stroke-linecap="round"/>
<!--CITIES--><g id="clabels">
<rect x="104.0" y="245.2" width="54.5" height="25.2" fill="none" stroke="#4a4aff" stroke-width="0.7"/>
<text x="131.2" y="265.5" font-size="21.5" fill="#0000F0" text-anchor="middle">1020</text>
<rect x="802.2" y="173.1" width="55.2" height="25.4" fill="none" stroke="#4a4aff" stroke-width="0.7"/>
<text x="829.9" y="193.5" font-size="21.5" fill="#0000F0" text-anchor="middle">1020</text>
<rect x="276.5" y="427.2" width="54.4" height="25.9" fill="none" stroke="#4a4aff" stroke-width="0.7"/>
<text x="303.7" y="448.1" font-size="21.5" fill="#0000F0" text-anchor="middle">1020</text>
<rect x="931.0" y="298.0" width="54.7" height="25.0" fill="none" stroke="#4a4aff" stroke-width="0.7"/>
<text x="958.4" y="318.0" font-size="21.5" fill="#0000F0" text-anchor="middle">1020</text>
<rect x="850.8" y="531.5" width="54.9" height="25.0" fill="none" stroke="#4a4aff" stroke-width="0.7"/>
<text x="878.2" y="551.5" font-size="21.5" fill="#0000F0" text-anchor="middle">1020</text>
<rect x="834.8" y="587.2" width="54.5" height="24.9" fill="none" stroke="#4a4aff" stroke-width="0.7"/>
<text x="862.0" y="607.1" font-size="21.5" fill="#0000F0" text-anchor="middle">1020</text>
<rect x="760.4" y="617.1" width="54.0" height="24.9" fill="none" stroke="#4a4aff" stroke-width="0.7"/>
<text x="787.4" y="637.0" font-size="21.5" fill="#0000F0" text-anchor="middle">1020</text>
</g>
<g id="cities">
<circle cx="232.1" cy="285.1" r="3.6" fill="#000"/>
<text x="237.3" y="288.4" font-size="10.2" fill="#111">Uralsk</text>
<circle cx="349.6" cy="334.2" r="3.6" fill="#000"/>
<text x="354.8" y="337.6" font-size="10.2" fill="#111">Aktobe</text>
<circle cx="489.8" cy="248.6" r="3.6" fill="#000"/>
<text x="494.9" y="251.9" font-size="10.2" fill="#111">Kostanay</text>
<circle cx="598.1" cy="198.8" r="3.6" fill="#000"/>
<text x="603.3" y="202.1" font-size="10.2" fill="#111">Petropavlovsk</text>
<circle cx="605.2" cy="245.9" r="3.6" fill="#000"/>
<text x="610.4" y="249.2" font-size="10.2" fill="#111">Kokshetau</text>
<circle cx="759.5" cy="266.1" r="3.6" fill="#000"/>
<text x="764.7" y="269.4" font-size="10.2" fill="#111">Pavlodar</text>
<circle cx="689.5" cy="357.4" r="3.6" fill="#000"/>
<text x="694.7" y="360.7" font-size="10.2" fill="#111">Karaganda</text>
<circle cx="892.0" cy="321.0" r="3.6" fill="#000"/>
<text x="897.2" y="324.3" font-size="10.2" fill="#111">Ustkamen</text>
<circle cx="216.0" cy="420.6" r="3.6" fill="#000"/>
<text x="221.2" y="423.9" font-size="10.2" fill="#111">Atyrau</text>
<circle cx="177.9" cy="528.8" r="3.6" fill="#000"/>
<text x="183.1" y="532.0" font-size="10.2" fill="#111">Aktau</text>
<circle cx="574.4" cy="429.8" r="3.6" fill="#000"/>
<text x="579.6" y="433.1" font-size="10.2" fill="#111">Zheskazgan</text>
<circle cx="523.8" cy="529.8" r="3.6" fill="#000"/>
<text x="529.0" y="533.0" font-size="10.2" fill="#111">Kyzylorda</text>
<circle cx="827.0" cy="502.1" r="3.6" fill="#000"/>
<text x="832.2" y="505.4" font-size="10.2" fill="#111">Taldykurgan</text>
<circle cx="626.5" cy="611.9" r="3.6" fill="#000"/>
<text x="631.7" y="615.2" font-size="10.2" fill="#111">Shimkent</text>
<circle cx="664.9" cy="589.6" r="3.6" fill="#000"/>
<text x="670.1" y="592.9" font-size="10.2" fill="#111">Taraz</text>
<polygon points="649.9,307.8 651.3,311.7 655.4,311.8 652.2,314.3 653.3,318.3 649.9,316.0 646.5,318.3 647.6,314.3 644.4,311.8 648.5,311.7" fill="#fff" stroke="#FF0000" stroke-width="1.3"/>
<text x="656.1" y="317.4" font-size="12" font-weight="bold" fill="#000">Astana</text>
<polygon points="800.0,561.0 801.4,564.9 805.5,565.0 802.3,567.5 803.4,571.5 800.0,569.2 796.6,571.5 797.7,567.5 794.5,565.0 798.6,564.9" fill="#fff" stroke="#FF0000" stroke-width="1.3"/>
<text x="806.2" y="570.6" font-size="12" font-weight="bold" fill="#000">Almaty</text>
</g><!--/CITIES-->
</g>
<!-- frame -->
<rect x="97.5" y="155.5" width="906" height="527" fill="none" stroke="#333" stroke-width="1"/>
<g stroke="#000" stroke-width="1">
<path d="M116.5 683V697M249.5 683V697M380.5 683V697M508.5 683V697M637.5 683V697M766.5 683V697M897.5 683V697"/>
<path d="M80 223.5H97M80 293.5H97M80 361.5H97M80 431.5H97M80 499.5H97M80 569.5H97M80 638.5H97"/>
</g>
<g font-size="21" fill="#000" text-anchor="middle">
<text x="116" y="731">50°E</text><text x="249" y="731">55°E</text><text x="380" y="731">60°E</text><text x="508" y="731">65°E</text><text x="637" y="731">70°E</text><text x="766" y="731">75°E</text><text x="897" y="731">80°E</text>
</g>
<g font-size="21" fill="#000" text-anchor="end">
<text x="67" y="231">52°N</text><text x="67" y="301">50°N</text><text x="67" y="369">48°N</text><text x="67" y="439">46°N</text><text x="67" y="507">44°N</text><text x="67" y="577">42°N</text><text x="67" y="646">40°N</text>
</g>
<text x="96" y="49" font-size="21">KAZHYDROMET REAL-TIME WRF</text>
<text x="1004" y="47" font-size="14" text-anchor="end">Init: 2026-03-20_00:00:00</text>
<text x="101" y="121" font-size="14" xml:space="preserve">surface air temperature   (C)</text>
<text x="101" y="136" font-size="14" xml:space="preserve">Sea Level Pressure   (hPa)</text>
<!-- colorbar -->
<text x="550" y="793" font-size="17.5" text-anchor="middle">surface air temperature (C)</text>
<g stroke="#000" stroke-width="0.7">
<rect x="260" y="804" width="83" height="28" fill="#4B0082"/>
<rect x="343" y="804" width="83" height="28" fill="#663399"/>
<rect x="426" y="804" width="83" height="28" fill="#003399"/>
<rect x="509" y="804" width="82.5" height="28" fill="#3399FF"/>
<rect x="591.5" y="804" width="83" height="28" fill="#C8E6FF"/>
<rect x="674.5" y="804" width="83" height="28" fill="#FFFFFF"/>
<rect x="757.5" y="804" width="83" height="28" fill="#FFFFC8"/>
</g>
<g font-size="13.5" text-anchor="middle">
<text x="343" y="864">-20</text><text x="426" y="864">-15</text><text x="509" y="864">-10</text><text x="591.5" y="864">-5</text><text x="674.5" y="864">0</text><text x="757.5" y="864">5</text>
</g>
</svg>
</body></html>
